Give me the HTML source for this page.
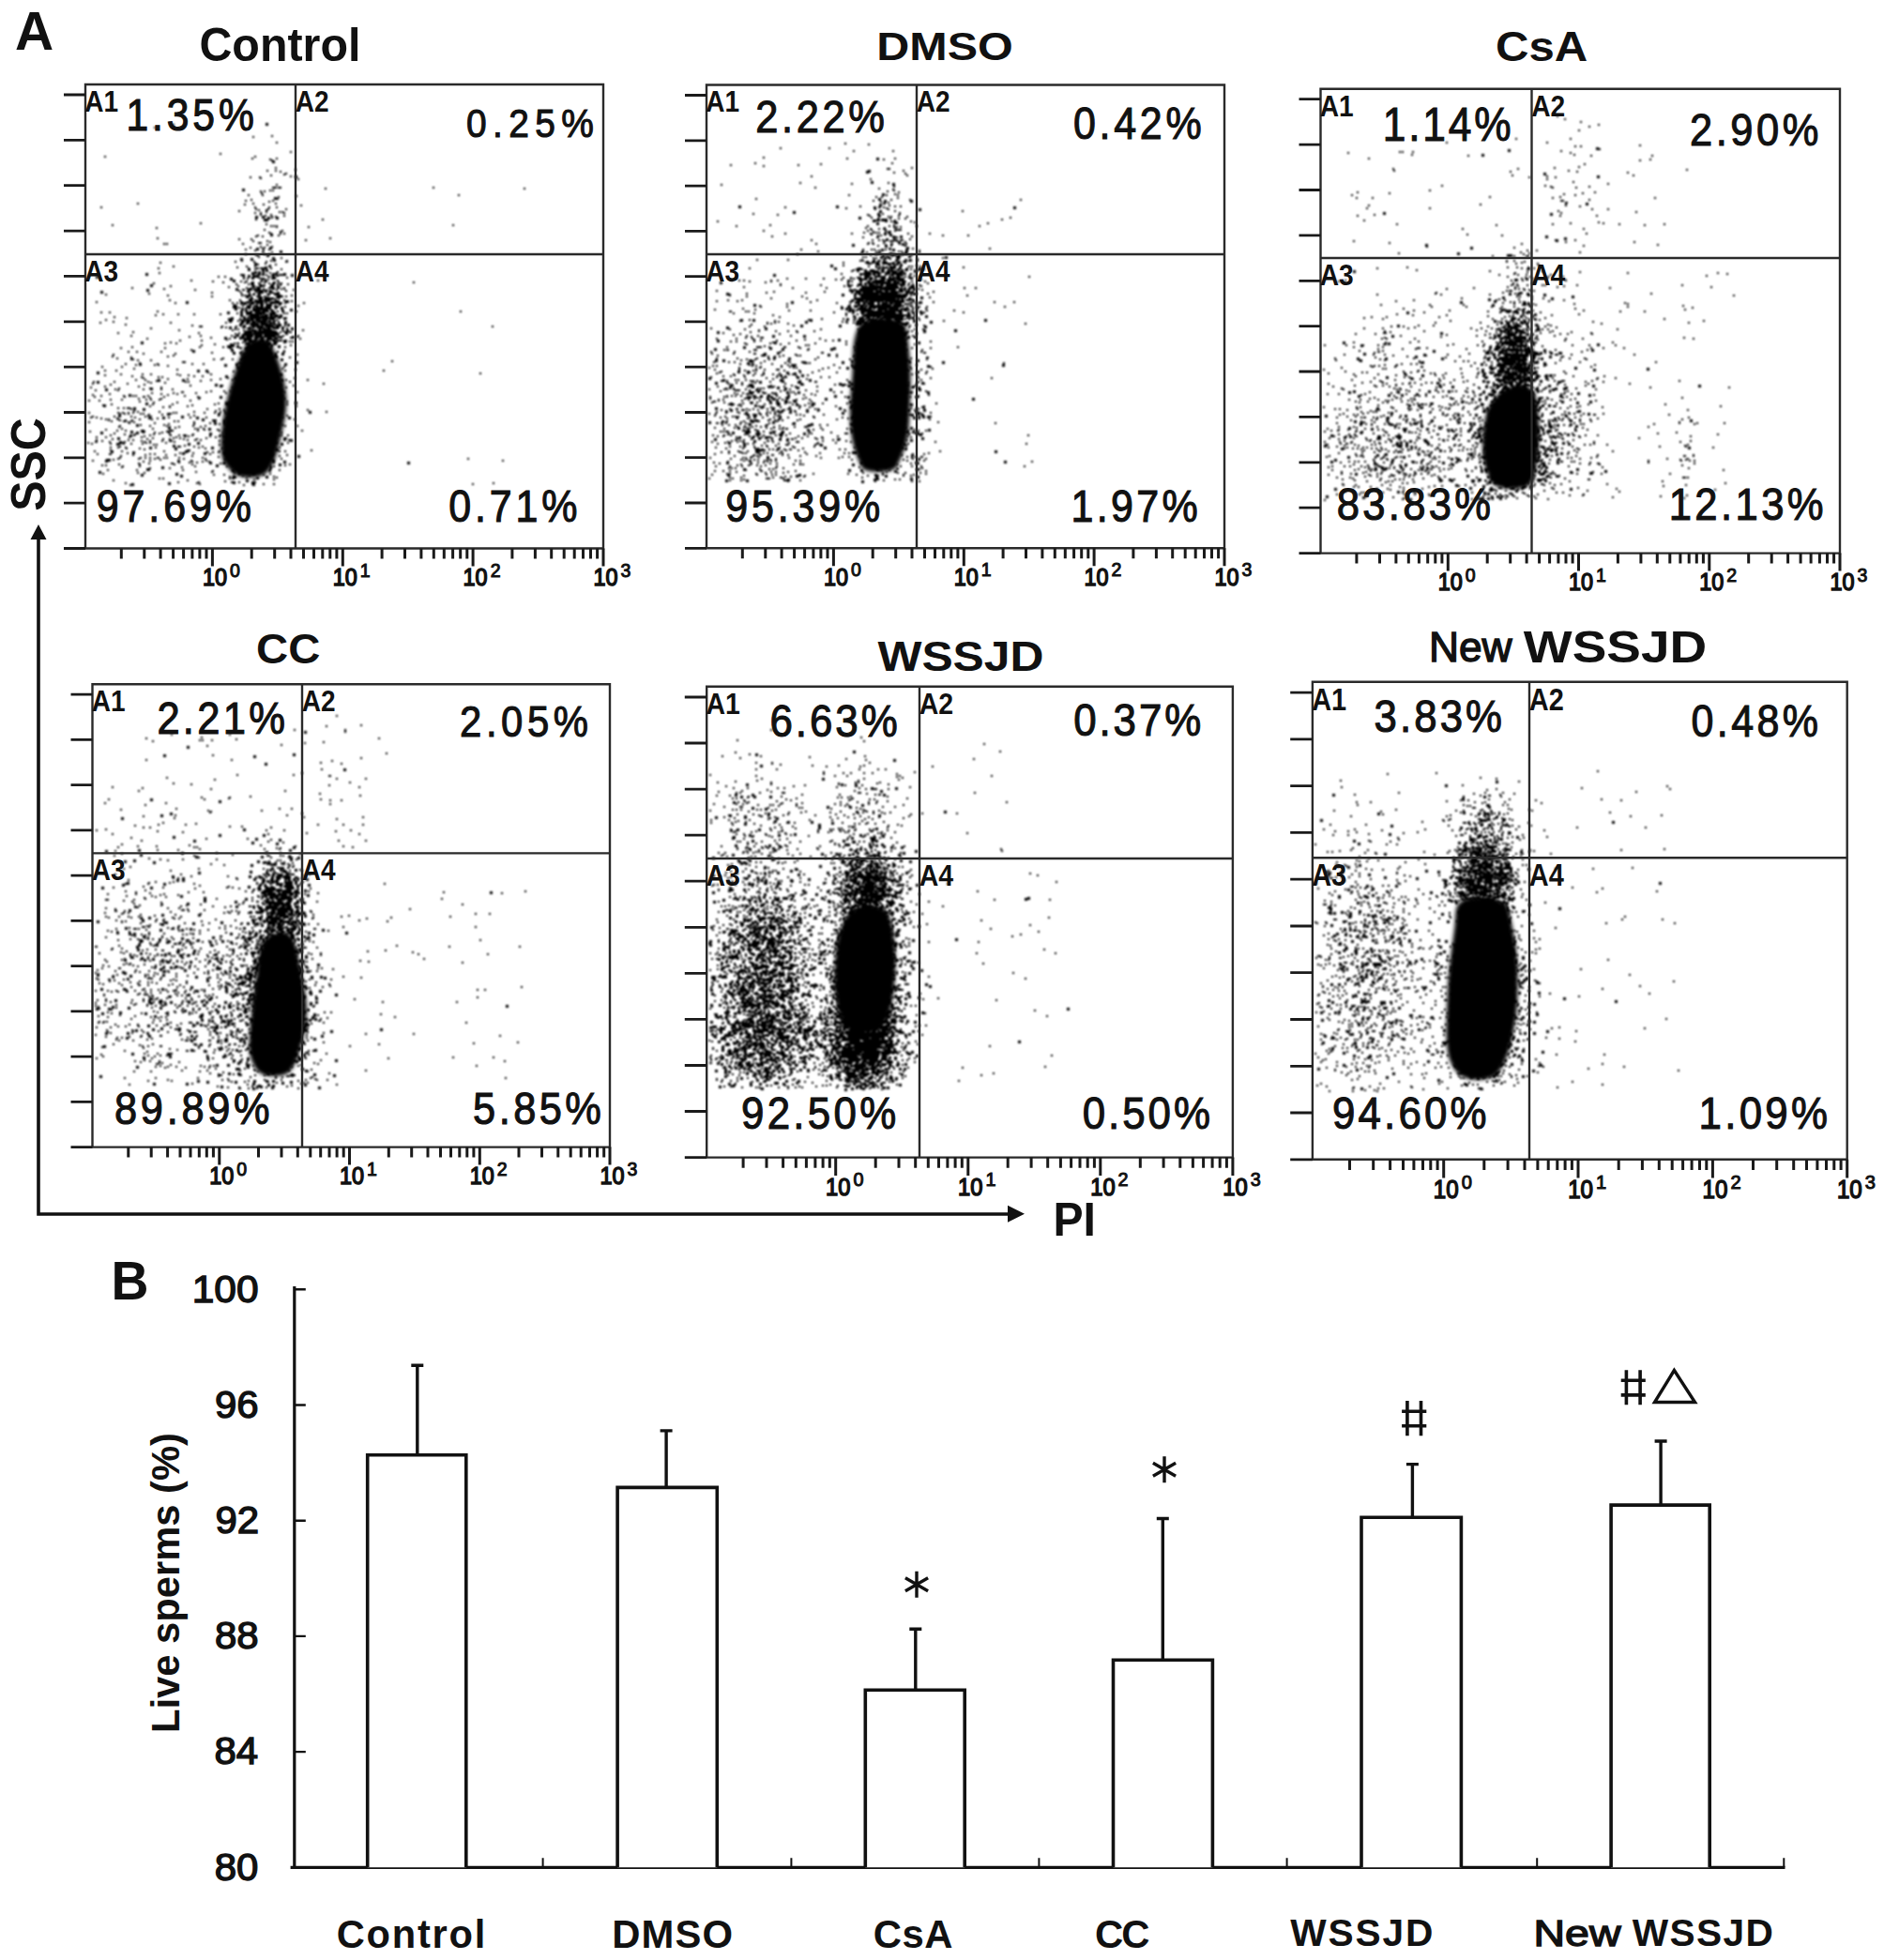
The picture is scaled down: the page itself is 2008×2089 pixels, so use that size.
<!DOCTYPE html>
<html><head><meta charset="utf-8"><style>
html,body{margin:0;padding:0;background:#fff;}
svg{display:block;}
text{font-family:"Liberation Sans",sans-serif;}
</style></head><body>
<svg width="2008" height="2089" viewBox="0 0 2008 2089">
<rect width="2008" height="2089" fill="#fff"/>
<defs><filter id="bl" x="-5%" y="-5%" width="110%" height="110%"><feGaussianBlur stdDeviation="1"/></filter><filter id="bl2" x="-20%" y="-20%" width="140%" height="140%"><feGaussianBlur stdDeviation="2.2"/></filter></defs>
<text x="16.1" y="52.5" font-size="56.81" font-weight="bold" textLength="41.2" lengthAdjust="spacingAndGlyphs" fill="#111">A</text>
<path d="M41 572V1294H1076" fill="none" stroke="#111" stroke-width="3.6"/>
<path d="M41 559L32.5 575H49.5Z M1092 1293.8L1074 1284.8V1302.8Z" fill="#111"/>
<text transform="translate(48.2,544.8) rotate(-90)" font-size="51" font-weight="bold" fill="#111" textLength="99.5" lengthAdjust="spacingAndGlyphs">SSC</text>
<text x="1122.4" y="1316.9" font-size="50.58" font-weight="bold" textLength="45.5" lengthAdjust="spacingAndGlyphs" fill="#111">PI</text>
<g filter="url(#bl2)"><path d="M260.5 373.5Q266 362 276.0 362.0Q286 362 291.0 373.5Q296 385 299.5 397.5Q303 410 304.0 421.5Q305 433 302.5 446.0Q300 459 297.0 471.5Q294 484 291.5 490.5Q289 497 284.0 502.5Q279 508 266.5 508.0Q254 508 248.0 502.5Q242 497 239.0 490.5Q236 484 236.5 471.5Q237 459 239.0 446.0Q241 433 244.0 421.5Q247 410 251.0 397.5Q255 385 260.5 373.5Z" fill="#000" stroke="#000" stroke-width="2"/></g><g filter="url(#bl)"><path d="M184 132h2v2h-2zm100 0h2v2h-2zm-120 3h2v2h-2zm125 9h2v2h-2zm-20 1h2v2h-2zm25 6h2v2h-2zm15 10h2v2h-2zm-75 2h2v2h-2zm-123 3h2v2h-2zm160 0h2v2h-2zm-3 2h2v2h-2zm26 0h2v2h-2zm-7 1h2v2h-2zm2 1h2v2h-2zm4 8h2v2h-2zm21 2h2v2h-2zm-30 1h2v2h-2zm9 0h2v2h-2zm5 1h2v2h-2zm6 2h2v2h-2zm-2 1h2v2h-2zm-14 1h2v2h-2zm21 1h2v2h-2zm-43 1h2v2h-2zm10 0h2v2h-2zm1 1h2v2h-2zm40 1h2v2h-2zm-23 6h2v2h-2zm-4 3h2v2h-2zm1 0h2v2h-2zm2 0h2v2h-2zm3 0h2v2h-2zm2 0h2v2h-2zm163 0h2v2h-2zm-115 1h2v2h-2zm212 0h2v2h-2zm-271 2h2v2h-2zm3 0h2v2h-2zm-13 1h2v2h-2zm4 0h2v2h-2zm-3 2h2v2h-2zm-14 2h2v2h-2zm15 0h2v2h-2zm209 0h2v2h-2zm-173 1h2v2h-2zm-19 1h2v2h-2zm-1 2h2v2h-2zm-28 1h2v2h-2zm-6 1h2v2h-2zm29 0h2v2h-2zm-4 1h2v2h-2zm-140 2h2v2h-2zm123 0h2v2h-2zm24 0h2v2h-2zm-33 1h2v2h-2zm20 0h2v2h-2zm40 1h2v2h-2zm-213 2h2v2h-2zm164 0h2v2h-2zm15 0h2v2h-2zm8 0h2v2h-2zm-22 2h2v2h-2zm13 0h2v2h-2zm19 0h2v2h-2zm-29 1h2v2h-2zm8 0h2v2h-2zm-29 1h2v2h-2zm29 1h2v2h-2zm14 0h2v2h-2zm3 0h2v2h-2zm-29 1h2v2h-2zm6 0h2v2h-2zm25 0h2v2h-2zm-25 2h2v2h-2zm11 0h2v2h-2zm-6 1h2v2h-2zm20 0h2v2h-2zm-22 1h2v2h-2zm9 0h2v2h-2zm4 0h2v2h-2zm-20 1h2v2h-2zm12 0h2v2h-2zm4 0h2v2h-2zm5 0h2v2h-2zm-22 2h2v2h-2zm71 0h2v2h-2zm-130 4h2v2h-2zm70 1h2v2h-2zm-164 1h2v2h-2zm363 0h2v2h-2zm-194 1h2v2h-2zm3 0h2v2h-2zm3 0h2v2h-2zm0 1h2v2h-2zm34 0h2v2h-2zm-162 1h2v2h-2zm115 2h2v2h-2zm19 1h2v2h-2zm-2 1h2v2h-2zm-12 1h2v2h-2zm2 1h2v2h-2zm10 0h2v2h-2zm4 0h2v2h-2zm-28 2h2v2h-2zm22 0h2v2h-2zm-24 1h2v2h-2zm7 0h2v2h-2zm-112 2h2v2h-2zm184 0h2v2h-2zm-97 1h2v2h-2zm13 0h2v2h-2zm58 1h2v2h-2zm-56 1h2v2h-2zm15 0h2v2h-2zm3 1h2v2h-2zm-12 1h2v2h-2zm2 0h2v2h-2zm-103 1h2v2h-2zm3 0h2v2h-2zm81 0h2v2h-2zm26 1h2v2h-2zm-7 2h2v2h-2zm12 0h2v2h-2zm-23 1h2v2h-2zm15 0h2v2h-2zm-2 1h2v2h-2zm-18 1h2v2h-2zm25 0h2v2h-2zm-15 1h2v2h-2zm9 0h2v2h-2zm-1 2h2v2h-2zm10 0h2v2h-2zm-28 2h2v2h-2zm20 0h2v2h-2zm5 0h2v2h-2zm-14 1h2v2h-2zm2 0h2v2h-2zm1 2h2v2h-2zm24 1h2v2h-2zm-31 1h2v2h-2zm-11 2h2v2h-2zm31 0h2v2h-2zm17 0h2v2h-2zm-55 1h2v2h-2zm20 0h2v2h-2zm13 0h2v2h-2zm21 0h2v2h-2zm1 0h2v2h-2zm-135 1h2v2h-2zm112 1h2v2h-2zm-8 1h2v2h-2zm19 0h2v2h-2zm-6 1h2v2h-2zm-103 1h2v2h-2zm78 0h2v2h-2zm9 0h2v2h-2zm15 0h2v2h-2zm1 0h2v2h-2zm-35 1h2v2h-2zm31 0h2v2h-2zm-115 1h2v2h-2zm96 0h2v2h-2zm9 0h2v2h-2zm1 0h2v2h-2zm3 0h2v2h-2zm11 0h2v2h-2zm-17 1h2v2h-2zm28 0h2v2h-2zm-28 3h2v2h-2zm24 0h2v2h-2zm-126 1h2v2h-2zm111 0h2v2h-2zm7 0h2v2h-2zm7 0h2v2h-2zm-4 1h2v2h-2zm2 0h2v2h-2zm-36 1h2v2h-2zm18 0h2v2h-2zm2 0h2v2h-2zm7 0h2v2h-2zm11 0h2v2h-2zm3 0h2v2h-2zm2 0h2v2h-2zm2 0h2v2h-2zm-32 1h2v2h-2zm2 0h2v2h-2zm18 0h2v2h-2zm5 0h2v2h-2zm1 0h2v2h-2zm-63 1h2v2h-2zm7 0h2v2h-2zm32 0h2v2h-2zm14 0h2v2h-2zm1 0h2v2h-2zm4 0h2v2h-2zm-31 1h2v2h-2zm16 0h2v2h-2zm30 0h2v2h-2zm-46 1h2v2h-2zm4 0h2v2h-2zm14 0h2v2h-2zm1 0h2v2h-2zm2 0h2v2h-2zm9 0h2v2h-2zm-10 1h2v2h-2zm3 0h2v2h-2zm3 0h2v2h-2zm-82 1h2v2h-2zm92 0h2v2h-2zm43 0h2v2h-2zm-112 1h2v2h-2zm23 0h2v2h-2zm7 0h2v2h-2zm6 0h2v2h-2zm15 0h2v2h-2zm1 0h2v2h-2zm4 0h2v2h-2zm1 0h2v2h-2zm-46 1h2v2h-2zm23 0h2v2h-2zm9 0h2v2h-2zm12 0h2v2h-2zm10 0h2v2h-2zm1 0h2v2h-2zm4 0h2v2h-2zm144 0h2v2h-2zm-277 1h2v2h-2zm112 0h2v2h-2zm11 0h2v2h-2zm4 0h2v2h-2zm9 0h2v2h-2zm-48 1h2v2h-2zm13 0h2v2h-2zm4 0h2v2h-2zm8 0h2v2h-2zm15 0h2v2h-2zm4 0h2v2h-2zm3 0h2v2h-2zm8 0h2v2h-2zm-30 1h2v2h-2zm5 0h2v2h-2zm7 0h2v2h-2zm10 0h2v2h-2zm-117 1h2v2h-2zm72 0h2v2h-2zm27 0h2v2h-2zm9 0h2v2h-2zm1 0h2v2h-2zm5 0h2v2h-2zm-52 1h2v2h-2zm30 0h2v2h-2zm-133 1h2v2h-2zm122 0h2v2h-2zm5 0h2v2h-2zm6 0h2v2h-2zm13 0h2v2h-2zm4 0h2v2h-2zm12 0h2v2h-2zm-128 1h2v2h-2zm91 0h2v2h-2zm5 0h2v2h-2zm10 0h2v2h-2zm19 0h2v2h-2zm3 0h2v2h-2zm-95 1h2v2h-2zm51 0h2v2h-2zm1 0h2v2h-2zm8 0h2v2h-2zm3 0h2v2h-2zm4 0h2v2h-2zm6 0h2v2h-2zm3 0h2v2h-2zm11 0h2v2h-2zm18 0h2v2h-2zm-58 1h2v2h-2zm20 0h2v2h-2zm4 0h2v2h-2zm8 0h2v2h-2zm2 0h2v2h-2zm16 0h2v2h-2zm-32 1h2v2h-2zm7 0h2v2h-2zm-54 1h2v2h-2zm31 0h2v2h-2zm9 0h2v2h-2zm12 0h2v2h-2zm2 0h2v2h-2zm11 0h2v2h-2zm-132 1h2v2h-2zm107 0h2v2h-2zm5 0h2v2h-2zm4 0h2v2h-2zm2 0h2v2h-2zm10 0h2v2h-2zm-174 1h2v2h-2zm145 0h2v2h-2zm12 0h2v2h-2zm1 0h2v2h-2zm6 0h2v2h-2zm8 0h2v2h-2zm2 0h2v2h-2zm8 0h2v2h-2zm-116 1h2v2h-2zm79 0h2v2h-2zm3 0h2v2h-2zm6 0h2v2h-2zm9 0h2v2h-2zm21 0h2v2h-2zm2 0h2v2h-2zm12 0h2v2h-2zm-85 1h2v2h-2zm48 0h2v2h-2zm8 0h2v2h-2zm14 0h2v2h-2zm4 0h2v2h-2zm1 0h2v2h-2zm4 0h2v2h-2zm-37 1h2v2h-2zm10 0h2v2h-2zm1 0h2v2h-2zm5 0h2v2h-2zm2 0h2v2h-2zm9 0h2v2h-2zm3 0h2v2h-2zm-29 1h2v2h-2zm8 0h2v2h-2zm2 0h2v2h-2zm4 0h2v2h-2zm2 0h2v2h-2zm2 0h2v2h-2zm2 0h2v2h-2zm2 0h2v2h-2zm6 0h2v2h-2zm-21 1h2v2h-2zm2 0h2v2h-2zm1 0h2v2h-2zm5 0h2v2h-2zm3 0h2v2h-2zm2 0h2v2h-2zm1 0h2v2h-2zm3 0h2v2h-2zm-112 1h2v2h-2zm64 0h2v2h-2zm11 0h2v2h-2zm16 0h2v2h-2zm1 0h2v2h-2zm10 0h2v2h-2zm2 0h2v2h-2zm1 0h2v2h-2zm8 0h2v2h-2zm9 0h2v2h-2zm-28 1h2v2h-2zm1 0h2v2h-2zm3 0h2v2h-2zm1 0h2v2h-2zm3 0h2v2h-2zm1 0h2v2h-2zm3 0h2v2h-2zm8 0h2v2h-2zm2 0h2v2h-2zm8 0h2v2h-2zm6 0h2v2h-2zm-208 1h2v2h-2zm154 0h2v2h-2zm6 0h2v2h-2zm1 0h2v2h-2zm6 0h2v2h-2zm3 0h2v2h-2zm5 0h2v2h-2zm1 0h2v2h-2zm10 0h2v2h-2zm7 0h2v2h-2zm-109 1h2v2h-2zm61 0h2v2h-2zm5 0h2v2h-2zm4 0h2v2h-2zm3 0h2v2h-2zm1 0h2v2h-2zm4 0h2v2h-2zm4 0h2v2h-2zm2 0h2v2h-2zm6 0h2v2h-2zm2 0h2v2h-2zm1 0h2v2h-2zm3 0h2v2h-2zm7 0h2v2h-2zm6 0h2v2h-2zm4 0h2v2h-2zm4 0h2v2h-2zm20 0h2v2h-2zm-67 1h2v2h-2zm3 0h2v2h-2zm7 0h2v2h-2zm13 0h2v2h-2zm5 0h2v2h-2zm3 0h2v2h-2zm-38 1h2v2h-2zm17 0h2v2h-2zm7 0h2v2h-2zm4 0h2v2h-2zm20 0h2v2h-2zm-49 1h2v2h-2zm10 0h2v2h-2zm6 0h2v2h-2zm6 0h2v2h-2zm2 0h2v2h-2zm5 0h2v2h-2zm6 0h2v2h-2zm9 0h2v2h-2zm25 0h2v2h-2zm-51 1h2v2h-2zm8 0h2v2h-2zm20 0h2v2h-2zm1 0h2v2h-2zm8 0h2v2h-2zm-49 1h2v2h-2zm8 0h2v2h-2zm2 0h2v2h-2zm5 0h2v2h-2zm6 0h2v2h-2zm4 0h2v2h-2zm-18 1h2v2h-2zm4 0h2v2h-2zm6 0h2v2h-2zm6 0h2v2h-2zm1 0h2v2h-2zm1 0h2v2h-2zm1 0h2v2h-2zm1 0h2v2h-2zm2 0h2v2h-2zm3 0h2v2h-2zm7 0h2v2h-2zm-21 1h2v2h-2zm11 0h2v2h-2zm5 0h2v2h-2zm-31 1h2v2h-2zm12 0h2v2h-2zm5 0h2v2h-2zm5 0h2v2h-2zm3 0h2v2h-2zm2 0h2v2h-2zm4 0h2v2h-2zm-121 1h2v2h-2zm89 0h2v2h-2zm5 0h2v2h-2zm10 0h2v2h-2zm1 0h2v2h-2zm1 0h2v2h-2zm6 0h2v2h-2zm4 0h2v2h-2zm2 0h2v2h-2zm10 0h2v2h-2zm20 0h2v2h-2zm175 0h2v2h-2zm-383 1h2v2h-2zm9 0h2v2h-2zm146 0h2v2h-2zm2 0h2v2h-2zm14 0h2v2h-2zm2 0h2v2h-2zm1 0h2v2h-2zm-29 1h2v2h-2zm20 0h2v2h-2zm2 0h2v2h-2zm2 0h2v2h-2zm2 0h2v2h-2zm2 0h2v2h-2zm7 0h2v2h-2zm2 0h2v2h-2zm13 0h2v2h-2zm3 0h2v2h-2zm-132 1h2v2h-2zm16 0h2v2h-2zm17 0h2v2h-2zm28 0h2v2h-2zm28 0h2v2h-2zm2 0h2v2h-2zm1 0h2v2h-2zm4 0h2v2h-2zm2 0h2v2h-2zm1 0h2v2h-2zm1 0h2v2h-2zm3 0h2v2h-2zm5 0h2v2h-2zm3 0h2v2h-2zm7 0h2v2h-2zm-126 1h2v2h-2zm105 0h2v2h-2zm2 0h2v2h-2zm6 0h2v2h-2zm4 0h2v2h-2zm5 0h2v2h-2zm8 0h2v2h-2zm-39 1h2v2h-2zm10 0h2v2h-2zm3 0h2v2h-2zm3 0h2v2h-2zm1 0h2v2h-2zm1 0h2v2h-2zm10 0h2v2h-2zm5 0h2v2h-2zm-168 1h2v2h-2zm138 0h2v2h-2zm1 0h2v2h-2zm4 0h2v2h-2zm1 0h2v2h-2zm1 0h2v2h-2zm7 0h2v2h-2zm2 0h2v2h-2zm4 0h2v2h-2zm3 0h2v2h-2zm2 0h2v2h-2zm15 0h2v2h-2zm-165 1h2v2h-2zm129 0h2v2h-2zm3 0h2v2h-2zm3 0h2v2h-2zm2 0h2v2h-2zm10 0h2v2h-2zm2 0h2v2h-2zm3 0h2v2h-2zm18 0h2v2h-2zm-49 1h2v2h-2zm17 0h2v2h-2zm1 0h2v2h-2zm2 0h2v2h-2zm8 0h2v2h-2zm1 0h2v2h-2zm3 0h2v2h-2zm1 0h2v2h-2zm-176 1h2v2h-2zm144 0h2v2h-2zm5 0h2v2h-2zm3 0h2v2h-2zm5 0h2v2h-2zm3 0h2v2h-2zm1 0h2v2h-2zm1 0h2v2h-2zm1 0h2v2h-2zm1 0h2v2h-2zm3 0h2v2h-2zm1 0h2v2h-2zm10 0h2v2h-2zm1 0h2v2h-2zm3 0h2v2h-2zm-41 1h2v2h-2zm4 0h2v2h-2zm2 0h2v2h-2zm4 0h2v2h-2zm1 0h2v2h-2zm8 0h2v2h-2zm8 0h2v2h-2zm6 0h2v2h-2zm1 0h2v2h-2zm-167 1h2v2h-2zm145 0h2v2h-2zm6 0h2v2h-2zm4 0h2v2h-2zm10 0h2v2h-2zm1 0h2v2h-2zm5 0h2v2h-2zm1 0h2v2h-2zm4 0h2v2h-2zm-190 1h2v2h-2zm75 0h2v2h-2zm59 0h2v2h-2zm22 0h2v2h-2zm20 0h2v2h-2zm5 0h2v2h-2zm3 0h2v2h-2zm-23 1h2v2h-2zm7 0h2v2h-2zm3 0h2v2h-2zm1 0h2v2h-2zm5 0h2v2h-2zm1 0h2v2h-2zm7 0h2v2h-2zm5 0h2v2h-2zm7 0h2v2h-2zm-170 1h2v2h-2zm122 0h2v2h-2zm11 0h2v2h-2zm2 0h2v2h-2zm2 0h2v2h-2zm2 0h2v2h-2zm1 0h2v2h-2zm6 0h2v2h-2zm1 0h2v2h-2zm3 0h2v2h-2zm3 0h2v2h-2zm1 0h2v2h-2zm5 0h2v2h-2zm1 0h2v2h-2zm10 0h2v2h-2zm-99 1h2v2h-2zm51 0h2v2h-2zm1 0h2v2h-2zm16 0h2v2h-2zm1 0h2v2h-2zm2 0h2v2h-2zm3 0h2v2h-2zm1 0h2v2h-2zm3 0h2v2h-2zm5 0h2v2h-2zm10 0h2v2h-2zm6 0h2v2h-2zm3 0h2v2h-2zm-94 1h2v2h-2zm2 0h2v2h-2zm22 0h2v2h-2zm15 0h2v2h-2zm9 0h2v2h-2zm8 0h2v2h-2zm2 0h2v2h-2zm5 0h2v2h-2zm4 0h2v2h-2zm3 0h2v2h-2zm1 0h2v2h-2zm2 0h2v2h-2zm4 0h2v2h-2zm235 0h2v2h-2zm-289 1h2v2h-2zm5 0h2v2h-2zm10 0h2v2h-2zm8 0h2v2h-2zm7 0h2v2h-2zm1 0h2v2h-2zm7 0h2v2h-2zm4 0h2v2h-2zm7 0h2v2h-2zm3 0h2v2h-2zm3 0h2v2h-2zm-130 1h2v2h-2zm103 0h2v2h-2zm12 0h2v2h-2zm15 0h2v2h-2zm15 0h2v2h-2zm-55 1h2v2h-2zm3 0h2v2h-2zm15 0h2v2h-2zm8 0h2v2h-2zm1 0h2v2h-2zm3 0h2v2h-2zm2 0h2v2h-2zm18 0h2v2h-2zm-110 1h2v2h-2zm57 0h2v2h-2zm12 0h2v2h-2zm6 0h2v2h-2zm4 0h2v2h-2zm3 0h2v2h-2zm4 0h2v2h-2zm5 0h2v2h-2zm4 0h2v2h-2zm3 0h2v2h-2zm34 0h2v2h-2zm-60 1h2v2h-2zm1 0h2v2h-2zm2 0h2v2h-2zm1 0h2v2h-2zm1 0h2v2h-2zm1 0h2v2h-2zm2 0h2v2h-2zm1 0h2v2h-2zm5 0h2v2h-2zm1 0h2v2h-2zm7 0h2v2h-2zm2 0h2v2h-2zm4 0h2v2h-2zm2 0h2v2h-2zm9 0h2v2h-2zm-160 1h2v2h-2zm126 0h2v2h-2zm6 0h2v2h-2zm9 0h2v2h-2zm2 0h2v2h-2zm9 0h2v2h-2zm1 0h2v2h-2zm4 0h2v2h-2zm5 0h2v2h-2zm5 0h2v2h-2zm1 0h2v2h-2zm-184 1h2v2h-2zm86 0h2v2h-2zm43 0h2v2h-2zm7 0h2v2h-2zm1 0h2v2h-2zm3 0h2v2h-2zm6 0h2v2h-2zm5 0h2v2h-2zm8 0h2v2h-2zm3 0h2v2h-2zm1 0h2v2h-2zm3 0h2v2h-2zm-41 1h2v2h-2zm14 0h2v2h-2zm5 0h2v2h-2zm7 0h2v2h-2zm10 0h2v2h-2zm10 0h2v2h-2zm-38 1h2v2h-2zm5 0h2v2h-2zm2 0h2v2h-2zm2 0h2v2h-2zm4 0h2v2h-2zm1 0h2v2h-2zm2 0h2v2h-2zm7 0h2v2h-2zm1 0h2v2h-2zm2 0h2v2h-2zm8 0h2v2h-2zm-153 1h2v2h-2zm74 0h2v2h-2zm33 0h2v2h-2zm7 0h2v2h-2zm4 0h2v2h-2zm21 0h2v2h-2zm3 0h2v2h-2zm1 0h2v2h-2zm2 0h2v2h-2zm1 0h2v2h-2zm2 0h2v2h-2zm4 0h2v2h-2zm10 0h2v2h-2zm16 0h2v2h-2zm-116 1h2v2h-2zm56 0h2v2h-2zm11 0h2v2h-2zm5 0h2v2h-2zm4 0h2v2h-2zm1 0h2v2h-2zm5 0h2v2h-2zm2 0h2v2h-2zm2 0h2v2h-2zm9 0h2v2h-2zm20 0h2v2h-2zm-92 1h2v2h-2zm34 0h2v2h-2zm4 0h2v2h-2zm12 0h2v2h-2zm3 0h2v2h-2zm3 0h2v2h-2zm13 0h2v2h-2zm2 0h2v2h-2zm14 0h2v2h-2zm-153 1h2v2h-2zm88 0h2v2h-2zm17 0h2v2h-2zm1 0h2v2h-2zm4 0h2v2h-2zm5 0h2v2h-2zm13 0h2v2h-2zm4 0h2v2h-2zm4 0h2v2h-2zm27 0h2v2h-2zm-78 1h2v2h-2zm18 0h2v2h-2zm1 0h2v2h-2zm6 0h2v2h-2zm1 0h2v2h-2zm12 0h2v2h-2zm7 0h2v2h-2zm5 0h2v2h-2zm1 0h2v2h-2zm-101 1h2v2h-2zm23 0h2v2h-2zm50 0h2v2h-2zm7 0h2v2h-2zm1 0h2v2h-2zm13 0h2v2h-2zm10 0h2v2h-2zm2 0h2v2h-2zm2 0h2v2h-2zm3 0h2v2h-2zm-37 1h2v2h-2zm1 0h2v2h-2zm1 0h2v2h-2zm3 0h2v2h-2zm1 0h2v2h-2zm1 0h2v2h-2zm11 0h2v2h-2zm10 0h2v2h-2zm15 0h2v2h-2zm3 0h2v2h-2zm-130 1h2v2h-2zm77 0h2v2h-2zm11 0h2v2h-2zm9 0h2v2h-2zm2 0h2v2h-2zm3 0h2v2h-2zm1 0h2v2h-2zm3 0h2v2h-2zm-112 1h2v2h-2zm12 0h2v2h-2zm62 0h2v2h-2zm3 0h2v2h-2zm1 0h2v2h-2zm16 0h2v2h-2zm13 0h2v2h-2zm4 0h2v2h-2zm-58 1h2v2h-2zm33 0h2v2h-2zm14 0h2v2h-2zm10 0h2v2h-2zm1 0h2v2h-2zm1 0h2v2h-2zm4 0h2v2h-2zm-77 1h2v2h-2zm58 0h2v2h-2zm3 0h2v2h-2zm10 0h2v2h-2zm24 0h2v2h-2zm-62 1h2v2h-2zm20 0h2v2h-2zm3 0h2v2h-2zm1 0h2v2h-2zm3 0h2v2h-2zm3 0h2v2h-2zm2 0h2v2h-2zm2 0h2v2h-2zm3 0h2v2h-2zm-144 1h2v2h-2zm72 0h2v2h-2zm25 0h2v2h-2zm29 0h2v2h-2zm3 0h2v2h-2zm34 0h2v2h-2zm-175 1h2v2h-2zm47 0h2v2h-2zm69 0h2v2h-2zm11 0h2v2h-2zm1 0h2v2h-2zm13 0h2v2h-2zm2 0h2v2h-2zm17 0h2v2h-2zm-42 1h2v2h-2zm19 0h2v2h-2zm9 0h2v2h-2zm-71 1h2v2h-2zm59 0h2v2h-2zm25 0h2v2h-2zm-40 1h2v2h-2zm25 0h2v2h-2zm4 0h2v2h-2zm26 0h2v2h-2zm-166 1h2v2h-2zm9 0h2v2h-2zm26 0h2v2h-2zm86 0h2v2h-2zm6 0h2v2h-2zm6 0h2v2h-2zm7 0h2v2h-2zm2 0h2v2h-2zm8 0h2v2h-2zm9 0h2v2h-2zm7 0h2v2h-2zm-77 1h2v2h-2zm30 0h2v2h-2zm11 0h2v2h-2zm7 0h2v2h-2zm7 0h2v2h-2zm2 0h2v2h-2zm19 0h2v2h-2zm-149 1h2v2h-2zm34 0h2v2h-2zm70 0h2v2h-2zm29 0h2v2h-2zm3 0h2v2h-2zm-168 1h2v2h-2zm151 0h2v2h-2zm5 0h2v2h-2zm3 0h2v2h-2zm37 0h2v2h-2zm-132 1h2v2h-2zm73 0h2v2h-2zm-138 1h2v2h-2zm59 0h2v2h-2zm113 0h2v2h-2zm-152 1h2v2h-2zm151 0h2v2h-2zm18 0h2v2h-2zm-184 1h2v2h-2zm113 0h2v2h-2zm-98 1h2v2h-2zm2 0h2v2h-2zm86 0h2v2h-2zm8 0h2v2h-2zm12 0h2v2h-2zm39 0h2v2h-2zm-140 1h2v2h-2zm14 0h2v2h-2zm103 0h2v2h-2zm23 1h2v2h-2zm131 0h2v2h-2zm-223 1h2v2h-2zm2 0h2v2h-2zm-48 1h2v2h-2zm106 0h2v2h-2zm2 0h2v2h-2zm5 0h2v2h-2zm-128 1h2v2h-2zm34 0h2v2h-2zm37 0h2v2h-2zm12 0h2v2h-2zm-72 1h2v2h-2zm20 0h2v2h-2zm4 0h2v2h-2zm90 0h2v2h-2zm45 0h2v2h-2zm-125 1h2v2h-2zm114 0h2v2h-2zm-184 1h2v2h-2zm21 0h2v2h-2zm123 0h2v2h-2zm50 0h2v2h-2zm-11 1h2v2h-2zm-149 1h2v2h-2zm158 0h2v2h-2zm-112 1h2v2h-2zm126 0h2v2h-2zm-203 1h2v2h-2zm12 0h2v2h-2zm180 0h2v2h-2zm105 0h2v2h-2zm-160 1h2v2h-2zm9 0h2v2h-2zm-36 1h2v2h-2zm34 0h2v2h-2zm256 1h2v2h-2zm-383 1h2v2h-2zm23 0h2v2h-2zm9 0h2v2h-2zm28 0h2v2h-2zm36 0h2v2h-2zm-113 1h2v2h-2zm80 0h2v2h-2zm9 0h2v2h-2zm-60 1h2v2h-2zm66 0h2v2h-2zm9 0h2v2h-2zm-65 1h2v2h-2zm18 0h2v2h-2zm4 0h2v2h-2zm-20 1h2v2h-2zm90 0h2v2h-2zm71 0h2v2h-2zm-135 1h2v2h-2zm21 0h2v2h-2zm35 0h2v2h-2zm-90 1h2v2h-2zm10 0h2v2h-2zm70 0h2v2h-2zm23 0h2v2h-2zm57 0h2v2h-2zm23 0h2v2h-2zm-161 1h2v2h-2zm3 0h2v2h-2zm44 0h2v2h-2zm-114 1h2v2h-2zm22 0h2v2h-2zm36 0h2v2h-2zm40 0h2v2h-2zm3 0h2v2h-2zm53 0h2v2h-2zm42 0h2v2h-2zm13 0h2v2h-2zm-148 1h2v2h-2zm15 0h2v2h-2zm-77 1h2v2h-2zm37 0h2v2h-2zm209 0h2v2h-2zm-227 1h2v2h-2zm36 0h2v2h-2zm145 0h2v2h-2zm-96 1h2v2h-2zm34 0h2v2h-2zm76 0h2v2h-2zm-201 1h2v2h-2zm36 0h2v2h-2zm105 0h2v2h-2zm-156 1h2v2h-2zm75 0h2v2h-2zm76 0h2v2h-2zm57 0h2v2h-2zm-178 1h2v2h-2zm33 0h2v2h-2zm93 0h2v2h-2zm-130 1h2v2h-2zm30 0h2v2h-2zm19 0h2v2h-2zm12 0h2v2h-2zm-82 1h2v2h-2zm24 0h2v2h-2zm172 0h2v2h-2zm-73 1h2v2h-2zm14 0h2v2h-2zm7 0h2v2h-2zm-52 1h2v2h-2zm1 0h2v2h-2zm25 0h2v2h-2zm83 0h2v2h-2zm14 0h2v2h-2zm-155 1h2v2h-2zm23 0h2v2h-2zm24 0h2v2h-2zm32 0h2v2h-2zm-124 1h2v2h-2zm55 0h2v2h-2zm17 0h2v2h-2zm-90 1h2v2h-2zm80 0h2v2h-2zm-71 1h2v2h-2zm24 0h2v2h-2zm10 0h2v2h-2zm3 0h2v2h-2zm13 0h2v2h-2zm39 0h2v2h-2zm104 0h2v2h-2zm-200 1h2v2h-2zm32 0h2v2h-2zm20 0h2v2h-2zm1 0h2v2h-2zm21 0h2v2h-2zm36 0h2v2h-2zm25 0h2v2h-2zm-76 1h2v2h-2zm53 0h2v2h-2zm34 0h2v2h-2zm-99 1h2v2h-2zm24 0h2v2h-2zm40 0h2v2h-2zm91 0h2v2h-2zm-185 1h2v2h-2zm12 0h2v2h-2zm26 0h2v2h-2zm5 0h2v2h-2zm9 0h2v2h-2zm-75 1h2v2h-2zm11 0h2v2h-2zm97 0h2v2h-2zm-54 1h2v2h-2zm157 0h2v2h-2zm-142 1h2v2h-2zm25 0h2v2h-2zm52 0h2v2h-2zm-8 1h2v2h-2zm8 0h2v2h-2zm-122 1h2v2h-2zm44 0h2v2h-2zm21 0h2v2h-2zm45 0h2v2h-2zm77 0h2v2h-2zm-196 1h2v2h-2zm95 0h2v2h-2zm38 0h2v2h-2zm-83 1h2v2h-2zm21 0h2v2h-2zm19 0h2v2h-2zm45 0h2v2h-2zm3 0h2v2h-2zm52 0h2v2h-2zm16 0h2v2h-2zm-142 1h2v2h-2zm7 0h2v2h-2zm-55 1h2v2h-2zm6 0h2v2h-2zm4 0h2v2h-2zm1 0h2v2h-2zm1 0h2v2h-2zm5 0h2v2h-2zm-3 1h2v2h-2zm81 0h2v2h-2zm13 0h2v2h-2zm5 1h2v2h-2zm61 0h2v2h-2zm28 0h2v2h-2zm-185 1h2v2h-2zm87 0h2v2h-2zm17 0h2v2h-2zm-100 1h2v2h-2zm23 0h2v2h-2zm37 0h2v2h-2zm28 0h2v2h-2zm5 0h2v2h-2zm108 0h2v2h-2zm-253 1h2v2h-2zm31 0h2v2h-2zm5 0h2v2h-2zm6 0h2v2h-2zm5 0h2v2h-2zm43 0h2v2h-2zm3 0h2v2h-2zm30 0h2v2h-2zm11 0h2v2h-2zm-101 1h2v2h-2zm5 0h2v2h-2zm4 0h2v2h-2zm13 0h2v2h-2zm3 0h2v2h-2zm29 0h2v2h-2zm59 0h2v2h-2zm3 0h2v2h-2zm56 0h2v2h-2zm-141 1h2v2h-2zm14 0h2v2h-2zm28 0h2v2h-2zm-43 1h2v2h-2zm49 0h2v2h-2zm26 0h2v2h-2zm73 0h2v2h-2zm-207 1h2v2h-2zm23 0h2v2h-2zm18 0h2v2h-2zm15 0h2v2h-2zm6 0h2v2h-2zm-64 1h2v2h-2zm6 0h2v2h-2zm41 0h2v2h-2zm36 0h2v2h-2zm23 0h2v2h-2zm17 0h2v2h-2zm81 0h2v2h-2zm-193 1h2v2h-2zm17 0h2v2h-2zm43 0h2v2h-2zm74 0h2v2h-2zm2 0h2v2h-2zm-131 1h2v2h-2zm3 0h2v2h-2zm10 0h2v2h-2zm23 0h2v2h-2zm13 0h2v2h-2zm152 0h2v2h-2zm-198 1h2v2h-2zm12 0h2v2h-2zm6 0h2v2h-2zm7 0h2v2h-2zm86 0h2v2h-2zm2 0h2v2h-2zm1 0h2v2h-2zm-111 1h2v2h-2zm13 0h2v2h-2zm2 0h2v2h-2zm6 0h2v2h-2zm46 0h2v2h-2zm4 0h2v2h-2zm-95 1h2v2h-2zm42 0h2v2h-2zm6 0h2v2h-2zm64 0h2v2h-2zm-69 1h2v2h-2zm27 0h2v2h-2zm59 0h2v2h-2zm-44 1h2v2h-2zm27 0h2v2h-2zm22 0h2v2h-2zm5 0h2v2h-2zm10 0h2v2h-2zm-94 1h2v2h-2zm25 0h2v2h-2zm65 0h2v2h-2zm61 0h2v2h-2zm-173 1h2v2h-2zm32 0h2v2h-2zm18 0h2v2h-2zm28 0h2v2h-2zm13 0h2v2h-2zm85 0h2v2h-2zm13 0h2v2h-2zm-190 1h2v2h-2zm54 0h2v2h-2zm10 0h2v2h-2zm23 0h2v2h-2zm-27 1h2v2h-2zm-57 1h2v2h-2zm33 0h2v2h-2zm45 0h2v2h-2zm3 0h2v2h-2zm6 0h2v2h-2zm80 0h2v2h-2zm-184 1h2v2h-2zm105 0h2v2h-2zm14 0h2v2h-2zm8 0h2v2h-2zm-115 1h2v2h-2zm9 0h2v2h-2zm17 0h2v2h-2zm2 0h2v2h-2zm29 0h2v2h-2zm2 0h2v2h-2zm27 0h2v2h-2zm23 0h2v2h-2zm88 0h2v2h-2zm-226 1h2v2h-2zm55 0h2v2h-2zm3 0h2v2h-2zm24 0h2v2h-2zm2 0h2v2h-2zm1 0h2v2h-2zm61 0h2v2h-2zm-89 1h2v2h-2zm12 0h2v2h-2zm8 0h2v2h-2zm7 0h2v2h-2zm58 0h2v2h-2zm62 0h2v2h-2zm-178 1h2v2h-2zm48 0h2v2h-2zm55 0h2v2h-2zm-92 1h2v2h-2zm11 0h2v2h-2zm20 0h2v2h-2zm17 0h2v2h-2zm25 0h2v2h-2zm-88 1h2v2h-2zm25 0h2v2h-2zm17 0h2v2h-2zm22 0h2v2h-2zm9 0h2v2h-2zm5 0h2v2h-2zm2 0h2v2h-2zm7 0h2v2h-2zm30 0h2v2h-2zm3 0h2v2h-2zm59 0h2v2h-2zm3 0h2v2h-2zm7 0h2v2h-2zm-153 1h2v2h-2zm47 0h2v2h-2zm23 0h2v2h-2zm10 0h2v2h-2zm-131 1h2v2h-2zm10 0h2v2h-2zm25 0h2v2h-2zm13 0h2v2h-2zm37 0h2v2h-2zm42 0h2v2h-2zm9 0h2v2h-2zm3 0h2v2h-2zm-79 1h2v2h-2zm22 0h2v2h-2zm7 0h2v2h-2zm28 0h2v2h-2zm85 0h2v2h-2zm-185 1h2v2h-2zm37 0h2v2h-2zm17 0h2v2h-2zm7 0h2v2h-2zm15 0h2v2h-2zm14 0h2v2h-2zm-107 1h2v2h-2zm34 0h2v2h-2zm5 0h2v2h-2zm58 0h2v2h-2zm8 0h2v2h-2zm6 0h2v2h-2zm94 0h2v2h-2zm2 0h2v2h-2zm1 0h2v2h-2zm-202 1h2v2h-2zm42 0h2v2h-2zm9 0h2v2h-2zm13 0h2v2h-2zm8 0h2v2h-2zm2 0h2v2h-2zm51 0h2v2h-2zm-132 1h2v2h-2zm1 0h2v2h-2zm14 0h2v2h-2zm16 0h2v2h-2zm21 0h2v2h-2zm32 0h2v2h-2zm53 0h2v2h-2zm2 0h2v2h-2zm-147 1h2v2h-2zm37 0h2v2h-2zm25 0h2v2h-2zm4 0h2v2h-2zm17 0h2v2h-2zm116 0h2v2h-2zm2 0h2v2h-2zm12 0h2v2h-2zm-209 1h2v2h-2zm20 0h2v2h-2zm10 0h2v2h-2zm4 0h2v2h-2zm8 0h2v2h-2zm12 0h2v2h-2zm12 1h2v2h-2zm3 0h2v2h-2zm67 0h2v2h-2zm-37 1h2v2h-2zm-69 1h2v2h-2zm57 0h2v2h-2zm5 0h2v2h-2zm2 0h2v2h-2zm15 0h2v2h-2zm9 0h2v2h-2zm-98 1h2v2h-2zm8 0h2v2h-2zm8 0h2v2h-2zm32 0h2v2h-2zm46 0h2v2h-2zm86 0h2v2h-2zm-163 1h2v2h-2zm14 0h2v2h-2zm39 0h2v2h-2zm31 0h2v2h-2zm18 0h2v2h-2zm57 0h2v2h-2zm-140 1h2v2h-2zm88 0h2v2h-2zm-124 1h2v2h-2zm84 0h2v2h-2zm94 0h2v2h-2zm36 0h2v2h-2zm-231 1h2v2h-2zm29 0h2v2h-2zm45 0h2v2h-2zm24 0h2v2h-2zm35 0h2v2h-2zm11 0h2v2h-2zm53 0h2v2h-2zm6 0h2v2h-2zm-83 1h2v2h-2zm6 0h2v2h-2zm6 0h2v2h-2zm10 0h2v2h-2zm-107 1h2v2h-2zm56 0h2v2h-2zm14 0h2v2h-2zm36 0h2v2h-2zm2 0h2v2h-2zm-140 1h2v2h-2zm13 0h2v2h-2zm1 0h2v2h-2zm42 0h2v2h-2zm5 0h2v2h-2zm59 0h2v2h-2zm67 0h2v2h-2zm-149 1h2v2h-2zm13 0h2v2h-2zm22 0h2v2h-2zm10 0h2v2h-2zm61 0h2v2h-2zm58 0h2v2h-2zm-177 1h2v2h-2zm76 0h2v2h-2zm37 0h2v2h-2zm56 0h2v2h-2zm-65 1h2v2h-2zm85 0h2v2h-2zm-190 1h2v2h-2zm22 0h2v2h-2zm5 0h2v2h-2zm5 0h2v2h-2zm8 0h2v2h-2zm1 0h2v2h-2zm6 0h2v2h-2zm3 0h2v2h-2zm13 0h2v2h-2zm25 0h2v2h-2zm-90 1h2v2h-2zm22 0h2v2h-2zm17 0h2v2h-2zm31 0h2v2h-2zm23 0h2v2h-2zm21 0h2v2h-2zm6 0h2v2h-2zm43 0h2v2h-2zm11 0h2v2h-2zm199 0h2v2h-2zm-385 1h2v2h-2zm7 0h2v2h-2zm50 0h2v2h-2zm69 0h2v2h-2zm51 0h2v2h-2zm-192 1h2v2h-2zm61 0h2v2h-2zm44 0h2v2h-2zm16 0h2v2h-2zm72 0h2v2h-2zm244 0h2v2h-2zm-383 1h2v2h-2zm52 0h2v2h-2zm11 0h2v2h-2zm7 0h2v2h-2zm67 0h2v2h-2zm-99 1h2v2h-2zm11 0h2v2h-2zm8 0h2v2h-2zm73 0h2v2h-2zm9 0h2v2h-2zm-144 1h2v2h-2zm11 0h2v2h-2zm24 0h2v2h-2zm1 0h2v2h-2zm51 0h2v2h-2zm3 0h2v2h-2zm13 0h2v2h-2zm3 0h2v2h-2zm26 0h2v2h-2zm-153 1h2v2h-2zm22 0h2v2h-2zm37 0h2v2h-2zm19 0h2v2h-2zm51 0h2v2h-2zm53 0h2v2h-2zm-200 1h2v2h-2zm4 0h2v2h-2zm175 0h2v2h-2zm16 0h2v2h-2zm-173 1h2v2h-2zm18 0h2v2h-2zm59 0h2v2h-2zm34 0h2v2h-2zm12 0h2v2h-2zm3 0h2v2h-2zm23 0h2v2h-2zm8 0h2v2h-2zm4 0h2v2h-2zm-162 1h2v2h-2zm64 0h2v2h-2zm73 0h2v2h-2zm5 0h2v2h-2zm-112 1h2v2h-2zm14 0h2v2h-2zm7 0h2v2h-2zm71 0h2v2h-2zm10 0h2v2h-2zm18 1h2v2h-2zm-165 1h2v2h-2zm31 0h2v2h-2zm13 0h2v2h-2zm36 0h2v2h-2zm103 0h2v2h-2zm-71 1h2v2h-2zm34 0h2v2h-2zm4 0h2v2h-2zm1 0h2v2h-2zm-57 1h2v2h-2zm17 0h2v2h-2zm-79 1h2v2h-2zm7 0h2v2h-2zm96 0h2v2h-2zm-140 1h2v2h-2zm178 0h2v2h-2zm-60 1h2v2h-2zm11 0h2v2h-2zm42 0h2v2h-2zm-32 1h2v2h-2zm10 0h2v2h-2zm7 0h2v2h-2zm-21 1h2v2h-2zm47 0h2v2h-2zm-29 1h2v2h-2zm11 0h2v2h-2zm21 0h2v2h-2zm-125 1h2v2h-2zm4 0h2v2h-2zm71 0h2v2h-2zm26 1h2v2h-2zm21 0h2v2h-2zm-171 1h2v2h-2zm79 0h2v2h-2zm40 1h2v2h-2zm-50 1h2v2h-2zm22 0h2v2h-2zm35 0h2v2h-2zm8 0h2v2h-2zm17 0h2v2h-2zm-138 1h2v2h-2zm76 0h2v2h-2zm316 0h2v2h-2zm-313 1h2v2h-2zm56 0h2v2h-2zm12 0h2v2h-2zm11 0h2v2h-2zm212 0h2v2h-2zm-365 1h2v2h-2zm121 0h2v2h-2z" fill="#000"/><path d="M283 131h3v3h-3zm7 40h3v3h-3zm24 16h3v3h-3zm-56 14h3v3h-3zm34 9h3v3h-3zm-20 20h3v3h-3zm7 0h3v3h-3zm6 1h3v3h-3zm9 0h3v3h-3zm-13 2h3v3h-3zm2 0h3v3h-3zm5 16h3v3h-3zm-1 14h3v3h-3zm-14 1h3v3h-3zm25 3h3v3h-3zm-14 4h3v3h-3zm6 3h3v3h-3zm-34 1h3v3h-3zm11 0h3v3h-3zm24 1h3v3h-3zm-20 4h3v3h-3zm11 4h3v3h-3zm-3 1h3v3h-3zm-15 1h3v3h-3zm15 1h3v3h-3zm4 0h3v3h-3zm-12 2h3v3h-3zm4 0h3v3h-3zm-7 1h3v3h-3zm-113 1h3v3h-3zm124 0h3v3h-3zm23 0h3v3h-3zm-44 1h3v3h-3zm32 0h3v3h-3zm20 0h3v3h-3zm-46 1h3v3h-3zm9 0h3v3h-3zm-171 1h3v3h-3zm166 1h3v3h-3zm23 0h3v3h-3zm-46 1h3v3h-3zm3 2h3v3h-3zm20 2h3v3h-3zm-1 1h3v3h-3zm1 1h3v3h-3zm-108 1h3v3h-3zm116 0h3v3h-3zm1 0h3v3h-3zm11 0h3v3h-3zm-19 1h3v3h-3zm19 1h3v3h-3zm7 0h3v3h-3zm-20 1h3v3h-3zm15 0h3v3h-3zm-39 1h3v3h-3zm13 0h3v3h-3zm11 0h3v3h-3zm-119 1h3v3h-3zm116 0h3v3h-3zm-9 1h3v3h-3zm19 0h3v3h-3zm-175 1h3v3h-3zm168 0h3v3h-3zm12 0h3v3h-3zm8 1h3v3h-3zm-3 1h3v3h-3zm-29 2h3v3h-3zm-1 1h3v3h-3zm13 0h3v3h-3zm8 1h3v3h-3zm-16 1h3v3h-3zm-2 1h3v3h-3zm16 0h3v3h-3zm-16 1h3v3h-3zm1 0h3v3h-3zm18 0h3v3h-3zm1 0h3v3h-3zm-8 1h3v3h-3zm28 0h3v3h-3zm-107 1h3v3h-3zm58 0h3v3h-3zm17 0h3v3h-3zm17 0h3v3h-3zm3 0h3v3h-3zm-33 1h3v3h-3zm7 0h3v3h-3zm30 0h3v3h-3zm-13 2h3v3h-3zm3 0h3v3h-3zm-37 1h3v3h-3zm13 0h3v3h-3zm15 0h3v3h-3zm8 0h3v3h-3zm6 0h3v3h-3zm-44 1h3v3h-3zm24 0h3v3h-3zm2 1h3v3h-3zm2 0h3v3h-3zm1 0h3v3h-3zm5 0h3v3h-3zm2 0h3v3h-3zm2 0h3v3h-3zm13 0h3v3h-3zm-49 1h3v3h-3zm7 0h3v3h-3zm12 0h3v3h-3zm9 0h3v3h-3zm2 0h3v3h-3zm-1 1h3v3h-3zm30 0h3v3h-3zm-48 1h3v3h-3zm10 0h3v3h-3zm2 0h3v3h-3zm1 0h3v3h-3zm1 0h3v3h-3zm5 0h3v3h-3zm9 0h3v3h-3zm11 0h3v3h-3zm-34 1h3v3h-3zm-24 1h3v3h-3zm14 0h3v3h-3zm35 0h3v3h-3zm-26 1h3v3h-3zm9 0h3v3h-3zm-6 1h3v3h-3zm1 0h3v3h-3zm1 0h3v3h-3zm-14 1h3v3h-3zm18 0h3v3h-3zm7 0h3v3h-3zm7 0h3v3h-3zm5 0h3v3h-3zm5 0h3v3h-3zm-18 1h3v3h-3zm1 0h3v3h-3zm11 0h3v3h-3zm-25 1h3v3h-3zm1 0h3v3h-3zm2 0h3v3h-3zm3 0h3v3h-3zm3 0h3v3h-3zm11 0h3v3h-3zm3 0h3v3h-3zm6 0h3v3h-3zm-50 1h3v3h-3zm56 0h3v3h-3zm-59 1h3v3h-3zm16 0h3v3h-3zm7 0h3v3h-3zm6 0h3v3h-3zm7 0h3v3h-3zm-34 1h3v3h-3zm17 0h3v3h-3zm19 0h3v3h-3zm1 0h3v3h-3zm-38 1h3v3h-3zm14 0h3v3h-3zm5 0h3v3h-3zm5 0h3v3h-3zm6 0h3v3h-3zm3 0h3v3h-3zm3 0h3v3h-3zm-23 1h3v3h-3zm6 0h3v3h-3zm7 0h3v3h-3zm33 0h3v3h-3zm-47 1h3v3h-3zm6 0h3v3h-3zm6 0h3v3h-3zm13 0h3v3h-3zm6 0h3v3h-3zm-18 1h3v3h-3zm3 0h3v3h-3zm7 0h3v3h-3zm8 0h3v3h-3zm-15 1h3v3h-3zm1 0h3v3h-3zm9 0h3v3h-3zm4 0h3v3h-3zm11 0h3v3h-3zm9 0h3v3h-3zm-47 1h3v3h-3zm25 0h3v3h-3zm2 0h3v3h-3zm3 0h3v3h-3zm5 0h3v3h-3zm-35 1h3v3h-3zm10 0h3v3h-3zm5 0h3v3h-3zm3 0h3v3h-3zm1 0h3v3h-3zm8 0h3v3h-3zm9 0h3v3h-3zm-51 1h3v3h-3zm21 0h3v3h-3zm13 0h3v3h-3zm6 0h3v3h-3zm8 0h3v3h-3zm2 0h3v3h-3zm6 0h3v3h-3zm-20 1h3v3h-3zm6 0h3v3h-3zm24 0h3v3h-3zm-28 1h3v3h-3zm-11 1h3v3h-3zm4 0h3v3h-3zm1 0h3v3h-3zm5 0h3v3h-3zm24 0h3v3h-3zm-42 1h3v3h-3zm1 0h3v3h-3zm6 0h3v3h-3zm7 0h3v3h-3zm2 0h3v3h-3zm-19 1h3v3h-3zm17 0h3v3h-3zm3 0h3v3h-3zm2 0h3v3h-3zm5 0h3v3h-3zm-25 1h3v3h-3zm9 0h3v3h-3zm2 0h3v3h-3zm8 0h3v3h-3zm2 0h3v3h-3zm1 0h3v3h-3zm2 0h3v3h-3zm3 0h3v3h-3zm4 0h3v3h-3zm11 0h3v3h-3zm-45 1h3v3h-3zm8 0h3v3h-3zm19 0h3v3h-3zm2 0h3v3h-3zm6 0h3v3h-3zm-42 1h3v3h-3zm11 0h3v3h-3zm2 0h3v3h-3zm10 0h3v3h-3zm2 0h3v3h-3zm-19 1h3v3h-3zm4 0h3v3h-3zm3 0h3v3h-3zm1 0h3v3h-3zm5 0h3v3h-3zm5 0h3v3h-3zm5 0h3v3h-3zm2 0h3v3h-3zm6 0h3v3h-3zm2 0h3v3h-3zm-42 1h3v3h-3zm28 0h3v3h-3zm7 0h3v3h-3zm14 0h3v3h-3zm13 0h3v3h-3zm-72 1h3v3h-3zm16 0h3v3h-3zm10 0h3v3h-3zm7 0h3v3h-3zm5 0h3v3h-3zm9 0h3v3h-3zm7 0h3v3h-3zm-34 1h3v3h-3zm4 0h3v3h-3zm14 0h3v3h-3zm10 0h3v3h-3zm3 1h3v3h-3zm-30 1h3v3h-3zm6 0h3v3h-3zm12 0h3v3h-3zm1 0h3v3h-3zm4 0h3v3h-3zm20 0h3v3h-3zm-38 1h3v3h-3zm1 0h3v3h-3zm2 0h3v3h-3zm1 0h3v3h-3zm7 0h3v3h-3zm7 0h3v3h-3zm8 0h3v3h-3zm2 0h3v3h-3zm9 0h3v3h-3zm-152 1h3v3h-3zm112 1h3v3h-3zm13 0h3v3h-3zm17 0h3v3h-3zm-47 1h3v3h-3zm19 0h3v3h-3zm9 0h3v3h-3zm7 0h3v3h-3zm4 0h3v3h-3zm-37 1h3v3h-3zm41 0h3v3h-3zm-46 1h3v3h-3zm10 0h3v3h-3zm26 0h3v3h-3zm3 0h3v3h-3zm15 0h3v3h-3zm-52 1h3v3h-3zm19 0h3v3h-3zm1 0h3v3h-3zm-3 1h3v3h-3zm2 0h3v3h-3zm10 0h3v3h-3zm3 1h3v3h-3zm-30 1h3v3h-3zm20 0h3v3h-3zm11 0h3v3h-3zm-72 1h3v3h-3zm67 0h3v3h-3zm12 0h3v3h-3zm-2 1h3v3h-3zm-34 1h3v3h-3zm38 0h3v3h-3zm-27 1h3v3h-3zm12 0h3v3h-3zm21 0h3v3h-3zm8 0h3v3h-3zm-39 2h3v3h-3zm2 1h3v3h-3zm30 0h3v3h-3zm-35 1h3v3h-3zm30 0h3v3h-3zm-28 1h3v3h-3zm-4 1h3v3h-3zm43 0h3v3h-3zm16 3h3v3h-3zm-167 2h3v3h-3zm103 0h3v3h-3zm52 0h3v3h-3zm-64 1h3v3h-3zm50 2h3v3h-3zm-36 1h3v3h-3zm38 2h3v3h-3zm-81 1h3v3h-3zm9 0h3v3h-3zm-116 2h3v3h-3zm194 2h3v3h-3zm1 0h3v3h-3zm-58 2h3v3h-3zm10 2h3v3h-3zm-82 2h3v3h-3zm26 0h3v3h-3zm105 0h3v3h-3zm-196 2h3v3h-3zm126 3h3v3h-3zm68 0h3v3h-3zm-63 1h3v3h-3zm-74 3h3v3h-3zm-48 1h3v3h-3zm137 0h3v3h-3zm49 1h3v3h-3zm-161 5h3v3h-3zm97 2h3v3h-3zm13 2h3v3h-3zm-4 4h3v3h-3zm71 0h3v3h-3zm-159 1h3v3h-3zm85 0h3v3h-3zm-130 2h3v3h-3zm32 3h3v3h-3zm10 1h3v3h-3zm146 0h3v3h-3zm31 3h3v3h-3zm-151 2h3v3h-3zm54 0h3v3h-3zm-106 2h3v3h-3zm67 1h3v3h-3zm-35 1h3v3h-3zm15 0h3v3h-3zm36 0h3v3h-3zm98 0h3v3h-3zm-92 2h3v3h-3zm12 1h3v3h-3zm11 0h3v3h-3zm0 2h3v3h-3zm-10 1h3v3h-3zm-83 2h3v3h-3zm34 3h3v3h-3zm43 1h3v3h-3zm21 0h3v3h-3zm-104 3h3v3h-3zm-32 1h3v3h-3zm38 0h3v3h-3zm78 1h3v3h-3zm-85 2h3v3h-3zm58 0h3v3h-3zm-71 3h3v3h-3zm177 0h3v3h-3zm0 1h3v3h-3zm7 1h3v3h-3zm-182 2h3v3h-3zm83 1h3v3h-3zm-86 1h3v3h-3zm76 0h3v3h-3zm99 0h3v3h-3zm-115 2h3v3h-3zm-25 2h3v3h-3zm66 0h3v3h-3zm-39 1h3v3h-3zm107 1h3v3h-3zm-94 1h3v3h-3zm-81 1h3v3h-3zm79 0h3v3h-3zm-56 1h3v3h-3zm97 0h3v3h-3zm-44 1h3v3h-3zm23 0h3v3h-3zm22 1h3v3h-3zm49 1h3v3h-3zm29 1h3v3h-3zm-75 2h3v3h-3zm-127 2h3v3h-3zm-3 1h3v3h-3zm77 0h3v3h-3zm113 1h3v3h-3zm-79 1h3v3h-3zm15 0h3v3h-3zm196 0h3v3h-3zm-137 2h3v3h-3zm-67 1h3v3h-3zm51 0h3v3h-3zm-9 1h3v3h-3zm-100 1h3v3h-3zm115 0h3v3h-3zm-14 1h3v3h-3zm-117 1h3v3h-3zm101 0h3v3h-3zm-10 1h3v3h-3zm39 0h3v3h-3zm-31 1h3v3h-3zm-150 1h3v3h-3zm163 0h3v3h-3zm-14 1h3v3h-3zm15 0h3v3h-3zm-82 1h3v3h-3zm-37 1h3v3h-3zm42 1h3v3h-3zm57 1h3v3h-3zm34 0h3v3h-3zm-36 1h3v3h-3zm26 0h3v3h-3zm-11 3h3v3h-3zm-14 2h3v3h-3zm20 0h3v3h-3zm-89 1h3v3h-3zm-39 1h3v3h-3zm129 0h3v3h-3z" fill="#000"/></g>
<path d="M91 90H643V584.5H91Z M315 90V584.5 M91 271H643" fill="none" stroke="#2a2a2a" stroke-width="2.4"/>
<path d="M68.0 101.0H91M68.0 149.4H91M68.0 197.7H91M68.0 246.1H91M68.0 294.4H91M68.0 342.8H91M68.0 391.1H91M68.0 439.5H91M68.0 487.8H91M68.0 536.2H91M68.0 584.5H91" stroke="#1a1a1a" stroke-width="2.8"/>
<path d="M129.3 584.5v11.0M153.8 584.5v11.0M171.1 584.5v11.0M184.6 584.5v11.0M195.6 584.5v11.0M204.9 584.5v11.0M212.9 584.5v11.0M220.0 584.5v11.0M268.2 584.5v11.0M292.7 584.5v11.0M310.0 584.5v11.0M323.5 584.5v11.0M334.5 584.5v11.0M343.8 584.5v11.0M351.8 584.5v11.0M358.9 584.5v11.0M407.1 584.5v11.0M431.5 584.5v11.0M448.9 584.5v11.0M462.3 584.5v11.0M473.3 584.5v11.0M482.6 584.5v11.0M490.7 584.5v11.0M497.8 584.5v11.0M545.9 584.5v11.0M570.4 584.5v11.0M587.7 584.5v11.0M601.2 584.5v11.0M612.2 584.5v11.0M621.5 584.5v11.0M629.5 584.5v11.0M636.6 584.5v11.0" stroke="#1a1a1a" stroke-width="3"/>
<path d="M226.4 584.5v19.0M365.3 584.5v19.0M504.1 584.5v19.0M643 584.5v19.0" stroke="#1a1a1a" stroke-width="3"/>
<text x="215.9" y="624.0" font-size="26.0" fill="#111" stroke="#111" stroke-width="1.5" textLength="26.0" lengthAdjust="spacingAndGlyphs">10</text>
<text x="244.9" y="614.5" font-size="19.5" fill="#111" stroke="#111" stroke-width="1">0</text>
<text x="354.8" y="624.0" font-size="26.0" fill="#111" stroke="#111" stroke-width="1.5" textLength="26.0" lengthAdjust="spacingAndGlyphs">10</text>
<text x="383.8" y="614.5" font-size="19.5" fill="#111" stroke="#111" stroke-width="1">1</text>
<text x="493.6" y="624.0" font-size="26.0" fill="#111" stroke="#111" stroke-width="1.5" textLength="26.0" lengthAdjust="spacingAndGlyphs">10</text>
<text x="522.7" y="614.5" font-size="19.5" fill="#111" stroke="#111" stroke-width="1">2</text>
<text x="632.5" y="624.0" font-size="26.0" fill="#111" stroke="#111" stroke-width="1.5" textLength="26.0" lengthAdjust="spacingAndGlyphs">10</text>
<text x="661.5" y="614.5" font-size="19.5" fill="#111" stroke="#111" stroke-width="1">3</text>
<text transform="scale(0.89,1)" x="101.5" y="119.0" font-size="31.5" font-weight="bold" fill="#111">A1</text>
<text transform="scale(0.89,1)" x="353.7" y="119.0" font-size="31.5" font-weight="bold" fill="#111">A2</text>
<text transform="scale(0.89,1)" x="101.5" y="300.0" font-size="31.5" font-weight="bold" fill="#111">A3</text>
<text transform="scale(0.89,1)" x="353.7" y="300.0" font-size="31.5" font-weight="bold" fill="#111">A4</text>
<text transform="scale(0.9,1)" x="149.4" y="139.0" font-size="47.32" font-weight="normal" textLength="151.5" lengthAdjust="spacing" fill="#111" stroke="#111" stroke-width="1.1">1.35%</text>
<text transform="scale(0.9,1)" x="552.2" y="145.8" font-size="43.24" font-weight="normal" textLength="150.9" lengthAdjust="spacing" fill="#111" stroke="#111" stroke-width="1.1">0.25%</text>
<text transform="scale(0.9,1)" x="114.2" y="556.0" font-size="47.75" font-weight="normal" textLength="183.5" lengthAdjust="spacing" fill="#111" stroke="#111" stroke-width="1.1">97.69%</text>
<text transform="scale(0.9,1)" x="531.5" y="556.0" font-size="47.75" font-weight="normal" textLength="152.3" lengthAdjust="spacing" fill="#111" stroke="#111" stroke-width="1.1">0.71%</text>
<text x="212.4" y="64.6" font-size="49.12" font-weight="bold" textLength="172.0" lengthAdjust="spacingAndGlyphs" fill="#111">Control</text>
<g filter="url(#bl2)"><path d="M914.5 351.5Q919 340 941.0 340.0Q963 340 965.0 351.5Q967 363 968.5 380.5Q970 398 969.5 415.5Q969 433 968.0 450.5Q967 468 962.0 481.0Q957 494 954.0 498.0Q951 502 936.5 502.0Q922 502 919.5 498.0Q917 494 912.5 481.0Q908 468 907.0 450.5Q906 433 908.0 415.5Q910 398 910.0 380.5Q910 363 914.5 351.5Z" fill="#000" stroke="#000" stroke-width="2"/></g><g filter="url(#bl)"><path d="M900 152h2v2h-2zm25 1h2v2h-2zm-94 4h2v2h-2zm52 0h2v2h-2zm26 3h2v2h-2zm42 0h2v2h-2zm-138 7h2v2h-2zm89 1h2v2h-2zm51 0h2v2h-2zm-12 1h2v2h-2zm-137 4h2v2h-2zm146 0h2v2h-2zm-76 1h2v2h-2zm-96 1h2v2h-2zm72 0h2v2h-2zm-37 1h2v2h-2zm158 2h2v2h-2zm-26 1h2v2h-2zm2 0h2v2h-2zm15 2h2v2h-2zm-10 2h2v2h-2zm12 1h2v2h-2zm2 2h2v2h-2zm-102 1h2v2h-2zm63 3h2v2h-2zm-75 4h2v2h-2zm94 0h2v2h-2zm-39 1h2v2h-2zm-139 1h2v2h-2zm184 2h2v2h-2zm-84 1h2v2h-2zm68 1h2v2h-2zm15 1h2v2h-2zm1 1h2v2h-2zm-7 1h2v2h-2zm12 1h2v2h-2zm-4 2h2v2h-2zm-49 1h2v2h-2zm37 0h2v2h-2zm3 0h2v2h-2zm12 0h2v2h-2zm-23 2h2v2h-2zm6 0h2v2h-2zm17 1h2v2h-2zm-151 1h2v2h-2zm144 1h2v2h-2zm20 0h2v2h-2zm118 0h2v2h-2zm-157 1h2v2h-2zm8 1h2v2h-2zm8 1h2v2h-2zm-5 1h2v2h-2zm1 0h2v2h-2zm5 2h2v2h-2zm-31 1h2v2h-2zm37 0h2v2h-2zm6 0h2v2h-2zm-123 1h2v2h-2zm100 0h2v2h-2zm1 0h2v2h-2zm4 0h2v2h-2zm-40 1h2v2h-2zm43 0h2v2h-2zm-12 1h2v2h-2zm14 0h2v2h-2zm7 2h2v2h-2zm72 0h2v2h-2zm-67 2h2v2h-2zm-156 1h2v2h-2zm138 0h2v2h-2zm18 0h2v2h-2zm-130 1h2v2h-2zm96 0h2v2h-2zm2 1h2v2h-2zm11 0h2v2h-2zm20 0h2v2h-2zm-21 1h2v2h-2zm10 0h2v2h-2zm3 0h2v2h-2zm17 0h2v2h-2zm-38 1h2v2h-2zm148 0h2v2h-2zm-141 1h2v2h-2zm13 0h2v2h-2zm9 0h2v2h-2zm7 0h2v2h-2zm103 1h2v2h-2zm-134 1h2v2h-2zm20 0h2v2h-2zm-189 1h2v2h-2zm185 0h2v2h-2zm21 0h2v2h-2zm4 1h2v2h-2zm78 1h2v2h-2zm-232 2h2v2h-2zm132 0h2v2h-2zm-168 1h2v2h-2zm140 0h2v2h-2zm23 0h2v2h-2zm29 0h2v2h-2zm67 0h2v2h-2zm-91 1h2v2h-2zm3 0h2v2h-2zm4 0h2v2h-2zm-37 1h2v2h-2zm20 0h2v2h-2zm11 0h2v2h-2zm-26 1h2v2h-2zm9 0h2v2h-2zm5 0h2v2h-2zm-13 1h2v2h-2zm15 0h2v2h-2zm11 0h2v2h-2zm1 0h2v2h-2zm2 0h2v2h-2zm2 0h2v2h-2zm-146 1h2v2h-2zm111 0h2v2h-2zm29 0h2v2h-2zm-23 1h2v2h-2zm13 0h2v2h-2zm3 0h2v2h-2zm2 0h2v2h-2zm-28 1h2v2h-2zm10 0h2v2h-2zm3 0h2v2h-2zm3 0h2v2h-2zm10 0h2v2h-2zm-110 1h2v2h-2zm71 0h2v2h-2zm20 0h2v2h-2zm20 0h2v2h-2zm20 0h2v2h-2zm23 0h2v2h-2zm-62 1h2v2h-2zm7 1h2v2h-2zm3 0h2v2h-2zm66 0h2v2h-2zm27 0h2v2h-2zm-209 1h2v2h-2zm130 0h2v2h-2zm19 0h2v2h-2zm-52 1h2v2h-2zm15 0h2v2h-2zm1 0h2v2h-2zm16 0h2v2h-2zm2 0h2v2h-2zm2 0h2v2h-2zm-3 2h2v2h-2zm17 0h2v2h-2zm-105 1h2v2h-2zm65 0h2v2h-2zm7 0h2v2h-2zm4 0h2v2h-2zm13 0h2v2h-2zm2 0h2v2h-2zm4 0h2v2h-2zm2 0h2v2h-2zm-19 1h2v2h-2zm6 0h2v2h-2zm2 0h2v2h-2zm1 0h2v2h-2zm4 0h2v2h-2zm9 1h2v2h-2zm-39 1h2v2h-2zm4 0h2v2h-2zm12 0h2v2h-2zm-72 1h2v2h-2zm55 0h2v2h-2zm6 0h2v2h-2zm19 0h2v2h-2zm1 0h2v2h-2zm8 0h2v2h-2zm7 0h2v2h-2zm-22 1h2v2h-2zm-8 1h2v2h-2zm14 0h2v2h-2zm15 0h2v2h-2zm-17 3h2v2h-2zm1 0h2v2h-2zm24 0h2v2h-2zm82 0h2v2h-2zm-201 1h2v2h-2zm66 0h2v2h-2zm9 0h2v2h-2zm3 0h2v2h-2zm8 0h2v2h-2zm4 0h2v2h-2zm5 0h2v2h-2zm-12 1h2v2h-2zm4 0h2v2h-2zm39 0h2v2h-2zm-108 1h2v2h-2zm62 0h2v2h-2zm24 0h2v2h-2zm3 0h2v2h-2zm-37 1h2v2h-2zm14 0h2v2h-2zm27 0h2v2h-2zm2 0h2v2h-2zm13 0h2v2h-2zm-62 1h2v2h-2zm18 0h2v2h-2zm2 0h2v2h-2zm24 0h2v2h-2zm-112 1h2v2h-2zm83 0h2v2h-2zm2 0h2v2h-2zm13 0h2v2h-2zm17 0h2v2h-2zm1 0h2v2h-2zm-38 1h2v2h-2zm13 0h2v2h-2zm4 0h2v2h-2zm7 0h2v2h-2zm7 0h2v2h-2zm3 0h2v2h-2zm10 0h2v2h-2zm-21 1h2v2h-2zm5 0h2v2h-2zm-36 1h2v2h-2zm3 0h2v2h-2zm23 0h2v2h-2zm2 0h2v2h-2zm8 0h2v2h-2zm3 0h2v2h-2zm-28 1h2v2h-2zm3 0h2v2h-2zm9 0h2v2h-2zm4 0h2v2h-2zm9 0h2v2h-2zm2 0h2v2h-2zm47 0h2v2h-2zm-56 1h2v2h-2zm9 0h2v2h-2zm20 0h2v2h-2zm-171 1h2v2h-2zm33 0h2v2h-2zm79 0h2v2h-2zm13 0h2v2h-2zm10 0h2v2h-2zm14 0h2v2h-2zm-39 1h2v2h-2zm3 0h2v2h-2zm16 0h2v2h-2zm2 0h2v2h-2zm17 0h2v2h-2zm1 0h2v2h-2zm13 0h2v2h-2zm9 0h2v2h-2zm-42 1h2v2h-2zm6 0h2v2h-2zm15 0h2v2h-2zm2 0h2v2h-2zm4 0h2v2h-2zm-64 1h2v2h-2zm24 0h2v2h-2zm36 0h2v2h-2zm6 0h2v2h-2zm-37 1h2v2h-2zm8 0h2v2h-2zm1 0h2v2h-2zm4 0h2v2h-2zm7 0h2v2h-2zm2 0h2v2h-2zm-14 1h2v2h-2zm-37 1h2v2h-2zm35 0h2v2h-2zm3 0h2v2h-2zm16 0h2v2h-2zm24 0h2v2h-2zm-51 1h2v2h-2zm15 0h2v2h-2zm12 0h2v2h-2zm16 0h2v2h-2zm3 0h2v2h-2zm9 0h2v2h-2zm-47 1h2v2h-2zm4 0h2v2h-2zm3 0h2v2h-2zm3 0h2v2h-2zm2 0h2v2h-2zm4 0h2v2h-2zm2 0h2v2h-2zm1 0h2v2h-2zm74 0h2v2h-2zm-228 1h2v2h-2zm116 0h2v2h-2zm2 0h2v2h-2zm19 0h2v2h-2zm6 0h2v2h-2zm1 0h2v2h-2zm6 0h2v2h-2zm2 0h2v2h-2zm2 0h2v2h-2zm1 0h2v2h-2zm13 0h2v2h-2zm13 0h2v2h-2zm-67 1h2v2h-2zm4 0h2v2h-2zm2 0h2v2h-2zm18 0h2v2h-2zm3 0h2v2h-2zm1 0h2v2h-2zm6 0h2v2h-2zm24 0h2v2h-2zm11 0h2v2h-2zm3 0h2v2h-2zm-75 1h2v2h-2zm13 0h2v2h-2zm5 0h2v2h-2zm12 0h2v2h-2zm7 0h2v2h-2zm18 0h2v2h-2zm10 0h2v2h-2zm-67 1h2v2h-2zm25 0h2v2h-2zm2 0h2v2h-2zm7 0h2v2h-2zm5 0h2v2h-2zm1 0h2v2h-2zm5 0h2v2h-2zm2 0h2v2h-2zm-30 1h2v2h-2zm2 0h2v2h-2zm3 0h2v2h-2zm3 0h2v2h-2zm4 0h2v2h-2zm14 0h2v2h-2zm2 0h2v2h-2zm6 0h2v2h-2zm-37 1h2v2h-2zm4 0h2v2h-2zm7 0h2v2h-2zm2 0h2v2h-2zm22 0h2v2h-2zm4 0h2v2h-2zm2 0h2v2h-2zm1 0h2v2h-2zm-67 1h2v2h-2zm23 0h2v2h-2zm3 0h2v2h-2zm13 0h2v2h-2zm2 0h2v2h-2zm9 0h2v2h-2zm1 0h2v2h-2zm3 0h2v2h-2zm10 0h2v2h-2zm3 0h2v2h-2zm1 0h2v2h-2zm6 0h2v2h-2zm-34 1h2v2h-2zm7 0h2v2h-2zm6 0h2v2h-2zm20 0h2v2h-2zm-37 1h2v2h-2zm19 0h2v2h-2zm4 0h2v2h-2zm1 0h2v2h-2zm5 0h2v2h-2zm13 0h2v2h-2zm-50 1h2v2h-2zm10 0h2v2h-2zm3 0h2v2h-2zm2 0h2v2h-2zm2 0h2v2h-2zm1 0h2v2h-2zm5 0h2v2h-2zm8 0h2v2h-2zm9 0h2v2h-2zm4 0h2v2h-2zm11 0h2v2h-2zm117 0h2v2h-2zm-198 1h2v2h-2zm8 0h2v2h-2zm7 0h2v2h-2zm15 0h2v2h-2zm4 0h2v2h-2zm9 0h2v2h-2zm1 0h2v2h-2zm6 0h2v2h-2zm6 0h2v2h-2zm14 0h2v2h-2zm1 0h2v2h-2zm-131 1h2v2h-2zm20 0h2v2h-2zm19 0h2v2h-2zm29 0h2v2h-2zm3 0h2v2h-2zm13 0h2v2h-2zm1 0h2v2h-2zm5 0h2v2h-2zm1 0h2v2h-2zm20 0h2v2h-2zm3 0h2v2h-2zm3 0h2v2h-2zm7 0h2v2h-2zm-72 1h2v2h-2zm6 0h2v2h-2zm19 0h2v2h-2zm4 0h2v2h-2zm1 0h2v2h-2zm1 0h2v2h-2zm1 0h2v2h-2zm5 0h2v2h-2zm5 0h2v2h-2zm6 0h2v2h-2zm2 0h2v2h-2zm2 0h2v2h-2zm3 0h2v2h-2zm2 0h2v2h-2zm3 0h2v2h-2zm31 0h2v2h-2zm-202 1h2v2h-2zm8 0h2v2h-2zm5 0h2v2h-2zm29 0h2v2h-2zm7 0h2v2h-2zm98 0h2v2h-2zm8 0h2v2h-2zm4 0h2v2h-2zm1 0h2v2h-2zm2 0h2v2h-2zm10 0h2v2h-2zm11 0h2v2h-2zm17 0h2v2h-2zm-181 1h2v2h-2zm23 0h2v2h-2zm86 0h2v2h-2zm9 0h2v2h-2zm1 0h2v2h-2zm7 0h2v2h-2zm5 0h2v2h-2zm3 0h2v2h-2zm2 0h2v2h-2zm12 0h2v2h-2zm1 0h2v2h-2zm1 0h2v2h-2zm4 0h2v2h-2zm8 0h2v2h-2zm3 0h2v2h-2zm1 0h2v2h-2zm7 0h2v2h-2zm14 0h2v2h-2zm-170 1h2v2h-2zm102 0h2v2h-2zm7 0h2v2h-2zm2 0h2v2h-2zm3 0h2v2h-2zm1 0h2v2h-2zm7 0h2v2h-2zm2 0h2v2h-2zm1 0h2v2h-2zm1 0h2v2h-2zm3 0h2v2h-2zm1 0h2v2h-2zm1 0h2v2h-2zm2 0h2v2h-2zm6 0h2v2h-2zm3 0h2v2h-2zm4 0h2v2h-2zm-58 1h2v2h-2zm24 0h2v2h-2zm5 0h2v2h-2zm1 0h2v2h-2zm8 0h2v2h-2zm6 0h2v2h-2zm1 0h2v2h-2zm3 0h2v2h-2zm5 0h2v2h-2zm1 0h2v2h-2zm11 0h2v2h-2zm20 0h2v2h-2zm-157 1h2v2h-2zm91 0h2v2h-2zm7 0h2v2h-2zm5 0h2v2h-2zm6 0h2v2h-2zm6 0h2v2h-2zm1 0h2v2h-2zm2 0h2v2h-2zm2 0h2v2h-2zm4 0h2v2h-2zm3 0h2v2h-2zm2 0h2v2h-2zm1 0h2v2h-2zm11 0h2v2h-2zm-141 1h2v2h-2zm43 0h2v2h-2zm33 0h2v2h-2zm24 0h2v2h-2zm3 0h2v2h-2zm5 0h2v2h-2zm1 0h2v2h-2zm4 0h2v2h-2zm4 0h2v2h-2zm2 0h2v2h-2zm1 0h2v2h-2zm1 0h2v2h-2zm7 0h2v2h-2zm4 0h2v2h-2zm4 0h2v2h-2zm12 0h2v2h-2zm-80 1h2v2h-2zm6 0h2v2h-2zm8 0h2v2h-2zm6 0h2v2h-2zm3 0h2v2h-2zm9 0h2v2h-2zm2 0h2v2h-2zm6 0h2v2h-2zm5 0h2v2h-2zm4 0h2v2h-2zm25 0h2v2h-2zm8 0h2v2h-2zm-189 1h2v2h-2zm113 0h2v2h-2zm13 0h2v2h-2zm2 0h2v2h-2zm2 0h2v2h-2zm1 0h2v2h-2zm1 0h2v2h-2zm3 0h2v2h-2zm5 0h2v2h-2zm2 0h2v2h-2zm8 0h2v2h-2zm5 0h2v2h-2zm3 0h2v2h-2zm5 0h2v2h-2zm1 0h2v2h-2zm4 0h2v2h-2zm11 0h2v2h-2zm2 0h2v2h-2zm-129 1h2v2h-2zm36 0h2v2h-2zm43 0h2v2h-2zm1 0h2v2h-2zm1 0h2v2h-2zm3 0h2v2h-2zm1 0h2v2h-2zm4 0h2v2h-2zm3 0h2v2h-2zm4 0h2v2h-2zm3 0h2v2h-2zm1 0h2v2h-2zm1 0h2v2h-2zm1 0h2v2h-2zm2 0h2v2h-2zm2 0h2v2h-2zm3 0h2v2h-2zm3 0h2v2h-2zm15 0h2v2h-2zm56 0h2v2h-2zm12 0h2v2h-2zm-123 1h2v2h-2zm4 0h2v2h-2zm2 0h2v2h-2zm2 0h2v2h-2zm6 0h2v2h-2zm1 0h2v2h-2zm6 0h2v2h-2zm1 0h2v2h-2zm4 0h2v2h-2zm4 0h2v2h-2zm3 0h2v2h-2zm3 0h2v2h-2zm6 0h2v2h-2zm1 0h2v2h-2zm1 0h2v2h-2zm4 0h2v2h-2zm14 0h2v2h-2zm-69 1h2v2h-2zm2 0h2v2h-2zm6 0h2v2h-2zm7 0h2v2h-2zm1 0h2v2h-2zm1 0h2v2h-2zm15 0h2v2h-2zm6 0h2v2h-2zm4 0h2v2h-2zm2 0h2v2h-2zm5 0h2v2h-2zm2 0h2v2h-2zm22 0h2v2h-2zm-219 1h2v2h-2zm152 0h2v2h-2zm2 0h2v2h-2zm3 0h2v2h-2zm2 0h2v2h-2zm2 0h2v2h-2zm4 0h2v2h-2zm1 0h2v2h-2zm6 0h2v2h-2zm3 0h2v2h-2zm5 0h2v2h-2zm2 0h2v2h-2zm4 0h2v2h-2zm3 0h2v2h-2zm8 0h2v2h-2zm1 0h2v2h-2zm3 0h2v2h-2zm-140 1h2v2h-2zm54 0h2v2h-2zm37 0h2v2h-2zm10 0h2v2h-2zm1 0h2v2h-2zm7 0h2v2h-2zm6 0h2v2h-2zm13 0h2v2h-2zm3 0h2v2h-2zm2 0h2v2h-2zm1 0h2v2h-2zm1 0h2v2h-2zm2 0h2v2h-2zm4 0h2v2h-2zm29 0h2v2h-2zm-178 1h2v2h-2zm42 0h2v2h-2zm49 0h2v2h-2zm4 0h2v2h-2zm2 0h2v2h-2zm1 0h2v2h-2zm2 0h2v2h-2zm5 0h2v2h-2zm4 0h2v2h-2zm5 0h2v2h-2zm1 0h2v2h-2zm1 0h2v2h-2zm2 0h2v2h-2zm3 0h2v2h-2zm3 0h2v2h-2zm3 0h2v2h-2zm24 0h2v2h-2zm2 0h2v2h-2zm-174 1h2v2h-2zm121 0h2v2h-2zm9 0h2v2h-2zm2 0h2v2h-2zm1 0h2v2h-2zm7 0h2v2h-2zm8 0h2v2h-2zm5 0h2v2h-2zm1 0h2v2h-2zm4 0h2v2h-2zm23 0h2v2h-2zm12 0h2v2h-2zm-211 1h2v2h-2zm138 0h2v2h-2zm2 0h2v2h-2zm4 0h2v2h-2zm1 0h2v2h-2zm1 0h2v2h-2zm3 0h2v2h-2zm2 0h2v2h-2zm2 0h2v2h-2zm4 0h2v2h-2zm4 0h2v2h-2zm2 0h2v2h-2zm1 0h2v2h-2zm1 0h2v2h-2zm3 0h2v2h-2zm5 0h2v2h-2zm1 0h2v2h-2zm6 0h2v2h-2zm7 0h2v2h-2zm2 0h2v2h-2zm4 0h2v2h-2zm-193 1h2v2h-2zm149 0h2v2h-2zm4 0h2v2h-2zm1 0h2v2h-2zm3 0h2v2h-2zm3 0h2v2h-2zm1 0h2v2h-2zm3 0h2v2h-2zm1 0h2v2h-2zm3 0h2v2h-2zm8 0h2v2h-2zm1 0h2v2h-2zm1 0h2v2h-2zm1 0h2v2h-2zm1 0h2v2h-2zm7 0h2v2h-2zm1 0h2v2h-2zm5 0h2v2h-2zm60 0h2v2h-2zm-235 1h2v2h-2zm59 0h2v2h-2zm63 0h2v2h-2zm8 0h2v2h-2zm4 0h2v2h-2zm1 0h2v2h-2zm3 0h2v2h-2zm1 0h2v2h-2zm1 0h2v2h-2zm3 0h2v2h-2zm2 0h2v2h-2zm7 0h2v2h-2zm2 0h2v2h-2zm2 0h2v2h-2zm3 0h2v2h-2zm-44 1h2v2h-2zm8 0h2v2h-2zm8 0h2v2h-2zm1 0h2v2h-2zm3 0h2v2h-2zm3 0h2v2h-2zm8 0h2v2h-2zm5 0h2v2h-2zm1 0h2v2h-2zm2 0h2v2h-2zm2 0h2v2h-2zm3 0h2v2h-2zm2 0h2v2h-2zm8 0h2v2h-2zm26 0h2v2h-2zm-169 1h2v2h-2zm38 0h2v2h-2zm52 0h2v2h-2zm1 0h2v2h-2zm1 0h2v2h-2zm2 0h2v2h-2zm2 0h2v2h-2zm5 0h2v2h-2zm4 0h2v2h-2zm3 0h2v2h-2zm1 0h2v2h-2zm1 0h2v2h-2zm1 0h2v2h-2zm2 0h2v2h-2zm3 0h2v2h-2zm1 0h2v2h-2zm2 0h2v2h-2zm1 0h2v2h-2zm3 0h2v2h-2zm1 0h2v2h-2zm4 0h2v2h-2zm2 0h2v2h-2zm1 0h2v2h-2zm9 0h2v2h-2zm7 0h2v2h-2zm1 0h2v2h-2zm-51 1h2v2h-2zm2 0h2v2h-2zm6 0h2v2h-2zm1 0h2v2h-2zm1 0h2v2h-2zm3 0h2v2h-2zm1 0h2v2h-2zm4 0h2v2h-2zm1 0h2v2h-2zm1 0h2v2h-2zm1 0h2v2h-2zm1 0h2v2h-2zm2 0h2v2h-2zm2 0h2v2h-2zm4 0h2v2h-2zm3 0h2v2h-2zm1 0h2v2h-2zm19 0h2v2h-2zm-196 1h2v2h-2zm15 0h2v2h-2zm80 0h2v2h-2zm37 0h2v2h-2zm9 0h2v2h-2zm6 0h2v2h-2zm2 0h2v2h-2zm2 0h2v2h-2zm1 0h2v2h-2zm1 0h2v2h-2zm1 0h2v2h-2zm3 0h2v2h-2zm3 0h2v2h-2zm6 0h2v2h-2zm3 0h2v2h-2zm2 0h2v2h-2zm1 0h2v2h-2zm1 0h2v2h-2zm1 0h2v2h-2zm3 0h2v2h-2zm10 0h2v2h-2zm3 0h2v2h-2zm1 0h2v2h-2zm1 0h2v2h-2zm2 0h2v2h-2zm-206 1h2v2h-2zm22 0h2v2h-2zm133 0h2v2h-2zm1 0h2v2h-2zm3 0h2v2h-2zm1 0h2v2h-2zm5 0h2v2h-2zm5 0h2v2h-2zm3 0h2v2h-2zm3 0h2v2h-2zm7 0h2v2h-2zm2 0h2v2h-2zm1 0h2v2h-2zm7 0h2v2h-2zm2 0h2v2h-2zm2 0h2v2h-2zm-97 1h2v2h-2zm42 0h2v2h-2zm1 0h2v2h-2zm13 0h2v2h-2zm2 0h2v2h-2zm1 0h2v2h-2zm4 0h2v2h-2zm3 0h2v2h-2zm1 0h2v2h-2zm5 0h2v2h-2zm1 0h2v2h-2zm4 0h2v2h-2zm3 0h2v2h-2zm1 0h2v2h-2zm3 0h2v2h-2zm3 0h2v2h-2zm1 0h2v2h-2zm2 0h2v2h-2zm2 0h2v2h-2zm6 0h2v2h-2zm1 0h2v2h-2zm32 0h2v2h-2zm65 0h2v2h-2zm21 0h2v2h-2zm-189 1h2v2h-2zm33 0h2v2h-2zm2 0h2v2h-2zm1 0h2v2h-2zm2 0h2v2h-2zm1 0h2v2h-2zm5 0h2v2h-2zm1 0h2v2h-2zm5 0h2v2h-2zm2 0h2v2h-2zm5 0h2v2h-2zm2 0h2v2h-2zm4 0h2v2h-2zm2 0h2v2h-2zm3 0h2v2h-2zm10 0h2v2h-2zm1 0h2v2h-2zm1 0h2v2h-2zm4 0h2v2h-2zm3 0h2v2h-2zm-140 1h2v2h-2zm86 0h2v2h-2zm1 0h2v2h-2zm1 0h2v2h-2zm4 0h2v2h-2zm6 0h2v2h-2zm3 0h2v2h-2zm5 0h2v2h-2zm1 0h2v2h-2zm3 0h2v2h-2zm2 0h2v2h-2zm8 0h2v2h-2zm6 0h2v2h-2zm1 0h2v2h-2zm2 0h2v2h-2zm-62 1h2v2h-2zm10 0h2v2h-2zm5 0h2v2h-2zm1 0h2v2h-2zm6 0h2v2h-2zm1 0h2v2h-2zm15 0h2v2h-2zm3 0h2v2h-2zm1 0h2v2h-2zm1 0h2v2h-2zm4 0h2v2h-2zm3 0h2v2h-2zm1 0h2v2h-2zm3 0h2v2h-2zm-150 1h2v2h-2zm95 0h2v2h-2zm8 0h2v2h-2zm11 0h2v2h-2zm3 0h2v2h-2zm2 0h2v2h-2zm1 0h2v2h-2zm1 0h2v2h-2zm1 0h2v2h-2zm2 0h2v2h-2zm2 0h2v2h-2zm5 0h2v2h-2zm2 0h2v2h-2zm10 0h2v2h-2zm1 0h2v2h-2zm4 0h2v2h-2zm3 0h2v2h-2zm1 0h2v2h-2zm1 0h2v2h-2zm7 0h2v2h-2zm2 0h2v2h-2zm5 0h2v2h-2zm-166 1h2v2h-2zm28 0h2v2h-2zm58 0h2v2h-2zm8 0h2v2h-2zm6 0h2v2h-2zm3 0h2v2h-2zm3 0h2v2h-2zm6 0h2v2h-2zm7 0h2v2h-2zm3 0h2v2h-2zm2 0h2v2h-2zm1 0h2v2h-2zm2 0h2v2h-2zm2 0h2v2h-2zm6 0h2v2h-2zm1 0h2v2h-2zm4 0h2v2h-2zm6 0h2v2h-2zm1 0h2v2h-2zm1 0h2v2h-2zm8 0h2v2h-2zm13 0h2v2h-2zm8 0h2v2h-2zm83 0h2v2h-2zm-152 1h2v2h-2zm3 0h2v2h-2zm4 0h2v2h-2zm1 0h2v2h-2zm3 0h2v2h-2zm3 0h2v2h-2zm3 0h2v2h-2zm4 0h2v2h-2zm4 0h2v2h-2zm1 0h2v2h-2zm3 0h2v2h-2zm4 0h2v2h-2zm5 0h2v2h-2zm16 0h2v2h-2zm-181 1h2v2h-2zm131 0h2v2h-2zm9 0h2v2h-2zm6 0h2v2h-2zm1 0h2v2h-2zm3 0h2v2h-2zm1 0h2v2h-2zm1 0h2v2h-2zm1 0h2v2h-2zm3 0h2v2h-2zm1 0h2v2h-2zm1 0h2v2h-2zm7 0h2v2h-2zm4 0h2v2h-2zm1 0h2v2h-2zm15 0h2v2h-2zm1 0h2v2h-2zm9 0h2v2h-2zm-225 1h2v2h-2zm43 0h2v2h-2zm105 0h2v2h-2zm4 0h2v2h-2zm5 0h2v2h-2zm2 0h2v2h-2zm1 0h2v2h-2zm15 0h2v2h-2zm4 0h2v2h-2zm3 0h2v2h-2zm1 0h2v2h-2zm3 0h2v2h-2zm5 0h2v2h-2zm2 0h2v2h-2zm5 0h2v2h-2zm1 0h2v2h-2zm8 0h2v2h-2zm4 0h2v2h-2zm-132 1h2v2h-2zm23 0h2v2h-2zm44 0h2v2h-2zm5 0h2v2h-2zm6 0h2v2h-2zm4 0h2v2h-2zm3 0h2v2h-2zm4 0h2v2h-2zm9 0h2v2h-2zm1 0h2v2h-2zm3 0h2v2h-2zm2 0h2v2h-2zm1 0h2v2h-2zm10 0h2v2h-2zm4 0h2v2h-2zm1 0h2v2h-2zm3 0h2v2h-2zm2 0h2v2h-2zm22 0h2v2h-2zm29 0h2v2h-2zm-239 1h2v2h-2zm1 0h2v2h-2zm16 0h2v2h-2zm3 0h2v2h-2zm112 0h2v2h-2zm10 0h2v2h-2zm3 0h2v2h-2zm2 0h2v2h-2zm1 0h2v2h-2zm2 0h2v2h-2zm3 0h2v2h-2zm1 0h2v2h-2zm1 0h2v2h-2zm2 0h2v2h-2zm4 0h2v2h-2zm1 0h2v2h-2zm4 0h2v2h-2zm1 0h2v2h-2zm1 0h2v2h-2zm2 0h2v2h-2zm6 0h2v2h-2zm18 0h2v2h-2zm5 0h2v2h-2zm-88 1h2v2h-2zm29 0h2v2h-2zm3 0h2v2h-2zm6 0h2v2h-2zm1 0h2v2h-2zm1 0h2v2h-2zm4 0h2v2h-2zm1 0h2v2h-2zm3 0h2v2h-2zm5 0h2v2h-2zm1 0h2v2h-2zm1 0h2v2h-2zm1 0h2v2h-2zm1 0h2v2h-2zm3 0h2v2h-2zm10 0h2v2h-2zm2 0h2v2h-2zm24 0h2v2h-2zm42 0h2v2h-2zm-245 1h2v2h-2zm22 0h2v2h-2zm98 0h2v2h-2zm7 0h2v2h-2zm11 0h2v2h-2zm5 0h2v2h-2zm4 0h2v2h-2zm1 0h2v2h-2zm2 0h2v2h-2zm2 0h2v2h-2zm4 0h2v2h-2zm2 0h2v2h-2zm5 0h2v2h-2zm3 0h2v2h-2zm2 0h2v2h-2zm2 0h2v2h-2zm1 0h2v2h-2zm8 0h2v2h-2zm22 0h2v2h-2zm-69 1h2v2h-2zm9 0h2v2h-2zm8 0h2v2h-2zm3 0h2v2h-2zm8 0h2v2h-2zm7 0h2v2h-2zm5 0h2v2h-2zm1 0h2v2h-2zm6 0h2v2h-2zm21 0h2v2h-2zm-158 1h2v2h-2zm78 0h2v2h-2zm27 0h2v2h-2zm9 0h2v2h-2zm3 0h2v2h-2zm4 0h2v2h-2zm13 0h2v2h-2zm7 0h2v2h-2zm10 0h2v2h-2zm-52 1h2v2h-2zm5 0h2v2h-2zm2 0h2v2h-2zm5 0h2v2h-2zm3 0h2v2h-2zm1 0h2v2h-2zm4 0h2v2h-2zm1 0h2v2h-2zm5 0h2v2h-2zm5 0h2v2h-2zm6 0h2v2h-2zm1 0h2v2h-2zm-130 1h2v2h-2zm95 0h2v2h-2zm5 0h2v2h-2zm6 0h2v2h-2zm6 0h2v2h-2zm2 0h2v2h-2zm4 0h2v2h-2zm4 0h2v2h-2zm4 0h2v2h-2zm1 0h2v2h-2zm1 0h2v2h-2zm8 0h2v2h-2zm7 0h2v2h-2zm-62 1h2v2h-2zm8 0h2v2h-2zm4 0h2v2h-2zm1 0h2v2h-2zm2 0h2v2h-2zm8 0h2v2h-2zm2 0h2v2h-2zm3 0h2v2h-2zm7 0h2v2h-2zm3 0h2v2h-2zm3 0h2v2h-2zm15 0h2v2h-2zm3 0h2v2h-2zm2 0h2v2h-2zm6 0h2v2h-2zm-103 1h2v2h-2zm23 0h2v2h-2zm24 0h2v2h-2zm7 0h2v2h-2zm9 0h2v2h-2zm1 0h2v2h-2zm1 0h2v2h-2zm3 0h2v2h-2zm1 0h2v2h-2zm3 0h2v2h-2zm1 0h2v2h-2zm12 0h2v2h-2zm4 0h2v2h-2zm4 0h2v2h-2zm5 0h2v2h-2zm-175 1h2v2h-2zm63 0h2v2h-2zm48 0h2v2h-2zm1 0h2v2h-2zm7 0h2v2h-2zm8 0h2v2h-2zm1 0h2v2h-2zm1 0h2v2h-2zm2 0h2v2h-2zm1 0h2v2h-2zm17 0h2v2h-2zm6 0h2v2h-2zm3 0h2v2h-2zm5 0h2v2h-2zm18 0h2v2h-2zm-191 1h2v2h-2zm37 0h2v2h-2zm91 0h2v2h-2zm8 0h2v2h-2zm3 0h2v2h-2zm6 0h2v2h-2zm5 0h2v2h-2zm9 0h2v2h-2zm10 0h2v2h-2zm16 0h2v2h-2zm32 0h2v2h-2zm-176 1h2v2h-2zm68 0h2v2h-2zm4 0h2v2h-2zm16 0h2v2h-2zm16 0h2v2h-2zm1 0h2v2h-2zm1 0h2v2h-2zm5 0h2v2h-2zm1 0h2v2h-2zm4 0h2v2h-2zm-128 1h2v2h-2zm8 0h2v2h-2zm77 0h2v2h-2zm7 0h2v2h-2zm3 0h2v2h-2zm7 0h2v2h-2zm4 0h2v2h-2zm4 0h2v2h-2zm2 0h2v2h-2zm1 0h2v2h-2zm1 0h2v2h-2zm2 0h2v2h-2zm2 0h2v2h-2zm4 0h2v2h-2zm1 0h2v2h-2zm4 0h2v2h-2zm2 0h2v2h-2zm1 0h2v2h-2zm2 0h2v2h-2zm1 0h2v2h-2zm9 0h2v2h-2zm8 0h2v2h-2zm-150 1h2v2h-2zm4 0h2v2h-2zm18 0h2v2h-2zm82 0h2v2h-2zm9 0h2v2h-2zm11 0h2v2h-2zm3 0h2v2h-2zm4 0h2v2h-2zm1 0h2v2h-2zm6 0h2v2h-2zm5 0h2v2h-2zm4 0h2v2h-2zm128 0h2v2h-2zm-292 1h2v2h-2zm133 0h2v2h-2zm1 0h2v2h-2zm2 0h2v2h-2zm10 0h2v2h-2zm7 0h2v2h-2zm23 0h2v2h-2zm-131 1h2v2h-2zm90 0h2v2h-2zm1 0h2v2h-2zm5 0h2v2h-2zm5 0h2v2h-2zm3 0h2v2h-2zm2 0h2v2h-2zm13 0h2v2h-2zm5 0h2v2h-2zm6 0h2v2h-2zm9 0h2v2h-2zm-186 1h2v2h-2zm16 0h2v2h-2zm106 0h2v2h-2zm4 0h2v2h-2zm2 0h2v2h-2zm3 0h2v2h-2zm1 0h2v2h-2zm12 0h2v2h-2zm1 0h2v2h-2zm5 0h2v2h-2zm3 0h2v2h-2zm4 0h2v2h-2zm1 0h2v2h-2zm3 0h2v2h-2zm27 0h2v2h-2zm-52 1h2v2h-2zm34 0h2v2h-2zm-211 1h2v2h-2zm162 0h2v2h-2zm2 0h2v2h-2zm1 0h2v2h-2zm6 0h2v2h-2zm16 0h2v2h-2zm3 0h2v2h-2zm3 0h2v2h-2zm4 0h2v2h-2zm3 0h2v2h-2zm-180 1h2v2h-2zm16 0h2v2h-2zm81 0h2v2h-2zm40 0h2v2h-2zm17 0h2v2h-2zm2 0h2v2h-2zm11 0h2v2h-2zm9 0h2v2h-2zm2 0h2v2h-2zm19 0h2v2h-2zm9 0h2v2h-2zm-175 1h2v2h-2zm118 0h2v2h-2zm8 0h2v2h-2zm8 0h2v2h-2zm5 0h2v2h-2zm9 0h2v2h-2zm3 0h2v2h-2zm26 0h2v2h-2zm-177 1h2v2h-2zm18 0h2v2h-2zm13 0h2v2h-2zm9 0h2v2h-2zm19 0h2v2h-2zm58 0h2v2h-2zm9 0h2v2h-2zm1 0h2v2h-2zm7 0h2v2h-2zm3 0h2v2h-2zm2 0h2v2h-2zm1 0h2v2h-2zm3 0h2v2h-2zm6 0h2v2h-2zm10 0h2v2h-2zm4 0h2v2h-2zm-172 1h2v2h-2zm50 0h2v2h-2zm66 0h2v2h-2zm19 0h2v2h-2zm8 0h2v2h-2zm1 0h2v2h-2zm21 0h2v2h-2zm-194 1h2v2h-2zm156 0h2v2h-2zm12 0h2v2h-2zm1 0h2v2h-2zm13 0h2v2h-2zm12 0h2v2h-2zm2 0h2v2h-2zm10 0h2v2h-2zm-188 1h2v2h-2zm42 0h2v2h-2zm100 0h2v2h-2zm4 0h2v2h-2zm1 0h2v2h-2zm7 0h2v2h-2zm1 0h2v2h-2zm7 0h2v2h-2zm5 0h2v2h-2zm4 0h2v2h-2zm17 0h2v2h-2zm-195 1h2v2h-2zm150 0h2v2h-2zm2 0h2v2h-2zm3 0h2v2h-2zm9 0h2v2h-2zm5 0h2v2h-2zm-155 1h2v2h-2zm12 0h2v2h-2zm35 0h2v2h-2zm75 0h2v2h-2zm1 0h2v2h-2zm3 0h2v2h-2zm16 0h2v2h-2zm11 0h2v2h-2zm2 0h2v2h-2zm7 0h2v2h-2zm5 0h2v2h-2zm10 0h2v2h-2zm-172 1h2v2h-2zm139 0h2v2h-2zm17 0h2v2h-2zm2 0h2v2h-2zm1 0h2v2h-2zm9 0h2v2h-2zm-174 1h2v2h-2zm16 0h2v2h-2zm2 0h2v2h-2zm-49 1h2v2h-2zm21 0h2v2h-2zm17 0h2v2h-2zm72 0h2v2h-2zm46 0h2v2h-2zm46 0h2v2h-2zm-162 1h2v2h-2zm54 0h2v2h-2zm-47 1h2v2h-2zm17 0h2v2h-2zm21 0h2v2h-2zm31 0h2v2h-2zm8 0h2v2h-2zm29 0h2v2h-2zm47 0h2v2h-2zm-185 1h2v2h-2zm6 0h2v2h-2zm19 0h2v2h-2zm98 0h2v2h-2zm90 0h2v2h-2zm-168 1h2v2h-2zm139 0h2v2h-2zm-169 1h2v2h-2zm27 0h2v2h-2zm20 0h2v2h-2zm28 0h2v2h-2zm94 0h2v2h-2zm-167 1h2v2h-2zm36 0h2v2h-2zm70 0h2v2h-2zm62 0h2v2h-2zm1 0h2v2h-2zm10 0h2v2h-2zm-116 1h2v2h-2zm3 0h2v2h-2zm-47 1h2v2h-2zm-40 1h2v2h-2zm32 0h2v2h-2zm2 0h2v2h-2zm2 0h2v2h-2zm9 0h2v2h-2zm16 0h2v2h-2zm1 0h2v2h-2zm14 0h2v2h-2zm60 0h2v2h-2zm52 0h2v2h-2zm58 0h2v2h-2zm-168 1h2v2h-2zm64 0h2v2h-2zm55 0h2v2h-2zm20 0h2v2h-2zm-130 1h2v2h-2zm-90 1h2v2h-2zm3 0h2v2h-2zm1 0h2v2h-2zm28 0h2v2h-2zm2 0h2v2h-2zm55 0h2v2h-2zm51 0h2v2h-2zm50 0h2v2h-2zm4 0h2v2h-2zm17 0h2v2h-2zm-225 2h2v2h-2zm25 0h2v2h-2zm16 0h2v2h-2zm33 0h2v2h-2zm85 0h2v2h-2zm65 0h2v2h-2zm-106 1h2v2h-2zm1 0h2v2h-2zm40 0h2v2h-2zm68 0h2v2h-2zm1 0h2v2h-2zm-227 1h2v2h-2zm23 0h2v2h-2zm22 0h2v2h-2zm1 0h2v2h-2zm43 1h2v2h-2zm44 0h2v2h-2zm-127 1h2v2h-2zm47 0h2v2h-2zm23 0h2v2h-2zm15 0h2v2h-2zm3 0h2v2h-2zm58 0h2v2h-2zm-92 1h2v2h-2zm7 0h2v2h-2zm5 0h2v2h-2zm61 0h2v2h-2zm18 0h2v2h-2zm7 0h2v2h-2zm-92 1h2v2h-2zm47 0h2v2h-2zm116 0h2v2h-2zm1 0h2v2h-2zm-225 1h2v2h-2zm22 0h2v2h-2zm21 0h2v2h-2zm12 0h2v2h-2zm7 0h2v2h-2zm145 0h2v2h-2zm-175 1h2v2h-2zm9 0h2v2h-2zm15 0h2v2h-2zm5 0h2v2h-2zm44 0h2v2h-2zm37 0h2v2h-2zm6 0h2v2h-2zm1 0h2v2h-2zm50 0h2v2h-2zm25 0h2v2h-2zm-198 1h2v2h-2zm11 0h2v2h-2zm166 0h2v2h-2zm-195 1h2v2h-2zm31 0h2v2h-2zm12 0h2v2h-2zm25 0h2v2h-2zm-79 1h2v2h-2zm16 0h2v2h-2zm6 0h2v2h-2zm18 0h2v2h-2zm41 0h2v2h-2zm13 0h2v2h-2zm109 0h2v2h-2zm-153 1h2v2h-2zm26 0h2v2h-2zm23 0h2v2h-2zm3 0h2v2h-2zm107 0h2v2h-2zm100 0h2v2h-2zm-281 1h2v2h-2zm13 0h2v2h-2zm1 0h2v2h-2zm20 0h2v2h-2zm-24 1h2v2h-2zm41 0h2v2h-2zm4 0h2v2h-2zm4 0h2v2h-2zm41 0h2v2h-2zm88 0h2v2h-2zm-217 1h2v2h-2zm4 0h2v2h-2zm38 0h2v2h-2zm4 0h2v2h-2zm27 0h2v2h-2zm12 0h2v2h-2zm-34 1h2v2h-2zm22 0h2v2h-2zm9 0h2v2h-2zm67 0h2v2h-2zm61 0h2v2h-2zm22 0h2v2h-2zm-236 1h2v2h-2zm32 0h2v2h-2zm22 0h2v2h-2zm36 0h2v2h-2zm3 0h2v2h-2zm34 0h2v2h-2zm12 0h2v2h-2zm15 0h2v2h-2zm-104 1h2v2h-2zm71 0h2v2h-2zm94 0h2v2h-2zm23 0h2v2h-2zm-232 1h2v2h-2zm26 0h2v2h-2zm27 0h2v2h-2zm13 0h2v2h-2zm2 0h2v2h-2zm136 0h2v2h-2zm16 0h2v2h-2zm-188 1h2v2h-2zm9 0h2v2h-2zm3 0h2v2h-2zm30 0h2v2h-2zm16 0h2v2h-2zm21 0h2v2h-2zm41 0h2v2h-2zm2 0h2v2h-2zm52 0h2v2h-2zm-199 1h2v2h-2zm84 0h2v2h-2zm135 0h2v2h-2zm-221 1h2v2h-2zm32 0h2v2h-2zm15 0h2v2h-2zm39 0h2v2h-2zm13 0h2v2h-2zm26 0h2v2h-2zm24 0h2v2h-2zm62 0h2v2h-2zm-214 1h2v2h-2zm33 0h2v2h-2zm8 0h2v2h-2zm26 0h2v2h-2zm8 0h2v2h-2zm74 0h2v2h-2zm64 0h2v2h-2zm10 0h2v2h-2zm-205 1h2v2h-2zm32 0h2v2h-2zm10 0h2v2h-2zm17 0h2v2h-2zm4 0h2v2h-2zm127 0h2v2h-2zm-189 1h2v2h-2zm10 0h2v2h-2zm10 0h2v2h-2zm9 0h2v2h-2zm17 0h2v2h-2zm32 0h2v2h-2zm55 0h2v2h-2zm-145 1h2v2h-2zm8 0h2v2h-2zm58 0h2v2h-2zm12 0h2v2h-2zm129 0h2v2h-2zm-220 1h2v2h-2zm36 0h2v2h-2zm34 0h2v2h-2zm9 0h2v2h-2zm1 0h2v2h-2zm37 0h2v2h-2zm9 0h2v2h-2zm-67 1h2v2h-2zm17 0h2v2h-2zm1 0h2v2h-2zm144 0h2v2h-2zm13 0h2v2h-2zm65 0h2v2h-2zm-233 1h2v2h-2zm36 0h2v2h-2zm-76 1h2v2h-2zm3 0h2v2h-2zm8 0h2v2h-2zm108 0h2v2h-2zm12 0h2v2h-2zm67 0h2v2h-2zm-213 1h2v2h-2zm6 0h2v2h-2zm25 0h2v2h-2zm3 0h2v2h-2zm4 0h2v2h-2zm46 0h2v2h-2zm-51 1h2v2h-2zm19 0h2v2h-2zm32 0h2v2h-2zm16 0h2v2h-2zm1 0h2v2h-2zm108 0h2v2h-2zm1 0h2v2h-2zm-204 1h2v2h-2zm10 0h2v2h-2zm6 0h2v2h-2zm14 0h2v2h-2zm100 0h2v2h-2zm63 0h2v2h-2zm-191 1h2v2h-2zm60 0h2v2h-2zm59 0h2v2h-2zm81 0h2v2h-2zm8 0h2v2h-2zm-205 1h2v2h-2zm11 0h2v2h-2zm9 0h2v2h-2zm2 0h2v2h-2zm54 0h2v2h-2zm34 0h2v2h-2zm11 0h2v2h-2zm13 0h2v2h-2zm-135 1h2v2h-2zm2 0h2v2h-2zm20 0h2v2h-2zm21 0h2v2h-2zm22 0h2v2h-2zm60 0h2v2h-2zm11 0h2v2h-2zm51 0h2v2h-2zm2 0h2v2h-2zm8 0h2v2h-2zm-211 1h2v2h-2zm32 0h2v2h-2zm3 0h2v2h-2zm19 0h2v2h-2zm1 0h2v2h-2zm1 0h2v2h-2zm4 0h2v2h-2zm11 0h2v2h-2zm12 0h2v2h-2zm23 0h2v2h-2zm-51 1h2v2h-2zm3 0h2v2h-2zm26 0h2v2h-2zm123 0h2v2h-2zm-198 1h2v2h-2zm4 0h2v2h-2zm4 0h2v2h-2zm26 0h2v2h-2zm3 0h2v2h-2zm3 0h2v2h-2zm-58 1h2v2h-2zm16 0h2v2h-2zm3 0h2v2h-2zm7 0h2v2h-2zm13 0h2v2h-2zm12 0h2v2h-2zm35 0h2v2h-2zm68 0h2v2h-2zm57 0h2v2h-2zm12 0h2v2h-2zm-195 1h2v2h-2zm2 0h2v2h-2zm2 0h2v2h-2zm11 0h2v2h-2zm7 0h2v2h-2zm4 0h2v2h-2zm26 0h2v2h-2zm23 0h2v2h-2zm-91 1h2v2h-2zm64 0h2v2h-2zm39 0h2v2h-2zm116 0h2v2h-2zm-188 1h2v2h-2zm4 0h2v2h-2zm10 0h2v2h-2zm30 0h2v2h-2zm3 0h2v2h-2zm43 0h2v2h-2zm8 0h2v2h-2zm73 0h2v2h-2zm2 0h2v2h-2zm-189 1h2v2h-2zm9 0h2v2h-2zm10 0h2v2h-2zm12 0h2v2h-2zm2 0h2v2h-2zm7 0h2v2h-2zm1 0h2v2h-2zm3 0h2v2h-2zm144 0h2v2h-2zm-185 1h2v2h-2zm10 0h2v2h-2zm2 0h2v2h-2zm3 0h2v2h-2zm25 0h2v2h-2zm22 0h2v2h-2zm17 0h2v2h-2zm48 0h2v2h-2zm-85 1h2v2h-2zm13 0h2v2h-2zm16 0h2v2h-2zm12 0h2v2h-2zm121 0h2v2h-2zm-215 1h2v2h-2zm5 0h2v2h-2zm4 0h2v2h-2zm6 0h2v2h-2zm13 0h2v2h-2zm8 0h2v2h-2zm1 0h2v2h-2zm16 0h2v2h-2zm84 0h2v2h-2zm-155 1h2v2h-2zm15 0h2v2h-2zm3 0h2v2h-2zm25 0h2v2h-2zm18 0h2v2h-2zm83 0h2v2h-2zm69 0h2v2h-2zm6 0h2v2h-2zm-180 1h2v2h-2zm4 0h2v2h-2zm7 0h2v2h-2zm3 0h2v2h-2zm21 0h2v2h-2zm7 0h2v2h-2zm21 0h2v2h-2zm106 0h2v2h-2zm12 0h2v2h-2zm-220 1h2v2h-2zm37 0h2v2h-2zm10 0h2v2h-2zm22 0h2v2h-2zm13 0h2v2h-2zm17 0h2v2h-2zm109 0h2v2h-2zm-199 1h2v2h-2zm5 0h2v2h-2zm27 0h2v2h-2zm20 0h2v2h-2zm11 0h2v2h-2zm5 0h2v2h-2zm15 0h2v2h-2zm14 0h2v2h-2zm49 0h2v2h-2zm1 0h2v2h-2zm-147 1h2v2h-2zm25 0h2v2h-2zm19 0h2v2h-2zm10 0h2v2h-2zm1 0h2v2h-2zm7 0h2v2h-2zm82 0h2v2h-2zm-149 1h2v2h-2zm1 0h2v2h-2zm59 0h2v2h-2zm17 0h2v2h-2zm10 0h2v2h-2zm17 0h2v2h-2zm-106 1h2v2h-2zm13 0h2v2h-2zm28 0h2v2h-2zm2 0h2v2h-2zm5 0h2v2h-2zm23 0h2v2h-2zm12 0h2v2h-2zm123 0h2v2h-2zm-173 1h2v2h-2zm9 0h2v2h-2zm36 0h2v2h-2zm12 0h2v2h-2zm13 0h2v2h-2zm15 0h2v2h-2zm26 0h2v2h-2zm95 0h2v2h-2zm-221 1h2v2h-2zm5 0h2v2h-2zm7 0h2v2h-2zm26 0h2v2h-2zm16 0h2v2h-2zm14 0h2v2h-2zm20 0h2v2h-2zm105 0h2v2h-2zm-190 1h2v2h-2zm7 0h2v2h-2zm62 0h2v2h-2zm2 0h2v2h-2zm7 0h2v2h-2zm53 0h2v2h-2zm-121 1h2v2h-2zm19 0h2v2h-2zm4 0h2v2h-2zm40 0h2v2h-2zm13 0h2v2h-2zm25 0h2v2h-2zm94 0h2v2h-2zm-174 1h2v2h-2zm3 0h2v2h-2zm8 0h2v2h-2zm10 0h2v2h-2zm10 0h2v2h-2zm21 0h2v2h-2zm120 0h2v2h-2zm2 0h2v2h-2zm-173 1h2v2h-2zm40 0h2v2h-2zm112 0h2v2h-2zm7 0h2v2h-2zm6 0h2v2h-2zm-199 1h2v2h-2zm7 0h2v2h-2zm1 0h2v2h-2zm10 0h2v2h-2zm7 0h2v2h-2zm15 0h2v2h-2zm22 0h2v2h-2zm2 0h2v2h-2zm27 0h2v2h-2zm3 0h2v2h-2zm23 0h2v2h-2zm17 0h2v2h-2zm67 0h2v2h-2zm6 0h2v2h-2zm-216 1h2v2h-2zm22 0h2v2h-2zm2 0h2v2h-2zm6 0h2v2h-2zm9 0h2v2h-2zm15 0h2v2h-2zm1 0h2v2h-2zm11 0h2v2h-2zm1 0h2v2h-2zm7 0h2v2h-2zm30 0h2v2h-2zm27 0h2v2h-2zm75 0h2v2h-2zm-201 1h2v2h-2zm6 0h2v2h-2zm50 0h2v2h-2zm17 0h2v2h-2zm25 0h2v2h-2zm29 0h2v2h-2zm10 0h2v2h-2zm65 0h2v2h-2zm-212 1h2v2h-2zm11 0h2v2h-2zm11 0h2v2h-2zm10 0h2v2h-2zm22 0h2v2h-2zm8 0h2v2h-2zm22 0h2v2h-2zm116 0h2v2h-2zm12 0h2v2h-2zm-202 1h2v2h-2zm14 0h2v2h-2zm21 0h2v2h-2zm12 0h2v2h-2zm10 0h2v2h-2zm1 0h2v2h-2zm67 0h2v2h-2zm81 0h2v2h-2zm12 0h2v2h-2zm-236 1h2v2h-2zm7 0h2v2h-2zm31 0h2v2h-2zm2 0h2v2h-2zm14 0h2v2h-2zm7 0h2v2h-2zm9 0h2v2h-2zm156 0h2v2h-2zm-186 1h2v2h-2zm7 0h2v2h-2zm8 0h2v2h-2zm15 0h2v2h-2zm23 0h2v2h-2zm4 0h2v2h-2zm25 0h2v2h-2zm87 0h2v2h-2zm4 0h2v2h-2zm1 0h2v2h-2zm-208 1h2v2h-2zm56 0h2v2h-2zm11 0h2v2h-2zm2 0h2v2h-2zm26 0h2v2h-2zm53 0h2v2h-2zm-137 1h2v2h-2zm8 0h2v2h-2zm3 0h2v2h-2zm3 0h2v2h-2zm45 0h2v2h-2zm35 0h2v2h-2zm113 0h2v2h-2zm12 0h2v2h-2zm-224 1h2v2h-2zm17 0h2v2h-2zm14 0h2v2h-2zm14 0h2v2h-2zm12 0h2v2h-2zm15 0h2v2h-2zm28 0h2v2h-2zm30 0h2v2h-2zm-123 1h2v2h-2zm11 0h2v2h-2zm11 0h2v2h-2zm33 0h2v2h-2zm1 0h2v2h-2zm1 0h2v2h-2zm72 0h2v2h-2zm-83 1h2v2h-2zm32 0h2v2h-2zm39 0h2v2h-2zm99 0h2v2h-2zm-187 1h2v2h-2zm15 0h2v2h-2zm7 0h2v2h-2zm4 0h2v2h-2zm4 0h2v2h-2zm16 0h2v2h-2zm114 0h2v2h-2zm-189 1h2v2h-2zm18 0h2v2h-2zm16 0h2v2h-2zm19 0h2v2h-2zm86 0h2v2h-2zm-140 1h2v2h-2zm16 0h2v2h-2zm121 0h2v2h-2zm89 0h2v2h-2zm-236 1h2v2h-2zm1 0h2v2h-2zm4 0h2v2h-2zm5 0h2v2h-2zm21 0h2v2h-2zm25 0h2v2h-2zm241 0h2v2h-2zm-272 1h2v2h-2zm9 0h2v2h-2zm47 0h2v2h-2zm62 0h2v2h-2zm-137 1h2v2h-2zm7 0h2v2h-2zm7 0h2v2h-2zm33 0h2v2h-2zm1 0h2v2h-2zm46 0h2v2h-2zm10 0h2v2h-2zm8 0h2v2h-2zm28 0h2v2h-2zm3 0h2v2h-2zm-119 1h2v2h-2zm12 0h2v2h-2zm10 0h2v2h-2zm15 0h2v2h-2zm30 0h2v2h-2zm51 0h2v2h-2zm-126 1h2v2h-2zm16 0h2v2h-2zm9 0h2v2h-2zm14 0h2v2h-2zm22 0h2v2h-2zm11 0h2v2h-2zm2 0h2v2h-2zm54 0h2v2h-2zm-152 1h2v2h-2zm21 0h2v2h-2zm10 0h2v2h-2zm3 0h2v2h-2zm3 0h2v2h-2zm18 0h2v2h-2zm8 0h2v2h-2zm10 0h2v2h-2zm40 0h2v2h-2zm90 0h2v2h-2zm-193 1h2v2h-2zm50 0h2v2h-2zm9 0h2v2h-2zm3 0h2v2h-2zm4 0h2v2h-2zm1 0h2v2h-2zm64 0h2v2h-2zm4 0h2v2h-2zm-110 1h2v2h-2zm1 0h2v2h-2zm7 0h2v2h-2zm62 0h2v2h-2zm10 0h2v2h-2zm37 0h2v2h-2zm61 0h2v2h-2zm-183 1h2v2h-2zm2 0h2v2h-2zm13 0h2v2h-2zm1 0h2v2h-2zm100 0h2v2h-2zm1 0h2v2h-2zm3 0h2v2h-2zm56 0h2v2h-2zm11 0h2v2h-2zm8 0h2v2h-2zm-219 1h2v2h-2zm3 0h2v2h-2zm3 0h2v2h-2zm2 0h2v2h-2zm20 0h2v2h-2zm2 0h2v2h-2zm16 0h2v2h-2zm10 0h2v2h-2zm2 0h2v2h-2zm37 0h2v2h-2zm99 0h2v2h-2zm1 0h2v2h-2zm-130 1h2v2h-2zm53 0h2v2h-2zm22 0h2v2h-2zm-131 1h2v2h-2zm29 0h2v2h-2zm19 0h2v2h-2zm17 0h2v2h-2zm20 0h2v2h-2zm3 0h2v2h-2zm36 0h2v2h-2zm2 0h2v2h-2zm11 0h2v2h-2zm1 0h2v2h-2zm47 0h2v2h-2zm7 0h2v2h-2zm7 0h2v2h-2zm7 0h2v2h-2zm-207 1h2v2h-2zm18 0h2v2h-2zm3 0h2v2h-2zm13 0h2v2h-2zm24 0h2v2h-2zm135 0h2v2h-2zm-209 1h2v2h-2zm12 0h2v2h-2zm7 0h2v2h-2zm28 0h2v2h-2zm1 0h2v2h-2zm6 0h2v2h-2zm13 0h2v2h-2zm5 0h2v2h-2zm6 0h2v2h-2zm258 0h2v2h-2zm-331 1h2v2h-2zm6 0h2v2h-2zm28 0h2v2h-2zm5 0h2v2h-2zm4 0h2v2h-2zm25 0h2v2h-2zm18 0h2v2h-2zm10 0h2v2h-2zm32 0h2v2h-2zm74 0h2v2h-2zm-182 1h2v2h-2zm27 0h2v2h-2zm4 0h2v2h-2zm4 0h2v2h-2zm1 0h2v2h-2zm55 0h2v2h-2zm95 0h2v2h-2zm-155 1h2v2h-2zm7 0h2v2h-2zm9 0h2v2h-2zm16 0h2v2h-2zm7 0h2v2h-2zm14 0h2v2h-2zm8 0h2v2h-2zm-91 1h2v2h-2zm15 0h2v2h-2zm43 0h2v2h-2zm1 0h2v2h-2zm26 0h2v2h-2zm24 0h2v2h-2zm-111 1h2v2h-2zm9 0h2v2h-2zm30 0h2v2h-2zm65 0h2v2h-2zm78 0h2v2h-2zm-186 1h2v2h-2zm9 0h2v2h-2zm29 0h2v2h-2zm1 0h2v2h-2zm20 0h2v2h-2zm38 0h2v2h-2zm25 0h2v2h-2zm-143 1h2v2h-2zm17 0h2v2h-2zm10 0h2v2h-2zm6 0h2v2h-2zm32 0h2v2h-2zm25 0h2v2h-2zm1 0h2v2h-2zm1 0h2v2h-2zm56 0h2v2h-2zm90 0h2v2h-2zm-224 1h2v2h-2zm20 0h2v2h-2zm22 0h2v2h-2zm26 0h2v2h-2zm31 0h2v2h-2zm19 0h2v2h-2zm-126 1h2v2h-2zm29 0h2v2h-2zm3 0h2v2h-2zm6 0h2v2h-2zm27 0h2v2h-2zm41 0h2v2h-2zm97 0h2v2h-2zm126 0h2v2h-2zm-301 1h2v2h-2zm45 0h2v2h-2zm2 0h2v2h-2zm29 0h2v2h-2zm5 0h2v2h-2zm45 0h2v2h-2zm-107 1h2v2h-2zm5 0h2v2h-2zm10 0h2v2h-2zm88 0h2v2h-2zm51 0h2v2h-2zm-188 1h2v2h-2zm11 0h2v2h-2zm15 0h2v2h-2zm14 0h2v2h-2zm27 0h2v2h-2zm23 0h2v2h-2zm-105 1h2v2h-2zm68 0h2v2h-2zm16 0h2v2h-2zm64 0h2v2h-2zm-137 1h2v2h-2zm18 0h2v2h-2zm13 0h2v2h-2zm3 0h2v2h-2zm48 0h2v2h-2zm-50 1h2v2h-2zm6 0h2v2h-2zm8 0h2v2h-2zm4 0h2v2h-2zm12 0h2v2h-2zm6 0h2v2h-2zm1 0h2v2h-2zm52 0h2v2h-2zm6 0h2v2h-2zm-86 1h2v2h-2zm13 0h2v2h-2zm10 0h2v2h-2zm13 0h2v2h-2zm106 0h2v2h-2zm-180 1h2v2h-2zm10 0h2v2h-2zm10 0h2v2h-2zm10 0h2v2h-2zm26 0h2v2h-2zm169 0h2v2h-2zm-233 1h2v2h-2zm20 0h2v2h-2zm1 0h2v2h-2zm16 0h2v2h-2zm52 0h2v2h-2zm64 0h2v2h-2zm-145 1h2v2h-2zm15 0h2v2h-2zm3 0h2v2h-2zm13 0h2v2h-2zm6 0h2v2h-2zm4 0h2v2h-2zm13 0h2v2h-2zm3 0h2v2h-2zm40 0h2v2h-2zm26 0h2v2h-2zm5 0h2v2h-2zm85 0h2v2h-2zm-228 1h2v2h-2zm48 0h2v2h-2zm50 0h2v2h-2zm113 0h2v2h-2zm12 0h2v2h-2zm-181 1h2v2h-2zm7 0h2v2h-2zm12 0h2v2h-2zm1 0h2v2h-2zm10 0h2v2h-2zm6 0h2v2h-2zm121 0h2v2h-2zm12 0h2v2h-2zm-190 1h2v2h-2zm20 0h2v2h-2zm4 0h2v2h-2zm46 0h2v2h-2zm17 0h2v2h-2zm46 0h2v2h-2zm-115 1h2v2h-2zm8 0h2v2h-2zm89 0h2v2h-2zm7 0h2v2h-2zm62 0h2v2h-2zm9 0h2v2h-2zm6 0h2v2h-2zm1 0h2v2h-2zm-226 1h2v2h-2zm35 0h2v2h-2zm3 0h2v2h-2zm5 0h2v2h-2zm41 0h2v2h-2zm34 0h2v2h-2zm19 0h2v2h-2zm78 0h2v2h-2zm-193 1h2v2h-2zm48 0h2v2h-2zm106 0h2v2h-2zm15 0h2v2h-2zm25 0h2v2h-2zm14 0h2v2h-2zm-197 1h2v2h-2zm6 0h2v2h-2zm8 0h2v2h-2zm4 0h2v2h-2zm10 0h2v2h-2zm3 0h2v2h-2zm87 0h2v2h-2zm17 0h2v2h-2zm16 0h2v2h-2zm22 0h2v2h-2zm-170 1h2v2h-2zm22 0h2v2h-2zm7 0h2v2h-2zm5 0h2v2h-2zm21 0h2v2h-2zm5 0h2v2h-2zm74 0h2v2h-2zm23 0h2v2h-2zm17 0h2v2h-2zm18 0h2v2h-2zm-209 1h2v2h-2zm42 0h2v2h-2zm121 0h2v2h-2zm161 0h2v2h-2zm-339 1h2v2h-2zm47 0h2v2h-2zm6 0h2v2h-2zm162 0h2v2h-2zm-209 1h2v2h-2zm34 0h2v2h-2zm20 0h2v2h-2zm7 0h2v2h-2zm25 0h2v2h-2zm72 0h2v2h-2zm15 0h2v2h-2zm6 0h2v2h-2zm25 0h2v2h-2zm8 0h2v2h-2zm-189 1h2v2h-2zm10 0h2v2h-2zm46 0h2v2h-2zm7 0h2v2h-2zm3 0h2v2h-2zm96 0h2v2h-2zm4 0h2v2h-2zm21 0h2v2h-2zm-191 1h2v2h-2zm12 0h2v2h-2zm9 0h2v2h-2zm9 0h2v2h-2zm-53 1h2v2h-2zm15 0h2v2h-2zm13 0h2v2h-2zm20 0h2v2h-2zm17 0h2v2h-2zm132 0h2v2h-2zm12 0h2v2h-2zm10 0h2v2h-2zm110 0h2v2h-2zm-176 1h2v2h-2zm28 0h2v2h-2zm-167 1h2v2h-2zm3 0h2v2h-2zm4 0h2v2h-2zm43 0h2v2h-2zm8 0h2v2h-2zm98 0h2v2h-2zm23 0h2v2h-2zm27 0h2v2h-2zm-173 1h2v2h-2zm10 0h2v2h-2zm4 0h2v2h-2zm133 0h2v2h-2zm23 0h2v2h-2zm-185 1h2v2h-2zm144 0h2v2h-2zm9 0h2v2h-2zm-186 1h2v2h-2zm9 0h2v2h-2zm7 0h2v2h-2zm33 0h2v2h-2zm1 0h2v2h-2zm36 0h2v2h-2zm139 0h2v2h-2zm-202 1h2v2h-2zm37 0h2v2h-2zm5 0h2v2h-2zm13 0h2v2h-2zm105 0h2v2h-2zm-129 1h2v2h-2zm19 0h2v2h-2zm85 0h2v2h-2zm21 0h2v2h-2zm16 0h2v2h-2zm8 0h2v2h-2zm16 0h2v2h-2zm-206 1h2v2h-2zm3 0h2v2h-2zm28 0h2v2h-2zm61 0h2v2h-2zm37 0h2v2h-2zm83 0h2v2h-2zm-228 1h2v2h-2zm48 0h2v2h-2zm10 0h2v2h-2zm6 0h2v2h-2zm4 0h2v2h-2zm86 0h2v2h-2zm28 0h2v2h-2zm22 0h2v2h-2zm11 0h2v2h-2zm-197 1h2v2h-2zm16 0h2v2h-2zm65 0h2v2h-2zm67 0h2v2h-2zm11 0h2v2h-2zm27 0h2v2h-2zm8 0h2v2h-2zm-134 1h2v2h-2zm6 0h2v2h-2zm14 0h2v2h-2zm-79 1h2v2h-2zm12 0h2v2h-2zm34 0h2v2h-2zm8 0h2v2h-2zm1 0h2v2h-2zm86 0h2v2h-2zm-163 1h2v2h-2zm25 0h2v2h-2zm36 0h2v2h-2zm1 0h2v2h-2zm2 0h2v2h-2zm15 0h2v2h-2zm-42 1h2v2h-2zm161 0h2v2h-2zm5 0h2v2h-2zm-181 1h2v2h-2zm12 0h2v2h-2zm46 0h2v2h-2zm2 0h2v2h-2zm15 0h2v2h-2zm89 0h2v2h-2zm-102 1h2v2h-2zm93 0h2v2h-2zm39 0h2v2h-2zm8 0h2v2h-2z" fill="#000"/><path d="M934 168h3v3h-3zm-9 13h3v3h-3zm-2 1h3v3h-3zm5 11h3v3h-3zm23 2h3v3h-3zm-11 11h3v3h-3zm-4 5h3v3h-3zm6 2h3v3h-3zm28 0h3v3h-3zm-33 4h3v3h-3zm-150 2h3v3h-3zm104 0h3v3h-3zm40 1h3v3h-3zm149 0h3v3h-3zm-101 2h3v3h-3zm-42 2h3v3h-3zm-92 1h3v3h-3zm90 2h3v3h-3zm-20 4h3v3h-3zm20 2h3v3h-3zm4 0h3v3h-3zm1 0h3v3h-3zm3 0h3v3h-3zm-13 1h3v3h-3zm13 0h3v3h-3zm9 1h3v3h-3zm2 1h3v3h-3zm-20 1h3v3h-3zm8 11h3v3h-3zm6 1h3v3h-3zm11 2h3v3h-3zm-15 3h3v3h-3zm13 3h3v3h-3zm4 2h3v3h-3zm-53 1h3v3h-3zm35 1h3v3h-3zm23 2h3v3h-3zm-27 2h3v3h-3zm12 0h3v3h-3zm14 0h3v3h-3zm-47 2h3v3h-3zm30 2h3v3h-3zm3 1h3v3h-3zm1 0h3v3h-3zm-12 1h3v3h-3zm17 0h3v3h-3zm11 1h3v3h-3zm-30 1h3v3h-3zm69 0h3v3h-3zm-65 1h3v3h-3zm22 2h3v3h-3zm5 0h3v3h-3zm-39 1h3v3h-3zm-7 1h3v3h-3zm6 0h3v3h-3zm13 0h3v3h-3zm-18 1h3v3h-3zm9 0h3v3h-3zm7 0h3v3h-3zm3 0h3v3h-3zm8 0h3v3h-3zm-5 1h3v3h-3zm9 0h3v3h-3zm4 1h3v3h-3zm-74 1h3v3h-3zm67 0h3v3h-3zm-4 1h3v3h-3zm3 1h3v3h-3zm7 0h3v3h-3zm-69 1h3v3h-3zm67 1h3v3h-3zm9 0h3v3h-3zm13 0h3v3h-3zm-65 1h3v3h-3zm8 0h3v3h-3zm7 0h3v3h-3zm1 0h3v3h-3zm20 0h3v3h-3zm11 0h3v3h-3zm-21 1h3v3h-3zm6 0h3v3h-3zm29 0h3v3h-3zm-28 1h3v3h-3zm-23 1h3v3h-3zm7 0h3v3h-3zm13 0h3v3h-3zm9 0h3v3h-3zm1 0h3v3h-3zm-37 1h3v3h-3zm10 0h3v3h-3zm4 0h3v3h-3zm27 0h3v3h-3zm2 0h3v3h-3zm-135 1h3v3h-3zm97 0h3v3h-3zm2 0h3v3h-3zm1 0h3v3h-3zm31 0h3v3h-3zm-33 1h3v3h-3zm13 0h3v3h-3zm12 1h3v3h-3zm9 0h3v3h-3zm1 0h3v3h-3zm-42 1h3v3h-3zm6 0h3v3h-3zm5 0h3v3h-3zm14 0h3v3h-3zm11 0h3v3h-3zm6 0h3v3h-3zm13 0h3v3h-3zm-54 1h3v3h-3zm23 0h3v3h-3zm16 0h3v3h-3zm4 0h3v3h-3zm-19 1h3v3h-3zm9 0h3v3h-3zm1 0h3v3h-3zm7 0h3v3h-3zm-54 1h3v3h-3zm32 0h3v3h-3zm2 0h3v3h-3zm9 0h3v3h-3zm7 0h3v3h-3zm-24 1h3v3h-3zm3 0h3v3h-3zm6 0h3v3h-3zm2 0h3v3h-3zm5 0h3v3h-3zm-178 1h3v3h-3zm168 0h3v3h-3zm7 0h3v3h-3zm4 0h3v3h-3zm8 0h3v3h-3zm7 0h3v3h-3zm1 0h3v3h-3zm-41 1h3v3h-3zm4 0h3v3h-3zm3 0h3v3h-3zm10 0h3v3h-3zm7 0h3v3h-3zm7 0h3v3h-3zm2 0h3v3h-3zm-40 1h3v3h-3zm2 0h3v3h-3zm12 0h3v3h-3zm26 0h3v3h-3zm7 0h3v3h-3zm-58 1h3v3h-3zm27 0h3v3h-3zm15 0h3v3h-3zm-19 1h3v3h-3zm1 0h3v3h-3zm7 0h3v3h-3zm1 0h3v3h-3zm1 0h3v3h-3zm8 0h3v3h-3zm4 0h3v3h-3zm22 0h3v3h-3zm-46 1h3v3h-3zm11 0h3v3h-3zm3 0h3v3h-3zm4 0h3v3h-3zm9 0h3v3h-3zm2 0h3v3h-3zm1 0h3v3h-3zm-35 1h3v3h-3zm8 0h3v3h-3zm2 0h3v3h-3zm8 0h3v3h-3zm1 0h3v3h-3zm6 0h3v3h-3zm1 0h3v3h-3zm3 0h3v3h-3zm15 0h3v3h-3zm5 0h3v3h-3zm-50 1h3v3h-3zm5 0h3v3h-3zm2 0h3v3h-3zm6 0h3v3h-3zm1 0h3v3h-3zm1 0h3v3h-3zm13 0h3v3h-3zm4 0h3v3h-3zm23 0h3v3h-3zm-68 1h3v3h-3zm22 0h3v3h-3zm6 0h3v3h-3zm17 0h3v3h-3zm10 0h3v3h-3zm7 0h3v3h-3zm-60 1h3v3h-3zm5 0h3v3h-3zm8 0h3v3h-3zm13 0h3v3h-3zm3 0h3v3h-3zm13 0h3v3h-3zm1 0h3v3h-3zm1 0h3v3h-3zm-32 1h3v3h-3zm3 0h3v3h-3zm4 0h3v3h-3zm1 0h3v3h-3zm27 0h3v3h-3zm17 0h3v3h-3zm-57 1h3v3h-3zm24 0h3v3h-3zm3 0h3v3h-3zm1 0h3v3h-3zm2 0h3v3h-3zm1 0h3v3h-3zm3 0h3v3h-3zm3 0h3v3h-3zm-177 1h3v3h-3zm147 0h3v3h-3zm2 0h3v3h-3zm8 0h3v3h-3zm21 0h3v3h-3zm13 0h3v3h-3zm8 0h3v3h-3zm-76 1h3v3h-3zm13 0h3v3h-3zm8 0h3v3h-3zm5 0h3v3h-3zm8 0h3v3h-3zm3 0h3v3h-3zm9 0h3v3h-3zm10 0h3v3h-3zm2 0h3v3h-3zm2 0h3v3h-3zm1 0h3v3h-3zm4 0h3v3h-3zm-42 1h3v3h-3zm2 0h3v3h-3zm5 0h3v3h-3zm5 0h3v3h-3zm4 0h3v3h-3zm1 0h3v3h-3zm3 0h3v3h-3zm1 0h3v3h-3zm6 0h3v3h-3zm12 0h3v3h-3zm1 0h3v3h-3zm-34 1h3v3h-3zm4 0h3v3h-3zm10 0h3v3h-3zm1 0h3v3h-3zm8 0h3v3h-3zm2 0h3v3h-3zm7 0h3v3h-3zm5 0h3v3h-3zm-43 1h3v3h-3zm3 0h3v3h-3zm11 0h3v3h-3zm3 0h3v3h-3zm7 0h3v3h-3zm3 0h3v3h-3zm3 0h3v3h-3zm31 0h3v3h-3zm-71 1h3v3h-3zm12 0h3v3h-3zm15 0h3v3h-3zm5 0h3v3h-3zm1 0h3v3h-3zm3 0h3v3h-3zm2 0h3v3h-3zm12 0h3v3h-3zm-46 1h3v3h-3zm1 0h3v3h-3zm7 0h3v3h-3zm13 0h3v3h-3zm4 0h3v3h-3zm2 0h3v3h-3zm4 0h3v3h-3zm3 0h3v3h-3zm1 0h3v3h-3zm3 0h3v3h-3zm4 0h3v3h-3zm-49 1h3v3h-3zm6 0h3v3h-3zm1 0h3v3h-3zm1 0h3v3h-3zm7 0h3v3h-3zm7 0h3v3h-3zm3 0h3v3h-3zm4 0h3v3h-3zm8 0h3v3h-3zm5 0h3v3h-3zm3 0h3v3h-3zm3 0h3v3h-3zm17 0h3v3h-3zm-50 1h3v3h-3zm-79 1h3v3h-3zm68 0h3v3h-3zm9 0h3v3h-3zm7 0h3v3h-3zm2 0h3v3h-3zm19 0h3v3h-3zm7 0h3v3h-3zm3 0h3v3h-3zm22 0h3v3h-3zm-66 1h3v3h-3zm12 0h3v3h-3zm9 0h3v3h-3zm6 0h3v3h-3zm8 0h3v3h-3zm4 0h3v3h-3zm-33 1h3v3h-3zm19 0h3v3h-3zm2 0h3v3h-3zm1 0h3v3h-3zm1 0h3v3h-3zm10 0h3v3h-3zm-150 1h3v3h-3zm115 0h3v3h-3zm23 0h3v3h-3zm6 0h3v3h-3zm7 0h3v3h-3zm2 0h3v3h-3zm2 0h3v3h-3zm-48 1h3v3h-3zm2 0h3v3h-3zm4 0h3v3h-3zm20 0h3v3h-3zm3 0h3v3h-3zm2 0h3v3h-3zm4 0h3v3h-3zm2 0h3v3h-3zm-44 1h3v3h-3zm23 0h3v3h-3zm3 0h3v3h-3zm13 0h3v3h-3zm2 0h3v3h-3zm7 0h3v3h-3zm-55 1h3v3h-3zm9 0h3v3h-3zm14 0h3v3h-3zm1 0h3v3h-3zm28 0h3v3h-3zm6 0h3v3h-3zm22 0h3v3h-3zm-75 1h3v3h-3zm14 0h3v3h-3zm10 0h3v3h-3zm10 0h3v3h-3zm5 0h3v3h-3zm1 0h3v3h-3zm22 0h3v3h-3zm2 0h3v3h-3zm-44 1h3v3h-3zm3 0h3v3h-3zm2 0h3v3h-3zm12 0h3v3h-3zm5 0h3v3h-3zm6 0h3v3h-3zm-45 1h3v3h-3zm13 0h3v3h-3zm9 0h3v3h-3zm24 0h3v3h-3zm6 0h3v3h-3zm-48 1h3v3h-3zm28 0h3v3h-3zm9 0h3v3h-3zm4 0h3v3h-3zm31 0h3v3h-3zm-54 1h3v3h-3zm5 0h3v3h-3zm6 0h3v3h-3zm9 0h3v3h-3zm6 0h3v3h-3zm15 0h3v3h-3zm5 0h3v3h-3zm-54 1h3v3h-3zm17 0h3v3h-3zm2 0h3v3h-3zm2 0h3v3h-3zm1 0h3v3h-3zm6 0h3v3h-3zm12 0h3v3h-3zm-36 1h3v3h-3zm3 0h3v3h-3zm17 0h3v3h-3zm1 0h3v3h-3zm7 0h3v3h-3zm3 0h3v3h-3zm2 0h3v3h-3zm-35 1h3v3h-3zm4 0h3v3h-3zm3 0h3v3h-3zm5 0h3v3h-3zm1 0h3v3h-3zm2 0h3v3h-3zm9 0h3v3h-3zm2 0h3v3h-3zm1 0h3v3h-3zm1 0h3v3h-3zm5 0h3v3h-3zm8 0h3v3h-3zm5 0h3v3h-3zm2 0h3v3h-3zm-59 1h3v3h-3zm21 0h3v3h-3zm5 0h3v3h-3zm51 0h3v3h-3zm-68 1h3v3h-3zm23 0h3v3h-3zm10 0h3v3h-3zm7 0h3v3h-3zm-43 1h3v3h-3zm39 0h3v3h-3zm6 0h3v3h-3zm-58 1h3v3h-3zm14 0h3v3h-3zm2 0h3v3h-3zm28 0h3v3h-3zm7 0h3v3h-3zm4 0h3v3h-3zm1 0h3v3h-3zm2 0h3v3h-3zm-171 1h3v3h-3zm13 0h3v3h-3zm61 0h3v3h-3zm52 0h3v3h-3zm4 0h3v3h-3zm10 0h3v3h-3zm3 0h3v3h-3zm13 0h3v3h-3zm2 0h3v3h-3zm7 0h3v3h-3zm95 0h3v3h-3zm-136 1h3v3h-3zm2 0h3v3h-3zm21 0h3v3h-3zm8 0h3v3h-3zm1 0h3v3h-3zm28 0h3v3h-3zm-115 1h3v3h-3zm58 0h3v3h-3zm3 0h3v3h-3zm8 0h3v3h-3zm9 0h3v3h-3zm9 0h3v3h-3zm12 0h3v3h-3zm34 0h3v3h-3zm-70 1h3v3h-3zm1 0h3v3h-3zm5 0h3v3h-3zm2 0h3v3h-3zm26 0h3v3h-3zm10 0h3v3h-3zm-53 1h3v3h-3zm2 0h3v3h-3zm2 0h3v3h-3zm13 0h3v3h-3zm16 0h3v3h-3zm3 0h3v3h-3zm5 0h3v3h-3zm1 0h3v3h-3zm7 0h3v3h-3zm1 0h3v3h-3zm3 0h3v3h-3zm-34 1h3v3h-3zm12 0h3v3h-3zm8 0h3v3h-3zm-98 1h3v3h-3zm41 0h3v3h-3zm27 0h3v3h-3zm3 0h3v3h-3zm6 0h3v3h-3zm1 0h3v3h-3zm5 0h3v3h-3zm-9 1h3v3h-3zm12 0h3v3h-3zm10 0h3v3h-3zm36 0h3v3h-3zm-211 1h3v3h-3zm158 0h3v3h-3zm1 0h3v3h-3zm4 0h3v3h-3zm16 0h3v3h-3zm1 0h3v3h-3zm-139 1h3v3h-3zm114 0h3v3h-3zm15 0h3v3h-3zm3 0h3v3h-3zm11 0h3v3h-3zm2 0h3v3h-3zm-43 1h3v3h-3zm3 0h3v3h-3zm8 0h3v3h-3zm-2 1h3v3h-3zm1 0h3v3h-3zm5 0h3v3h-3zm12 0h3v3h-3zm7 0h3v3h-3zm66 0h3v3h-3zm-101 1h3v3h-3zm7 0h3v3h-3zm18 0h3v3h-3zm43 0h3v3h-3zm-220 1h3v3h-3zm172 0h3v3h-3zm8 0h3v3h-3zm-29 1h3v3h-3zm19 0h3v3h-3zm24 0h3v3h-3zm3 0h3v3h-3zm-26 1h3v3h-3zm1 0h3v3h-3zm-8 1h3v3h-3zm35 0h3v3h-3zm-140 1h3v3h-3zm33 0h3v3h-3zm76 0h3v3h-3zm3 0h3v3h-3zm0 1h3v3h-3zm32 0h3v3h-3zm7 0h3v3h-3zm-55 2h3v3h-3zm-26 1h3v3h-3zm-129 1h3v3h-3zm61 2h3v3h-3zm153 0h3v3h-3zm-65 1h3v3h-3zm6 1h3v3h-3zm-127 3h3v3h-3zm28 1h3v3h-3zm68 0h3v3h-3zm-127 1h3v3h-3zm72 0h3v3h-3zm52 0h3v3h-3zm-57 4h3v3h-3zm-14 1h3v3h-3zm-1 1h3v3h-3zm69 0h3v3h-3zm-42 4h3v3h-3zm-78 2h3v3h-3zm8 0h3v3h-3zm28 0h3v3h-3zm165 0h3v3h-3zm14 0h3v3h-3zm-70 1h3v3h-3zm61 0h3v3h-3zm-112 1h3v3h-3zm41 0h3v3h-3zm107 0h3v3h-3zm-208 1h3v3h-3zm49 2h3v3h-3zm62 0h3v3h-3zm161 0h3v3h-3zm-157 1h3v3h-3zm77 0h3v3h-3zm-86 2h3v3h-3zm9 0h3v3h-3zm3 3h3v3h-3zm-128 1h3v3h-3zm10 0h3v3h-3zm181 0h3v3h-3zm-139 1h3v3h-3zm77 0h3v3h-3zm-69 1h3v3h-3zm69 0h3v3h-3zm-84 2h3v3h-3zm23 0h3v3h-3zm58 1h3v3h-3zm-63 1h3v3h-3zm-94 1h3v3h-3zm158 1h3v3h-3zm-143 1h3v3h-3zm61 0h3v3h-3zm31 0h3v3h-3zm-29 1h3v3h-3zm-24 1h3v3h-3zm41 0h3v3h-3zm54 0h3v3h-3zm-142 1h3v3h-3zm220 0h3v3h-3zm-129 1h3v3h-3zm41 0h3v3h-3zm13 0h3v3h-3zm-109 1h3v3h-3zm99 0h3v3h-3zm7 1h3v3h-3zm-127 1h3v3h-3zm24 0h3v3h-3zm171 0h3v3h-3zm-144 1h3v3h-3zm21 0h3v3h-3zm129 0h3v3h-3zm-142 1h3v3h-3zm71 0h3v3h-3zm-23 1h3v3h-3zm95 0h3v3h-3zm-172 2h3v3h-3zm-8 1h3v3h-3zm39 0h3v3h-3zm12 0h3v3h-3zm115 0h3v3h-3zm23 0h3v3h-3zm-170 3h3v3h-3zm92 0h3v3h-3zm-107 1h3v3h-3zm7 0h3v3h-3zm29 0h3v3h-3zm50 0h3v3h-3zm88 0h3v3h-3zm-181 1h3v3h-3zm25 0h3v3h-3zm82 0h3v3h-3zm-86 1h3v3h-3zm21 0h3v3h-3zm-15 1h3v3h-3zm56 0h3v3h-3zm157 0h3v3h-3zm-200 2h3v3h-3zm9 0h3v3h-3zm-8 1h3v3h-3zm68 0h3v3h-3zm-85 1h3v3h-3zm7 0h3v3h-3zm-49 1h3v3h-3zm88 0h3v3h-3zm-38 1h3v3h-3zm142 0h3v3h-3zm-166 1h3v3h-3zm103 0h3v3h-3zm1 0h3v3h-3zm-2 2h3v3h-3zm-144 1h3v3h-3zm61 0h3v3h-3zm71 0h3v3h-3zm-116 2h3v3h-3zm81 0h3v3h-3zm108 0h3v3h-3zm17 0h3v3h-3zm-156 1h3v3h-3zm4 0h3v3h-3zm27 0h3v3h-3zm52 0h3v3h-3zm-70 1h3v3h-3zm135 0h3v3h-3zm-79 1h3v3h-3zm14 0h3v3h-3zm66 1h3v3h-3zm-181 1h3v3h-3zm8 0h3v3h-3zm167 0h3v3h-3zm11 0h3v3h-3zm-179 2h3v3h-3zm107 0h3v3h-3zm73 0h3v3h-3zm5 0h3v3h-3zm-81 1h3v3h-3zm66 0h3v3h-3zm5 0h3v3h-3zm-179 3h3v3h-3zm6 0h3v3h-3zm-36 1h3v3h-3zm32 0h3v3h-3zm-46 1h3v3h-3zm68 0h3v3h-3zm22 1h3v3h-3zm-47 1h3v3h-3zm66 0h3v3h-3zm43 0h3v3h-3zm-46 1h3v3h-3zm-75 3h3v3h-3zm184 0h3v3h-3zm-110 2h3v3h-3zm129 0h3v3h-3zm-192 2h3v3h-3zm36 0h3v3h-3zm132 0h3v3h-3zm7 0h3v3h-3zm-192 1h3v3h-3zm14 0h3v3h-3zm13 0h3v3h-3zm13 0h3v3h-3zm156 0h3v3h-3zm-120 1h3v3h-3zm121 0h3v3h-3zm-147 1h3v3h-3zm150 0h3v3h-3zm-193 3h3v3h-3zm14 0h3v3h-3zm15 0h3v3h-3zm-8 1h3v3h-3zm108 0h3v3h-3zm66 0h3v3h-3zm-221 1h3v3h-3zm69 0h3v3h-3zm8 0h3v3h-3zm54 0h3v3h-3zm78 1h3v3h-3zm-167 1h3v3h-3zm114 1h3v3h-3zm-141 1h3v3h-3zm139 0h3v3h-3zm2 1h3v3h-3zm45 0h3v3h-3zm-88 1h3v3h-3zm-82 1h3v3h-3zm86 2h3v3h-3zm82 0h3v3h-3zm-132 1h3v3h-3zm136 0h3v3h-3zm-159 1h3v3h-3zm2 0h3v3h-3zm4 0h3v3h-3zm107 0h3v3h-3zm-110 1h3v3h-3zm252 1h3v3h-3zm-152 1h3v3h-3zm3 0h3v3h-3zm8 0h3v3h-3zm52 3h3v3h-3zm-154 2h3v3h-3zm161 2h3v3h-3zm-180 2h3v3h-3zm272 1h3v3h-3zm-296 1h3v3h-3zm143 0h3v3h-3zm59 0h3v3h-3zm-68 2h3v3h-3zm29 0h3v3h-3zm-3 1h3v3h-3zm-142 4h3v3h-3zm142 0h3v3h-3zm42 0h3v3h-3zm-72 1h3v3h-3zm13 0h3v3h-3zm36 1h3v3h-3zm-178 4h3v3h-3zm76 0h3v3h-3zm81 0h3v3h-3zm-84 1h3v3h-3zm95 0h3v3h-3zm-10 1h3v3h-3zm44 0h3v3h-3zm-43 2h3v3h-3zm36 0h3v3h-3zm-131 1h3v3h-3zm92 0h3v3h-3zm-158 1h3v3h-3zm22 0h3v3h-3zm123 1h3v3h-3z" fill="#000"/></g>
<path d="M753 90.5H1305V584.3H753Z M977 90.5V584.3 M753 271H1305" fill="none" stroke="#2a2a2a" stroke-width="2.4"/>
<path d="M730.0 101.5H753M730.0 149.8H753M730.0 198.1H753M730.0 246.3H753M730.0 294.6H753M730.0 342.9H753M730.0 391.2H753M730.0 439.5H753M730.0 487.7H753M730.0 536.0H753M730.0 584.3H753" stroke="#1a1a1a" stroke-width="2.8"/>
<path d="M791.3 584.3v11.0M815.8 584.3v11.0M833.1 584.3v11.0M846.6 584.3v11.0M857.6 584.3v11.0M866.9 584.3v11.0M874.9 584.3v11.0M882.0 584.3v11.0M930.2 584.3v11.0M954.7 584.3v11.0M972.0 584.3v11.0M985.5 584.3v11.0M996.5 584.3v11.0M1005.8 584.3v11.0M1013.8 584.3v11.0M1020.9 584.3v11.0M1069.1 584.3v11.0M1093.5 584.3v11.0M1110.9 584.3v11.0M1124.3 584.3v11.0M1135.3 584.3v11.0M1144.6 584.3v11.0M1152.7 584.3v11.0M1159.8 584.3v11.0M1207.9 584.3v11.0M1232.4 584.3v11.0M1249.7 584.3v11.0M1263.2 584.3v11.0M1274.2 584.3v11.0M1283.5 584.3v11.0M1291.5 584.3v11.0M1298.6 584.3v11.0" stroke="#1a1a1a" stroke-width="3"/>
<path d="M888.4 584.3v19.0M1027.3 584.3v19.0M1166.1 584.3v19.0M1305 584.3v19.0" stroke="#1a1a1a" stroke-width="3"/>
<text x="877.9" y="623.8" font-size="26.0" fill="#111" stroke="#111" stroke-width="1.5" textLength="26.0" lengthAdjust="spacingAndGlyphs">10</text>
<text x="906.9" y="614.3" font-size="19.5" fill="#111" stroke="#111" stroke-width="1">0</text>
<text x="1016.8" y="623.8" font-size="26.0" fill="#111" stroke="#111" stroke-width="1.5" textLength="26.0" lengthAdjust="spacingAndGlyphs">10</text>
<text x="1045.8" y="614.3" font-size="19.5" fill="#111" stroke="#111" stroke-width="1">1</text>
<text x="1155.6" y="623.8" font-size="26.0" fill="#111" stroke="#111" stroke-width="1.5" textLength="26.0" lengthAdjust="spacingAndGlyphs">10</text>
<text x="1184.6" y="614.3" font-size="19.5" fill="#111" stroke="#111" stroke-width="1">2</text>
<text x="1294.5" y="623.8" font-size="26.0" fill="#111" stroke="#111" stroke-width="1.5" textLength="26.0" lengthAdjust="spacingAndGlyphs">10</text>
<text x="1323.5" y="614.3" font-size="19.5" fill="#111" stroke="#111" stroke-width="1">3</text>
<text transform="scale(0.89,1)" x="845.3" y="119.5" font-size="31.5" font-weight="bold" fill="#111">A1</text>
<text transform="scale(0.89,1)" x="1097.5" y="119.5" font-size="31.5" font-weight="bold" fill="#111">A2</text>
<text transform="scale(0.89,1)" x="845.3" y="300.0" font-size="31.5" font-weight="bold" fill="#111">A3</text>
<text transform="scale(0.89,1)" x="1097.5" y="300.0" font-size="31.5" font-weight="bold" fill="#111">A4</text>
<text transform="scale(0.9,1)" x="894.6" y="141.1" font-size="48.23" font-weight="normal" textLength="153.1" lengthAdjust="spacing" fill="#111" stroke="#111" stroke-width="1.1">2.22%</text>
<text transform="scale(0.9,1)" x="1271.1" y="147.9" font-size="47.75" font-weight="normal" textLength="151.9" lengthAdjust="spacing" fill="#111" stroke="#111" stroke-width="1.1">0.42%</text>
<text transform="scale(0.9,1)" x="859.1" y="556.0" font-size="47.75" font-weight="normal" textLength="183.4" lengthAdjust="spacing" fill="#111" stroke="#111" stroke-width="1.1">95.39%</text>
<text transform="scale(0.9,1)" x="1268.4" y="556.0" font-size="47.75" font-weight="normal" textLength="150.1" lengthAdjust="spacing" fill="#111" stroke="#111" stroke-width="1.1">1.97%</text>
<text x="934.3" y="63.7" font-size="43.38" font-weight="bold" textLength="145.4" lengthAdjust="spacingAndGlyphs" fill="#111">DMSO</text>
<g filter="url(#bl2)"><path d="M1597.0 421.5Q1607 412 1620.0 412.0Q1633 412 1635.5 421.5Q1638 431 1639.0 445.5Q1640 460 1639.0 474.5Q1638 489 1636.0 499.5Q1634 510 1630.5 515.0Q1627 520 1611.5 520.0Q1596 520 1592.0 515.0Q1588 510 1584.5 499.5Q1581 489 1581.0 474.5Q1581 460 1584.0 445.5Q1587 431 1597.0 421.5Z" fill="#000" stroke="#000" stroke-width="2"/></g><g filter="url(#bl)"><path d="M1660 113h2v2h-2zm-1 10h2v2h-2zm8 3h2v2h-2zm17 3h2v2h-2zm19 3h2v2h-2zm-10 2h2v2h-2zm-11 4h2v2h-2zm-67 9h2v2h-2zm58 0h2v2h-2zm-132 4h2v2h-2zm107 0h2v2h-2zm99 3h2v2h-2zm-69 1h2v2h-2zm6 0h2v2h-2zm20 3h2v2h-2zm-41 2h2v2h-2zm-172 1h2v2h-2zm3 0h2v2h-2zm11 0h2v2h-2zm-69 1h2v2h-2zm237 0h2v2h-2zm-169 2h2v2h-2zm173 0h2v2h-2zm-113 1h2v2h-2zm131 0h2v2h-2zm65 0h2v2h-2zm-302 3h2v2h-2zm300 1h2v2h-2zm-11 1h2v2h-2zm-59 4h2v2h-2zm-6 3h2v2h-2zm-26 1h2v2h-2zm-172 1h2v2h-2zm133 0h2v2h-2zm180 1h2v2h-2zm-312 1h2v2h-2zm186 0h2v2h-2zm-62 1h2v2h-2zm71 0h2v2h-2zm54 1h2v2h-2zm-123 3h2v2h-2zm129 0h2v2h-2zm-92 1h2v2h-2zm-19 1h2v2h-2zm28 0h2v2h-2zm-9 2h2v2h-2zm28 3h2v2h-2zm37 2h2v2h-2zm-177 2h2v2h-2zm110 0h2v2h-2zm6 1h2v2h-2zm41 0h2v2h-2zm-39 1h2v2h-2zm25 0h2v2h-2zm-156 3h2v2h-2zm-77 2h2v2h-2zm253 0h2v2h-2zm-219 1h2v2h-2zm206 0h2v2h-2zm-20 1h2v2h-2zm-226 1h2v2h-2zm238 0h2v2h-2zm-91 2h2v2h-2zm75 0h2v2h-2zm-217 1h2v2h-2zm17 0h2v2h-2zm192 0h2v2h-2zm109 0h2v2h-2zm-70 2h2v2h-2zm-30 1h2v2h-2zm2 0h2v2h-2zm3 2h2v2h-2zm1 0h2v2h-2zm-1 1h2v2h-2zm-91 1h2v2h-2zm-119 1h2v2h-2zm210 0h2v2h-2zm15 1h2v2h-2zm-227 2h2v2h-2zm67 0h2v2h-2zm173 1h2v2h-2zm17 0h2v2h-2zm-53 2h2v2h-2zm83 1h2v2h-2zm-80 1h2v2h-2zm-199 2h2v2h-2zm-18 1h2v2h-2zm216 0h2v2h-2zm39 0h2v2h-2zm-248 5h2v2h-2zm250 2h2v2h-2zm-30 1h2v2h-2zm35 0h2v2h-2zm-220 1h2v2h-2zm166 0h2v2h-2zm71 0h2v2h-2zm48 0h2v2h-2zm-179 1h2v2h-2zm158 0h2v2h-2zm-194 4h2v2h-2zm129 0h2v2h-2zm3 5h2v2h-2zm-127 1h2v2h-2zm37 1h2v2h-2zm57 5h2v2h-2zm21 0h2v2h-2zm-236 1h2v2h-2zm226 1h2v2h-2zm73 0h2v2h-2zm-261 1h2v2h-2zm141 1h2v2h-2zm145 1h2v2h-2zm-79 1h2v2h-2zm-167 1h2v2h-2zm93 1h2v2h-2zm14 3h2v2h-2zm10 0h2v2h-2zm-17 2h2v2h-2zm63 0h2v2h-2zm-193 1h2v2h-2zm139 0h2v2h-2zm-6 1h2v2h-2zm-33 2h2v2h-2zm23 0h2v2h-2zm13 0h2v2h-2zm2 0h2v2h-2zm-23 5h2v2h-2zm8 0h2v2h-2zm-8 1h2v2h-2zm19 0h2v2h-2zm-3 1h2v2h-2zm-6 1h2v2h-2zm23 0h2v2h-2zm1 2h2v2h-2zm1 1h2v2h-2zm-141 1h2v2h-2zm107 0h2v2h-2zm10 0h2v2h-2zm12 0h2v2h-2zm-161 1h2v2h-2zm154 0h2v2h-2zm13 0h2v2h-2zm-7 1h2v2h-2zm-118 1h2v2h-2zm78 1h2v2h-2zm56 0h2v2h-2zm-16 1h2v2h-2zm56 0h2v2h-2zm-69 1h2v2h-2zm120 0h2v2h-2zm96 0h2v2h-2zm-217 1h2v2h-2zm227 0h2v2h-2zm-243 1h2v2h-2zm20 0h2v2h-2zm9 0h2v2h-2zm26 0h2v2h-2zm10 1h2v2h-2zm156 0h2v2h-2zm-212 1h2v2h-2zm24 0h2v2h-2zm19 0h2v2h-2zm16 0h2v2h-2zm-40 1h2v2h-2zm-4 1h2v2h-2zm12 0h2v2h-2zm15 0h2v2h-2zm-32 1h2v2h-2zm51 0h2v2h-2zm-234 1h2v2h-2zm177 0h2v2h-2zm6 0h2v2h-2zm6 0h2v2h-2zm46 0h2v2h-2zm-242 1h2v2h-2zm186 2h2v2h-2zm20 0h2v2h-2zm-20 1h2v2h-2zm4 0h2v2h-2zm-6 1h2v2h-2zm17 0h2v2h-2zm16 0h2v2h-2zm3 0h2v2h-2zm34 0h2v2h-2zm112 0h2v2h-2zm-175 1h2v2h-2zm49 0h2v2h-2zm-60 1h2v2h-2zm8 0h2v2h-2zm45 0h2v2h-2zm164 0h2v2h-2zm-253 1h2v2h-2zm145 0h2v2h-2zm-174 1h2v2h-2zm73 0h2v2h-2zm4 0h2v2h-2zm5 0h2v2h-2zm1 1h2v2h-2zm5 0h2v2h-2zm-24 1h2v2h-2zm3 0h2v2h-2zm2 0h2v2h-2zm21 0h2v2h-2zm3 0h2v2h-2zm-104 2h2v2h-2zm71 0h2v2h-2zm20 0h2v2h-2zm-92 1h2v2h-2zm85 0h2v2h-2zm3 0h2v2h-2zm142 0h2v2h-2zm-292 1h2v2h-2zm68 0h2v2h-2zm52 0h2v2h-2zm21 0h2v2h-2zm9 0h2v2h-2zm230 1h2v2h-2zm-231 1h2v2h-2zm3 0h2v2h-2zm13 0h2v2h-2zm-75 2h2v2h-2zm87 0h2v2h-2zm-47 1h2v2h-2zm21 0h2v2h-2zm14 0h2v2h-2zm-126 1h2v2h-2zm88 0h2v2h-2zm9 0h2v2h-2zm63 0h2v2h-2zm-179 1h2v2h-2zm163 0h2v2h-2zm-41 1h2v2h-2zm4 0h2v2h-2zm6 0h2v2h-2zm-18 1h2v2h-2zm24 0h2v2h-2zm106 0h2v2h-2zm-118 1h2v2h-2zm11 0h2v2h-2zm9 0h2v2h-2zm44 0h2v2h-2zm57 0h2v2h-2zm-263 1h2v2h-2zm52 0h2v2h-2zm36 0h2v2h-2zm63 0h2v2h-2zm2 0h2v2h-2zm1 0h2v2h-2zm3 0h2v2h-2zm8 0h2v2h-2zm157 1h2v2h-2zm-268 1h2v2h-2zm37 0h2v2h-2zm27 0h2v2h-2zm11 0h2v2h-2zm13 0h2v2h-2zm121 0h2v2h-2zm69 1h2v2h-2zm-308 1h2v2h-2zm103 0h2v2h-2zm19 0h2v2h-2zm7 0h2v2h-2zm54 0h2v2h-2zm-75 1h2v2h-2zm16 0h2v2h-2zm176 0h2v2h-2zm-289 1h2v2h-2zm38 0h2v2h-2zm61 0h2v2h-2zm2 0h2v2h-2zm1 0h2v2h-2zm25 0h2v2h-2zm54 0h2v2h-2zm-102 1h2v2h-2zm14 0h2v2h-2zm5 0h2v2h-2zm11 0h2v2h-2zm8 0h2v2h-2zm5 0h2v2h-2zm98 0h2v2h-2zm26 0h2v2h-2zm-235 1h2v2h-2zm81 0h2v2h-2zm8 0h2v2h-2zm1 0h2v2h-2zm5 0h2v2h-2zm4 0h2v2h-2zm10 0h2v2h-2zm15 0h2v2h-2zm-18 1h2v2h-2zm4 0h2v2h-2zm4 0h2v2h-2zm-143 1h2v2h-2zm134 0h2v2h-2zm60 0h2v2h-2zm-177 1h2v2h-2zm36 0h2v2h-2zm71 0h2v2h-2zm41 0h2v2h-2zm-68 1h2v2h-2zm23 0h2v2h-2zm16 0h2v2h-2zm8 0h2v2h-2zm1 0h2v2h-2zm-172 1h2v2h-2zm16 0h2v2h-2zm56 0h2v2h-2zm70 0h2v2h-2zm8 0h2v2h-2zm21 0h2v2h-2zm-179 1h2v2h-2zm160 0h2v2h-2zm13 0h2v2h-2zm20 0h2v2h-2zm-173 1h2v2h-2zm117 0h2v2h-2zm10 0h2v2h-2zm10 0h2v2h-2zm8 0h2v2h-2zm11 0h2v2h-2zm5 0h2v2h-2zm2 0h2v2h-2zm137 0h2v2h-2zm-162 1h2v2h-2zm1 0h2v2h-2zm5 0h2v2h-2zm1 0h2v2h-2zm5 0h2v2h-2zm13 0h2v2h-2zm4 0h2v2h-2zm-95 1h2v2h-2zm59 0h2v2h-2zm20 0h2v2h-2zm1 0h2v2h-2zm4 0h2v2h-2zm186 0h2v2h-2zm-223 1h2v2h-2zm4 0h2v2h-2zm3 0h2v2h-2zm6 0h2v2h-2zm3 0h2v2h-2zm89 0h2v2h-2zm-168 1h2v2h-2zm48 0h2v2h-2zm23 0h2v2h-2zm7 0h2v2h-2zm5 0h2v2h-2zm3 0h2v2h-2zm7 0h2v2h-2zm2 0h2v2h-2zm4 0h2v2h-2zm171 0h2v2h-2zm-192 1h2v2h-2zm5 0h2v2h-2zm94 0h2v2h-2zm-111 1h2v2h-2zm13 0h2v2h-2zm10 0h2v2h-2zm31 0h2v2h-2zm-138 1h2v2h-2zm16 0h2v2h-2zm76 0h2v2h-2zm4 0h2v2h-2zm1 0h2v2h-2zm30 0h2v2h-2zm14 0h2v2h-2zm-170 1h2v2h-2zm13 0h2v2h-2zm90 0h2v2h-2zm22 0h2v2h-2zm3 0h2v2h-2zm6 0h2v2h-2zm1 0h2v2h-2zm1 0h2v2h-2zm2 0h2v2h-2zm26 0h2v2h-2zm-139 1h2v2h-2zm93 0h2v2h-2zm2 0h2v2h-2zm1 0h2v2h-2zm8 0h2v2h-2zm2 0h2v2h-2zm14 0h2v2h-2zm31 0h2v2h-2zm-205 1h2v2h-2zm20 0h2v2h-2zm27 0h2v2h-2zm67 0h2v2h-2zm11 0h2v2h-2zm11 0h2v2h-2zm8 0h2v2h-2zm9 0h2v2h-2zm3 0h2v2h-2zm7 0h2v2h-2zm-22 1h2v2h-2zm2 0h2v2h-2zm1 0h2v2h-2zm12 0h2v2h-2zm5 0h2v2h-2zm3 0h2v2h-2zm6 0h2v2h-2zm3 0h2v2h-2zm4 0h2v2h-2zm13 0h2v2h-2zm6 0h2v2h-2zm74 0h2v2h-2zm-150 1h2v2h-2zm31 0h2v2h-2zm2 0h2v2h-2zm4 0h2v2h-2zm5 0h2v2h-2zm1 0h2v2h-2zm2 0h2v2h-2zm2 0h2v2h-2zm7 0h2v2h-2zm13 0h2v2h-2zm-165 1h2v2h-2zm42 0h2v2h-2zm66 0h2v2h-2zm18 0h2v2h-2zm2 0h2v2h-2zm3 0h2v2h-2zm11 0h2v2h-2zm1 0h2v2h-2zm4 0h2v2h-2zm5 0h2v2h-2zm9 0h2v2h-2zm18 0h2v2h-2zm-173 1h2v2h-2zm113 0h2v2h-2zm8 0h2v2h-2zm6 0h2v2h-2zm3 0h2v2h-2zm3 0h2v2h-2zm1 0h2v2h-2zm8 0h2v2h-2zm1 0h2v2h-2zm27 0h2v2h-2zm23 0h2v2h-2zm-200 1h2v2h-2zm2 0h2v2h-2zm123 0h2v2h-2zm5 0h2v2h-2zm7 0h2v2h-2zm5 0h2v2h-2zm5 0h2v2h-2zm2 0h2v2h-2zm18 0h2v2h-2zm54 0h2v2h-2zm-251 1h2v2h-2zm21 0h2v2h-2zm122 0h2v2h-2zm12 0h2v2h-2zm7 0h2v2h-2zm3 0h2v2h-2zm4 0h2v2h-2zm1 0h2v2h-2zm12 0h2v2h-2zm36 0h2v2h-2zm8 0h2v2h-2zm26 0h2v2h-2zm-155 1h2v2h-2zm41 0h2v2h-2zm10 0h2v2h-2zm3 0h2v2h-2zm2 0h2v2h-2zm17 0h2v2h-2zm5 0h2v2h-2zm1 0h2v2h-2zm-128 1h2v2h-2zm81 0h2v2h-2zm25 0h2v2h-2zm5 0h2v2h-2zm3 0h2v2h-2zm1 0h2v2h-2zm3 0h2v2h-2zm1 0h2v2h-2zm1 0h2v2h-2zm7 0h2v2h-2zm1 0h2v2h-2zm11 0h2v2h-2zm6 0h2v2h-2zm19 0h2v2h-2zm-121 1h2v2h-2zm61 0h2v2h-2zm1 0h2v2h-2zm7 0h2v2h-2zm4 0h2v2h-2zm5 0h2v2h-2zm1 0h2v2h-2zm2 0h2v2h-2zm2 0h2v2h-2zm1 0h2v2h-2zm2 0h2v2h-2zm1 0h2v2h-2zm2 0h2v2h-2zm-149 1h2v2h-2zm112 0h2v2h-2zm1 0h2v2h-2zm14 0h2v2h-2zm1 0h2v2h-2zm1 0h2v2h-2zm10 0h2v2h-2zm1 0h2v2h-2zm1 0h2v2h-2zm1 0h2v2h-2zm2 0h2v2h-2zm1 0h2v2h-2zm9 0h2v2h-2zm2 0h2v2h-2zm6 0h2v2h-2zm157 0h2v2h-2zm-322 1h2v2h-2zm5 0h2v2h-2zm30 0h2v2h-2zm84 0h2v2h-2zm7 0h2v2h-2zm3 0h2v2h-2zm4 0h2v2h-2zm3 0h2v2h-2zm4 0h2v2h-2zm2 0h2v2h-2zm3 0h2v2h-2zm3 0h2v2h-2zm15 0h2v2h-2zm33 0h2v2h-2zm18 0h2v2h-2zm118 0h2v2h-2zm-200 1h2v2h-2zm4 0h2v2h-2zm6 0h2v2h-2zm2 0h2v2h-2zm2 0h2v2h-2zm11 0h2v2h-2zm2 0h2v2h-2zm7 0h2v2h-2zm-39 1h2v2h-2zm10 0h2v2h-2zm2 0h2v2h-2zm4 0h2v2h-2zm3 0h2v2h-2zm49 0h2v2h-2zm-156 1h2v2h-2zm68 0h2v2h-2zm25 0h2v2h-2zm2 0h2v2h-2zm1 0h2v2h-2zm5 0h2v2h-2zm3 0h2v2h-2zm8 0h2v2h-2zm-181 1h2v2h-2zm34 0h2v2h-2zm26 0h2v2h-2zm92 0h2v2h-2zm9 0h2v2h-2zm1 0h2v2h-2zm1 0h2v2h-2zm3 0h2v2h-2zm2 0h2v2h-2zm2 0h2v2h-2zm2 0h2v2h-2zm1 0h2v2h-2zm3 0h2v2h-2zm1 0h2v2h-2zm3 0h2v2h-2zm3 0h2v2h-2zm6 0h2v2h-2zm5 0h2v2h-2zm82 0h2v2h-2zm-122 1h2v2h-2zm7 0h2v2h-2zm1 0h2v2h-2zm1 0h2v2h-2zm1 0h2v2h-2zm1 0h2v2h-2zm4 0h2v2h-2zm4 0h2v2h-2zm18 0h2v2h-2zm-159 1h2v2h-2zm2 0h2v2h-2zm72 0h2v2h-2zm33 0h2v2h-2zm19 0h2v2h-2zm6 0h2v2h-2zm2 0h2v2h-2zm1 0h2v2h-2zm17 0h2v2h-2zm-215 1h2v2h-2zm23 0h2v2h-2zm18 0h2v2h-2zm16 0h2v2h-2zm74 0h2v2h-2zm32 0h2v2h-2zm21 0h2v2h-2zm1 0h2v2h-2zm3 0h2v2h-2zm2 0h2v2h-2zm8 0h2v2h-2zm1 0h2v2h-2zm2 0h2v2h-2zm2 0h2v2h-2zm2 0h2v2h-2zm2 0h2v2h-2zm2 0h2v2h-2zm1 0h2v2h-2zm54 0h2v2h-2zm18 0h2v2h-2zm28 0h2v2h-2zm-141 1h2v2h-2zm8 0h2v2h-2zm8 0h2v2h-2zm12 0h2v2h-2zm3 0h2v2h-2zm6 0h2v2h-2zm3 0h2v2h-2zm6 0h2v2h-2zm17 0h2v2h-2zm-201 1h2v2h-2zm31 0h2v2h-2zm121 0h2v2h-2zm9 0h2v2h-2zm4 0h2v2h-2zm9 0h2v2h-2zm3 0h2v2h-2zm1 0h2v2h-2zm9 0h2v2h-2zm-119 1h2v2h-2zm2 0h2v2h-2zm8 0h2v2h-2zm74 0h2v2h-2zm1 0h2v2h-2zm6 0h2v2h-2zm19 0h2v2h-2zm4 0h2v2h-2zm71 0h2v2h-2zm13 0h2v2h-2zm22 0h2v2h-2zm-262 1h2v2h-2zm26 0h2v2h-2zm14 0h2v2h-2zm54 0h2v2h-2zm34 0h2v2h-2zm5 0h2v2h-2zm7 0h2v2h-2zm1 0h2v2h-2zm4 0h2v2h-2zm1 0h2v2h-2zm1 0h2v2h-2zm5 0h2v2h-2zm1 0h2v2h-2zm12 0h2v2h-2zm-46 1h2v2h-2zm5 0h2v2h-2zm8 0h2v2h-2zm4 0h2v2h-2zm3 0h2v2h-2zm1 0h2v2h-2zm5 0h2v2h-2zm5 0h2v2h-2zm39 0h2v2h-2zm34 0h2v2h-2zm-243 1h2v2h-2zm25 0h2v2h-2zm108 0h2v2h-2zm5 0h2v2h-2zm16 0h2v2h-2zm6 0h2v2h-2zm4 0h2v2h-2zm1 0h2v2h-2zm1 0h2v2h-2zm3 0h2v2h-2zm1 0h2v2h-2zm2 0h2v2h-2zm3 0h2v2h-2zm4 0h2v2h-2zm3 0h2v2h-2zm2 0h2v2h-2zm-164 1h2v2h-2zm1 0h2v2h-2zm120 0h2v2h-2zm10 0h2v2h-2zm2 0h2v2h-2zm4 0h2v2h-2zm6 0h2v2h-2zm14 0h2v2h-2zm1 0h2v2h-2zm2 0h2v2h-2zm2 0h2v2h-2zm2 0h2v2h-2zm2 0h2v2h-2zm17 0h2v2h-2zm34 0h2v2h-2zm-221 1h2v2h-2zm136 0h2v2h-2zm15 0h2v2h-2zm6 0h2v2h-2zm9 0h2v2h-2zm5 0h2v2h-2zm11 0h2v2h-2zm15 0h2v2h-2zm-96 1h2v2h-2zm24 0h2v2h-2zm3 0h2v2h-2zm6 0h2v2h-2zm3 0h2v2h-2zm5 0h2v2h-2zm2 0h2v2h-2zm1 0h2v2h-2zm3 0h2v2h-2zm5 0h2v2h-2zm3 0h2v2h-2zm8 0h2v2h-2zm3 0h2v2h-2zm3 0h2v2h-2zm-202 1h2v2h-2zm31 0h2v2h-2zm12 0h2v2h-2zm67 0h2v2h-2zm49 0h2v2h-2zm6 0h2v2h-2zm9 0h2v2h-2zm1 0h2v2h-2zm1 0h2v2h-2zm1 0h2v2h-2zm2 0h2v2h-2zm1 0h2v2h-2zm2 0h2v2h-2zm7 0h2v2h-2zm3 0h2v2h-2zm1 0h2v2h-2zm2 0h2v2h-2zm1 0h2v2h-2zm8 0h2v2h-2zm2 0h2v2h-2zm2 0h2v2h-2zm17 0h2v2h-2zm2 0h2v2h-2zm15 0h2v2h-2zm67 0h2v2h-2zm-257 1h2v2h-2zm35 0h2v2h-2zm77 0h2v2h-2zm7 0h2v2h-2zm11 0h2v2h-2zm5 0h2v2h-2zm7 0h2v2h-2zm9 0h2v2h-2zm-136 1h2v2h-2zm56 0h2v2h-2zm27 0h2v2h-2zm23 0h2v2h-2zm4 0h2v2h-2zm4 0h2v2h-2zm2 0h2v2h-2zm1 0h2v2h-2zm1 0h2v2h-2zm2 0h2v2h-2zm4 0h2v2h-2zm1 0h2v2h-2zm3 0h2v2h-2zm38 0h2v2h-2zm-200 1h2v2h-2zm75 0h2v2h-2zm47 0h2v2h-2zm13 0h2v2h-2zm2 0h2v2h-2zm2 0h2v2h-2zm2 0h2v2h-2zm4 0h2v2h-2zm4 0h2v2h-2zm49 0h2v2h-2zm-241 1h2v2h-2zm84 0h2v2h-2zm75 0h2v2h-2zm3 0h2v2h-2zm1 0h2v2h-2zm15 0h2v2h-2zm18 0h2v2h-2zm1 0h2v2h-2zm4 0h2v2h-2zm2 0h2v2h-2zm14 0h2v2h-2zm33 0h2v2h-2zm16 0h2v2h-2zm-218 1h2v2h-2zm125 0h2v2h-2zm2 0h2v2h-2zm3 0h2v2h-2zm3 0h2v2h-2zm1 0h2v2h-2zm6 0h2v2h-2zm5 0h2v2h-2zm2 0h2v2h-2zm2 0h2v2h-2zm3 0h2v2h-2zm3 0h2v2h-2zm1 0h2v2h-2zm6 0h2v2h-2zm1 0h2v2h-2zm57 0h2v2h-2zm-267 1h2v2h-2zm25 0h2v2h-2zm27 0h2v2h-2zm128 0h2v2h-2zm2 0h2v2h-2zm8 0h2v2h-2zm3 0h2v2h-2zm1 0h2v2h-2zm5 0h2v2h-2zm3 0h2v2h-2zm1 0h2v2h-2zm6 0h2v2h-2zm30 0h2v2h-2zm-213 1h2v2h-2zm63 0h2v2h-2zm38 0h2v2h-2zm9 0h2v2h-2zm5 0h2v2h-2zm31 0h2v2h-2zm1 0h2v2h-2zm4 0h2v2h-2zm1 0h2v2h-2zm3 0h2v2h-2zm3 0h2v2h-2zm7 0h2v2h-2zm4 0h2v2h-2zm1 0h2v2h-2zm19 0h2v2h-2zm-126 1h2v2h-2zm69 0h2v2h-2zm8 0h2v2h-2zm14 0h2v2h-2zm2 0h2v2h-2zm6 0h2v2h-2zm6 0h2v2h-2zm1 0h2v2h-2zm1 0h2v2h-2zm4 0h2v2h-2zm7 0h2v2h-2zm5 0h2v2h-2zm48 0h2v2h-2zm81 0h2v2h-2zm-250 1h2v2h-2zm57 0h2v2h-2zm26 0h2v2h-2zm5 0h2v2h-2zm5 0h2v2h-2zm4 0h2v2h-2zm1 0h2v2h-2zm1 0h2v2h-2zm2 0h2v2h-2zm1 0h2v2h-2zm8 0h2v2h-2zm11 0h2v2h-2zm22 0h2v2h-2zm-164 1h2v2h-2zm10 0h2v2h-2zm6 0h2v2h-2zm92 0h2v2h-2zm3 0h2v2h-2zm1 0h2v2h-2zm1 0h2v2h-2zm3 0h2v2h-2zm10 0h2v2h-2zm3 0h2v2h-2zm4 0h2v2h-2zm3 0h2v2h-2zm-154 1h2v2h-2zm13 0h2v2h-2zm95 0h2v2h-2zm6 0h2v2h-2zm6 0h2v2h-2zm3 0h2v2h-2zm2 0h2v2h-2zm3 0h2v2h-2zm4 0h2v2h-2zm4 0h2v2h-2zm1 0h2v2h-2zm3 0h2v2h-2zm2 0h2v2h-2zm5 0h2v2h-2zm2 0h2v2h-2zm5 0h2v2h-2zm1 0h2v2h-2zm3 0h2v2h-2zm14 0h2v2h-2zm52 0h2v2h-2zm-239 1h2v2h-2zm4 0h2v2h-2zm5 0h2v2h-2zm18 0h2v2h-2zm80 0h2v2h-2zm28 0h2v2h-2zm2 0h2v2h-2zm4 0h2v2h-2zm8 0h2v2h-2zm1 0h2v2h-2zm3 0h2v2h-2zm3 0h2v2h-2zm12 0h2v2h-2zm1 0h2v2h-2zm2 0h2v2h-2zm14 0h2v2h-2zm-183 1h2v2h-2zm24 0h2v2h-2zm28 0h2v2h-2zm1 0h2v2h-2zm84 0h2v2h-2zm3 0h2v2h-2zm7 0h2v2h-2zm1 0h2v2h-2zm4 0h2v2h-2zm5 0h2v2h-2zm1 0h2v2h-2zm1 0h2v2h-2zm74 0h2v2h-2zm-266 1h2v2h-2zm164 0h2v2h-2zm6 0h2v2h-2zm6 0h2v2h-2zm3 0h2v2h-2zm2 0h2v2h-2zm1 0h2v2h-2zm5 0h2v2h-2zm2 0h2v2h-2zm2 0h2v2h-2zm1 0h2v2h-2zm2 0h2v2h-2zm1 0h2v2h-2zm3 0h2v2h-2zm11 0h2v2h-2zm-165 1h2v2h-2zm3 0h2v2h-2zm80 0h2v2h-2zm18 0h2v2h-2zm17 0h2v2h-2zm8 0h2v2h-2zm3 0h2v2h-2zm4 0h2v2h-2zm8 0h2v2h-2zm8 0h2v2h-2zm8 0h2v2h-2zm-220 1h2v2h-2zm178 0h2v2h-2zm14 0h2v2h-2zm6 0h2v2h-2zm3 0h2v2h-2zm4 0h2v2h-2zm1 0h2v2h-2zm1 0h2v2h-2zm3 0h2v2h-2zm7 0h2v2h-2zm4 0h2v2h-2zm-120 1h2v2h-2zm6 0h2v2h-2zm79 0h2v2h-2zm6 0h2v2h-2zm3 0h2v2h-2zm1 0h2v2h-2zm5 0h2v2h-2zm3 0h2v2h-2zm5 0h2v2h-2zm3 0h2v2h-2zm6 0h2v2h-2zm-195 1h2v2h-2zm62 0h2v2h-2zm15 0h2v2h-2zm89 0h2v2h-2zm2 0h2v2h-2zm1 0h2v2h-2zm2 0h2v2h-2zm1 0h2v2h-2zm6 0h2v2h-2zm6 0h2v2h-2zm1 0h2v2h-2zm1 0h2v2h-2zm2 0h2v2h-2zm5 0h2v2h-2zm2 0h2v2h-2zm3 0h2v2h-2zm6 0h2v2h-2zm29 0h2v2h-2zm-215 1h2v2h-2zm5 0h2v2h-2zm47 0h2v2h-2zm72 0h2v2h-2zm12 0h2v2h-2zm1 0h2v2h-2zm2 0h2v2h-2zm1 0h2v2h-2zm8 0h2v2h-2zm4 0h2v2h-2zm10 0h2v2h-2zm1 0h2v2h-2zm2 0h2v2h-2zm6 0h2v2h-2zm1 0h2v2h-2zm2 0h2v2h-2zm4 0h2v2h-2zm4 0h2v2h-2zm-218 1h2v2h-2zm109 0h2v2h-2zm4 0h2v2h-2zm12 0h2v2h-2zm17 0h2v2h-2zm31 0h2v2h-2zm1 0h2v2h-2zm11 0h2v2h-2zm3 0h2v2h-2zm2 0h2v2h-2zm2 0h2v2h-2zm2 0h2v2h-2zm2 0h2v2h-2zm4 0h2v2h-2zm13 0h2v2h-2zm1 0h2v2h-2zm7 0h2v2h-2zm32 0h2v2h-2zm-226 1h2v2h-2zm26 0h2v2h-2zm106 0h2v2h-2zm23 0h2v2h-2zm11 0h2v2h-2zm2 0h2v2h-2zm4 0h2v2h-2zm1 0h2v2h-2zm5 0h2v2h-2zm6 0h2v2h-2zm5 0h2v2h-2zm6 0h2v2h-2zm-150 1h2v2h-2zm11 0h2v2h-2zm31 0h2v2h-2zm8 0h2v2h-2zm59 0h2v2h-2zm3 0h2v2h-2zm4 0h2v2h-2zm3 0h2v2h-2zm1 0h2v2h-2zm1 0h2v2h-2zm8 0h2v2h-2zm2 0h2v2h-2zm6 0h2v2h-2zm1 0h2v2h-2zm6 0h2v2h-2zm22 0h2v2h-2zm3 0h2v2h-2zm-212 1h2v2h-2zm71 0h2v2h-2zm87 0h2v2h-2zm2 0h2v2h-2zm6 0h2v2h-2zm6 0h2v2h-2zm8 0h2v2h-2zm16 0h2v2h-2zm6 0h2v2h-2zm30 0h2v2h-2zm33 0h2v2h-2zm-213 1h2v2h-2zm5 0h2v2h-2zm57 0h2v2h-2zm15 0h2v2h-2zm28 0h2v2h-2zm4 0h2v2h-2zm2 0h2v2h-2zm1 0h2v2h-2zm8 0h2v2h-2zm1 0h2v2h-2zm4 0h2v2h-2zm1 0h2v2h-2zm5 0h2v2h-2zm1 0h2v2h-2zm2 0h2v2h-2zm-166 1h2v2h-2zm74 0h2v2h-2zm44 0h2v2h-2zm19 0h2v2h-2zm2 0h2v2h-2zm2 0h2v2h-2zm2 0h2v2h-2zm16 0h2v2h-2zm2 0h2v2h-2zm3 0h2v2h-2zm10 0h2v2h-2zm16 0h2v2h-2zm48 0h2v2h-2zm19 0h2v2h-2zm-218 1h2v2h-2zm2 0h2v2h-2zm8 0h2v2h-2zm20 0h2v2h-2zm64 0h2v2h-2zm7 0h2v2h-2zm3 0h2v2h-2zm8 0h2v2h-2zm8 0h2v2h-2zm7 0h2v2h-2zm3 0h2v2h-2zm4 0h2v2h-2zm64 0h2v2h-2zm-261 1h2v2h-2zm46 0h2v2h-2zm63 0h2v2h-2zm45 0h2v2h-2zm5 0h2v2h-2zm3 0h2v2h-2zm1 0h2v2h-2zm5 0h2v2h-2zm6 0h2v2h-2zm5 0h2v2h-2zm1 0h2v2h-2zm2 0h2v2h-2zm1 0h2v2h-2zm2 0h2v2h-2zm2 0h2v2h-2zm7 0h2v2h-2zm1 0h2v2h-2zm14 0h2v2h-2zm-179 1h2v2h-2zm64 0h2v2h-2zm29 0h2v2h-2zm33 0h2v2h-2zm3 0h2v2h-2zm4 0h2v2h-2zm8 0h2v2h-2zm2 0h2v2h-2zm8 0h2v2h-2zm1 0h2v2h-2zm2 0h2v2h-2zm2 0h2v2h-2zm2 0h2v2h-2zm28 0h2v2h-2zm8 0h2v2h-2zm2 0h2v2h-2zm30 0h2v2h-2zm93 0h2v2h-2zm-329 1h2v2h-2zm12 0h2v2h-2zm87 0h2v2h-2zm25 0h2v2h-2zm2 0h2v2h-2zm19 0h2v2h-2zm6 0h2v2h-2zm4 0h2v2h-2zm3 0h2v2h-2zm7 0h2v2h-2zm5 0h2v2h-2zm33 0h2v2h-2zm26 0h2v2h-2zm19 0h2v2h-2zm-257 1h2v2h-2zm22 0h2v2h-2zm29 0h2v2h-2zm5 0h2v2h-2zm12 0h2v2h-2zm6 0h2v2h-2zm20 0h2v2h-2zm40 0h2v2h-2zm6 0h2v2h-2zm12 0h2v2h-2zm2 0h2v2h-2zm2 0h2v2h-2zm8 0h2v2h-2zm4 0h2v2h-2zm2 0h2v2h-2zm-206 1h2v2h-2zm62 0h2v2h-2zm17 0h2v2h-2zm7 0h2v2h-2zm98 0h2v2h-2zm8 0h2v2h-2zm2 0h2v2h-2zm2 0h2v2h-2zm14 0h2v2h-2zm7 0h2v2h-2zm60 0h2v2h-2zm44 0h2v2h-2zm-249 1h2v2h-2zm27 0h2v2h-2zm20 0h2v2h-2zm4 0h2v2h-2zm32 0h2v2h-2zm21 0h2v2h-2zm1 0h2v2h-2zm9 0h2v2h-2zm3 0h2v2h-2zm5 0h2v2h-2zm1 0h2v2h-2zm1 0h2v2h-2zm7 0h2v2h-2zm1 0h2v2h-2zm21 0h2v2h-2zm19 0h2v2h-2zm8 0h2v2h-2zm-224 1h2v2h-2zm21 0h2v2h-2zm9 0h2v2h-2zm14 0h2v2h-2zm97 0h2v2h-2zm10 0h2v2h-2zm3 0h2v2h-2zm2 0h2v2h-2zm5 0h2v2h-2zm5 0h2v2h-2zm10 0h2v2h-2zm4 0h2v2h-2zm6 0h2v2h-2zm2 0h2v2h-2zm58 0h2v2h-2zm-269 1h2v2h-2zm46 0h2v2h-2zm14 0h2v2h-2zm23 0h2v2h-2zm30 0h2v2h-2zm2 0h2v2h-2zm56 0h2v2h-2zm6 0h2v2h-2zm6 0h2v2h-2zm2 0h2v2h-2zm6 0h2v2h-2zm5 0h2v2h-2zm2 0h2v2h-2zm3 0h2v2h-2zm3 0h2v2h-2zm-94 1h2v2h-2zm5 0h2v2h-2zm40 0h2v2h-2zm13 0h2v2h-2zm44 0h2v2h-2zm1 0h2v2h-2zm5 0h2v2h-2zm9 0h2v2h-2zm111 0h2v2h-2zm84 0h2v2h-2zm-413 1h2v2h-2zm56 0h2v2h-2zm6 0h2v2h-2zm72 0h2v2h-2zm13 0h2v2h-2zm18 0h2v2h-2zm1 0h2v2h-2zm9 0h2v2h-2zm1 0h2v2h-2zm2 0h2v2h-2zm6 0h2v2h-2zm1 0h2v2h-2zm1 0h2v2h-2zm3 0h2v2h-2zm19 0h2v2h-2zm9 0h2v2h-2zm33 0h2v2h-2zm-248 1h2v2h-2zm57 0h2v2h-2zm4 0h2v2h-2zm120 0h2v2h-2zm1 0h2v2h-2zm10 0h2v2h-2zm2 0h2v2h-2zm1 0h2v2h-2zm10 0h2v2h-2zm8 0h2v2h-2zm56 0h2v2h-2zm-202 1h2v2h-2zm14 0h2v2h-2zm17 0h2v2h-2zm1 0h2v2h-2zm70 0h2v2h-2zm6 0h2v2h-2zm5 0h2v2h-2zm1 0h2v2h-2zm4 0h2v2h-2zm8 0h2v2h-2zm7 0h2v2h-2zm20 0h2v2h-2zm-161 1h2v2h-2zm11 0h2v2h-2zm36 0h2v2h-2zm10 0h2v2h-2zm4 0h2v2h-2zm10 0h2v2h-2zm8 0h2v2h-2zm12 0h2v2h-2zm8 0h2v2h-2zm1 0h2v2h-2zm1 0h2v2h-2zm10 0h2v2h-2zm6 0h2v2h-2zm9 0h2v2h-2zm3 0h2v2h-2zm5 0h2v2h-2zm1 0h2v2h-2zm14 0h2v2h-2zm3 0h2v2h-2zm9 0h2v2h-2zm19 0h2v2h-2zm-211 1h2v2h-2zm29 0h2v2h-2zm44 0h2v2h-2zm31 0h2v2h-2zm17 0h2v2h-2zm22 0h2v2h-2zm16 0h2v2h-2zm2 0h2v2h-2zm9 0h2v2h-2zm9 0h2v2h-2zm13 0h2v2h-2zm16 0h2v2h-2zm-185 1h2v2h-2zm8 0h2v2h-2zm80 0h2v2h-2zm11 0h2v2h-2zm23 0h2v2h-2zm3 0h2v2h-2zm8 0h2v2h-2zm2 0h2v2h-2zm1 0h2v2h-2zm4 0h2v2h-2zm9 0h2v2h-2zm-217 1h2v2h-2zm12 0h2v2h-2zm28 0h2v2h-2zm44 0h2v2h-2zm21 0h2v2h-2zm59 0h2v2h-2zm37 0h2v2h-2zm3 0h2v2h-2zm45 0h2v2h-2zm3 0h2v2h-2zm8 0h2v2h-2zm-224 1h2v2h-2zm126 0h2v2h-2zm1 0h2v2h-2zm12 0h2v2h-2zm12 0h2v2h-2zm1 0h2v2h-2zm13 0h2v2h-2zm5 0h2v2h-2zm6 0h2v2h-2zm8 0h2v2h-2zm64 0h2v2h-2zm-213 1h2v2h-2zm22 0h2v2h-2zm5 0h2v2h-2zm7 0h2v2h-2zm22 0h2v2h-2zm18 0h2v2h-2zm12 0h2v2h-2zm18 0h2v2h-2zm3 0h2v2h-2zm13 0h2v2h-2zm12 0h2v2h-2zm9 0h2v2h-2zm-99 1h2v2h-2zm10 0h2v2h-2zm27 0h2v2h-2zm34 0h2v2h-2zm2 0h2v2h-2zm3 0h2v2h-2zm4 0h2v2h-2zm24 0h2v2h-2zm33 0h2v2h-2zm5 0h2v2h-2zm-205 1h2v2h-2zm23 0h2v2h-2zm1 0h2v2h-2zm57 0h2v2h-2zm48 0h2v2h-2zm6 0h2v2h-2zm1 0h2v2h-2zm1 0h2v2h-2zm2 0h2v2h-2zm11 0h2v2h-2zm3 0h2v2h-2zm16 0h2v2h-2zm10 0h2v2h-2zm5 0h2v2h-2zm17 0h2v2h-2zm127 0h2v2h-2zm-333 1h2v2h-2zm33 0h2v2h-2zm11 0h2v2h-2zm3 0h2v2h-2zm40 0h2v2h-2zm2 0h2v2h-2zm9 0h2v2h-2zm19 0h2v2h-2zm34 0h2v2h-2zm29 0h2v2h-2zm10 0h2v2h-2zm29 0h2v2h-2zm-241 1h2v2h-2zm12 0h2v2h-2zm19 0h2v2h-2zm15 0h2v2h-2zm24 0h2v2h-2zm70 0h2v2h-2zm6 0h2v2h-2zm17 0h2v2h-2zm3 0h2v2h-2zm29 0h2v2h-2zm21 0h2v2h-2zm20 0h2v2h-2zm-197 1h2v2h-2zm3 0h2v2h-2zm21 0h2v2h-2zm76 0h2v2h-2zm16 0h2v2h-2zm3 0h2v2h-2zm35 0h2v2h-2zm4 0h2v2h-2zm12 0h2v2h-2zm16 0h2v2h-2zm38 0h2v2h-2zm-256 1h2v2h-2zm13 0h2v2h-2zm36 0h2v2h-2zm11 0h2v2h-2zm47 0h2v2h-2zm8 0h2v2h-2zm37 0h2v2h-2zm3 0h2v2h-2zm3 0h2v2h-2zm34 0h2v2h-2zm7 0h2v2h-2zm-195 1h2v2h-2zm25 0h2v2h-2zm5 0h2v2h-2zm84 0h2v2h-2zm6 0h2v2h-2zm4 0h2v2h-2zm30 0h2v2h-2zm-92 1h2v2h-2zm16 0h2v2h-2zm23 0h2v2h-2zm16 0h2v2h-2zm13 0h2v2h-2zm23 0h2v2h-2zm38 0h2v2h-2zm7 0h2v2h-2zm12 0h2v2h-2zm-159 1h2v2h-2zm7 0h2v2h-2zm8 0h2v2h-2zm2 0h2v2h-2zm3 0h2v2h-2zm25 0h2v2h-2zm5 0h2v2h-2zm4 0h2v2h-2zm27 0h2v2h-2zm12 0h2v2h-2zm41 0h2v2h-2zm59 0h2v2h-2zm82 0h2v2h-2zm-306 1h2v2h-2zm78 0h2v2h-2zm86 0h2v2h-2zm5 0h2v2h-2zm14 0h2v2h-2zm-128 1h2v2h-2zm10 0h2v2h-2zm42 0h2v2h-2zm23 0h2v2h-2zm37 0h2v2h-2zm20 0h2v2h-2zm2 0h2v2h-2zm16 0h2v2h-2zm10 0h2v2h-2zm150 0h2v2h-2zm-423 1h2v2h-2zm35 0h2v2h-2zm4 0h2v2h-2zm33 0h2v2h-2zm33 0h2v2h-2zm21 0h2v2h-2zm23 0h2v2h-2zm14 0h2v2h-2zm19 0h2v2h-2zm2 0h2v2h-2zm40 0h2v2h-2zm2 0h2v2h-2zm44 0h2v2h-2zm27 0h2v2h-2zm-262 1h2v2h-2zm39 0h2v2h-2zm16 0h2v2h-2zm13 0h2v2h-2zm2 0h2v2h-2zm25 0h2v2h-2zm4 0h2v2h-2zm29 0h2v2h-2zm7 0h2v2h-2zm82 0h2v2h-2zm8 0h2v2h-2zm-248 1h2v2h-2zm5 0h2v2h-2zm19 0h2v2h-2zm57 0h2v2h-2zm23 0h2v2h-2zm17 0h2v2h-2zm15 0h2v2h-2zm13 0h2v2h-2zm19 0h2v2h-2zm50 0h2v2h-2zm7 0h2v2h-2zm-212 1h2v2h-2zm31 0h2v2h-2zm3 0h2v2h-2zm32 0h2v2h-2zm9 0h2v2h-2zm24 0h2v2h-2zm48 0h2v2h-2zm4 0h2v2h-2zm8 0h2v2h-2zm42 0h2v2h-2zm2 0h2v2h-2zm160 0h2v2h-2zm-338 1h2v2h-2zm27 0h2v2h-2zm152 0h2v2h-2zm-189 1h2v2h-2zm13 0h2v2h-2zm3 0h2v2h-2zm58 0h2v2h-2zm40 0h2v2h-2zm18 0h2v2h-2zm3 0h2v2h-2zm4 0h2v2h-2zm4 0h2v2h-2zm74 0h2v2h-2zm13 0h2v2h-2zm-223 1h2v2h-2zm22 0h2v2h-2zm44 0h2v2h-2zm14 0h2v2h-2zm51 0h2v2h-2zm83 0h2v2h-2zm-240 1h2v2h-2zm21 0h2v2h-2zm98 0h2v2h-2zm3 0h2v2h-2zm35 0h2v2h-2zm1 0h2v2h-2zm54 0h2v2h-2zm9 0h2v2h-2zm20 0h2v2h-2zm5 0h2v2h-2zm10 0h2v2h-2zm21 0h2v2h-2zm-281 1h2v2h-2zm15 0h2v2h-2zm4 0h2v2h-2zm67 0h2v2h-2zm24 0h2v2h-2zm5 0h2v2h-2zm24 0h2v2h-2zm20 0h2v2h-2zm3 0h2v2h-2zm46 0h2v2h-2zm29 0h2v2h-2zm3 0h2v2h-2zm31 0h2v2h-2zm1 0h2v2h-2zm79 0h2v2h-2zm-304 1h2v2h-2zm8 0h2v2h-2zm10 0h2v2h-2zm6 0h2v2h-2zm42 0h2v2h-2zm8 0h2v2h-2zm10 0h2v2h-2zm85 0h2v2h-2zm41 0h2v2h-2zm-249 1h2v2h-2zm9 0h2v2h-2zm27 0h2v2h-2zm42 0h2v2h-2zm123 0h2v2h-2zm6 0h2v2h-2zm-218 1h2v2h-2zm26 0h2v2h-2zm3 0h2v2h-2zm1 0h2v2h-2zm9 0h2v2h-2zm4 0h2v2h-2zm12 0h2v2h-2zm12 0h2v2h-2zm37 0h2v2h-2zm22 0h2v2h-2zm27 0h2v2h-2zm10 0h2v2h-2zm3 0h2v2h-2zm49 0h2v2h-2zm21 0h2v2h-2zm18 0h2v2h-2zm121 0h2v2h-2zm-332 1h2v2h-2zm10 0h2v2h-2zm72 0h2v2h-2zm21 0h2v2h-2zm5 0h2v2h-2zm14 0h2v2h-2zm47 0h2v2h-2zm29 0h2v2h-2zm6 0h2v2h-2zm31 0h2v2h-2zm-236 1h2v2h-2zm29 0h2v2h-2zm4 0h2v2h-2zm6 0h2v2h-2zm40 0h2v2h-2zm9 0h2v2h-2zm33 0h2v2h-2zm53 0h2v2h-2zm21 0h2v2h-2zm22 0h2v2h-2zm11 0h2v2h-2zm98 0h2v2h-2zm-353 1h2v2h-2zm22 0h2v2h-2zm17 0h2v2h-2zm20 0h2v2h-2zm9 0h2v2h-2zm7 0h2v2h-2zm38 0h2v2h-2zm27 0h2v2h-2zm10 0h2v2h-2zm61 0h2v2h-2zm3 0h2v2h-2zm11 0h2v2h-2zm8 0h2v2h-2zm-222 1h2v2h-2zm27 0h2v2h-2zm99 0h2v2h-2zm66 0h2v2h-2zm2 0h2v2h-2zm11 0h2v2h-2zm3 0h2v2h-2zm25 0h2v2h-2zm12 0h2v2h-2zm-242 1h2v2h-2zm11 0h2v2h-2zm15 0h2v2h-2zm19 0h2v2h-2zm13 0h2v2h-2zm3 0h2v2h-2zm10 0h2v2h-2zm31 0h2v2h-2zm95 0h2v2h-2zm139 0h2v2h-2zm-365 1h2v2h-2zm25 0h2v2h-2zm2 0h2v2h-2zm51 0h2v2h-2zm4 0h2v2h-2zm54 0h2v2h-2zm10 0h2v2h-2zm13 0h2v2h-2zm94 0h2v2h-2zm112 0h2v2h-2zm19 0h2v2h-2zm29 0h2v2h-2zm-382 1h2v2h-2zm6 0h2v2h-2zm14 0h2v2h-2zm4 0h2v2h-2zm9 0h2v2h-2zm3 0h2v2h-2zm23 0h2v2h-2zm8 0h2v2h-2zm49 0h2v2h-2zm16 0h2v2h-2zm1 0h2v2h-2zm85 0h2v2h-2zm11 0h2v2h-2zm3 0h2v2h-2zm75 0h2v2h-2zm43 0h2v2h-2zm-344 1h2v2h-2zm23 0h2v2h-2zm19 0h2v2h-2zm38 0h2v2h-2zm29 0h2v2h-2zm7 0h2v2h-2zm7 0h2v2h-2zm62 0h2v2h-2zm10 0h2v2h-2zm10 0h2v2h-2zm7 0h2v2h-2zm1 0h2v2h-2zm-188 1h2v2h-2zm1 0h2v2h-2zm41 0h2v2h-2zm39 0h2v2h-2zm17 0h2v2h-2zm51 0h2v2h-2zm11 0h2v2h-2zm5 0h2v2h-2zm2 0h2v2h-2zm19 0h2v2h-2zm-246 1h2v2h-2zm16 0h2v2h-2zm25 0h2v2h-2zm48 0h2v2h-2zm18 0h2v2h-2zm3 0h2v2h-2zm32 0h2v2h-2zm14 0h2v2h-2zm5 0h2v2h-2zm51 0h2v2h-2zm118 0h2v2h-2zm-319 1h2v2h-2zm8 0h2v2h-2zm41 0h2v2h-2zm4 0h2v2h-2zm86 0h2v2h-2zm75 0h2v2h-2zm2 0h2v2h-2zm3 0h2v2h-2zm30 0h2v2h-2zm-272 1h2v2h-2zm40 0h2v2h-2zm44 0h2v2h-2zm12 0h2v2h-2zm23 0h2v2h-2zm1 0h2v2h-2zm1 0h2v2h-2zm21 0h2v2h-2zm81 0h2v2h-2zm41 0h2v2h-2zm-252 1h2v2h-2zm10 0h2v2h-2zm32 0h2v2h-2zm5 0h2v2h-2zm69 0h2v2h-2zm1 0h2v2h-2zm8 0h2v2h-2zm16 0h2v2h-2zm7 0h2v2h-2zm2 0h2v2h-2zm5 0h2v2h-2zm58 0h2v2h-2zm20 0h2v2h-2zm32 0h2v2h-2zm-273 1h2v2h-2zm7 0h2v2h-2zm20 0h2v2h-2zm68 0h2v2h-2zm14 0h2v2h-2zm110 0h2v2h-2zm20 0h2v2h-2zm21 0h2v2h-2zm1 0h2v2h-2zm-268 1h2v2h-2zm33 0h2v2h-2zm7 0h2v2h-2zm24 0h2v2h-2zm26 0h2v2h-2zm42 0h2v2h-2zm5 0h2v2h-2zm1 0h2v2h-2zm7 0h2v2h-2zm19 0h2v2h-2zm3 0h2v2h-2zm8 0h2v2h-2zm2 0h2v2h-2zm50 0h2v2h-2zm6 0h2v2h-2zm4 0h2v2h-2zm1 0h2v2h-2zm-200 1h2v2h-2zm2 0h2v2h-2zm26 0h2v2h-2zm24 0h2v2h-2zm3 0h2v2h-2zm4 0h2v2h-2zm14 0h2v2h-2zm127 0h2v2h-2zm137 0h2v2h-2zm-336 1h2v2h-2zm13 0h2v2h-2zm109 0h2v2h-2zm10 0h2v2h-2zm55 0h2v2h-2zm8 0h2v2h-2zm4 0h2v2h-2zm11 0h2v2h-2zm2 0h2v2h-2zm5 0h2v2h-2zm8 0h2v2h-2zm91 0h2v2h-2zm-340 1h2v2h-2zm11 0h2v2h-2zm6 0h2v2h-2zm47 0h2v2h-2zm22 0h2v2h-2zm19 0h2v2h-2zm1 0h2v2h-2zm20 0h2v2h-2zm32 0h2v2h-2zm60 0h2v2h-2zm19 0h2v2h-2zm7 0h2v2h-2zm160 0h2v2h-2zm-387 1h2v2h-2zm31 0h2v2h-2zm5 0h2v2h-2zm77 0h2v2h-2zm24 0h2v2h-2zm84 0h2v2h-2zm12 0h2v2h-2zm1 0h2v2h-2zm12 0h2v2h-2zm13 0h2v2h-2zm-281 1h2v2h-2zm13 0h2v2h-2zm11 0h2v2h-2zm25 0h2v2h-2zm17 0h2v2h-2zm2 0h2v2h-2zm1 0h2v2h-2zm53 0h2v2h-2zm108 0h2v2h-2zm3 0h2v2h-2zm5 0h2v2h-2zm23 0h2v2h-2zm119 0h2v2h-2zm-313 1h2v2h-2zm22 0h2v2h-2zm15 0h2v2h-2zm58 0h2v2h-2zm55 0h2v2h-2zm19 0h2v2h-2zm4 0h2v2h-2zm22 0h2v2h-2zm-267 1h2v2h-2zm26 0h2v2h-2zm13 0h2v2h-2zm29 0h2v2h-2zm28 0h2v2h-2zm56 0h2v2h-2zm4 0h2v2h-2zm10 0h2v2h-2zm70 0h2v2h-2zm5 0h2v2h-2zm7 0h2v2h-2zm82 0h2v2h-2zm-320 1h2v2h-2zm41 0h2v2h-2zm12 0h2v2h-2zm12 0h2v2h-2zm42 0h2v2h-2zm45 0h2v2h-2zm87 0h2v2h-2zm-209 1h2v2h-2zm4 0h2v2h-2zm21 0h2v2h-2zm28 0h2v2h-2zm8 0h2v2h-2zm2 0h2v2h-2zm18 0h2v2h-2zm1 0h2v2h-2zm4 0h2v2h-2zm12 0h2v2h-2zm25 0h2v2h-2zm62 0h2v2h-2zm35 0h2v2h-2zm-244 1h2v2h-2zm27 0h2v2h-2zm23 0h2v2h-2zm14 0h2v2h-2zm42 0h2v2h-2zm26 0h2v2h-2zm1 0h2v2h-2zm13 0h2v2h-2zm6 0h2v2h-2zm51 0h2v2h-2zm11 0h2v2h-2zm7 0h2v2h-2zm148 0h2v2h-2zm-390 1h2v2h-2zm16 0h2v2h-2zm13 0h2v2h-2zm24 0h2v2h-2zm12 0h2v2h-2zm6 0h2v2h-2zm10 0h2v2h-2zm10 0h2v2h-2zm16 0h2v2h-2zm63 0h2v2h-2zm89 0h2v2h-2zm28 0h2v2h-2zm92 0h2v2h-2zm-351 1h2v2h-2zm30 0h2v2h-2zm20 0h2v2h-2zm4 0h2v2h-2zm14 0h2v2h-2zm65 0h2v2h-2zm86 0h2v2h-2zm-230 1h2v2h-2zm6 0h2v2h-2zm1 0h2v2h-2zm35 0h2v2h-2zm19 0h2v2h-2zm3 0h2v2h-2zm82 0h2v2h-2zm10 0h2v2h-2zm53 0h2v2h-2zm61 0h2v2h-2zm-286 1h2v2h-2zm2 0h2v2h-2zm29 0h2v2h-2zm18 0h2v2h-2zm4 0h2v2h-2zm22 0h2v2h-2zm46 0h2v2h-2zm17 0h2v2h-2zm6 0h2v2h-2zm132 0h2v2h-2zm6 0h2v2h-2zm18 0h2v2h-2zm86 0h2v2h-2zm-366 1h2v2h-2zm15 0h2v2h-2zm37 0h2v2h-2zm7 0h2v2h-2zm2 0h2v2h-2zm32 0h2v2h-2zm24 0h2v2h-2zm5 0h2v2h-2zm15 0h2v2h-2zm65 0h2v2h-2zm22 0h2v2h-2zm139 0h2v2h-2zm-371 1h2v2h-2zm68 0h2v2h-2zm11 0h2v2h-2zm1 0h2v2h-2zm4 0h2v2h-2zm65 0h2v2h-2zm68 0h2v2h-2zm2 0h2v2h-2zm8 0h2v2h-2zm24 0h2v2h-2zm93 0h2v2h-2zm28 0h2v2h-2zm-381 1h2v2h-2zm20 0h2v2h-2zm17 0h2v2h-2zm4 0h2v2h-2zm15 0h2v2h-2zm21 0h2v2h-2zm39 0h2v2h-2zm13 0h2v2h-2zm15 0h2v2h-2zm86 0h2v2h-2zm14 0h2v2h-2zm166 0h2v2h-2zm-393 1h2v2h-2zm9 0h2v2h-2zm5 0h2v2h-2zm15 0h2v2h-2zm5 0h2v2h-2zm38 0h2v2h-2zm4 0h2v2h-2zm4 0h2v2h-2zm20 0h2v2h-2zm39 0h2v2h-2zm77 0h2v2h-2zm9 0h2v2h-2zm7 0h2v2h-2zm16 0h2v2h-2zm-230 1h2v2h-2zm22 0h2v2h-2zm4 0h2v2h-2zm18 0h2v2h-2zm6 0h2v2h-2zm3 0h2v2h-2zm26 0h2v2h-2zm17 0h2v2h-2zm17 0h2v2h-2zm4 0h2v2h-2zm70 0h2v2h-2zm8 0h2v2h-2zm6 0h2v2h-2zm31 0h2v2h-2zm-229 1h2v2h-2zm15 0h2v2h-2zm19 0h2v2h-2zm13 0h2v2h-2zm11 0h2v2h-2zm43 0h2v2h-2zm4 0h2v2h-2zm23 0h2v2h-2zm76 0h2v2h-2zm20 0h2v2h-2zm-207 1h2v2h-2zm9 0h2v2h-2zm12 0h2v2h-2zm24 0h2v2h-2zm6 0h2v2h-2zm13 0h2v2h-2zm5 0h2v2h-2zm6 0h2v2h-2zm26 0h2v2h-2zm63 0h2v2h-2zm4 0h2v2h-2zm8 0h2v2h-2zm1 0h2v2h-2zm71 0h2v2h-2zm-267 1h2v2h-2zm13 0h2v2h-2zm21 0h2v2h-2zm4 0h2v2h-2zm1 0h2v2h-2zm3 0h2v2h-2zm24 0h2v2h-2zm8 0h2v2h-2zm109 0h2v2h-2zm7 0h2v2h-2zm30 0h2v2h-2zm9 0h2v2h-2zm-254 1h2v2h-2zm84 0h2v2h-2zm14 0h2v2h-2zm44 0h2v2h-2zm13 0h2v2h-2zm57 0h2v2h-2zm8 0h2v2h-2zm-202 1h2v2h-2zm33 0h2v2h-2zm35 0h2v2h-2zm52 0h2v2h-2zm2 0h2v2h-2zm5 0h2v2h-2zm5 0h2v2h-2zm9 0h2v2h-2zm51 0h2v2h-2zm8 0h2v2h-2zm2 0h2v2h-2zm24 0h2v2h-2zm-219 1h2v2h-2zm24 0h2v2h-2zm36 0h2v2h-2zm7 0h2v2h-2zm3 0h2v2h-2zm2 0h2v2h-2zm117 0h2v2h-2zm62 0h2v2h-2zm102 0h2v2h-2zm-388 1h2v2h-2zm29 0h2v2h-2zm4 0h2v2h-2zm52 0h2v2h-2zm67 0h2v2h-2zm7 0h2v2h-2zm7 0h2v2h-2zm52 0h2v2h-2zm19 0h2v2h-2zm26 0h2v2h-2zm115 0h2v2h-2zm1 0h2v2h-2zm9 0h2v2h-2zm-391 1h2v2h-2zm39 0h2v2h-2zm13 0h2v2h-2zm9 0h2v2h-2zm14 0h2v2h-2zm4 0h2v2h-2zm31 0h2v2h-2zm5 0h2v2h-2zm5 0h2v2h-2zm37 0h2v2h-2zm8 0h2v2h-2zm9 0h2v2h-2zm51 0h2v2h-2zm9 0h2v2h-2zm54 0h2v2h-2zm-236 1h2v2h-2zm8 0h2v2h-2zm13 0h2v2h-2zm57 0h2v2h-2zm8 0h2v2h-2zm13 0h2v2h-2zm106 0h2v2h-2zm4 0h2v2h-2zm21 0h2v2h-2zm-224 1h2v2h-2zm6 0h2v2h-2zm49 0h2v2h-2zm3 0h2v2h-2zm23 0h2v2h-2zm16 0h2v2h-2zm8 0h2v2h-2zm6 0h2v2h-2zm56 0h2v2h-2zm45 0h2v2h-2zm93 0h2v2h-2zm22 0h2v2h-2zm-335 1h2v2h-2zm15 0h2v2h-2zm38 0h2v2h-2zm31 0h2v2h-2zm16 0h2v2h-2zm80 0h2v2h-2zm8 0h2v2h-2zm139 0h2v2h-2zm6 0h2v2h-2zm-281 1h2v2h-2zm41 0h2v2h-2zm7 0h2v2h-2zm72 0h2v2h-2zm4 0h2v2h-2zm2 0h2v2h-2zm18 0h2v2h-2zm97 0h2v2h-2zm35 0h2v2h-2zm9 0h2v2h-2zm5 0h2v2h-2zm-368 1h2v2h-2zm6 0h2v2h-2zm4 0h2v2h-2zm7 0h2v2h-2zm10 0h2v2h-2zm19 0h2v2h-2zm10 0h2v2h-2zm11 0h2v2h-2zm10 0h2v2h-2zm10 0h2v2h-2zm9 0h2v2h-2zm19 0h2v2h-2zm1 0h2v2h-2zm24 0h2v2h-2zm59 0h2v2h-2zm6 0h2v2h-2zm21 0h2v2h-2zm1 0h2v2h-2zm10 0h2v2h-2zm3 0h2v2h-2zm-249 1h2v2h-2zm46 0h2v2h-2zm8 0h2v2h-2zm27 0h2v2h-2zm29 0h2v2h-2zm13 0h2v2h-2zm25 0h2v2h-2zm10 0h2v2h-2zm3 0h2v2h-2zm56 0h2v2h-2zm49 0h2v2h-2zm62 0h2v2h-2zm-273 1h2v2h-2zm31 0h2v2h-2zm8 0h2v2h-2zm24 0h2v2h-2zm42 0h2v2h-2zm55 0h2v2h-2zm2 0h2v2h-2zm5 0h2v2h-2zm33 0h2v2h-2zm19 0h2v2h-2zm1 0h2v2h-2zm102 0h2v2h-2zm-363 1h2v2h-2zm25 0h2v2h-2zm53 0h2v2h-2zm70 0h2v2h-2zm51 0h2v2h-2zm52 0h2v2h-2zm11 0h2v2h-2zm-247 1h2v2h-2zm24 0h2v2h-2zm10 0h2v2h-2zm1 0h2v2h-2zm52 0h2v2h-2zm43 0h2v2h-2zm59 0h2v2h-2zm146 0h2v2h-2zm-373 1h2v2h-2zm13 0h2v2h-2zm6 0h2v2h-2zm12 0h2v2h-2zm18 0h2v2h-2zm2 0h2v2h-2zm27 0h2v2h-2zm19 0h2v2h-2zm9 0h2v2h-2zm5 0h2v2h-2zm47 0h2v2h-2zm57 0h2v2h-2zm37 0h2v2h-2zm-256 1h2v2h-2zm39 0h2v2h-2zm4 0h2v2h-2zm7 0h2v2h-2zm6 0h2v2h-2zm2 0h2v2h-2zm12 0h2v2h-2zm28 0h2v2h-2zm3 0h2v2h-2zm4 0h2v2h-2zm7 0h2v2h-2zm45 0h2v2h-2zm62 0h2v2h-2zm9 0h2v2h-2zm64 0h2v2h-2zm-227 1h2v2h-2zm5 0h2v2h-2zm31 0h2v2h-2zm17 0h2v2h-2zm13 0h2v2h-2zm26 0h2v2h-2zm6 0h2v2h-2zm12 0h2v2h-2zm44 0h2v2h-2zm165 0h2v2h-2zm-352 1h2v2h-2zm11 0h2v2h-2zm3 0h2v2h-2zm34 0h2v2h-2zm8 0h2v2h-2zm21 0h2v2h-2zm1 0h2v2h-2zm13 0h2v2h-2zm5 0h2v2h-2zm18 0h2v2h-2zm24 0h2v2h-2zm57 0h2v2h-2zm-223 1h2v2h-2zm24 0h2v2h-2zm21 0h2v2h-2zm47 0h2v2h-2zm67 0h2v2h-2zm6 0h2v2h-2zm62 0h2v2h-2zm190 0h2v2h-2zm-376 1h2v2h-2zm28 0h2v2h-2zm6 0h2v2h-2zm24 0h2v2h-2zm1 0h2v2h-2zm15 0h2v2h-2zm28 0h2v2h-2zm6 0h2v2h-2zm72 0h2v2h-2zm-211 1h2v2h-2zm26 0h2v2h-2zm17 0h2v2h-2zm35 0h2v2h-2zm15 0h2v2h-2zm113 0h2v2h-2zm10 0h2v2h-2zm1 0h2v2h-2zm2 0h2v2h-2zm6 0h2v2h-2zm43 0h2v2h-2zm-245 1h2v2h-2zm223 0h2v2h-2zm20 0h2v2h-2zm-266 1h2v2h-2zm10 0h2v2h-2zm28 0h2v2h-2zm4 0h2v2h-2zm24 0h2v2h-2zm2 0h2v2h-2zm10 0h2v2h-2zm1 0h2v2h-2zm6 0h2v2h-2zm7 0h2v2h-2zm110 0h2v2h-2zm20 0h2v2h-2zm2 0h2v2h-2zm3 0h2v2h-2zm24 0h2v2h-2zm16 0h2v2h-2zm10 0h2v2h-2zm73 0h2v2h-2zm-364 1h2v2h-2zm43 0h2v2h-2zm24 0h2v2h-2zm16 0h2v2h-2zm4 0h2v2h-2zm26 0h2v2h-2zm61 0h2v2h-2zm43 0h2v2h-2zm12 0h2v2h-2zm-184 1h2v2h-2zm23 0h2v2h-2zm2 0h2v2h-2zm21 0h2v2h-2zm19 0h2v2h-2zm64 0h2v2h-2zm4 0h2v2h-2zm41 0h2v2h-2zm1 0h2v2h-2zm23 0h2v2h-2zm3 0h2v2h-2zm-207 1h2v2h-2zm13 0h2v2h-2zm13 0h2v2h-2zm16 0h2v2h-2zm5 0h2v2h-2zm31 0h2v2h-2zm7 0h2v2h-2zm111 0h2v2h-2zm8 0h2v2h-2zm2 0h2v2h-2zm-236 1h2v2h-2zm14 0h2v2h-2zm135 0h2v2h-2zm74 0h2v2h-2zm5 0h2v2h-2zm141 0h2v2h-2zm2 0h2v2h-2zm3 0h2v2h-2zm-357 1h2v2h-2zm30 0h2v2h-2zm45 0h2v2h-2zm75 0h2v2h-2zm6 0h2v2h-2zm35 0h2v2h-2zm2 0h2v2h-2zm10 0h2v2h-2zm23 0h2v2h-2zm-237 1h2v2h-2zm56 0h2v2h-2zm5 0h2v2h-2zm4 0h2v2h-2zm10 0h2v2h-2zm44 0h2v2h-2zm26 0h2v2h-2zm2 0h2v2h-2zm15 0h2v2h-2zm2 0h2v2h-2zm15 0h2v2h-2zm3 0h2v2h-2zm1 0h2v2h-2zm6 0h2v2h-2zm21 0h2v2h-2zm5 0h2v2h-2zm47 0h2v2h-2zm1 0h2v2h-2zm-250 1h2v2h-2zm27 0h2v2h-2zm66 0h2v2h-2zm41 0h2v2h-2zm5 0h2v2h-2zm14 0h2v2h-2zm13 0h2v2h-2zm16 0h2v2h-2zm-169 1h2v2h-2zm23 0h2v2h-2zm4 0h2v2h-2zm92 0h2v2h-2zm8 0h2v2h-2zm4 0h2v2h-2zm15 0h2v2h-2zm31 0h2v2h-2zm39 0h2v2h-2zm99 0h2v2h-2zm-295 1h2v2h-2zm30 0h2v2h-2zm63 0h2v2h-2zm19 0h2v2h-2zm6 0h2v2h-2zm7 0h2v2h-2zm18 0h2v2h-2zm-125 1h2v2h-2zm5 0h2v2h-2zm118 0h2v2h-2zm11 0h2v2h-2zm23 0h2v2h-2zm187 0h2v2h-2zm-408 1h2v2h-2zm154 0h2v2h-2zm21 0h2v2h-2zm2 0h2v2h-2zm2 0h2v2h-2zm1 0h2v2h-2zm25 0h2v2h-2zm7 0h2v2h-2zm1 0h2v2h-2zm20 0h2v2h-2zm49 0h2v2h-2zm-281 1h2v2h-2zm13 0h2v2h-2zm28 0h2v2h-2zm9 0h2v2h-2zm80 0h2v2h-2zm10 0h2v2h-2zm74 0h2v2h-2zm11 0h2v2h-2zm140 0h2v2h-2zm-268 1h2v2h-2zm8 0h2v2h-2zm18 0h2v2h-2zm50 0h2v2h-2zm2 0h2v2h-2zm1 0h2v2h-2zm8 0h2v2h-2zm7 0h2v2h-2zm8 0h2v2h-2zm4 0h2v2h-2zm138 0h2v2h-2zm-330 1h2v2h-2zm5 0h2v2h-2zm13 0h2v2h-2zm31 0h2v2h-2zm31 0h2v2h-2zm82 0h2v2h-2zm8 0h2v2h-2zm-117 1h2v2h-2zm102 0h2v2h-2zm1 0h2v2h-2zm1 0h2v2h-2zm10 0h2v2h-2zm44 0h2v2h-2zm28 0h2v2h-2zm-203 1h2v2h-2zm37 0h2v2h-2zm65 0h2v2h-2zm33 0h2v2h-2zm4 0h2v2h-2zm13 0h2v2h-2zm25 0h2v2h-2zm67 0h2v2h-2zm-241 1h2v2h-2zm110 0h2v2h-2zm1 0h2v2h-2zm25 0h2v2h-2zm210 0h2v2h-2zm-332 1h2v2h-2zm93 0h2v2h-2zm6 0h2v2h-2zm10 0h2v2h-2zm41 0h2v2h-2zm46 0h2v2h-2zm34 1h2v2h-2zm-275 1h2v2h-2zm3 0h2v2h-2zm20 0h2v2h-2zm21 0h2v2h-2zm14 0h2v2h-2zm53 0h2v2h-2zm7 0h2v2h-2zm54 0h2v2h-2zm36 0h2v2h-2zm7 0h2v2h-2zm-196 1h2v2h-2zm124 0h2v2h-2zm15 0h2v2h-2zm2 0h2v2h-2zm14 0h2v2h-2zm-200 1h2v2h-2zm24 0h2v2h-2zm48 0h2v2h-2zm11 0h2v2h-2zm15 0h2v2h-2zm31 0h2v2h-2zm29 0h2v2h-2zm16 0h2v2h-2zm13 0h2v2h-2zm27 0h2v2h-2zm49 0h2v2h-2zm-164 1h2v2h-2zm81 0h2v2h-2zm7 0h2v2h-2zm16 0h2v2h-2zm45 0h2v2h-2zm14 0h2v2h-2zm111 0h2v2h-2zm-217 1h2v2h-2zm9 0h2v2h-2zm6 0h2v2h-2zm4 0h2v2h-2zm2 0h2v2h-2zm5 0h2v2h-2zm7 0h2v2h-2zm16 0h2v2h-2zm5 0h2v2h-2zm135 0h2v2h-2zm-285 1h2v2h-2zm91 0h2v2h-2zm143 0h2v2h-2zm-222 1h2v2h-2zm108 0h2v2h-2zm12 0h2v2h-2zm20 0h2v2h-2zm158 0h2v2h-2zm-300 1h2v2h-2zm74 0h2v2h-2zm22 0h2v2h-2zm59 0h2v2h-2zm-238 1h2v2h-2zm170 0h2v2h-2z" fill="#000"/><path d="M1701 157h3v3h-3zm-94 2h3v3h-3zm-28 5h3v3h-3zm66 20h3v3h-3zm57 3h3v3h-3zm-12 29h3v3h-3zm-216 10h3v3h-3zm178 1h3v3h-3zm-5 24h3v3h-3zm20 2h3v3h-3zm-9 2h3v3h-3zm-139 5h3v3h-3zm48 3h3v3h-3zm-14 6h3v3h-3zm53 2h3v3h-3zm3 0h3v3h-3zm19 14h3v3h-3zm-186 3h3v3h-3zm184 8h3v3h-3zm-12 1h3v3h-3zm20 2h3v3h-3zm-15 12h3v3h-3zm-11 1h3v3h-3zm19 0h3v3h-3zm1 1h3v3h-3zm17 0h3v3h-3zm30 2h3v3h-3zm-74 1h3v3h-3zm52 1h3v3h-3zm-67 1h3v3h-3zm6 2h3v3h-3zm-36 1h3v3h-3zm67 0h3v3h-3zm5 1h3v3h-3zm-38 2h3v3h-3zm40 1h3v3h-3zm-30 4h3v3h-3zm22 0h3v3h-3zm-14 1h3v3h-3zm7 0h3v3h-3zm7 0h3v3h-3zm-9 1h3v3h-3zm1 0h3v3h-3zm15 0h3v3h-3zm-130 1h3v3h-3zm117 0h3v3h-3zm19 2h3v3h-3zm-15 2h3v3h-3zm-8 2h3v3h-3zm1 0h3v3h-3zm-2 1h3v3h-3zm-1 1h3v3h-3zm-18 1h3v3h-3zm32 0h3v3h-3zm-4 1h3v3h-3zm-21 1h3v3h-3zm6 0h3v3h-3zm16 0h3v3h-3zm5 1h3v3h-3zm-20 1h3v3h-3zm9 0h3v3h-3zm21 0h3v3h-3zm-147 1h3v3h-3zm124 0h3v3h-3zm-7 1h3v3h-3zm21 0h3v3h-3zm-18 1h3v3h-3zm1 0h3v3h-3zm3 0h3v3h-3zm2 0h3v3h-3zm23 0h3v3h-3zm-23 1h3v3h-3zm-12 1h3v3h-3zm34 0h3v3h-3zm-39 1h3v3h-3zm9 0h3v3h-3zm-1 2h3v3h-3zm8 0h3v3h-3zm5 0h3v3h-3zm4 0h3v3h-3zm-88 1h3v3h-3zm75 0h3v3h-3zm-4 1h3v3h-3zm13 0h3v3h-3zm8 0h3v3h-3zm5 0h3v3h-3zm-23 1h3v3h-3zm-126 1h3v3h-3zm123 0h3v3h-3zm-14 1h3v3h-3zm23 0h3v3h-3zm1 0h3v3h-3zm4 0h3v3h-3zm4 0h3v3h-3zm-24 1h3v3h-3zm6 0h3v3h-3zm16 0h3v3h-3zm8 0h3v3h-3zm-22 1h3v3h-3zm16 0h3v3h-3zm-4 2h3v3h-3zm7 0h3v3h-3zm-29 1h3v3h-3zm5 0h3v3h-3zm1 0h3v3h-3zm4 0h3v3h-3zm6 0h3v3h-3zm2 0h3v3h-3zm16 0h3v3h-3zm-201 1h3v3h-3zm170 0h3v3h-3zm7 0h3v3h-3zm12 0h3v3h-3zm-141 1h3v3h-3zm125 0h3v3h-3zm2 0h3v3h-3zm4 0h3v3h-3zm3 0h3v3h-3zm20 0h3v3h-3zm0 1h3v3h-3zm69 0h3v3h-3zm-252 1h3v3h-3zm162 0h3v3h-3zm4 0h3v3h-3zm6 0h3v3h-3zm2 0h3v3h-3zm-30 1h3v3h-3zm-7 1h3v3h-3zm10 0h3v3h-3zm-4 1h3v3h-3zm19 0h3v3h-3zm15 0h3v3h-3zm1 0h3v3h-3zm-34 1h3v3h-3zm11 0h3v3h-3zm4 0h3v3h-3zm3 0h3v3h-3zm4 0h3v3h-3zm8 0h3v3h-3zm5 0h3v3h-3zm-28 1h3v3h-3zm9 0h3v3h-3zm10 0h3v3h-3zm25 0h3v3h-3zm51 0h3v3h-3zm-169 1h3v3h-3zm72 0h3v3h-3zm-15 1h3v3h-3zm13 0h3v3h-3zm7 0h3v3h-3zm11 0h3v3h-3zm12 0h3v3h-3zm7 0h3v3h-3zm-51 1h3v3h-3zm2 0h3v3h-3zm31 0h3v3h-3zm9 0h3v3h-3zm12 0h3v3h-3zm4 0h3v3h-3zm11 0h3v3h-3zm10 0h3v3h-3zm-209 1h3v3h-3zm150 0h3v3h-3zm10 0h3v3h-3zm3 0h3v3h-3zm-99 1h3v3h-3zm74 0h3v3h-3zm16 0h3v3h-3zm11 0h3v3h-3zm4 0h3v3h-3zm3 0h3v3h-3zm6 0h3v3h-3zm-19 1h3v3h-3zm2 0h3v3h-3zm6 0h3v3h-3zm6 0h3v3h-3zm6 0h3v3h-3zm-124 1h3v3h-3zm96 0h3v3h-3zm7 0h3v3h-3zm4 0h3v3h-3zm17 0h3v3h-3zm2 0h3v3h-3zm17 0h3v3h-3zm-59 1h3v3h-3zm6 0h3v3h-3zm5 0h3v3h-3zm12 0h3v3h-3zm2 0h3v3h-3zm5 0h3v3h-3zm-176 1h3v3h-3zm30 0h3v3h-3zm60 0h3v3h-3zm61 0h3v3h-3zm3 0h3v3h-3zm2 0h3v3h-3zm3 0h3v3h-3zm1 0h3v3h-3zm2 0h3v3h-3zm3 0h3v3h-3zm22 0h3v3h-3zm9 0h3v3h-3zm-57 1h3v3h-3zm29 0h3v3h-3zm3 0h3v3h-3zm2 0h3v3h-3zm3 0h3v3h-3zm-173 1h3v3h-3zm155 0h3v3h-3zm7 0h3v3h-3zm1 0h3v3h-3zm8 0h3v3h-3zm2 0h3v3h-3zm1 0h3v3h-3zm-19 1h3v3h-3zm4 0h3v3h-3zm4 0h3v3h-3zm6 0h3v3h-3zm14 0h3v3h-3zm-117 1h3v3h-3zm107 0h3v3h-3zm15 0h3v3h-3zm-20 1h3v3h-3zm1 0h3v3h-3zm7 0h3v3h-3zm20 0h3v3h-3zm-67 1h3v3h-3zm18 0h3v3h-3zm3 0h3v3h-3zm1 0h3v3h-3zm5 0h3v3h-3zm3 0h3v3h-3zm11 0h3v3h-3zm3 0h3v3h-3zm-7 1h3v3h-3zm9 0h3v3h-3zm-22 1h3v3h-3zm16 0h3v3h-3zm2 0h3v3h-3zm-33 1h3v3h-3zm11 0h3v3h-3zm2 0h3v3h-3zm24 0h3v3h-3zm-35 1h3v3h-3zm24 0h3v3h-3zm6 0h3v3h-3zm8 0h3v3h-3zm1 0h3v3h-3zm6 0h3v3h-3zm44 0h3v3h-3zm-89 1h3v3h-3zm11 0h3v3h-3zm23 0h3v3h-3zm2 0h3v3h-3zm130 0h3v3h-3zm-176 1h3v3h-3zm19 0h3v3h-3zm2 0h3v3h-3zm23 0h3v3h-3zm75 0h3v3h-3zm-99 1h3v3h-3zm7 0h3v3h-3zm12 0h3v3h-3zm1 0h3v3h-3zm4 0h3v3h-3zm-44 1h3v3h-3zm26 0h3v3h-3zm19 0h3v3h-3zm11 0h3v3h-3zm-39 1h3v3h-3zm11 0h3v3h-3zm4 0h3v3h-3zm1 0h3v3h-3zm1 0h3v3h-3zm6 0h3v3h-3zm4 0h3v3h-3zm6 0h3v3h-3zm-133 1h3v3h-3zm85 0h3v3h-3zm27 0h3v3h-3zm3 0h3v3h-3zm22 0h3v3h-3zm-40 1h3v3h-3zm2 0h3v3h-3zm14 0h3v3h-3zm3 0h3v3h-3zm2 0h3v3h-3zm1 0h3v3h-3zm10 0h3v3h-3zm-110 1h3v3h-3zm65 0h3v3h-3zm12 0h3v3h-3zm4 0h3v3h-3zm27 0h3v3h-3zm14 0h3v3h-3zm10 0h3v3h-3zm4 0h3v3h-3zm-43 1h3v3h-3zm3 0h3v3h-3zm8 0h3v3h-3zm-142 1h3v3h-3zm106 0h3v3h-3zm22 0h3v3h-3zm3 0h3v3h-3zm2 0h3v3h-3zm9 0h3v3h-3zm17 0h3v3h-3zm-133 1h3v3h-3zm98 0h3v3h-3zm6 0h3v3h-3zm2 0h3v3h-3zm2 0h3v3h-3zm3 0h3v3h-3zm1 0h3v3h-3zm3 0h3v3h-3zm9 0h3v3h-3zm20 0h3v3h-3zm-53 1h3v3h-3zm1 0h3v3h-3zm11 0h3v3h-3zm1 0h3v3h-3zm5 0h3v3h-3zm16 0h3v3h-3zm-30 1h3v3h-3zm2 0h3v3h-3zm2 0h3v3h-3zm28 0h3v3h-3zm2 0h3v3h-3zm2 0h3v3h-3zm-54 1h3v3h-3zm17 0h3v3h-3zm23 0h3v3h-3zm1 0h3v3h-3zm20 0h3v3h-3zm-39 1h3v3h-3zm6 0h3v3h-3zm11 0h3v3h-3zm41 0h3v3h-3zm-129 1h3v3h-3zm88 0h3v3h-3zm-3 1h3v3h-3zm8 0h3v3h-3zm-30 1h3v3h-3zm16 0h3v3h-3zm17 0h3v3h-3zm-12 1h3v3h-3zm35 0h3v3h-3zm47 0h3v3h-3zm113 0h3v3h-3zm-263 1h3v3h-3zm36 0h3v3h-3zm12 0h3v3h-3zm7 0h3v3h-3zm9 0h3v3h-3zm5 0h3v3h-3zm1 0h3v3h-3zm5 0h3v3h-3zm2 0h3v3h-3zm-9 1h3v3h-3zm53 0h3v3h-3zm-67 1h3v3h-3zm2 0h3v3h-3zm10 0h3v3h-3zm6 0h3v3h-3zm38 0h3v3h-3zm9 0h3v3h-3zm-76 1h3v3h-3zm15 0h3v3h-3zm9 0h3v3h-3zm23 0h3v3h-3zm17 0h3v3h-3zm-49 1h3v3h-3zm2 0h3v3h-3zm4 0h3v3h-3zm8 0h3v3h-3zm-177 1h3v3h-3zm80 0h3v3h-3zm21 0h3v3h-3zm49 0h3v3h-3zm8 0h3v3h-3zm21 0h3v3h-3zm-184 1h3v3h-3zm154 0h3v3h-3zm7 0h3v3h-3zm10 0h3v3h-3zm24 0h3v3h-3zm-31 1h3v3h-3zm15 0h3v3h-3zm65 0h3v3h-3zm-172 1h3v3h-3zm77 0h3v3h-3zm3 0h3v3h-3zm18 0h3v3h-3zm7 0h3v3h-3zm6 0h3v3h-3zm-141 1h3v3h-3zm14 0h3v3h-3zm108 0h3v3h-3zm8 0h3v3h-3zm8 0h3v3h-3zm76 0h3v3h-3zm-246 1h3v3h-3zm162 0h3v3h-3zm53 0h3v3h-3zm-79 1h3v3h-3zm17 0h3v3h-3zm4 0h3v3h-3zm8 0h3v3h-3zm1 0h3v3h-3zm5 0h3v3h-3zm-17 1h3v3h-3zm5 0h3v3h-3zm14 0h3v3h-3zm20 0h3v3h-3zm-72 1h3v3h-3zm24 0h3v3h-3zm8 0h3v3h-3zm4 2h3v3h-3zm29 0h3v3h-3zm6 0h3v3h-3zm-82 1h3v3h-3zm32 0h3v3h-3zm75 0h3v3h-3zm30 0h3v3h-3zm-97 1h3v3h-3zm3 0h3v3h-3zm37 0h3v3h-3zm43 0h3v3h-3zm-156 1h3v3h-3zm72 0h3v3h-3zm1 0h3v3h-3zm-19 1h3v3h-3zm15 0h3v3h-3zm1 0h3v3h-3zm6 0h3v3h-3zm1 0h3v3h-3zm-100 1h3v3h-3zm10 0h3v3h-3zm77 0h3v3h-3zm2 0h3v3h-3zm7 0h3v3h-3zm46 0h3v3h-3zm7 0h3v3h-3zm-56 1h3v3h-3zm5 0h3v3h-3zm41 1h3v3h-3zm-173 1h3v3h-3zm117 0h3v3h-3zm6 2h3v3h-3zm-10 1h3v3h-3zm53 0h3v3h-3zm49 0h3v3h-3zm-28 1h3v3h-3zm-172 1h3v3h-3zm210 1h3v3h-3zm-139 1h3v3h-3zm19 0h3v3h-3zm-160 1h3v3h-3zm85 0h3v3h-3zm171 0h3v3h-3zm-190 2h3v3h-3zm160 0h3v3h-3zm-84 1h3v3h-3zm102 0h3v3h-3zm-131 2h3v3h-3zm148 0h3v3h-3zm128 0h3v3h-3zm-358 1h3v3h-3zm110 1h3v3h-3zm-47 1h3v3h-3zm2 0h3v3h-3zm58 0h3v3h-3zm24 0h3v3h-3zm60 0h3v3h-3zm-201 1h3v3h-3zm32 0h3v3h-3zm169 1h3v3h-3zm9 0h3v3h-3zm-145 1h3v3h-3zm72 0h3v3h-3zm1 0h3v3h-3zm47 0h3v3h-3zm45 0h3v3h-3zm-90 1h3v3h-3zm52 0h3v3h-3zm-204 1h3v3h-3zm141 0h3v3h-3zm-117 1h3v3h-3zm34 0h3v3h-3zm25 0h3v3h-3zm46 0h3v3h-3zm77 0h3v3h-3zm-97 1h3v3h-3zm-50 1h3v3h-3zm68 0h3v3h-3zm85 0h3v3h-3zm2 0h3v3h-3zm-13 1h3v3h-3zm-67 1h3v3h-3zm4 1h3v3h-3zm95 1h3v3h-3zm-252 1h3v3h-3zm132 0h3v3h-3zm19 0h3v3h-3zm6 0h3v3h-3zm1 0h3v3h-3zm64 0h3v3h-3zm-202 1h3v3h-3zm30 0h3v3h-3zm23 0h3v3h-3zm85 0h3v3h-3zm78 0h3v3h-3zm-222 1h3v3h-3zm141 0h3v3h-3zm13 0h3v3h-3zm-117 1h3v3h-3zm21 0h3v3h-3zm58 0h3v3h-3zm87 1h3v3h-3zm4 0h3v3h-3zm2 0h3v3h-3zm-139 2h3v3h-3zm75 0h3v3h-3zm-57 1h3v3h-3zm115 0h3v3h-3zm-147 1h3v3h-3zm10 0h3v3h-3zm155 0h3v3h-3zm2 0h3v3h-3zm10 0h3v3h-3zm-144 1h3v3h-3zm150 0h3v3h-3zm-260 2h3v3h-3zm78 0h3v3h-3zm9 0h3v3h-3zm138 0h3v3h-3zm7 1h3v3h-3zm-61 1h3v3h-3zm217 0h3v3h-3zm-370 1h3v3h-3zm219 0h3v3h-3zm5 1h3v3h-3zm-119 1h3v3h-3zm118 0h3v3h-3zm5 0h3v3h-3zm-19 3h3v3h-3zm25 0h3v3h-3zm-187 1h3v3h-3zm182 0h3v3h-3zm-191 1h3v3h-3zm100 0h3v3h-3zm18 0h3v3h-3zm62 0h3v3h-3zm1 0h3v3h-3zm-212 2h3v3h-3zm59 0h3v3h-3zm85 0h3v3h-3zm2 0h3v3h-3zm57 0h3v3h-3zm-5 1h3v3h-3zm-88 1h3v3h-3zm7 0h3v3h-3zm107 0h3v3h-3zm-238 1h3v3h-3zm61 0h3v3h-3zm154 1h3v3h-3zm-219 1h3v3h-3zm87 0h3v3h-3zm32 1h3v3h-3zm44 0h3v3h-3zm78 0h3v3h-3zm-195 1h3v3h-3zm122 0h3v3h-3zm-89 1h3v3h-3zm50 0h3v3h-3zm97 1h3v3h-3zm-5 1h3v3h-3zm-147 1h3v3h-3zm99 0h3v3h-3zm56 0h3v3h-3zm-175 1h3v3h-3zm4 0h3v3h-3zm44 0h3v3h-3zm66 0h3v3h-3zm-121 1h3v3h-3zm9 0h3v3h-3zm40 0h3v3h-3zm68 0h3v3h-3zm98 0h3v3h-3zm-45 1h3v3h-3zm-57 1h3v3h-3zm5 0h3v3h-3zm127 0h3v3h-3zm-220 1h3v3h-3zm149 0h3v3h-3zm34 0h3v3h-3zm-29 1h3v3h-3zm50 0h3v3h-3zm-250 1h3v3h-3zm197 0h3v3h-3zm-78 2h3v3h-3zm29 0h3v3h-3zm56 0h3v3h-3zm-63 1h3v3h-3zm4 0h3v3h-3zm-56 2h3v3h-3zm56 0h3v3h-3zm4 0h3v3h-3zm-49 1h3v3h-3zm94 0h3v3h-3zm3 0h3v3h-3zm-107 1h3v3h-3zm12 0h3v3h-3zm22 0h3v3h-3zm1 0h3v3h-3zm46 0h3v3h-3zm24 0h3v3h-3zm7 0h3v3h-3zm-59 1h3v3h-3zm8 0h3v3h-3zm3 0h3v3h-3zm4 0h3v3h-3zm2 0h3v3h-3zm11 0h3v3h-3zm-29 1h3v3h-3zm6 0h3v3h-3zm14 0h3v3h-3zm7 0h3v3h-3zm9 0h3v3h-3zm-17 1h3v3h-3zm-2 1h3v3h-3zm-52 1h3v3h-3zm55 0h3v3h-3zm-26 1h3v3h-3zm44 0h3v3h-3zm6 0h3v3h-3zm-8 1h3v3h-3zm-56 1h3v3h-3zm22 0h3v3h-3zm22 0h3v3h-3zm1 0h3v3h-3zm10 0h3v3h-3zm-199 1h3v3h-3zm44 0h3v3h-3zm207 0h3v3h-3zm-116 1h3v3h-3zm21 0h3v3h-3zm9 0h3v3h-3zm1 0h3v3h-3zm-156 1h3v3h-3zm73 0h3v3h-3zm110 0h3v3h-3zm-126 1h3v3h-3zm92 1h3v3h-3zm4 1h3v3h-3zm-130 2h3v3h-3zm-42 1h3v3h-3zm182 0h3v3h-3zm-143 1h3v3h-3zm137 0h3v3h-3zm-17 1h3v3h-3zm6 0h3v3h-3zm7 0h3v3h-3zm13 0h3v3h-3zm-96 1h3v3h-3zm74 0h3v3h-3zm3 0h3v3h-3z" fill="#000"/></g>
<path d="M1407.5 94.7H1961V589.6H1407.5Z M1632.5 94.7V589.6 M1407.5 275H1961" fill="none" stroke="#2a2a2a" stroke-width="2.4"/>
<path d="M1384.5 105.7H1407.5M1384.5 154.1H1407.5M1384.5 202.5H1407.5M1384.5 250.9H1407.5M1384.5 299.3H1407.5M1384.5 347.7H1407.5M1384.5 396.0H1407.5M1384.5 444.4H1407.5M1384.5 492.8H1407.5M1384.5 541.2H1407.5M1384.5 589.6H1407.5" stroke="#1a1a1a" stroke-width="2.8"/>
<path d="M1445.9 589.6v11.0M1470.5 589.6v11.0M1487.9 589.6v11.0M1501.3 589.6v11.0M1512.4 589.6v11.0M1521.7 589.6v11.0M1529.8 589.6v11.0M1536.9 589.6v11.0M1585.2 589.6v11.0M1609.7 589.6v11.0M1627.1 589.6v11.0M1640.6 589.6v11.0M1651.6 589.6v11.0M1660.9 589.6v11.0M1669.0 589.6v11.0M1676.1 589.6v11.0M1724.4 589.6v11.0M1748.9 589.6v11.0M1766.3 589.6v11.0M1779.8 589.6v11.0M1790.9 589.6v11.0M1800.2 589.6v11.0M1808.3 589.6v11.0M1815.4 589.6v11.0M1863.7 589.6v11.0M1888.2 589.6v11.0M1905.6 589.6v11.0M1919.1 589.6v11.0M1930.1 589.6v11.0M1939.4 589.6v11.0M1947.5 589.6v11.0M1954.6 589.6v11.0" stroke="#1a1a1a" stroke-width="3"/>
<path d="M1543.3 589.6v19.0M1682.5 589.6v19.0M1821.8 589.6v19.0M1961 589.6v19.0" stroke="#1a1a1a" stroke-width="3"/>
<text x="1532.7" y="629.2" font-size="26.0" fill="#111" stroke="#111" stroke-width="1.5" textLength="26.0" lengthAdjust="spacingAndGlyphs">10</text>
<text x="1561.8" y="619.7" font-size="19.5" fill="#111" stroke="#111" stroke-width="1">0</text>
<text x="1672.0" y="629.2" font-size="26.0" fill="#111" stroke="#111" stroke-width="1.5" textLength="26.0" lengthAdjust="spacingAndGlyphs">10</text>
<text x="1701.0" y="619.7" font-size="19.5" fill="#111" stroke="#111" stroke-width="1">1</text>
<text x="1811.2" y="629.2" font-size="26.0" fill="#111" stroke="#111" stroke-width="1.5" textLength="26.0" lengthAdjust="spacingAndGlyphs">10</text>
<text x="1840.3" y="619.7" font-size="19.5" fill="#111" stroke="#111" stroke-width="1">2</text>
<text x="1950.5" y="629.2" font-size="26.0" fill="#111" stroke="#111" stroke-width="1.5" textLength="26.0" lengthAdjust="spacingAndGlyphs">10</text>
<text x="1979.5" y="619.7" font-size="19.5" fill="#111" stroke="#111" stroke-width="1">3</text>
<text transform="scale(0.89,1)" x="1580.7" y="123.8" font-size="31.6" font-weight="bold" fill="#111">A1</text>
<text transform="scale(0.89,1)" x="1834.0" y="123.8" font-size="31.6" font-weight="bold" fill="#111">A2</text>
<text transform="scale(0.89,1)" x="1580.7" y="304.1" font-size="31.6" font-weight="bold" fill="#111">A3</text>
<text transform="scale(0.89,1)" x="1834.0" y="304.1" font-size="31.6" font-weight="bold" fill="#111">A4</text>
<text transform="scale(0.9,1)" x="1637.5" y="149.9" font-size="49.14" font-weight="normal" textLength="152.0" lengthAdjust="spacing" fill="#111" stroke="#111" stroke-width="1.1">1.14%</text>
<text transform="scale(0.9,1)" x="2001.2" y="155.0" font-size="48.31" font-weight="normal" textLength="152.6" lengthAdjust="spacing" fill="#111" stroke="#111" stroke-width="1.1">2.90%</text>
<text transform="scale(0.9,1)" x="1583.1" y="553.9" font-size="48.45" font-weight="normal" textLength="182.5" lengthAdjust="spacing" fill="#111" stroke="#111" stroke-width="1.1">83.83%</text>
<text transform="scale(0.9,1)" x="1976.3" y="553.9" font-size="48.45" font-weight="normal" textLength="183.3" lengthAdjust="spacing" fill="#111" stroke="#111" stroke-width="1.1">12.13%</text>
<text x="1594.0" y="64.5" font-size="43.94" font-weight="bold" textLength="98.2" lengthAdjust="spacingAndGlyphs" fill="#111">CsA</text>
<g filter="url(#bl2)"><path d="M282.0 1004.5Q287 995 298.5 995.0Q310 995 313.0 1004.5Q316 1014 318.5 1028.5Q321 1043 324.0 1057.0Q327 1071 325.5 1085.5Q324 1100 321.0 1110.5Q318 1121 315.5 1128.5Q313 1136 308.5 1141.0Q304 1146 292.0 1146.0Q280 1146 275.5 1141.0Q271 1136 268.5 1128.5Q266 1121 266.5 1110.5Q267 1100 268.5 1085.5Q270 1071 272.0 1057.0Q274 1043 275.5 1028.5Q277 1014 282.0 1004.5Z" fill="#000" stroke="#000" stroke-width="2"/></g><g filter="url(#bl)"><path d="M358 762h2v2h-2zm26 10h2v2h-2zm-37 1h2v2h-2zm-177 4h2v2h-2zm143 0h2v2h-2zm54 0h2v2h-2zm0 2h2v2h-2zm-185 3h2v2h-2zm62 0h2v2h-2zm-30 3h2v2h-2zm-59 1h2v2h-2zm248 0h2v2h-2zm-152 1h2v2h-2zm-39 1h2v2h-2zm3 0h2v2h-2zm10 0h2v2h-2zm-63 1h2v2h-2zm182 1h2v2h-2zm-20 1h2v2h-2zm-25 2h2v2h-2zm-79 1h2v2h-2zm191 8h2v2h-2zm-185 2h2v2h-2zm158 3h2v2h-2zm-229 2h2v2h-2zm91 0h2v2h-2zm107 1h2v2h-2zm-12 2h2v2h-2zm22 1h2v2h-2zm-21 6h2v2h-2zm-21 4h2v2h-2zm-69 2h2v2h-2zm60 0h2v2h-2zm38 1h2v2h-2zm1 0h2v2h-2zm-174 2h2v2h-2zm181 1h2v2h-2zm31 0h2v2h-2zm-161 1h2v2h-2zm144 3h2v2h-2zm-188 1h2v2h-2zm19 1h2v2h-2zm147 1h2v2h-2zm-231 2h2v2h-2zm263 0h2v2h-2zm-231 1h2v2h-2zm73 1h2v2h-2zm-77 2h2v2h-2zm156 0h2v2h-2zm37 3h2v2h-2zm43 2h2v2h-2zm-117 1h2v2h-2zm-52 1h2v2h-2zm30 0h2v2h-2zm-1 1h2v2h-2zm-128 1h2v2h-2zm102 0h2v2h-2zm124 0h2v2h-2zm10 1h2v2h-2zm12 0h2v2h-2zm-252 3h2v2h-2zm65 0h2v2h-2zm175 1h2v2h-2zm-197 1h2v2h-2zm33 4h2v2h-2zm110 0h2v2h-2zm13 0h2v2h-2zm-182 1h2v2h-2zm93 1h2v2h-2zm57 0h2v2h-2zm-54 1h2v2h-2zm-1 1h2v2h-2zm98 1h2v2h-2zm-135 2h2v2h-2zm119 0h2v2h-2zm-153 1h2v2h-2zm171 1h2v2h-2zm63 0h2v2h-2zm-201 1h2v2h-2zm173 1h2v2h-2zm-185 4h2v2h-2zm35 1h2v2h-2zm-40 1h2v2h-2zm29 0h2v2h-2zm141 0h2v2h-2zm27 0h2v2h-2zm21 0h2v2h-2zm-243 1h2v2h-2zm101 1h2v2h-2zm13 0h2v2h-2zm-105 1h2v2h-2zm7 0h2v2h-2zm129 0h2v2h-2zm-176 2h2v2h-2zm-10 1h2v2h-2zm181 0h2v2h-2zm19 0h2v2h-2zm71 0h2v2h-2zm-206 1h2v2h-2zm190 0h2v2h-2zm-163 1h2v2h-2zm132 1h2v2h-2zm-207 1h2v2h-2zm166 0h2v2h-2zm97 0h2v2h-2zm-101 2h2v2h-2zm-142 2h2v2h-2zm80 1h2v2h-2zm44 0h2v2h-2zm25 1h2v2h-2zm-138 1h2v2h-2zm210 0h2v2h-2zm29 0h2v2h-2zm-104 1h2v2h-2zm16 1h2v2h-2zm-172 2h2v2h-2zm72 1h2v2h-2zm76 0h2v2h-2zm-131 1h2v2h-2zm20 0h2v2h-2zm148 0h2v2h-2zm51 0h2v2h-2zm-240 1h2v2h-2zm81 0h2v2h-2zm3 0h2v2h-2zm166 0h2v2h-2zm-81 1h2v2h-2zm4 0h2v2h-2zm-86 1h2v2h-2zm69 0h2v2h-2zm16 0h2v2h-2zm-130 1h2v2h-2zm22 0h2v2h-2zm-67 1h2v2h-2zm25 0h2v2h-2zm137 1h2v2h-2zm-54 1h2v2h-2zm52 0h2v2h-2zm1 0h2v2h-2zm15 0h2v2h-2zm-169 1h2v2h-2zm190 0h2v2h-2zm-72 1h2v2h-2zm-126 1h2v2h-2zm85 0h2v2h-2zm78 0h2v2h-2zm2 0h2v2h-2zm12 0h2v2h-2zm3 0h2v2h-2zm7 0h2v2h-2zm-97 2h2v2h-2zm77 0h2v2h-2zm22 0h2v2h-2zm-152 1h2v2h-2zm151 0h2v2h-2zm9 0h2v2h-2zm-148 1h2v2h-2zm24 0h2v2h-2zm36 0h2v2h-2zm85 0h2v2h-2zm-137 1h2v2h-2zm117 0h2v2h-2zm3 0h2v2h-2zm-12 1h2v2h-2zm-6 1h2v2h-2zm3 0h2v2h-2zm10 0h2v2h-2zm9 0h2v2h-2zm-18 1h2v2h-2zm15 0h2v2h-2zm12 0h2v2h-2zm-87 1h2v2h-2zm60 0h2v2h-2zm16 0h2v2h-2zm2 0h2v2h-2zm4 0h2v2h-2zm-68 1h2v2h-2zm50 0h2v2h-2zm20 0h2v2h-2zm4 1h2v2h-2zm-174 1h2v2h-2zm169 0h2v2h-2zm4 0h2v2h-2zm-16 1h2v2h-2zm2 0h2v2h-2zm3 0h2v2h-2zm6 0h2v2h-2zm-175 1h2v2h-2zm80 0h2v2h-2zm69 0h2v2h-2zm20 0h2v2h-2zm-16 1h2v2h-2zm17 0h2v2h-2zm18 0h2v2h-2zm-138 1h2v2h-2zm103 0h2v2h-2zm7 0h2v2h-2zm7 0h2v2h-2zm10 0h2v2h-2zm13 0h2v2h-2zm-21 1h2v2h-2zm-197 1h2v2h-2zm189 0h2v2h-2zm13 0h2v2h-2zm-195 1h2v2h-2zm184 0h2v2h-2zm14 0h2v2h-2zm-186 1h2v2h-2zm70 0h2v2h-2zm88 0h2v2h-2zm16 0h2v2h-2zm4 0h2v2h-2zm5 0h2v2h-2zm1 0h2v2h-2zm4 0h2v2h-2zm1 0h2v2h-2zm1 0h2v2h-2zm17 0h2v2h-2zm-47 1h2v2h-2zm9 0h2v2h-2zm13 0h2v2h-2zm18 0h2v2h-2zm-119 1h2v2h-2zm39 0h2v2h-2zm54 0h2v2h-2zm6 0h2v2h-2zm1 0h2v2h-2zm5 0h2v2h-2zm-36 1h2v2h-2zm6 0h2v2h-2zm5 0h2v2h-2zm15 0h2v2h-2zm3 0h2v2h-2zm4 0h2v2h-2zm1 0h2v2h-2zm1 0h2v2h-2zm-123 1h2v2h-2zm5 0h2v2h-2zm62 0h2v2h-2zm21 0h2v2h-2zm5 0h2v2h-2zm3 0h2v2h-2zm28 0h2v2h-2zm9 0h2v2h-2zm4 0h2v2h-2zm-69 1h2v2h-2zm36 0h2v2h-2zm2 0h2v2h-2zm7 0h2v2h-2zm6 0h2v2h-2zm1 0h2v2h-2zm1 0h2v2h-2zm2 0h2v2h-2zm5 0h2v2h-2zm-176 1h2v2h-2zm144 0h2v2h-2zm23 0h2v2h-2zm14 0h2v2h-2zm-29 1h2v2h-2zm-123 1h2v2h-2zm19 0h2v2h-2zm102 0h2v2h-2zm6 0h2v2h-2zm1 0h2v2h-2zm1 0h2v2h-2zm9 0h2v2h-2zm1 0h2v2h-2zm1 0h2v2h-2zm2 0h2v2h-2zm15 0h2v2h-2zm-164 1h2v2h-2zm22 0h2v2h-2zm93 0h2v2h-2zm17 0h2v2h-2zm5 0h2v2h-2zm8 0h2v2h-2zm3 0h2v2h-2zm1 0h2v2h-2zm13 0h2v2h-2zm-187 1h2v2h-2zm24 0h2v2h-2zm49 0h2v2h-2zm67 0h2v2h-2zm5 0h2v2h-2zm9 0h2v2h-2zm1 0h2v2h-2zm9 0h2v2h-2zm2 0h2v2h-2zm1 0h2v2h-2zm5 0h2v2h-2zm104 0h2v2h-2zm-127 1h2v2h-2zm12 0h2v2h-2zm1 0h2v2h-2zm2 0h2v2h-2zm1 0h2v2h-2zm1 0h2v2h-2zm9 0h2v2h-2zm2 0h2v2h-2zm9 0h2v2h-2zm-107 1h2v2h-2zm65 0h2v2h-2zm4 0h2v2h-2zm1 0h2v2h-2zm21 0h2v2h-2zm1 0h2v2h-2zm5 0h2v2h-2zm-157 1h2v2h-2zm91 0h2v2h-2zm32 0h2v2h-2zm1 0h2v2h-2zm7 0h2v2h-2zm5 0h2v2h-2zm1 0h2v2h-2zm10 0h2v2h-2zm3 0h2v2h-2zm2 0h2v2h-2zm2 0h2v2h-2zm5 0h2v2h-2zm5 0h2v2h-2zm-196 1h2v2h-2zm53 0h2v2h-2zm68 0h2v2h-2zm6 0h2v2h-2zm17 0h2v2h-2zm18 0h2v2h-2zm3 0h2v2h-2zm3 0h2v2h-2zm1 0h2v2h-2zm16 0h2v2h-2zm4 0h2v2h-2zm7 0h2v2h-2zm-109 1h2v2h-2zm47 0h2v2h-2zm20 0h2v2h-2zm2 0h2v2h-2zm7 0h2v2h-2zm1 0h2v2h-2zm4 0h2v2h-2zm18 0h2v2h-2zm6 0h2v2h-2zm18 0h2v2h-2zm-60 1h2v2h-2zm7 0h2v2h-2zm6 0h2v2h-2zm12 0h2v2h-2zm1 0h2v2h-2zm2 0h2v2h-2zm11 0h2v2h-2zm8 0h2v2h-2zm-163 1h2v2h-2zm115 0h2v2h-2zm6 0h2v2h-2zm6 0h2v2h-2zm1 0h2v2h-2zm9 0h2v2h-2zm3 0h2v2h-2zm2 0h2v2h-2zm1 0h2v2h-2zm1 0h2v2h-2zm-165 1h2v2h-2zm128 0h2v2h-2zm19 0h2v2h-2zm3 0h2v2h-2zm1 0h2v2h-2zm1 0h2v2h-2zm2 0h2v2h-2zm1 0h2v2h-2zm6 0h2v2h-2zm2 0h2v2h-2zm7 0h2v2h-2zm3 0h2v2h-2zm22 0h2v2h-2zm231 0h2v2h-2zm-415 1h2v2h-2zm56 0h2v2h-2zm16 0h2v2h-2zm52 0h2v2h-2zm13 0h2v2h-2zm6 0h2v2h-2zm2 0h2v2h-2zm19 0h2v2h-2zm9 0h2v2h-2zm155 0h2v2h-2zm-313 1h2v2h-2zm123 0h2v2h-2zm6 0h2v2h-2zm13 0h2v2h-2zm2 0h2v2h-2zm1 0h2v2h-2zm10 0h2v2h-2zm3 0h2v2h-2zm1 0h2v2h-2zm20 0h2v2h-2zm196 0h2v2h-2zm-420 1h2v2h-2zm30 0h2v2h-2zm30 0h2v2h-2zm106 0h2v2h-2zm6 0h2v2h-2zm4 0h2v2h-2zm1 0h2v2h-2zm5 0h2v2h-2zm4 0h2v2h-2zm4 0h2v2h-2zm6 0h2v2h-2zm1 0h2v2h-2zm13 0h2v2h-2zm-154 1h2v2h-2zm19 0h2v2h-2zm95 0h2v2h-2zm10 0h2v2h-2zm3 0h2v2h-2zm3 0h2v2h-2zm8 0h2v2h-2zm1 0h2v2h-2zm-175 1h2v2h-2zm27 0h2v2h-2zm113 0h2v2h-2zm4 0h2v2h-2zm3 0h2v2h-2zm1 0h2v2h-2zm1 0h2v2h-2zm6 0h2v2h-2zm2 0h2v2h-2zm1 0h2v2h-2zm4 0h2v2h-2zm3 0h2v2h-2zm1 0h2v2h-2zm3 0h2v2h-2zm2 0h2v2h-2zm11 0h2v2h-2zm-151 1h2v2h-2zm11 0h2v2h-2zm99 0h2v2h-2zm4 0h2v2h-2zm1 0h2v2h-2zm3 0h2v2h-2zm7 0h2v2h-2zm1 0h2v2h-2zm1 0h2v2h-2zm2 0h2v2h-2zm5 0h2v2h-2zm6 0h2v2h-2zm3 0h2v2h-2zm-155 1h2v2h-2zm115 0h2v2h-2zm15 0h2v2h-2zm4 0h2v2h-2zm3 0h2v2h-2zm3 0h2v2h-2zm2 0h2v2h-2zm15 0h2v2h-2zm4 0h2v2h-2zm-160 1h2v2h-2zm76 0h2v2h-2zm48 0h2v2h-2zm7 0h2v2h-2zm3 0h2v2h-2zm2 0h2v2h-2zm7 0h2v2h-2zm4 0h2v2h-2zm3 0h2v2h-2zm2 0h2v2h-2zm13 0h2v2h-2zm3 0h2v2h-2zm148 0h2v2h-2zm-358 1h2v2h-2zm1 0h2v2h-2zm1 0h2v2h-2zm28 0h2v2h-2zm142 0h2v2h-2zm1 0h2v2h-2zm5 0h2v2h-2zm6 0h2v2h-2zm2 0h2v2h-2zm1 0h2v2h-2zm2 0h2v2h-2zm1 0h2v2h-2zm8 0h2v2h-2zm11 0h2v2h-2zm-190 1h2v2h-2zm137 0h2v2h-2zm13 0h2v2h-2zm9 0h2v2h-2zm6 0h2v2h-2zm3 0h2v2h-2zm7 0h2v2h-2zm10 0h2v2h-2zm-176 1h2v2h-2zm119 0h2v2h-2zm14 0h2v2h-2zm1 0h2v2h-2zm16 0h2v2h-2zm7 0h2v2h-2zm1 0h2v2h-2zm9 0h2v2h-2zm1 0h2v2h-2zm1 0h2v2h-2zm28 0h2v2h-2zm-166 1h2v2h-2zm108 0h2v2h-2zm4 0h2v2h-2zm1 0h2v2h-2zm10 0h2v2h-2zm6 0h2v2h-2zm5 0h2v2h-2zm2 0h2v2h-2zm1 0h2v2h-2zm15 0h2v2h-2zm-181 1h2v2h-2zm116 0h2v2h-2zm21 0h2v2h-2zm3 0h2v2h-2zm3 0h2v2h-2zm2 0h2v2h-2zm2 0h2v2h-2zm10 0h2v2h-2zm2 0h2v2h-2zm3 0h2v2h-2zm3 0h2v2h-2zm6 0h2v2h-2zm3 0h2v2h-2zm-144 1h2v2h-2zm41 0h2v2h-2zm41 0h2v2h-2zm26 0h2v2h-2zm14 0h2v2h-2zm4 0h2v2h-2zm1 0h2v2h-2zm1 0h2v2h-2zm1 0h2v2h-2zm6 0h2v2h-2zm6 0h2v2h-2zm179 0h2v2h-2zm-344 1h2v2h-2zm23 0h2v2h-2zm27 0h2v2h-2zm76 0h2v2h-2zm13 0h2v2h-2zm1 0h2v2h-2zm3 0h2v2h-2zm2 0h2v2h-2zm3 0h2v2h-2zm4 0h2v2h-2zm3 0h2v2h-2zm-160 1h2v2h-2zm49 0h2v2h-2zm34 0h2v2h-2zm19 0h2v2h-2zm20 0h2v2h-2zm1 0h2v2h-2zm8 0h2v2h-2zm9 0h2v2h-2zm4 0h2v2h-2zm2 0h2v2h-2zm1 0h2v2h-2zm1 0h2v2h-2zm1 0h2v2h-2zm1 0h2v2h-2zm2 0h2v2h-2zm10 0h2v2h-2zm2 0h2v2h-2zm9 0h2v2h-2zm-173 1h2v2h-2zm1 0h2v2h-2zm2 0h2v2h-2zm93 0h2v2h-2zm38 0h2v2h-2zm21 0h2v2h-2zm1 0h2v2h-2zm1 0h2v2h-2zm7 0h2v2h-2zm-195 1h2v2h-2zm66 0h2v2h-2zm12 0h2v2h-2zm80 0h2v2h-2zm8 0h2v2h-2zm6 0h2v2h-2zm3 0h2v2h-2zm6 0h2v2h-2zm1 0h2v2h-2zm3 0h2v2h-2zm1 0h2v2h-2zm4 0h2v2h-2zm3 0h2v2h-2zm2 0h2v2h-2zm13 0h2v2h-2zm-198 1h2v2h-2zm77 0h2v2h-2zm77 0h2v2h-2zm2 0h2v2h-2zm4 0h2v2h-2zm3 0h2v2h-2zm4 0h2v2h-2zm4 0h2v2h-2zm3 0h2v2h-2zm1 0h2v2h-2zm3 0h2v2h-2zm3 0h2v2h-2zm7 0h2v2h-2zm6 0h2v2h-2zm120 0h2v2h-2zm-243 1h2v2h-2zm2 0h2v2h-2zm22 0h2v2h-2zm61 0h2v2h-2zm2 0h2v2h-2zm3 0h2v2h-2zm12 0h2v2h-2zm4 0h2v2h-2zm3 0h2v2h-2zm4 0h2v2h-2zm2 0h2v2h-2zm3 0h2v2h-2zm6 0h2v2h-2zm-195 1h2v2h-2zm1 0h2v2h-2zm9 0h2v2h-2zm68 0h2v2h-2zm46 0h2v2h-2zm5 0h2v2h-2zm26 0h2v2h-2zm3 0h2v2h-2zm3 0h2v2h-2zm9 0h2v2h-2zm3 0h2v2h-2zm5 0h2v2h-2zm4 0h2v2h-2zm7 0h2v2h-2zm4 0h2v2h-2zm15 0h2v2h-2zm-149 1h2v2h-2zm61 0h2v2h-2zm12 0h2v2h-2zm18 0h2v2h-2zm7 0h2v2h-2zm9 0h2v2h-2zm7 0h2v2h-2zm1 0h2v2h-2zm1 0h2v2h-2zm1 0h2v2h-2zm3 0h2v2h-2zm2 0h2v2h-2zm6 0h2v2h-2zm1 0h2v2h-2zm4 0h2v2h-2zm1 0h2v2h-2zm7 0h2v2h-2zm9 0h2v2h-2zm-220 1h2v2h-2zm20 0h2v2h-2zm5 0h2v2h-2zm102 0h2v2h-2zm6 0h2v2h-2zm20 0h2v2h-2zm9 0h2v2h-2zm11 0h2v2h-2zm2 0h2v2h-2zm2 0h2v2h-2zm4 0h2v2h-2zm7 0h2v2h-2zm7 0h2v2h-2zm3 0h2v2h-2zm2 0h2v2h-2zm11 0h2v2h-2zm-193 1h2v2h-2zm84 0h2v2h-2zm40 0h2v2h-2zm35 0h2v2h-2zm3 0h2v2h-2zm3 0h2v2h-2zm1 0h2v2h-2zm1 0h2v2h-2zm4 0h2v2h-2zm2 0h2v2h-2zm1 0h2v2h-2zm4 0h2v2h-2zm1 0h2v2h-2zm1 0h2v2h-2zm5 0h2v2h-2zm7 0h2v2h-2zm185 0h2v2h-2zm15 0h2v2h-2zm-372 1h2v2h-2zm37 0h2v2h-2zm98 0h2v2h-2zm6 0h2v2h-2zm4 0h2v2h-2zm2 0h2v2h-2zm1 0h2v2h-2zm2 0h2v2h-2zm2 0h2v2h-2zm2 0h2v2h-2zm5 0h2v2h-2zm3 0h2v2h-2zm8 0h2v2h-2zm14 0h2v2h-2zm-169 1h2v2h-2zm114 0h2v2h-2zm7 0h2v2h-2zm1 0h2v2h-2zm1 0h2v2h-2zm1 0h2v2h-2zm15 0h2v2h-2zm2 0h2v2h-2zm4 0h2v2h-2zm3 0h2v2h-2zm1 0h2v2h-2zm58 0h2v2h-2zm-259 1h2v2h-2zm14 0h2v2h-2zm10 0h2v2h-2zm11 0h2v2h-2zm45 0h2v2h-2zm74 0h2v2h-2zm1 0h2v2h-2zm3 0h2v2h-2zm19 0h2v2h-2zm8 0h2v2h-2zm1 0h2v2h-2zm65 0h2v2h-2zm116 0h2v2h-2zm-364 1h2v2h-2zm24 0h2v2h-2zm11 0h2v2h-2zm33 0h2v2h-2zm95 0h2v2h-2zm6 0h2v2h-2zm5 0h2v2h-2zm1 0h2v2h-2zm2 0h2v2h-2zm2 0h2v2h-2zm1 0h2v2h-2zm2 0h2v2h-2zm8 0h2v2h-2zm1 0h2v2h-2zm4 0h2v2h-2zm23 0h2v2h-2zm83 0h2v2h-2zm-267 1h2v2h-2zm36 0h2v2h-2zm5 0h2v2h-2zm93 0h2v2h-2zm2 0h2v2h-2zm3 0h2v2h-2zm2 0h2v2h-2zm5 0h2v2h-2zm1 0h2v2h-2zm6 0h2v2h-2zm9 0h2v2h-2zm4 0h2v2h-2zm17 0h2v2h-2zm58 0h2v2h-2zm-239 1h2v2h-2zm15 0h2v2h-2zm8 0h2v2h-2zm55 0h2v2h-2zm43 0h2v2h-2zm17 0h2v2h-2zm1 0h2v2h-2zm3 0h2v2h-2zm2 0h2v2h-2zm1 0h2v2h-2zm1 0h2v2h-2zm1 0h2v2h-2zm2 0h2v2h-2zm-177 1h2v2h-2zm50 0h2v2h-2zm77 0h2v2h-2zm27 0h2v2h-2zm3 0h2v2h-2zm4 0h2v2h-2zm4 0h2v2h-2zm6 0h2v2h-2zm4 0h2v2h-2zm2 0h2v2h-2zm16 0h2v2h-2zm1 0h2v2h-2zm65 0h2v2h-2zm-253 1h2v2h-2zm4 0h2v2h-2zm32 0h2v2h-2zm49 0h2v2h-2zm72 0h2v2h-2zm4 0h2v2h-2zm1 0h2v2h-2zm2 0h2v2h-2zm1 0h2v2h-2zm5 0h2v2h-2zm2 0h2v2h-2zm2 0h2v2h-2zm8 0h2v2h-2zm1 0h2v2h-2zm2 0h2v2h-2zm4 0h2v2h-2zm94 0h2v2h-2zm-283 1h2v2h-2zm45 0h2v2h-2zm114 0h2v2h-2zm4 0h2v2h-2zm1 0h2v2h-2zm4 0h2v2h-2zm2 0h2v2h-2zm2 0h2v2h-2zm2 0h2v2h-2zm9 0h2v2h-2zm-163 1h2v2h-2zm47 0h2v2h-2zm26 0h2v2h-2zm35 0h2v2h-2zm12 0h2v2h-2zm8 0h2v2h-2zm9 0h2v2h-2zm2 0h2v2h-2zm7 0h2v2h-2zm2 0h2v2h-2zm9 0h2v2h-2zm5 0h2v2h-2zm7 0h2v2h-2zm4 0h2v2h-2zm1 0h2v2h-2zm-153 1h2v2h-2zm86 0h2v2h-2zm15 0h2v2h-2zm14 0h2v2h-2zm7 0h2v2h-2zm9 0h2v2h-2zm8 0h2v2h-2zm10 0h2v2h-2zm1 0h2v2h-2zm8 0h2v2h-2zm10 0h2v2h-2zm-179 1h2v2h-2zm56 0h2v2h-2zm59 0h2v2h-2zm18 0h2v2h-2zm6 0h2v2h-2zm1 0h2v2h-2zm2 0h2v2h-2zm8 0h2v2h-2zm2 0h2v2h-2zm5 0h2v2h-2zm6 0h2v2h-2zm-166 1h2v2h-2zm34 0h2v2h-2zm49 0h2v2h-2zm6 0h2v2h-2zm26 0h2v2h-2zm8 0h2v2h-2zm6 0h2v2h-2zm5 0h2v2h-2zm1 0h2v2h-2zm4 0h2v2h-2zm17 0h2v2h-2zm-161 1h2v2h-2zm2 0h2v2h-2zm5 0h2v2h-2zm31 0h2v2h-2zm99 0h2v2h-2zm3 0h2v2h-2zm5 0h2v2h-2zm8 0h2v2h-2zm1 0h2v2h-2zm9 0h2v2h-2zm1 0h2v2h-2zm3 0h2v2h-2zm47 0h2v2h-2zm141 0h2v2h-2zm-369 1h2v2h-2zm41 0h2v2h-2zm6 0h2v2h-2zm49 0h2v2h-2zm18 0h2v2h-2zm17 0h2v2h-2zm16 0h2v2h-2zm1 0h2v2h-2zm9 0h2v2h-2zm1 0h2v2h-2zm7 0h2v2h-2zm3 0h2v2h-2zm5 0h2v2h-2zm-187 1h2v2h-2zm19 0h2v2h-2zm2 0h2v2h-2zm3 0h2v2h-2zm35 0h2v2h-2zm2 0h2v2h-2zm5 0h2v2h-2zm9 0h2v2h-2zm41 0h2v2h-2zm16 0h2v2h-2zm29 0h2v2h-2zm25 0h2v2h-2zm1 0h2v2h-2zm8 0h2v2h-2zm16 0h2v2h-2zm1 0h2v2h-2zm-180 1h2v2h-2zm51 0h2v2h-2zm15 0h2v2h-2zm62 0h2v2h-2zm3 0h2v2h-2zm2 0h2v2h-2zm4 0h2v2h-2zm6 0h2v2h-2zm7 0h2v2h-2zm13 0h2v2h-2zm2 0h2v2h-2zm-206 1h2v2h-2zm76 0h2v2h-2zm22 0h2v2h-2zm57 0h2v2h-2zm7 0h2v2h-2zm1 0h2v2h-2zm15 0h2v2h-2zm5 0h2v2h-2zm9 0h2v2h-2zm1 0h2v2h-2zm42 0h2v2h-2zm-231 1h2v2h-2zm6 0h2v2h-2zm13 0h2v2h-2zm121 0h2v2h-2zm7 0h2v2h-2zm16 0h2v2h-2zm4 0h2v2h-2zm4 0h2v2h-2zm1 0h2v2h-2zm4 0h2v2h-2zm5 0h2v2h-2zm1 0h2v2h-2zm2 0h2v2h-2zm4 0h2v2h-2zm1 0h2v2h-2zm10 0h2v2h-2zm1 0h2v2h-2zm7 0h2v2h-2zm-167 1h2v2h-2zm82 0h2v2h-2zm21 0h2v2h-2zm7 0h2v2h-2zm4 0h2v2h-2zm4 0h2v2h-2zm8 0h2v2h-2zm5 0h2v2h-2zm10 0h2v2h-2zm1 0h2v2h-2zm1 0h2v2h-2zm-127 1h2v2h-2zm28 0h2v2h-2zm3 0h2v2h-2zm7 0h2v2h-2zm73 0h2v2h-2zm10 0h2v2h-2zm2 0h2v2h-2zm3 0h2v2h-2zm7 0h2v2h-2zm2 0h2v2h-2zm9 0h2v2h-2zm10 0h2v2h-2zm-178 1h2v2h-2zm8 0h2v2h-2zm36 0h2v2h-2zm4 0h2v2h-2zm7 0h2v2h-2zm49 0h2v2h-2zm17 0h2v2h-2zm16 0h2v2h-2zm10 0h2v2h-2zm6 0h2v2h-2zm2 0h2v2h-2zm4 0h2v2h-2zm-169 1h2v2h-2zm14 0h2v2h-2zm123 0h2v2h-2zm3 0h2v2h-2zm5 0h2v2h-2zm3 0h2v2h-2zm23 0h2v2h-2zm1 0h2v2h-2zm-169 1h2v2h-2zm29 0h2v2h-2zm62 0h2v2h-2zm1 0h2v2h-2zm43 0h2v2h-2zm13 0h2v2h-2zm3 0h2v2h-2zm5 0h2v2h-2zm1 0h2v2h-2zm2 0h2v2h-2zm26 0h2v2h-2zm-216 1h2v2h-2zm45 0h2v2h-2zm15 0h2v2h-2zm10 0h2v2h-2zm71 0h2v2h-2zm12 0h2v2h-2zm1 0h2v2h-2zm3 0h2v2h-2zm7 0h2v2h-2zm8 0h2v2h-2zm1 0h2v2h-2zm6 0h2v2h-2zm3 0h2v2h-2zm5 0h2v2h-2zm13 0h2v2h-2zm-158 1h2v2h-2zm51 0h2v2h-2zm46 0h2v2h-2zm6 0h2v2h-2zm3 0h2v2h-2zm3 0h2v2h-2zm4 0h2v2h-2zm15 0h2v2h-2zm1 0h2v2h-2zm12 0h2v2h-2zm14 0h2v2h-2zm1 0h2v2h-2zm6 0h2v2h-2zm13 0h2v2h-2zm-191 1h2v2h-2zm8 0h2v2h-2zm11 0h2v2h-2zm5 0h2v2h-2zm15 0h2v2h-2zm7 0h2v2h-2zm50 0h2v2h-2zm42 0h2v2h-2zm3 0h2v2h-2zm1 0h2v2h-2zm8 0h2v2h-2zm7 0h2v2h-2zm4 0h2v2h-2zm10 0h2v2h-2zm3 0h2v2h-2zm-187 1h2v2h-2zm23 0h2v2h-2zm50 0h2v2h-2zm2 0h2v2h-2zm66 0h2v2h-2zm7 0h2v2h-2zm3 0h2v2h-2zm3 0h2v2h-2zm5 0h2v2h-2zm15 0h2v2h-2zm1 0h2v2h-2zm7 0h2v2h-2zm7 0h2v2h-2zm197 0h2v2h-2zm-360 1h2v2h-2zm58 0h2v2h-2zm13 0h2v2h-2zm7 0h2v2h-2zm13 0h2v2h-2zm51 0h2v2h-2zm1 0h2v2h-2zm6 0h2v2h-2zm5 0h2v2h-2zm19 0h2v2h-2zm5 0h2v2h-2zm-179 1h2v2h-2zm19 0h2v2h-2zm23 0h2v2h-2zm6 0h2v2h-2zm3 0h2v2h-2zm1 0h2v2h-2zm13 0h2v2h-2zm9 0h2v2h-2zm38 0h2v2h-2zm6 0h2v2h-2zm7 0h2v2h-2zm14 0h2v2h-2zm1 0h2v2h-2zm23 0h2v2h-2zm20 0h2v2h-2zm-185 1h2v2h-2zm11 0h2v2h-2zm8 0h2v2h-2zm38 0h2v2h-2zm18 0h2v2h-2zm39 0h2v2h-2zm1 0h2v2h-2zm10 0h2v2h-2zm5 0h2v2h-2zm7 0h2v2h-2zm2 0h2v2h-2zm6 0h2v2h-2zm2 0h2v2h-2zm1 0h2v2h-2zm3 0h2v2h-2zm1 0h2v2h-2zm5 0h2v2h-2zm16 0h2v2h-2zm-136 1h2v2h-2zm2 0h2v2h-2zm8 0h2v2h-2zm7 0h2v2h-2zm28 0h2v2h-2zm17 0h2v2h-2zm4 0h2v2h-2zm8 0h2v2h-2zm23 0h2v2h-2zm2 0h2v2h-2zm14 0h2v2h-2zm10 0h2v2h-2zm3 0h2v2h-2zm-151 1h2v2h-2zm5 0h2v2h-2zm38 0h2v2h-2zm62 0h2v2h-2zm9 0h2v2h-2zm2 0h2v2h-2zm11 0h2v2h-2zm2 0h2v2h-2zm16 0h2v2h-2zm3 0h2v2h-2zm9 0h2v2h-2zm4 0h2v2h-2zm1 0h2v2h-2zm-196 1h2v2h-2zm37 0h2v2h-2zm31 0h2v2h-2zm32 0h2v2h-2zm30 0h2v2h-2zm5 0h2v2h-2zm2 0h2v2h-2zm9 0h2v2h-2zm18 0h2v2h-2zm5 0h2v2h-2zm1 0h2v2h-2zm7 0h2v2h-2zm119 0h2v2h-2zm-321 1h2v2h-2zm1 0h2v2h-2zm43 0h2v2h-2zm38 0h2v2h-2zm58 0h2v2h-2zm15 0h2v2h-2zm3 0h2v2h-2zm24 0h2v2h-2zm4 0h2v2h-2zm191 0h2v2h-2zm75 0h2v2h-2zm-356 1h2v2h-2zm7 0h2v2h-2zm50 0h2v2h-2zm19 0h2v2h-2zm9 0h2v2h-2zm3 0h2v2h-2zm2 0h2v2h-2zm2 0h2v2h-2zm4 0h2v2h-2zm11 0h2v2h-2zm3 0h2v2h-2zm7 0h2v2h-2zm9 0h2v2h-2zm2 0h2v2h-2zm12 0h2v2h-2zm-218 1h2v2h-2zm10 0h2v2h-2zm84 0h2v2h-2zm54 0h2v2h-2zm4 0h2v2h-2zm12 0h2v2h-2zm3 0h2v2h-2zm12 0h2v2h-2zm7 0h2v2h-2zm16 0h2v2h-2zm-203 1h2v2h-2zm38 0h2v2h-2zm9 0h2v2h-2zm24 0h2v2h-2zm4 0h2v2h-2zm51 0h2v2h-2zm34 0h2v2h-2zm1 0h2v2h-2zm11 0h2v2h-2zm6 0h2v2h-2zm4 0h2v2h-2zm5 0h2v2h-2zm5 0h2v2h-2zm7 0h2v2h-2zm-171 1h2v2h-2zm5 0h2v2h-2zm21 0h2v2h-2zm1 0h2v2h-2zm17 0h2v2h-2zm38 0h2v2h-2zm35 0h2v2h-2zm13 0h2v2h-2zm32 0h2v2h-2zm4 0h2v2h-2zm1 0h2v2h-2zm1 0h2v2h-2zm96 0h2v2h-2zm-276 1h2v2h-2zm54 0h2v2h-2zm2 0h2v2h-2zm21 0h2v2h-2zm63 0h2v2h-2zm117 0h2v2h-2zm-263 1h2v2h-2zm60 0h2v2h-2zm35 0h2v2h-2zm9 0h2v2h-2zm16 0h2v2h-2zm32 0h2v2h-2zm28 0h2v2h-2zm3 0h2v2h-2zm2 0h2v2h-2zm126 0h2v2h-2zm-334 1h2v2h-2zm26 0h2v2h-2zm24 0h2v2h-2zm34 0h2v2h-2zm16 0h2v2h-2zm62 0h2v2h-2zm12 0h2v2h-2zm3 0h2v2h-2zm31 0h2v2h-2zm15 0h2v2h-2zm13 0h2v2h-2zm-203 1h2v2h-2zm21 0h2v2h-2zm8 0h2v2h-2zm28 0h2v2h-2zm15 0h2v2h-2zm37 0h2v2h-2zm9 0h2v2h-2zm13 0h2v2h-2zm62 0h2v2h-2zm114 0h2v2h-2zm74 0h2v2h-2zm-377 1h2v2h-2zm25 0h2v2h-2zm4 0h2v2h-2zm1 0h2v2h-2zm19 0h2v2h-2zm10 0h2v2h-2zm19 0h2v2h-2zm7 0h2v2h-2zm1 0h2v2h-2zm13 0h2v2h-2zm27 0h2v2h-2zm11 0h2v2h-2zm7 0h2v2h-2zm55 0h2v2h-2zm-203 1h2v2h-2zm7 0h2v2h-2zm19 0h2v2h-2zm11 0h2v2h-2zm7 0h2v2h-2zm3 0h2v2h-2zm6 0h2v2h-2zm46 0h2v2h-2zm7 0h2v2h-2zm8 0h2v2h-2zm17 0h2v2h-2zm15 0h2v2h-2zm1 0h2v2h-2zm30 0h2v2h-2zm-158 1h2v2h-2zm64 0h2v2h-2zm48 0h2v2h-2zm9 0h2v2h-2zm35 0h2v2h-2zm-172 1h2v2h-2zm9 0h2v2h-2zm43 0h2v2h-2zm1 0h2v2h-2zm31 0h2v2h-2zm49 0h2v2h-2zm3 0h2v2h-2zm4 0h2v2h-2zm44 0h2v2h-2zm1 0h2v2h-2zm-194 1h2v2h-2zm25 0h2v2h-2zm51 0h2v2h-2zm20 0h2v2h-2zm8 0h2v2h-2zm18 0h2v2h-2zm1 0h2v2h-2zm4 0h2v2h-2zm12 0h2v2h-2zm5 0h2v2h-2zm3 0h2v2h-2zm53 0h2v2h-2zm119 0h2v2h-2zm-340 1h2v2h-2zm18 0h2v2h-2zm20 0h2v2h-2zm4 0h2v2h-2zm28 0h2v2h-2zm37 0h2v2h-2zm18 0h2v2h-2zm11 0h2v2h-2zm33 0h2v2h-2zm40 0h2v2h-2zm-161 1h2v2h-2zm17 0h2v2h-2zm12 0h2v2h-2zm43 0h2v2h-2zm28 0h2v2h-2zm10 0h2v2h-2zm1 0h2v2h-2zm44 0h2v2h-2zm69 0h2v2h-2zm-270 1h2v2h-2zm57 0h2v2h-2zm10 0h2v2h-2zm8 0h2v2h-2zm5 0h2v2h-2zm19 0h2v2h-2zm20 0h2v2h-2zm8 0h2v2h-2zm5 0h2v2h-2zm35 0h2v2h-2zm33 0h2v2h-2zm2 0h2v2h-2zm6 0h2v2h-2zm5 0h2v2h-2zm66 0h2v2h-2zm-219 1h2v2h-2zm6 0h2v2h-2zm19 0h2v2h-2zm47 0h2v2h-2zm77 0h2v2h-2zm170 0h2v2h-2zm-358 1h2v2h-2zm4 0h2v2h-2zm46 0h2v2h-2zm37 0h2v2h-2zm53 0h2v2h-2zm4 0h2v2h-2zm1 0h2v2h-2zm-148 1h2v2h-2zm6 0h2v2h-2zm16 0h2v2h-2zm17 0h2v2h-2zm26 0h2v2h-2zm31 0h2v2h-2zm19 0h2v2h-2zm1 0h2v2h-2zm23 0h2v2h-2zm53 0h2v2h-2zm-214 1h2v2h-2zm32 0h2v2h-2zm24 0h2v2h-2zm37 0h2v2h-2zm25 0h2v2h-2zm29 0h2v2h-2zm3 0h2v2h-2zm3 0h2v2h-2zm-147 1h2v2h-2zm31 0h2v2h-2zm28 0h2v2h-2zm12 0h2v2h-2zm15 0h2v2h-2zm6 0h2v2h-2zm11 0h2v2h-2zm13 0h2v2h-2zm26 0h2v2h-2zm10 0h2v2h-2zm50 0h2v2h-2zm1 0h2v2h-2zm-157 1h2v2h-2zm3 0h2v2h-2zm1 0h2v2h-2zm26 0h2v2h-2zm54 0h2v2h-2zm25 0h2v2h-2zm49 0h2v2h-2zm-211 1h2v2h-2zm18 0h2v2h-2zm1 0h2v2h-2zm37 0h2v2h-2zm8 0h2v2h-2zm2 0h2v2h-2zm11 0h2v2h-2zm8 0h2v2h-2zm1 0h2v2h-2zm7 0h2v2h-2zm43 0h2v2h-2zm6 0h2v2h-2zm24 0h2v2h-2zm39 0h2v2h-2zm14 0h2v2h-2zm11 0h2v2h-2zm4 0h2v2h-2zm-171 1h2v2h-2zm39 0h2v2h-2zm22 0h2v2h-2zm31 0h2v2h-2zm8 0h2v2h-2zm1 0h2v2h-2zm46 0h2v2h-2zm36 0h2v2h-2zm-251 1h2v2h-2zm41 0h2v2h-2zm82 0h2v2h-2zm42 0h2v2h-2zm-146 1h2v2h-2zm36 0h2v2h-2zm20 0h2v2h-2zm43 0h2v2h-2zm18 0h2v2h-2zm24 0h2v2h-2zm4 0h2v2h-2zm1 0h2v2h-2zm47 0h2v2h-2zm15 0h2v2h-2zm7 0h2v2h-2zm-194 1h2v2h-2zm5 0h2v2h-2zm25 0h2v2h-2zm6 0h2v2h-2zm42 0h2v2h-2zm97 0h2v2h-2zm10 0h2v2h-2zm-227 1h2v2h-2zm63 0h2v2h-2zm42 0h2v2h-2zm11 0h2v2h-2zm18 0h2v2h-2zm30 0h2v2h-2zm-161 1h2v2h-2zm63 0h2v2h-2zm20 0h2v2h-2zm34 0h2v2h-2zm20 0h2v2h-2zm21 0h2v2h-2zm6 0h2v2h-2zm4 0h2v2h-2zm47 0h2v2h-2zm-195 1h2v2h-2zm30 0h2v2h-2zm3 0h2v2h-2zm74 0h2v2h-2zm6 0h2v2h-2zm7 0h2v2h-2zm4 0h2v2h-2zm16 0h2v2h-2zm8 0h2v2h-2zm42 0h2v2h-2zm-194 1h2v2h-2zm43 0h2v2h-2zm36 0h2v2h-2zm51 0h2v2h-2zm5 0h2v2h-2zm5 0h2v2h-2zm1 0h2v2h-2zm10 0h2v2h-2zm-152 1h2v2h-2zm35 0h2v2h-2zm33 0h2v2h-2zm70 0h2v2h-2zm13 0h2v2h-2zm95 0h2v2h-2zm-245 1h2v2h-2zm38 0h2v2h-2zm13 0h2v2h-2zm51 0h2v2h-2zm1 0h2v2h-2zm8 0h2v2h-2zm13 0h2v2h-2zm10 0h2v2h-2zm11 0h2v2h-2zm6 0h2v2h-2zm45 0h2v2h-2zm16 0h2v2h-2zm52 0h2v2h-2zm-282 1h2v2h-2zm33 0h2v2h-2zm22 0h2v2h-2zm3 0h2v2h-2zm1 0h2v2h-2zm59 0h2v2h-2zm31 0h2v2h-2zm15 0h2v2h-2zm11 0h2v2h-2zm39 0h2v2h-2zm16 0h2v2h-2zm-228 1h2v2h-2zm11 0h2v2h-2zm1 0h2v2h-2zm15 0h2v2h-2zm4 0h2v2h-2zm1 0h2v2h-2zm34 0h2v2h-2zm14 0h2v2h-2zm50 0h2v2h-2zm17 0h2v2h-2zm2 0h2v2h-2zm22 0h2v2h-2zm3 0h2v2h-2zm39 0h2v2h-2zm12 0h2v2h-2zm23 0h2v2h-2zm-231 1h2v2h-2zm60 0h2v2h-2zm6 0h2v2h-2zm60 0h2v2h-2zm-131 1h2v2h-2zm32 0h2v2h-2zm50 0h2v2h-2zm63 0h2v2h-2zm5 0h2v2h-2zm56 0h2v2h-2zm3 0h2v2h-2zm-187 1h2v2h-2zm19 0h2v2h-2zm4 0h2v2h-2zm71 0h2v2h-2zm8 0h2v2h-2zm30 0h2v2h-2zm49 0h2v2h-2zm17 0h2v2h-2zm-231 1h2v2h-2zm21 0h2v2h-2zm20 0h2v2h-2zm20 0h2v2h-2zm32 0h2v2h-2zm42 0h2v2h-2zm3 0h2v2h-2zm7 0h2v2h-2zm16 0h2v2h-2zm12 0h2v2h-2zm-169 1h2v2h-2zm74 0h2v2h-2zm59 0h2v2h-2zm11 0h2v2h-2zm18 0h2v2h-2zm1 0h2v2h-2zm78 0h2v2h-2zm-221 1h2v2h-2zm18 0h2v2h-2zm1 0h2v2h-2zm9 0h2v2h-2zm22 0h2v2h-2zm12 0h2v2h-2zm31 0h2v2h-2zm13 0h2v2h-2zm9 0h2v2h-2zm1 0h2v2h-2zm8 0h2v2h-2zm5 0h2v2h-2zm59 0h2v2h-2zm18 0h2v2h-2zm-103 1h2v2h-2zm8 0h2v2h-2zm21 0h2v2h-2zm2 0h2v2h-2zm9 0h2v2h-2zm79 0h2v2h-2zm-212 1h2v2h-2zm49 0h2v2h-2zm7 0h2v2h-2zm40 0h2v2h-2zm4 0h2v2h-2zm8 0h2v2h-2zm19 0h2v2h-2zm4 0h2v2h-2zm1 0h2v2h-2zm49 0h2v2h-2zm23 0h2v2h-2zm212 0h2v2h-2zm-301 1h2v2h-2zm15 0h2v2h-2zm7 0h2v2h-2zm53 0h2v2h-2zm-176 1h2v2h-2zm19 0h2v2h-2zm54 0h2v2h-2zm7 0h2v2h-2zm19 0h2v2h-2zm-118 1h2v2h-2zm17 0h2v2h-2zm9 0h2v2h-2zm8 0h2v2h-2zm5 0h2v2h-2zm3 0h2v2h-2zm11 0h2v2h-2zm15 0h2v2h-2zm12 0h2v2h-2zm3 0h2v2h-2zm33 0h2v2h-2zm5 0h2v2h-2zm11 0h2v2h-2zm1 0h2v2h-2zm5 0h2v2h-2zm236 0h2v2h-2zm8 0h2v2h-2zm-415 1h2v2h-2zm13 0h2v2h-2zm9 0h2v2h-2zm20 0h2v2h-2zm41 0h2v2h-2zm2 0h2v2h-2zm11 0h2v2h-2zm10 0h2v2h-2zm111 0h2v2h-2zm12 0h2v2h-2zm-212 1h2v2h-2zm7 0h2v2h-2zm9 0h2v2h-2zm1 0h2v2h-2zm19 0h2v2h-2zm24 0h2v2h-2zm39 0h2v2h-2zm30 0h2v2h-2zm16 0h2v2h-2zm10 0h2v2h-2zm-113 1h2v2h-2zm10 0h2v2h-2zm19 0h2v2h-2zm7 0h2v2h-2zm10 0h2v2h-2zm35 0h2v2h-2zm10 0h2v2h-2zm70 0h2v2h-2zm8 0h2v2h-2zm2 0h2v2h-2zm-183 1h2v2h-2zm38 0h2v2h-2zm69 0h2v2h-2zm2 0h2v2h-2zm5 0h2v2h-2zm5 0h2v2h-2zm3 0h2v2h-2zm3 0h2v2h-2zm-163 1h2v2h-2zm36 0h2v2h-2zm7 0h2v2h-2zm1 0h2v2h-2zm2 0h2v2h-2zm70 0h2v2h-2zm19 0h2v2h-2zm4 0h2v2h-2zm4 0h2v2h-2zm5 0h2v2h-2zm7 0h2v2h-2zm-155 1h2v2h-2zm51 0h2v2h-2zm27 0h2v2h-2zm5 0h2v2h-2zm5 0h2v2h-2zm20 0h2v2h-2zm4 0h2v2h-2zm25 0h2v2h-2zm5 0h2v2h-2zm6 0h2v2h-2zm9 0h2v2h-2zm54 0h2v2h-2zm1 0h2v2h-2zm-164 1h2v2h-2zm4 0h2v2h-2zm17 0h2v2h-2zm2 0h2v2h-2zm30 0h2v2h-2zm38 0h2v2h-2zm22 0h2v2h-2zm3 0h2v2h-2zm62 0h2v2h-2zm-156 1h2v2h-2zm40 0h2v2h-2zm10 0h2v2h-2zm17 0h2v2h-2zm19 0h2v2h-2zm4 0h2v2h-2zm2 0h2v2h-2zm51 0h2v2h-2zm185 0h2v2h-2zm-341 1h2v2h-2zm10 0h2v2h-2zm20 0h2v2h-2zm6 0h2v2h-2zm56 0h2v2h-2zm-147 1h2v2h-2zm40 0h2v2h-2zm7 0h2v2h-2zm3 0h2v2h-2zm3 0h2v2h-2zm59 0h2v2h-2zm34 0h2v2h-2zm9 0h2v2h-2zm55 0h2v2h-2zm55 0h2v2h-2zm-274 1h2v2h-2zm37 0h2v2h-2zm31 0h2v2h-2zm33 0h2v2h-2zm13 0h2v2h-2zm49 0h2v2h-2zm2 0h2v2h-2zm7 0h2v2h-2zm-163 1h2v2h-2zm40 0h2v2h-2zm42 0h2v2h-2zm4 0h2v2h-2zm3 0h2v2h-2zm13 0h2v2h-2zm-97 1h2v2h-2zm46 0h2v2h-2zm7 0h2v2h-2zm2 0h2v2h-2zm3 0h2v2h-2zm33 0h2v2h-2zm44 0h2v2h-2zm155 0h2v2h-2zm79 0h2v2h-2zm-385 1h2v2h-2zm38 0h2v2h-2zm19 0h2v2h-2zm35 0h2v2h-2zm13 0h2v2h-2zm39 0h2v2h-2zm24 0h2v2h-2zm5 0h2v2h-2zm-130 1h2v2h-2zm49 0h2v2h-2zm11 0h2v2h-2zm24 0h2v2h-2zm26 0h2v2h-2zm12 0h2v2h-2zm7 0h2v2h-2zm-162 1h2v2h-2zm12 0h2v2h-2zm19 0h2v2h-2zm14 0h2v2h-2zm15 0h2v2h-2zm15 0h2v2h-2zm66 0h2v2h-2zm6 0h2v2h-2zm14 0h2v2h-2zm50 0h2v2h-2zm-221 1h2v2h-2zm55 0h2v2h-2zm9 0h2v2h-2zm8 0h2v2h-2zm17 0h2v2h-2zm1 0h2v2h-2zm8 0h2v2h-2zm10 0h2v2h-2zm9 0h2v2h-2zm30 0h2v2h-2zm20 0h2v2h-2zm66 0h2v2h-2zm-230 1h2v2h-2zm15 0h2v2h-2zm107 0h2v2h-2zm12 0h2v2h-2zm95 0h2v2h-2zm-210 1h2v2h-2zm38 0h2v2h-2zm9 0h2v2h-2zm18 0h2v2h-2zm55 0h2v2h-2zm22 0h2v2h-2zm5 0h2v2h-2zm-165 1h2v2h-2zm89 0h2v2h-2zm11 0h2v2h-2zm7 0h2v2h-2zm8 0h2v2h-2zm18 0h2v2h-2zm25 0h2v2h-2zm8 0h2v2h-2zm-153 1h2v2h-2zm93 0h2v2h-2zm42 0h2v2h-2zm3 0h2v2h-2zm-63 1h2v2h-2zm12 0h2v2h-2zm43 0h2v2h-2zm17 0h2v2h-2zm4 0h2v2h-2zm-106 1h2v2h-2zm22 0h2v2h-2zm40 0h2v2h-2zm34 0h2v2h-2zm10 0h2v2h-2zm-155 1h2v2h-2zm53 0h2v2h-2zm11 0h2v2h-2zm8 0h2v2h-2zm8 0h2v2h-2zm7 0h2v2h-2zm7 0h2v2h-2zm14 0h2v2h-2zm23 0h2v2h-2zm100 0h2v2h-2zm7 0h2v2h-2zm-234 1h2v2h-2zm32 0h2v2h-2zm26 0h2v2h-2zm2 0h2v2h-2zm26 0h2v2h-2zm19 0h2v2h-2zm8 0h2v2h-2zm29 0h2v2h-2zm-133 1h2v2h-2zm74 0h2v2h-2zm14 0h2v2h-2zm8 0h2v2h-2zm23 0h2v2h-2zm75 0h2v2h-2zm1 0h2v2h-2zm83 0h2v2h-2zm-278 1h2v2h-2zm51 0h2v2h-2zm63 0h2v2h-2zm29 0h2v2h-2zm68 0h2v2h-2zm-234 1h2v2h-2zm39 0h2v2h-2zm72 0h2v2h-2zm24 0h2v2h-2zm7 0h2v2h-2zm7 0h2v2h-2zm3 0h2v2h-2zm17 0h2v2h-2zm-159 1h2v2h-2zm46 0h2v2h-2zm11 0h2v2h-2zm5 0h2v2h-2zm36 0h2v2h-2zm14 0h2v2h-2zm14 0h2v2h-2zm13 0h2v2h-2zm8 0h2v2h-2zm2 0h2v2h-2zm157 0h2v2h-2zm-252 1h2v2h-2zm46 0h2v2h-2zm11 0h2v2h-2zm123 0h2v2h-2zm-209 1h2v2h-2zm96 0h2v2h-2zm14 0h2v2h-2zm16 0h2v2h-2zm7 0h2v2h-2zm48 0h2v2h-2zm1 0h2v2h-2zm4 0h2v2h-2zm1 0h2v2h-2zm6 0h2v2h-2zm9 0h2v2h-2zm-178 1h2v2h-2zm14 0h2v2h-2zm37 0h2v2h-2zm8 0h2v2h-2zm20 0h2v2h-2zm16 0h2v2h-2zm11 0h2v2h-2zm54 0h2v2h-2zm3 0h2v2h-2zm-156 1h2v2h-2zm69 0h2v2h-2zm16 0h2v2h-2zm1 0h2v2h-2zm63 0h2v2h-2zm11 0h2v2h-2zm9 0h2v2h-2zm1 0h2v2h-2zm-235 1h2v2h-2zm5 0h2v2h-2zm3 0h2v2h-2zm109 0h2v2h-2zm22 0h2v2h-2zm23 0h2v2h-2zm-163 1h2v2h-2zm5 0h2v2h-2zm53 0h2v2h-2zm19 0h2v2h-2zm20 0h2v2h-2zm2 0h2v2h-2zm32 0h2v2h-2zm4 0h2v2h-2zm22 0h2v2h-2zm6 0h2v2h-2zm59 0h2v2h-2zm18 0h2v2h-2zm152 0h2v2h-2zm-304 1h2v2h-2zm36 0h2v2h-2zm21 0h2v2h-2zm13 0h2v2h-2zm69 0h2v2h-2zm-209 1h2v2h-2zm15 0h2v2h-2zm9 0h2v2h-2zm59 0h2v2h-2zm16 0h2v2h-2zm42 0h2v2h-2zm1 0h2v2h-2zm9 0h2v2h-2zm-127 1h2v2h-2zm20 0h2v2h-2zm8 0h2v2h-2zm14 0h2v2h-2zm19 0h2v2h-2zm10 0h2v2h-2zm26 0h2v2h-2zm19 0h2v2h-2zm7 0h2v2h-2zm-144 1h2v2h-2zm8 0h2v2h-2zm14 0h2v2h-2zm58 0h2v2h-2zm14 0h2v2h-2zm30 0h2v2h-2zm76 0h2v2h-2zm-223 1h2v2h-2zm15 0h2v2h-2zm64 0h2v2h-2zm43 0h2v2h-2zm2 0h2v2h-2zm1 0h2v2h-2zm2 0h2v2h-2zm6 0h2v2h-2zm36 0h2v2h-2zm-40 1h2v2h-2zm41 0h2v2h-2zm49 0h2v2h-2zm6 0h2v2h-2zm-141 1h2v2h-2zm2 0h2v2h-2zm33 0h2v2h-2zm8 0h2v2h-2zm36 0h2v2h-2zm7 0h2v2h-2zm51 0h2v2h-2zm-210 1h2v2h-2zm27 0h2v2h-2zm10 0h2v2h-2zm41 0h2v2h-2zm8 0h2v2h-2zm58 0h2v2h-2zm69 0h2v2h-2zm-185 1h2v2h-2zm27 0h2v2h-2zm22 0h2v2h-2zm55 0h2v2h-2zm28 0h2v2h-2zm52 0h2v2h-2zm-211 1h2v2h-2zm38 0h2v2h-2zm26 0h2v2h-2zm28 0h2v2h-2zm2 0h2v2h-2zm15 0h2v2h-2zm6 0h2v2h-2zm18 0h2v2h-2zm4 0h2v2h-2zm3 0h2v2h-2zm1 0h2v2h-2zm72 0h2v2h-2zm-210 1h2v2h-2zm23 0h2v2h-2zm16 0h2v2h-2zm1 0h2v2h-2zm77 0h2v2h-2zm31 0h2v2h-2zm2 0h2v2h-2zm2 0h2v2h-2zm75 0h2v2h-2zm-152 1h2v2h-2zm79 0h2v2h-2zm50 0h2v2h-2zm68 0h2v2h-2zm51 0h2v2h-2zm-339 1h2v2h-2zm56 0h2v2h-2zm34 0h2v2h-2zm32 0h2v2h-2zm18 0h2v2h-2zm10 0h2v2h-2zm8 0h2v2h-2zm2 0h2v2h-2zm65 0h2v2h-2zm-176 1h2v2h-2zm20 0h2v2h-2zm1 0h2v2h-2zm38 0h2v2h-2zm32 0h2v2h-2zm291 0h2v2h-2zm-420 1h2v2h-2zm25 0h2v2h-2zm12 0h2v2h-2zm59 0h2v2h-2zm24 0h2v2h-2zm15 0h2v2h-2zm1 0h2v2h-2zm69 0h2v2h-2zm-193 1h2v2h-2zm5 0h2v2h-2zm70 0h2v2h-2zm27 0h2v2h-2zm25 0h2v2h-2zm17 0h2v2h-2zm48 0h2v2h-2zm2 0h2v2h-2zm8 0h2v2h-2zm5 0h2v2h-2zm-170 1h2v2h-2zm80 0h2v2h-2zm12 0h2v2h-2zm3 0h2v2h-2zm2 0h2v2h-2zm-135 1h2v2h-2zm33 0h2v2h-2zm37 0h2v2h-2zm9 0h2v2h-2zm30 0h2v2h-2zm7 0h2v2h-2zm32 0h2v2h-2zm-145 1h2v2h-2zm15 0h2v2h-2zm56 0h2v2h-2zm2 0h2v2h-2zm23 0h2v2h-2zm1 0h2v2h-2zm12 0h2v2h-2zm5 0h2v2h-2zm19 0h2v2h-2zm57 0h2v2h-2zm2 0h2v2h-2zm9 0h2v2h-2zm-88 1h2v2h-2zm2 0h2v2h-2zm103 1h2v2h-2zm207 0h2v2h-2zm-316 1h2v2h-2zm33 0h2v2h-2zm236 0h2v2h-2zm-384 1h2v2h-2zm42 0h2v2h-2zm44 0h2v2h-2zm2 0h2v2h-2zm15 0h2v2h-2zm21 0h2v2h-2zm5 0h2v2h-2zm1 0h2v2h-2zm10 0h2v2h-2zm64 0h2v2h-2zm79 0h2v2h-2zm-255 1h2v2h-2zm60 0h2v2h-2zm35 0h2v2h-2zm22 0h2v2h-2zm1 0h2v2h-2zm-115 1h2v2h-2zm6 0h2v2h-2zm13 0h2v2h-2zm1 0h2v2h-2zm40 0h2v2h-2zm11 0h2v2h-2zm32 0h2v2h-2zm4 0h2v2h-2zm10 0h2v2h-2zm104 0h2v2h-2zm-264 1h2v2h-2zm127 0h2v2h-2zm5 0h2v2h-2zm-88 1h2v2h-2zm59 0h2v2h-2zm21 0h2v2h-2zm38 0h2v2h-2zm-90 1h2v2h-2zm56 0h2v2h-2zm7 0h2v2h-2zm28 0h2v2h-2zm47 0h2v2h-2zm-130 1h2v2h-2zm40 0h2v2h-2zm19 0h2v2h-2zm14 0h2v2h-2zm51 0h2v2h-2zm-180 1h2v2h-2zm66 0h2v2h-2zm1 0h2v2h-2zm7 0h2v2h-2zm35 0h2v2h-2zm15 0h2v2h-2zm72 0h2v2h-2zm5 0h2v2h-2zm-177 1h2v2h-2zm63 0h2v2h-2zm35 0h2v2h-2zm14 0h2v2h-2zm-41 1h2v2h-2zm18 0h2v2h-2zm80 0h2v2h-2zm2 0h2v2h-2zm-174 1h2v2h-2zm14 0h2v2h-2zm11 0h2v2h-2zm4 0h2v2h-2zm63 0h2v2h-2zm23 0h2v2h-2zm79 0h2v2h-2zm-240 1h2v2h-2zm132 0h2v2h-2zm4 0h2v2h-2zm28 0h2v2h-2zm3 0h2v2h-2zm54 0h2v2h-2zm-171 1h2v2h-2zm13 0h2v2h-2zm7 0h2v2h-2zm43 0h2v2h-2zm27 0h2v2h-2zm9 0h2v2h-2zm-147 1h2v2h-2zm55 0h2v2h-2zm76 0h2v2h-2zm73 0h2v2h-2zm4 0h2v2h-2zm-45 1h2v2h-2zm45 0h2v2h-2zm7 0h2v2h-2zm158 0h2v2h-2zm43 0h2v2h-2zm-423 1h2v2h-2zm59 0h2v2h-2zm65 0h2v2h-2zm20 0h2v2h-2zm62 0h2v2h-2zm1 0h2v2h-2zm16 0h2v2h-2zm88 0h2v2h-2zm-156 1h2v2h-2zm49 0h2v2h-2zm-153 1h2v2h-2zm68 0h2v2h-2zm99 0h2v2h-2zm21 0h2v2h-2zm-198 1h2v2h-2zm16 0h2v2h-2zm10 0h2v2h-2zm94 0h2v2h-2zm17 0h2v2h-2zm1 0h2v2h-2zm31 0h2v2h-2zm225 0h2v2h-2zm-388 1h2v2h-2zm41 0h2v2h-2zm58 0h2v2h-2zm-79 1h2v2h-2zm3 0h2v2h-2zm90 0h2v2h-2zm48 0h2v2h-2zm24 0h2v2h-2zm-168 1h2v2h-2zm1 0h2v2h-2zm87 0h2v2h-2zm32 0h2v2h-2zm19 0h2v2h-2zm33 0h2v2h-2zm-157 1h2v2h-2zm49 0h2v2h-2zm35 0h2v2h-2zm10 0h2v2h-2zm45 0h2v2h-2zm-150 1h2v2h-2zm43 0h2v2h-2zm10 0h2v2h-2zm4 0h2v2h-2zm42 0h2v2h-2zm31 0h2v2h-2zm17 0h2v2h-2zm190 0h2v2h-2zm-342 1h2v2h-2zm13 0h2v2h-2zm9 0h2v2h-2zm30 0h2v2h-2zm60 0h2v2h-2zm9 0h2v2h-2zm3 0h2v2h-2zm21 0h2v2h-2zm-135 1h2v2h-2zm22 0h2v2h-2zm25 0h2v2h-2zm7 1h2v2h-2zm31 0h2v2h-2zm33 0h2v2h-2zm12 0h2v2h-2zm-35 1h2v2h-2zm13 0h2v2h-2zm3 0h2v2h-2zm45 0h2v2h-2zm-138 1h2v2h-2zm27 0h2v2h-2zm35 0h2v2h-2zm16 0h2v2h-2zm22 0h2v2h-2zm4 0h2v2h-2zm10 0h2v2h-2zm82 0h2v2h-2zm-247 1h2v2h-2zm18 0h2v2h-2zm52 0h2v2h-2zm62 0h2v2h-2zm8 0h2v2h-2zm9 0h2v2h-2zm35 0h2v2h-2zm1 0h2v2h-2zm-90 1h2v2h-2zm-14 1h2v2h-2zm30 0h2v2h-2zm36 0h2v2h-2zm61 0h2v2h-2zm-118 1h2v2h-2zm16 0h2v2h-2zm38 0h2v2h-2zm24 0h2v2h-2zm1 0h2v2h-2zm-78 1h2v2h-2zm2 0h2v2h-2zm21 0h2v2h-2zm15 0h2v2h-2zm10 0h2v2h-2zm28 0h2v2h-2zm4 0h2v2h-2zm21 0h2v2h-2zm-102 1h2v2h-2zm61 0h2v2h-2zm12 0h2v2h-2zm2 0h2v2h-2zm-41 1h2v2h-2zm34 0h2v2h-2zm32 0h2v2h-2zm-200 1h2v2h-2zm33 0h2v2h-2zm45 0h2v2h-2zm83 0h2v2h-2zm37 0h2v2h-2zm208 0h2v2h-2zm-296 1h2v2h-2zm93 0h2v2h-2zm-157 1h2v2h-2zm58 0h2v2h-2zm45 0h2v2h-2zm18 0h2v2h-2zm26 0h2v2h-2zm12 0h2v2h-2zm11 0h2v2h-2zm-191 1h2v2h-2zm25 0h2v2h-2zm61 0h2v2h-2zm21 0h2v2h-2zm53 0h2v2h-2zm-71 1h2v2h-2zm14 0h2v2h-2zm25 0h2v2h-2zm9 1h2v2h-2zm16 0h2v2h-2zm13 0h2v2h-2zm4 0h2v2h-2zm-123 1h2v2h-2zm116 0h2v2h-2zm-183 1h2v2h-2zm126 0h2v2h-2zm95 0h2v2h-2zm-48 1h2v2h-2zm-79 1h2v2h-2zm37 0h2v2h-2zm5 0h2v2h-2zm32 0h2v2h-2zm-63 1h2v2h-2zm12 0h2v2h-2zm23 0h2v2h-2zm6 0h2v2h-2zm-29 1h2v2h-2zm1 0h2v2h-2zm9 0h2v2h-2zm9 0h2v2h-2zm44 0h2v2h-2z" fill="#000"/><path d="M324 779h3v3h-3zm-125 16h3v3h-3zm113 8h3v3h-3zm-138 1h3v3h-3zm96 1h3v3h-3zm12 8h3v3h-3zm84 6h3v3h-3zm-206 32h3v3h-3zm73 2h3v3h-3zm-52 13h3v3h-3zm-10 2h3v3h-3zm-42 3h3v3h-3zm130 12h3v3h-3zm-26 6h3v3h-3zm47 0h3v3h-3zm-96 2h3v3h-3zm88 2h3v3h-3zm25 1h3v3h-3zm-91 1h3v3h-3zm62 2h3v3h-3zm26 1h3v3h-3zm18 4h3v3h-3zm-165 3h3v3h-3zm161 0h3v3h-3zm-196 1h3v3h-3zm81 2h3v3h-3zm-44 2h3v3h-3zm59 2h3v3h-3zm70 0h3v3h-3zm29 0h3v3h-3zm10 1h3v3h-3zm-8 2h3v3h-3zm-167 1h3v3h-3zm-10 1h3v3h-3zm142 0h3v3h-3zm-111 1h3v3h-3zm117 0h3v3h-3zm6 1h3v3h-3zm4 1h3v3h-3zm2 0h3v3h-3zm-25 1h3v3h-3zm22 3h3v3h-3zm9 0h3v3h-3zm2 0h3v3h-3zm-13 2h3v3h-3zm27 0h3v3h-3zm-12 1h3v3h-3zm-36 1h3v3h-3zm37 0h3v3h-3zm-92 1h3v3h-3zm72 0h3v3h-3zm7 1h3v3h-3zm15 0h3v3h-3zm-20 1h3v3h-3zm12 0h3v3h-3zm1 0h3v3h-3zm7 0h3v3h-3zm-7 1h3v3h-3zm-115 1h3v3h-3zm82 0h3v3h-3zm10 0h3v3h-3zm14 0h3v3h-3zm5 0h3v3h-3zm8 0h3v3h-3zm-13 1h3v3h-3zm25 0h3v3h-3zm-120 1h3v3h-3zm101 0h3v3h-3zm-25 1h3v3h-3zm24 0h3v3h-3zm13 0h3v3h-3zm5 0h3v3h-3zm14 0h3v3h-3zm-138 1h3v3h-3zm6 0h3v3h-3zm85 0h3v3h-3zm1 0h3v3h-3zm14 0h3v3h-3zm-10 1h3v3h-3zm5 0h3v3h-3zm4 0h3v3h-3zm14 0h3v3h-3zm7 0h3v3h-3zm-35 1h3v3h-3zm30 0h3v3h-3zm-174 1h3v3h-3zm159 0h3v3h-3zm20 0h3v3h-3zm-140 1h3v3h-3zm120 0h3v3h-3zm11 0h3v3h-3zm-175 1h3v3h-3zm146 0h3v3h-3zm28 0h3v3h-3zm24 0h3v3h-3zm-30 1h3v3h-3zm7 0h3v3h-3zm1 0h3v3h-3zm10 0h3v3h-3zm-52 1h3v3h-3zm18 0h3v3h-3zm22 0h3v3h-3zm-196 1h3v3h-3zm52 0h3v3h-3zm130 0h3v3h-3zm17 0h3v3h-3zm3 0h3v3h-3zm-25 1h3v3h-3zm6 0h3v3h-3zm7 1h3v3h-3zm7 0h3v3h-3zm-17 1h3v3h-3zm14 0h3v3h-3zm4 0h3v3h-3zm9 0h3v3h-3zm9 0h3v3h-3zm-40 1h3v3h-3zm12 0h3v3h-3zm4 0h3v3h-3zm7 0h3v3h-3zm1 0h3v3h-3zm5 0h3v3h-3zm1 0h3v3h-3zm-36 1h3v3h-3zm3 0h3v3h-3zm6 0h3v3h-3zm13 0h3v3h-3zm4 0h3v3h-3zm3 0h3v3h-3zm215 0h3v3h-3zm-231 1h3v3h-3zm11 0h3v3h-3zm8 0h3v3h-3zm-25 1h3v3h-3zm6 0h3v3h-3zm7 0h3v3h-3zm12 0h3v3h-3zm4 0h3v3h-3zm-32 1h3v3h-3zm5 0h3v3h-3zm5 0h3v3h-3zm11 0h3v3h-3zm24 0h3v3h-3zm-135 1h3v3h-3zm95 0h3v3h-3zm5 0h3v3h-3zm9 0h3v3h-3zm-13 1h3v3h-3zm15 0h3v3h-3zm2 0h3v3h-3zm8 0h3v3h-3zm-96 1h3v3h-3zm76 0h3v3h-3zm5 0h3v3h-3zm10 0h3v3h-3zm-47 1h3v3h-3zm34 1h3v3h-3zm1 0h3v3h-3zm24 0h3v3h-3zm-103 1h3v3h-3zm66 0h3v3h-3zm1 0h3v3h-3zm13 0h3v3h-3zm10 0h3v3h-3zm9 0h3v3h-3zm-66 1h3v3h-3zm35 0h3v3h-3zm1 0h3v3h-3zm2 0h3v3h-3zm2 0h3v3h-3zm26 0h3v3h-3zm5 0h3v3h-3zm-34 1h3v3h-3zm5 0h3v3h-3zm2 0h3v3h-3zm6 0h3v3h-3zm4 0h3v3h-3zm11 0h3v3h-3zm8 0h3v3h-3zm-124 1h3v3h-3zm92 0h3v3h-3zm5 0h3v3h-3zm1 0h3v3h-3zm7 0h3v3h-3zm3 0h3v3h-3zm-16 1h3v3h-3zm1 0h3v3h-3zm1 0h3v3h-3zm9 0h3v3h-3zm-16 1h3v3h-3zm20 0h3v3h-3zm-55 1h3v3h-3zm18 0h3v3h-3zm15 0h3v3h-3zm1 0h3v3h-3zm1 0h3v3h-3zm2 0h3v3h-3zm3 0h3v3h-3zm10 0h3v3h-3zm7 0h3v3h-3zm6 0h3v3h-3zm2 0h3v3h-3zm-41 1h3v3h-3zm8 0h3v3h-3zm24 0h3v3h-3zm-23 1h3v3h-3zm20 0h3v3h-3zm-15 1h3v3h-3zm1 0h3v3h-3zm6 0h3v3h-3zm5 0h3v3h-3zm5 0h3v3h-3zm-169 1h3v3h-3zm152 0h3v3h-3zm20 0h3v3h-3zm-5 1h3v3h-3zm-38 1h3v3h-3zm8 0h3v3h-3zm3 0h3v3h-3zm24 0h3v3h-3zm1 0h3v3h-3zm14 0h3v3h-3zm-28 1h3v3h-3zm2 0h3v3h-3zm8 0h3v3h-3zm1 0h3v3h-3zm1 0h3v3h-3zm2 0h3v3h-3zm15 0h3v3h-3zm1 0h3v3h-3zm5 0h3v3h-3zm-151 2h3v3h-3zm39 0h3v3h-3zm77 1h3v3h-3zm5 0h3v3h-3zm6 0h3v3h-3zm1 0h3v3h-3zm3 0h3v3h-3zm1 0h3v3h-3zm1 0h3v3h-3zm11 0h3v3h-3zm8 0h3v3h-3zm-31 1h3v3h-3zm11 0h3v3h-3zm-146 1h3v3h-3zm117 0h3v3h-3zm10 0h3v3h-3zm3 0h3v3h-3zm8 0h3v3h-3zm-20 1h3v3h-3zm7 0h3v3h-3zm9 0h3v3h-3zm16 0h3v3h-3zm-40 1h3v3h-3zm24 0h3v3h-3zm-141 1h3v3h-3zm118 0h3v3h-3zm14 0h3v3h-3zm10 0h3v3h-3zm4 0h3v3h-3zm10 0h3v3h-3zm-204 1h3v3h-3zm166 0h3v3h-3zm11 0h3v3h-3zm5 0h3v3h-3zm6 0h3v3h-3zm13 0h3v3h-3zm7 0h3v3h-3zm-135 1h3v3h-3zm59 0h3v3h-3zm55 0h3v3h-3zm20 0h3v3h-3zm4 0h3v3h-3zm-109 1h3v3h-3zm58 0h3v3h-3zm10 0h3v3h-3zm14 0h3v3h-3zm1 0h3v3h-3zm2 0h3v3h-3zm7 0h3v3h-3zm9 0h3v3h-3zm13 0h3v3h-3zm-147 1h3v3h-3zm123 0h3v3h-3zm15 0h3v3h-3zm13 0h3v3h-3zm-45 1h3v3h-3zm34 0h3v3h-3zm-14 1h3v3h-3zm14 0h3v3h-3zm-27 1h3v3h-3zm-152 1h3v3h-3zm126 0h3v3h-3zm39 0h3v3h-3zm1 0h3v3h-3zm13 0h3v3h-3zm1 0h3v3h-3zm-111 1h3v3h-3zm87 0h3v3h-3zm7 0h3v3h-3zm10 0h3v3h-3zm6 0h3v3h-3zm-142 1h3v3h-3zm23 0h3v3h-3zm103 0h3v3h-3zm47 0h3v3h-3zm-61 1h3v3h-3zm17 0h3v3h-3zm6 0h3v3h-3zm5 0h3v3h-3zm-22 1h3v3h-3zm11 0h3v3h-3zm10 0h3v3h-3zm-185 1h3v3h-3zm184 0h3v3h-3zm20 0h3v3h-3zm40 0h3v3h-3zm-231 1h3v3h-3zm5 0h3v3h-3zm103 0h3v3h-3zm20 0h3v3h-3zm7 0h3v3h-3zm26 0h3v3h-3zm17 0h3v3h-3zm-19 1h3v3h-3zm14 0h3v3h-3zm23 0h3v3h-3zm-62 1h3v3h-3zm18 0h3v3h-3zm8 0h3v3h-3zm2 0h3v3h-3zm-147 1h3v3h-3zm106 0h3v3h-3zm42 0h3v3h-3zm9 0h3v3h-3zm14 0h3v3h-3zm-97 1h3v3h-3zm51 0h3v3h-3zm6 0h3v3h-3zm8 0h3v3h-3zm2 0h3v3h-3zm5 0h3v3h-3zm2 0h3v3h-3zm1 0h3v3h-3zm3 0h3v3h-3zm-111 1h3v3h-3zm98 0h3v3h-3zm3 0h3v3h-3zm8 0h3v3h-3zm24 0h3v3h-3zm-157 1h3v3h-3zm95 0h3v3h-3zm1 0h3v3h-3zm25 0h3v3h-3zm6 0h3v3h-3zm3 0h3v3h-3zm2 0h3v3h-3zm16 0h3v3h-3zm-168 1h3v3h-3zm61 0h3v3h-3zm50 0h3v3h-3zm32 0h3v3h-3zm10 0h3v3h-3zm5 0h3v3h-3zm-128 1h3v3h-3zm57 0h3v3h-3zm44 0h3v3h-3zm15 0h3v3h-3zm6 0h3v3h-3zm-124 1h3v3h-3zm68 0h3v3h-3zm39 0h3v3h-3zm7 0h3v3h-3zm10 0h3v3h-3zm2 0h3v3h-3zm3 0h3v3h-3zm-116 1h3v3h-3zm97 0h3v3h-3zm6 0h3v3h-3zm4 0h3v3h-3zm5 0h3v3h-3zm1 0h3v3h-3zm-14 1h3v3h-3zm2 0h3v3h-3zm8 0h3v3h-3zm-152 1h3v3h-3zm19 0h3v3h-3zm58 0h3v3h-3zm57 0h3v3h-3zm22 0h3v3h-3zm14 0h3v3h-3zm-39 1h3v3h-3zm17 0h3v3h-3zm4 0h3v3h-3zm7 0h3v3h-3zm-161 1h3v3h-3zm164 0h3v3h-3zm-49 1h3v3h-3zm13 0h3v3h-3zm4 0h3v3h-3zm10 0h3v3h-3zm6 0h3v3h-3zm-4 1h3v3h-3zm2 0h3v3h-3zm14 0h3v3h-3zm14 0h3v3h-3zm-173 1h3v3h-3zm101 0h3v3h-3zm56 0h3v3h-3zm-97 1h3v3h-3zm73 0h3v3h-3zm35 0h3v3h-3zm5 0h3v3h-3zm-32 1h3v3h-3zm23 0h3v3h-3zm4 0h3v3h-3zm6 0h3v3h-3zm-53 1h3v3h-3zm3 0h3v3h-3zm4 0h3v3h-3zm9 0h3v3h-3zm3 0h3v3h-3zm30 0h3v3h-3zm-167 1h3v3h-3zm30 0h3v3h-3zm26 0h3v3h-3zm56 0h3v3h-3zm-86 1h3v3h-3zm54 0h3v3h-3zm-37 1h3v3h-3zm7 0h3v3h-3zm82 0h3v3h-3zm-2 1h3v3h-3zm46 0h3v3h-3zm-186 1h3v3h-3zm11 1h3v3h-3zm80 0h3v3h-3zm-68 1h3v3h-3zm73 0h3v3h-3zm-103 1h3v3h-3zm21 0h3v3h-3zm19 0h3v3h-3zm99 0h3v3h-3zm5 0h3v3h-3zm37 0h3v3h-3zm-91 1h3v3h-3zm96 0h3v3h-3zm4 0h3v3h-3zm-145 1h3v3h-3zm25 0h3v3h-3zm68 0h3v3h-3zm1 0h3v3h-3zm6 0h3v3h-3zm-43 1h3v3h-3zm43 0h3v3h-3zm-3 2h3v3h-3zm64 0h3v3h-3zm-65 1h3v3h-3zm-86 1h3v3h-3zm138 0h3v3h-3zm-144 1h3v3h-3zm90 0h3v3h-3zm-41 1h3v3h-3zm3 0h3v3h-3zm30 0h3v3h-3zm5 0h3v3h-3zm10 0h3v3h-3zm-108 1h3v3h-3zm81 0h3v3h-3zm63 0h3v3h-3zm6 0h3v3h-3zm-124 1h3v3h-3zm77 0h3v3h-3zm-99 1h3v3h-3zm70 0h3v3h-3zm77 0h3v3h-3zm5 0h3v3h-3zm-196 1h3v3h-3zm109 0h3v3h-3zm32 0h3v3h-3zm47 0h3v3h-3zm-186 1h3v3h-3zm131 0h3v3h-3zm53 0h3v3h-3zm-51 1h3v3h-3zm51 0h3v3h-3zm-213 1h3v3h-3zm70 0h3v3h-3zm94 0h3v3h-3zm-129 1h3v3h-3zm127 0h3v3h-3zm-57 1h3v3h-3zm123 0h3v3h-3zm10 0h3v3h-3zm-85 1h3v3h-3zm4 0h3v3h-3zm6 0h3v3h-3zm79 0h3v3h-3zm-82 1h3v3h-3zm2 1h3v3h-3zm11 0h3v3h-3zm45 0h3v3h-3zm-101 1h3v3h-3zm96 0h3v3h-3zm-59 1h3v3h-3zm12 0h3v3h-3zm48 0h3v3h-3zm-58 1h3v3h-3zm14 0h3v3h-3zm4 0h3v3h-3zm-23 1h3v3h-3zm3 0h3v3h-3zm15 1h3v3h-3zm1 0h3v3h-3zm1 0h3v3h-3zm4 0h3v3h-3zm-14 1h3v3h-3zm57 1h3v3h-3zm3 0h3v3h-3zm-121 1h3v3h-3zm37 1h3v3h-3zm33 0h3v3h-3zm45 0h3v3h-3zm7 0h3v3h-3zm-218 1h3v3h-3zm24 0h3v3h-3zm41 0h3v3h-3zm37 2h3v3h-3zm31 0h3v3h-3zm100 0h3v3h-3zm-80 2h3v3h-3zm-10 1h3v3h-3zm80 0h3v3h-3zm-130 1h3v3h-3zm69 0h3v3h-3zm88 0h3v3h-3zm-92 2h3v3h-3zm58 0h3v3h-3zm-99 1h3v3h-3zm51 0h3v3h-3zm47 0h3v3h-3zm-163 1h3v3h-3zm110 0h3v3h-3zm67 0h3v3h-3zm-114 1h3v3h-3zm41 0h3v3h-3zm-141 1h3v3h-3zm36 0h3v3h-3zm113 0h3v3h-3zm-102 1h3v3h-3zm45 0h3v3h-3zm106 0h3v3h-3zm-151 1h3v3h-3zm12 0h3v3h-3zm19 0h3v3h-3zm19 0h3v3h-3zm20 0h3v3h-3zm25 0h3v3h-3zm8 0h3v3h-3zm64 0h3v3h-3zm-176 1h3v3h-3zm170 0h3v3h-3zm-155 1h3v3h-3zm87 0h3v3h-3zm68 0h3v3h-3zm-114 1h3v3h-3zm27 0h3v3h-3zm-11 1h3v3h-3zm26 0h3v3h-3zm11 0h3v3h-3zm270 0h3v3h-3zm-420 1h3v3h-3zm125 0h3v3h-3zm-108 1h3v3h-3zm34 0h3v3h-3zm82 0h3v3h-3zm-150 1h3v3h-3zm13 0h3v3h-3zm145 0h3v3h-3zm-31 1h3v3h-3zm98 0h3v3h-3zm-131 1h3v3h-3zm35 1h3v3h-3zm30 0h3v3h-3zm62 0h3v3h-3zm-196 1h3v3h-3zm145 0h3v3h-3zm-164 1h3v3h-3zm46 0h3v3h-3zm101 1h3v3h-3zm79 0h3v3h-3zm-121 1h3v3h-3zm121 0h3v3h-3zm-170 1h3v3h-3zm70 0h3v3h-3zm28 0h3v3h-3zm11 0h3v3h-3zm47 1h3v3h-3zm12 0h3v3h-3zm-65 2h3v3h-3zm55 0h3v3h-3zm13 0h3v3h-3zm-121 1h3v3h-3zm31 0h3v3h-3zm23 0h3v3h-3zm61 0h3v3h-3zm-104 1h3v3h-3zm11 0h3v3h-3zm6 1h3v3h-3zm28 0h3v3h-3zm1 0h3v3h-3zm-62 1h3v3h-3zm64 0h3v3h-3zm47 0h3v3h-3zm-143 1h3v3h-3zm69 0h3v3h-3zm78 0h3v3h-3zm-111 1h3v3h-3zm29 0h3v3h-3zm85 0h3v3h-3zm-170 1h3v3h-3zm73 0h3v3h-3zm9 1h3v3h-3zm84 0h3v3h-3zm0 1h3v3h-3zm-152 1h3v3h-3zm19 0h3v3h-3zm80 0h3v3h-3zm-108 1h3v3h-3zm90 0h3v3h-3zm20 0h3v3h-3zm133 0h3v3h-3zm-261 1h3v3h-3zm83 0h3v3h-3zm44 0h3v3h-3zm53 0h3v3h-3zm-123 1h3v3h-3zm120 0h3v3h-3zm31 0h3v3h-3zm-240 2h3v3h-3zm23 0h3v3h-3zm95 0h3v3h-3zm39 0h3v3h-3zm1 0h3v3h-3zm-25 1h3v3h-3zm-87 2h3v3h-3zm45 0h3v3h-3zm66 0h3v3h-3zm73 0h3v3h-3zm-24 1h3v3h-3zm-184 1h3v3h-3zm127 0h3v3h-3zm-55 1h3v3h-3zm34 0h3v3h-3zm94 0h3v3h-3zm-131 2h3v3h-3zm52 0h3v3h-3zm-24 1h3v3h-3zm28 0h3v3h-3zm62 0h3v3h-3zm1 1h3v3h-3zm-109 2h3v3h-3zm-103 2h3v3h-3zm204 1h3v3h-3zm-51 1h3v3h-3zm55 0h3v3h-3zm-85 1h3v3h-3zm84 0h3v3h-3zm-114 1h3v3h-3zm48 0h3v3h-3zm84 0h3v3h-3zm-118 1h3v3h-3zm49 1h3v3h-3zm-126 2h3v3h-3zm39 0h3v3h-3zm132 0h3v3h-3zm3 0h3v3h-3zm-1 1h3v3h-3zm10 0h3v3h-3zm-143 2h3v3h-3zm57 0h3v3h-3zm-85 1h3v3h-3zm68 0h3v3h-3zm54 0h3v3h-3zm43 0h3v3h-3zm-54 1h3v3h-3zm56 0h3v3h-3zm-43 1h3v3h-3zm42 0h3v3h-3zm-70 1h3v3h-3zm64 0h3v3h-3zm45 0h3v3h-3zm-102 1h3v3h-3zm60 0h3v3h-3zm-62 2h3v3h-3zm-23 2h3v3h-3zm12 0h3v3h-3zm20 0h3v3h-3zm28 0h3v3h-3zm-1 1h3v3h-3zm5 0h3v3h-3zm-149 1h3v3h-3zm118 0h3v3h-3zm37 1h3v3h-3zm-49 1h3v3h-3zm2 0h3v3h-3zm68 0h3v3h-3zm4 2h3v3h-3zm-35 2h3v3h-3zm-47 1h3v3h-3zm10 0h3v3h-3zm31 0h3v3h-3zm-30 1h3v3h-3zm80 0h3v3h-3zm-24 1h3v3h-3zm45 0h3v3h-3zm-249 1h3v3h-3zm104 5h3v3h-3zm60 0h3v3h-3zm13 0h3v3h-3zm7 0h3v3h-3zm-70 1h3v3h-3zm30 0h3v3h-3zm59 0h3v3h-3zm-9 1h3v3h-3zm-137 1h3v3h-3zm35 0h3v3h-3zm71 0h3v3h-3zm16 1h3v3h-3zm39 0h3v3h-3zm-49 1h3v3h-3zm15 0h3v3h-3zm-55 1h3v3h-3zm42 0h3v3h-3zm12 1h3v3h-3zm50 0h3v3h-3zm-70 1h3v3h-3z" fill="#000"/></g>
<path d="M98.5 729.2H650V1222.6H98.5Z M322 729.2V1222.6 M98.5 909.4H650" fill="none" stroke="#2a2a2a" stroke-width="2.4"/>
<path d="M75.5 740.2H98.5M75.5 788.4H98.5M75.5 836.7H98.5M75.5 884.9H98.5M75.5 933.2H98.5M75.5 981.4H98.5M75.5 1029.6H98.5M75.5 1077.9H98.5M75.5 1126.1H98.5M75.5 1174.4H98.5M75.5 1222.6H98.5" stroke="#1a1a1a" stroke-width="2.8"/>
<path d="M136.8 1222.6v11.0M161.2 1222.6v11.0M178.6 1222.6v11.0M192.0 1222.6v11.0M203.0 1222.6v11.0M212.3 1222.6v11.0M220.3 1222.6v11.0M227.4 1222.6v11.0M275.5 1222.6v11.0M300.0 1222.6v11.0M317.3 1222.6v11.0M330.8 1222.6v11.0M341.7 1222.6v11.0M351.0 1222.6v11.0M359.1 1222.6v11.0M366.2 1222.6v11.0M414.3 1222.6v11.0M438.7 1222.6v11.0M456.0 1222.6v11.0M469.5 1222.6v11.0M480.5 1222.6v11.0M489.8 1222.6v11.0M497.8 1222.6v11.0M504.9 1222.6v11.0M553.0 1222.6v11.0M577.5 1222.6v11.0M594.8 1222.6v11.0M608.2 1222.6v11.0M619.2 1222.6v11.0M628.5 1222.6v11.0M636.6 1222.6v11.0M643.7 1222.6v11.0" stroke="#1a1a1a" stroke-width="3"/>
<path d="M233.8 1222.6v19.0M372.5 1222.6v19.0M511.3 1222.6v19.0M650 1222.6v19.0" stroke="#1a1a1a" stroke-width="3"/>
<text x="223.3" y="1262.1" font-size="26.0" fill="#111" stroke="#111" stroke-width="1.5" textLength="26.0" lengthAdjust="spacingAndGlyphs">10</text>
<text x="252.3" y="1252.6" font-size="19.5" fill="#111" stroke="#111" stroke-width="1">0</text>
<text x="362.0" y="1262.1" font-size="26.0" fill="#111" stroke="#111" stroke-width="1.5" textLength="26.0" lengthAdjust="spacingAndGlyphs">10</text>
<text x="391.0" y="1252.6" font-size="19.5" fill="#111" stroke="#111" stroke-width="1">1</text>
<text x="500.8" y="1262.1" font-size="26.0" fill="#111" stroke="#111" stroke-width="1.5" textLength="26.0" lengthAdjust="spacingAndGlyphs">10</text>
<text x="529.7" y="1252.6" font-size="19.5" fill="#111" stroke="#111" stroke-width="1">2</text>
<text x="639.5" y="1262.1" font-size="26.0" fill="#111" stroke="#111" stroke-width="1.5" textLength="26.0" lengthAdjust="spacingAndGlyphs">10</text>
<text x="668.5" y="1252.6" font-size="19.5" fill="#111" stroke="#111" stroke-width="1">3</text>
<text transform="scale(0.89,1)" x="109.9" y="758.2" font-size="31.5" font-weight="bold" fill="#111">A1</text>
<text transform="scale(0.89,1)" x="361.6" y="758.2" font-size="31.5" font-weight="bold" fill="#111">A2</text>
<text transform="scale(0.89,1)" x="109.9" y="938.4" font-size="31.5" font-weight="bold" fill="#111">A3</text>
<text transform="scale(0.89,1)" x="361.6" y="938.4" font-size="31.5" font-weight="bold" fill="#111">A4</text>
<text transform="scale(0.9,1)" x="186.0" y="782.2" font-size="48.37" font-weight="normal" textLength="151.6" lengthAdjust="spacing" fill="#111" stroke="#111" stroke-width="1.1">2.21%</text>
<text transform="scale(0.9,1)" x="544.5" y="784.6" font-size="46.48" font-weight="normal" textLength="152.1" lengthAdjust="spacing" fill="#111" stroke="#111" stroke-width="1.1">2.05%</text>
<text transform="scale(0.9,1)" x="135.6" y="1198.2" font-size="48.17" font-weight="normal" textLength="184.0" lengthAdjust="spacing" fill="#111" stroke="#111" stroke-width="1.1">89.89%</text>
<text transform="scale(0.9,1)" x="560.1" y="1198.2" font-size="48.17" font-weight="normal" textLength="151.9" lengthAdjust="spacing" fill="#111" stroke="#111" stroke-width="1.1">5.85%</text>
<text x="273.1" y="706.5" font-size="44.51" font-weight="bold" textLength="68.3" lengthAdjust="spacingAndGlyphs" fill="#111">CC</text>
<g filter="url(#bl2)"><path d="M901.0 980.5Q908 966 926.0 966.0Q944 966 948.0 980.5Q952 995 953.0 1012.5Q954 1030 952.5 1047.5Q951 1065 947.5 1077.5Q944 1090 937.0 1095.0Q930 1100 922.0 1100.0Q914 1100 906.5 1095.0Q899 1090 895.0 1077.5Q891 1065 890.5 1047.5Q890 1030 892.0 1012.5Q894 995 901.0 980.5Z" fill="#000" stroke="#000" stroke-width="2"/></g><g filter="url(#bl)"><path d="M821 777h2v2h-2zm81 6h2v2h-2zm15 2h2v2h-2zm-132 3h2v2h-2zm135 1h2v2h-2zm128 3h2v2h-2zm17 8h2v2h-2zm-282 1h2v2h-2zm15 2h2v2h-2zm-29 2h2v2h-2zm41 0h2v2h-2zm111 0h2v2h-2zm-59 1h2v2h-2zm-74 1h2v2h-2zm113 1h2v2h-2zm136 0h2v2h-2zm-115 1h2v2h-2zm-117 3h2v2h-2zm17 0h2v2h-2zm104 0h2v2h-2zm-104 1h2v2h-2zm9 1h2v2h-2zm34 1h2v2h-2zm28 0h2v2h-2zm27 0h2v2h-2zm-40 1h2v2h-2zm36 0h2v2h-2zm77 0h2v2h-2zm-188 3h2v2h-2zm22 0h2v2h-2zm88 0h2v2h-2zm20 0h2v2h-2zm8 0h2v2h-2zm-66 3h2v2h-2zm97 0h2v2h-2zm-76 1h2v2h-2zm8 0h2v2h-2zm14 0h2v2h-2zm9 0h2v2h-2zm-52 1h2v2h-2zm78 0h2v2h-2zm-199 1h2v2h-2zm49 1h2v2h-2zm84 0h2v2h-2zm13 0h2v2h-2zm56 0h2v2h-2zm98 0h2v2h-2zm-101 1h2v2h-2zm6 1h2v2h-2zm-150 1h2v2h-2zm109 0h2v2h-2zm37 1h2v2h-2zm-151 1h2v2h-2zm108 0h2v2h-2zm-131 1h2v2h-2zm-19 1h2v2h-2zm57 0h2v2h-2zm90 0h2v2h-2zm3 0h2v2h-2zm23 0h2v2h-2zm-44 1h2v2h-2zm18 0h2v2h-2zm23 0h2v2h-2zm-113 1h2v2h-2zm72 0h2v2h-2zm53 0h2v2h-2zm-89 1h2v2h-2zm43 0h2v2h-2zm18 0h2v2h-2zm-145 1h2v2h-2zm72 0h2v2h-2zm46 1h2v2h-2zm78 0h2v2h-2zm-188 1h2v2h-2zm15 0h2v2h-2zm32 0h2v2h-2zm7 0h2v2h-2zm80 0h2v2h-2zm7 1h2v2h-2zm9 0h2v2h-2zm2 0h2v2h-2zm13 0h2v2h-2zm-129 1h2v2h-2zm-27 1h2v2h-2zm120 0h2v2h-2zm-145 1h2v2h-2zm56 0h2v2h-2zm-37 1h2v2h-2zm4 0h2v2h-2zm21 0h2v2h-2zm24 0h2v2h-2zm2 0h2v2h-2zm79 0h2v2h-2zm1 0h2v2h-2zm1 0h2v2h-2zm122 0h2v2h-2zm-254 1h2v2h-2zm139 0h2v2h-2zm-69 1h2v2h-2zm40 0h2v2h-2zm38 0h2v2h-2zm4 0h2v2h-2zm1 0h2v2h-2zm-174 1h2v2h-2zm14 0h2v2h-2zm20 1h2v2h-2zm35 0h2v2h-2zm74 0h2v2h-2zm39 0h2v2h-2zm-149 1h2v2h-2zm96 0h2v2h-2zm4 0h2v2h-2zm7 0h2v2h-2zm-123 1h2v2h-2zm4 0h2v2h-2zm64 0h2v2h-2zm60 0h2v2h-2zm58 0h2v2h-2zm-129 1h2v2h-2zm69 0h2v2h-2zm20 0h2v2h-2zm5 0h2v2h-2zm-139 1h2v2h-2zm50 0h2v2h-2zm62 0h2v2h-2zm-111 1h2v2h-2zm34 0h2v2h-2zm107 0h2v2h-2zm11 0h2v2h-2zm-159 1h2v2h-2zm11 0h2v2h-2zm98 0h2v2h-2zm18 0h2v2h-2zm12 0h2v2h-2zm147 0h2v2h-2zm-277 1h2v2h-2zm38 0h2v2h-2zm21 0h2v2h-2zm79 0h2v2h-2zm-173 1h2v2h-2zm24 0h2v2h-2zm7 0h2v2h-2zm40 0h2v2h-2zm17 0h2v2h-2zm41 0h2v2h-2zm13 0h2v2h-2zm23 0h2v2h-2zm-118 1h2v2h-2zm13 0h2v2h-2zm3 0h2v2h-2zm72 0h2v2h-2zm67 0h2v2h-2zm-133 1h2v2h-2zm19 0h2v2h-2zm52 0h2v2h-2zm4 0h2v2h-2zm-133 1h2v2h-2zm17 0h2v2h-2zm2 0h2v2h-2zm150 0h2v2h-2zm13 0h2v2h-2zm-135 1h2v2h-2zm33 0h2v2h-2zm3 0h2v2h-2zm58 0h2v2h-2zm-27 1h2v2h-2zm31 0h2v2h-2zm-136 1h2v2h-2zm4 0h2v2h-2zm5 0h2v2h-2zm17 0h2v2h-2zm4 0h2v2h-2zm16 0h2v2h-2zm93 0h2v2h-2zm-163 1h2v2h-2zm66 0h2v2h-2zm99 0h2v2h-2zm15 0h2v2h-2zm-139 1h2v2h-2zm61 0h2v2h-2zm37 0h2v2h-2zm28 0h2v2h-2zm7 0h2v2h-2zm-90 1h2v2h-2zm13 0h2v2h-2zm31 0h2v2h-2zm35 0h2v2h-2zm20 0h2v2h-2zm9 0h2v2h-2zm-133 1h2v2h-2zm99 0h2v2h-2zm16 0h2v2h-2zm12 0h2v2h-2zm40 0h2v2h-2zm37 0h2v2h-2zm-234 1h2v2h-2zm17 0h2v2h-2zm37 0h2v2h-2zm51 0h2v2h-2zm19 0h2v2h-2zm61 0h2v2h-2zm-194 1h2v2h-2zm32 0h2v2h-2zm26 0h2v2h-2zm34 0h2v2h-2zm31 0h2v2h-2zm-89 1h2v2h-2zm1 0h2v2h-2zm7 0h2v2h-2zm98 0h2v2h-2zm52 0h2v2h-2zm-197 1h2v2h-2zm54 0h2v2h-2zm59 0h2v2h-2zm19 0h2v2h-2zm22 0h2v2h-2zm11 0h2v2h-2zm-154 1h2v2h-2zm38 0h2v2h-2zm72 0h2v2h-2zm18 0h2v2h-2zm52 0h2v2h-2zm-144 1h2v2h-2zm10 0h2v2h-2zm93 0h2v2h-2zm8 0h2v2h-2zm-172 1h2v2h-2zm19 0h2v2h-2zm22 0h2v2h-2zm64 0h2v2h-2zm24 0h2v2h-2zm-100 1h2v2h-2zm132 0h2v2h-2zm-135 1h2v2h-2zm11 0h2v2h-2zm147 0h2v2h-2zm-184 1h2v2h-2zm22 0h2v2h-2zm45 0h2v2h-2zm14 0h2v2h-2zm8 0h2v2h-2zm51 0h2v2h-2zm27 0h2v2h-2zm-121 1h2v2h-2zm107 0h2v2h-2zm5 0h2v2h-2zm7 0h2v2h-2zm10 0h2v2h-2zm-152 1h2v2h-2zm50 0h2v2h-2zm126 0h2v2h-2zm-146 1h2v2h-2zm136 0h2v2h-2zm14 0h2v2h-2zm-116 1h2v2h-2zm60 0h2v2h-2zm3 0h2v2h-2zm3 0h2v2h-2zm-85 1h2v2h-2zm7 0h2v2h-2zm76 0h2v2h-2zm37 0h2v2h-2zm-125 1h2v2h-2zm27 0h2v2h-2zm46 0h2v2h-2zm3 0h2v2h-2zm-118 1h2v2h-2zm106 0h2v2h-2zm3 0h2v2h-2zm24 0h2v2h-2zm15 0h2v2h-2zm4 0h2v2h-2zm-151 1h2v2h-2zm42 0h2v2h-2zm12 0h2v2h-2zm38 0h2v2h-2zm23 0h2v2h-2zm4 0h2v2h-2zm6 0h2v2h-2zm6 0h2v2h-2zm35 0h2v2h-2zm-167 1h2v2h-2zm5 0h2v2h-2zm22 0h2v2h-2zm27 0h2v2h-2zm53 0h2v2h-2zm10 0h2v2h-2zm32 0h2v2h-2zm2 0h2v2h-2zm-148 1h2v2h-2zm19 0h2v2h-2zm29 0h2v2h-2zm42 0h2v2h-2zm11 0h2v2h-2zm18 0h2v2h-2zm3 0h2v2h-2zm36 0h2v2h-2zm14 0h2v2h-2zm-117 1h2v2h-2zm99 0h2v2h-2zm3 0h2v2h-2zm92 0h2v2h-2zm-246 1h2v2h-2zm8 0h2v2h-2zm23 0h2v2h-2zm22 0h2v2h-2zm72 0h2v2h-2zm15 0h2v2h-2zm18 0h2v2h-2zm-126 1h2v2h-2zm26 0h2v2h-2zm79 0h2v2h-2zm18 0h2v2h-2zm-146 1h2v2h-2zm5 0h2v2h-2zm4 0h2v2h-2zm17 0h2v2h-2zm42 0h2v2h-2zm44 0h2v2h-2zm16 0h2v2h-2zm10 0h2v2h-2zm-130 1h2v2h-2zm21 0h2v2h-2zm97 0h2v2h-2zm-16 1h2v2h-2zm24 0h2v2h-2zm5 0h2v2h-2zm5 0h2v2h-2zm12 0h2v2h-2zm-157 1h2v2h-2zm46 0h2v2h-2zm-8 1h2v2h-2zm72 0h2v2h-2zm29 0h2v2h-2zm-106 1h2v2h-2zm61 0h2v2h-2zm45 0h2v2h-2zm3 0h2v2h-2zm-149 1h2v2h-2zm3 0h2v2h-2zm23 0h2v2h-2zm41 0h2v2h-2zm32 0h2v2h-2zm26 0h2v2h-2zm5 0h2v2h-2zm5 0h2v2h-2zm-124 1h2v2h-2zm45 0h2v2h-2zm69 0h2v2h-2zm19 0h2v2h-2zm26 0h2v2h-2zm-150 1h2v2h-2zm22 0h2v2h-2zm62 0h2v2h-2zm37 0h2v2h-2zm-130 1h2v2h-2zm93 0h2v2h-2zm4 0h2v2h-2zm10 0h2v2h-2zm10 0h2v2h-2zm17 0h2v2h-2zm-101 1h2v2h-2zm7 0h2v2h-2zm94 0h2v2h-2zm3 0h2v2h-2zm18 0h2v2h-2zm-183 1h2v2h-2zm35 0h2v2h-2zm12 0h2v2h-2zm23 0h2v2h-2zm35 0h2v2h-2zm21 0h2v2h-2zm33 0h2v2h-2zm6 0h2v2h-2zm30 0h2v2h-2zm-168 1h2v2h-2zm16 0h2v2h-2zm5 0h2v2h-2zm16 0h2v2h-2zm66 0h2v2h-2zm19 0h2v2h-2zm-132 1h2v2h-2zm9 0h2v2h-2zm3 0h2v2h-2zm15 0h2v2h-2zm6 0h2v2h-2zm6 0h2v2h-2zm46 0h2v2h-2zm83 0h2v2h-2zm-168 1h2v2h-2zm44 0h2v2h-2zm20 0h2v2h-2zm22 0h2v2h-2zm35 0h2v2h-2zm7 0h2v2h-2zm8 0h2v2h-2zm145 0h2v2h-2zm-258 1h2v2h-2zm30 0h2v2h-2zm67 0h2v2h-2zm2 0h2v2h-2zm5 0h2v2h-2zm10 0h2v2h-2zm10 0h2v2h-2zm-137 1h2v2h-2zm115 0h2v2h-2zm18 0h2v2h-2zm21 0h2v2h-2zm118 0h2v2h-2zm-275 1h2v2h-2zm13 0h2v2h-2zm3 0h2v2h-2zm15 0h2v2h-2zm100 0h2v2h-2zm5 0h2v2h-2zm7 0h2v2h-2zm8 0h2v2h-2zm-178 1h2v2h-2zm7 0h2v2h-2zm19 0h2v2h-2zm5 0h2v2h-2zm6 0h2v2h-2zm18 0h2v2h-2zm65 0h2v2h-2zm52 0h2v2h-2zm5 0h2v2h-2zm17 0h2v2h-2zm-148 1h2v2h-2zm28 0h2v2h-2zm13 0h2v2h-2zm38 0h2v2h-2zm5 0h2v2h-2zm26 0h2v2h-2zm1 0h2v2h-2zm3 0h2v2h-2zm-155 1h2v2h-2zm124 0h2v2h-2zm14 0h2v2h-2zm24 0h2v2h-2zm-164 1h2v2h-2zm50 0h2v2h-2zm2 0h2v2h-2zm24 0h2v2h-2zm35 0h2v2h-2zm15 0h2v2h-2zm5 0h2v2h-2zm35 0h2v2h-2zm2 0h2v2h-2zm-162 1h2v2h-2zm26 0h2v2h-2zm4 0h2v2h-2zm14 0h2v2h-2zm45 0h2v2h-2zm25 0h2v2h-2zm1 0h2v2h-2zm35 0h2v2h-2zm1 0h2v2h-2zm7 0h2v2h-2zm3 0h2v2h-2zm2 0h2v2h-2zm22 0h2v2h-2zm-162 1h2v2h-2zm25 0h2v2h-2zm65 0h2v2h-2zm7 0h2v2h-2zm3 0h2v2h-2zm18 0h2v2h-2zm8 0h2v2h-2zm8 0h2v2h-2zm7 0h2v2h-2zm8 0h2v2h-2zm-117 1h2v2h-2zm50 0h2v2h-2zm18 0h2v2h-2zm-111 1h2v2h-2zm10 0h2v2h-2zm29 0h2v2h-2zm61 0h2v2h-2zm8 0h2v2h-2zm8 0h2v2h-2zm1 0h2v2h-2zm8 0h2v2h-2zm1 0h2v2h-2zm2 0h2v2h-2zm1 0h2v2h-2zm3 0h2v2h-2zm1 0h2v2h-2zm17 0h2v2h-2zm17 0h2v2h-2zm-104 1h2v2h-2zm68 0h2v2h-2zm10 0h2v2h-2zm5 0h2v2h-2zm-146 1h2v2h-2zm120 0h2v2h-2zm10 0h2v2h-2zm3 0h2v2h-2zm3 0h2v2h-2zm2 0h2v2h-2zm13 0h2v2h-2zm-132 1h2v2h-2zm5 0h2v2h-2zm19 0h2v2h-2zm7 0h2v2h-2zm10 0h2v2h-2zm50 0h2v2h-2zm4 0h2v2h-2zm29 0h2v2h-2zm-101 1h2v2h-2zm5 0h2v2h-2zm52 0h2v2h-2zm3 0h2v2h-2zm26 0h2v2h-2zm1 0h2v2h-2zm1 0h2v2h-2zm11 0h2v2h-2zm12 0h2v2h-2zm3 0h2v2h-2zm9 0h2v2h-2zm-172 1h2v2h-2zm137 0h2v2h-2zm3 0h2v2h-2zm14 0h2v2h-2zm2 0h2v2h-2zm-160 1h2v2h-2zm23 0h2v2h-2zm102 0h2v2h-2zm3 0h2v2h-2zm14 0h2v2h-2zm7 0h2v2h-2zm2 0h2v2h-2zm19 0h2v2h-2zm2 0h2v2h-2zm-45 1h2v2h-2zm4 0h2v2h-2zm6 0h2v2h-2zm3 0h2v2h-2zm14 0h2v2h-2zm18 0h2v2h-2zm6 0h2v2h-2zm-176 1h2v2h-2zm28 0h2v2h-2zm102 0h2v2h-2zm5 0h2v2h-2zm1 0h2v2h-2zm1 0h2v2h-2zm9 0h2v2h-2zm9 0h2v2h-2zm9 0h2v2h-2zm10 0h2v2h-2zm6 0h2v2h-2zm4 0h2v2h-2zm-143 1h2v2h-2zm76 0h2v2h-2zm20 0h2v2h-2zm2 0h2v2h-2zm18 0h2v2h-2zm4 0h2v2h-2zm6 0h2v2h-2zm-150 1h2v2h-2zm20 0h2v2h-2zm20 0h2v2h-2zm73 0h2v2h-2zm4 0h2v2h-2zm8 0h2v2h-2zm1 0h2v2h-2zm2 0h2v2h-2zm1 0h2v2h-2zm3 0h2v2h-2zm1 0h2v2h-2zm18 0h2v2h-2zm-96 1h2v2h-2zm56 0h2v2h-2zm3 0h2v2h-2zm4 0h2v2h-2zm7 0h2v2h-2zm7 0h2v2h-2zm1 0h2v2h-2zm7 0h2v2h-2zm8 0h2v2h-2zm28 0h2v2h-2zm-147 1h2v2h-2zm3 0h2v2h-2zm80 0h2v2h-2zm2 0h2v2h-2zm1 0h2v2h-2zm9 0h2v2h-2zm5 0h2v2h-2zm6 0h2v2h-2zm2 0h2v2h-2zm1 0h2v2h-2zm6 0h2v2h-2zm10 0h2v2h-2zm5 0h2v2h-2zm-175 1h2v2h-2zm13 0h2v2h-2zm28 0h2v2h-2zm33 0h2v2h-2zm43 0h2v2h-2zm7 0h2v2h-2zm4 0h2v2h-2zm8 0h2v2h-2zm2 0h2v2h-2zm5 0h2v2h-2zm6 0h2v2h-2zm3 0h2v2h-2zm2 0h2v2h-2zm3 0h2v2h-2zm9 0h2v2h-2zm7 0h2v2h-2zm17 0h2v2h-2zm-195 1h2v2h-2zm31 0h2v2h-2zm10 0h2v2h-2zm8 0h2v2h-2zm72 0h2v2h-2zm16 0h2v2h-2zm1 0h2v2h-2zm16 0h2v2h-2zm11 0h2v2h-2zm2 0h2v2h-2zm8 0h2v2h-2zm17 0h2v2h-2zm-180 1h2v2h-2zm21 0h2v2h-2zm4 0h2v2h-2zm9 0h2v2h-2zm90 0h2v2h-2zm2 0h2v2h-2zm1 0h2v2h-2zm4 0h2v2h-2zm1 0h2v2h-2zm5 0h2v2h-2zm8 0h2v2h-2zm7 0h2v2h-2zm11 0h2v2h-2zm1 0h2v2h-2zm1 0h2v2h-2zm5 0h2v2h-2zm142 0h2v2h-2zm-241 1h2v2h-2zm35 0h2v2h-2zm6 0h2v2h-2zm4 0h2v2h-2zm9 0h2v2h-2zm4 0h2v2h-2zm18 0h2v2h-2zm1 0h2v2h-2zm3 0h2v2h-2zm7 0h2v2h-2zm8 0h2v2h-2zm10 0h2v2h-2zm-189 1h2v2h-2zm111 0h2v2h-2zm5 0h2v2h-2zm13 0h2v2h-2zm7 0h2v2h-2zm2 0h2v2h-2zm6 0h2v2h-2zm2 0h2v2h-2zm8 0h2v2h-2zm8 0h2v2h-2zm4 0h2v2h-2zm4 0h2v2h-2zm9 0h2v2h-2zm20 0h2v2h-2zm134 0h2v2h-2zm-286 1h2v2h-2zm69 0h2v2h-2zm6 0h2v2h-2zm11 0h2v2h-2zm16 0h2v2h-2zm1 0h2v2h-2zm2 0h2v2h-2zm2 0h2v2h-2zm3 0h2v2h-2zm2 0h2v2h-2zm10 0h2v2h-2zm7 0h2v2h-2zm3 0h2v2h-2zm-173 1h2v2h-2zm29 0h2v2h-2zm7 0h2v2h-2zm25 0h2v2h-2zm67 0h2v2h-2zm6 0h2v2h-2zm1 0h2v2h-2zm2 0h2v2h-2zm2 0h2v2h-2zm3 0h2v2h-2zm1 0h2v2h-2zm1 0h2v2h-2zm2 0h2v2h-2zm1 0h2v2h-2zm4 0h2v2h-2zm6 0h2v2h-2zm5 0h2v2h-2zm3 0h2v2h-2zm1 0h2v2h-2zm25 0h2v2h-2zm-194 1h2v2h-2zm17 0h2v2h-2zm4 0h2v2h-2zm10 0h2v2h-2zm6 0h2v2h-2zm40 0h2v2h-2zm53 0h2v2h-2zm15 0h2v2h-2zm4 0h2v2h-2zm4 0h2v2h-2zm7 0h2v2h-2zm3 0h2v2h-2zm-130 1h2v2h-2zm18 0h2v2h-2zm53 0h2v2h-2zm19 0h2v2h-2zm4 0h2v2h-2zm8 0h2v2h-2zm1 0h2v2h-2zm8 0h2v2h-2zm1 0h2v2h-2zm4 0h2v2h-2zm2 0h2v2h-2zm3 0h2v2h-2zm3 0h2v2h-2zm4 0h2v2h-2zm4 0h2v2h-2zm6 0h2v2h-2zm1 0h2v2h-2zm1 0h2v2h-2zm-145 1h2v2h-2zm4 0h2v2h-2zm4 0h2v2h-2zm77 0h2v2h-2zm10 0h2v2h-2zm4 0h2v2h-2zm4 0h2v2h-2zm6 0h2v2h-2zm7 0h2v2h-2zm4 0h2v2h-2zm2 0h2v2h-2zm1 0h2v2h-2zm5 0h2v2h-2zm2 0h2v2h-2zm2 0h2v2h-2zm10 0h2v2h-2zm4 0h2v2h-2zm9 0h2v2h-2zm1 0h2v2h-2zm-152 1h2v2h-2zm3 0h2v2h-2zm2 0h2v2h-2zm17 0h2v2h-2zm3 0h2v2h-2zm10 0h2v2h-2zm2 0h2v2h-2zm55 0h2v2h-2zm3 0h2v2h-2zm5 0h2v2h-2zm8 0h2v2h-2zm7 0h2v2h-2zm3 0h2v2h-2zm10 0h2v2h-2zm1 0h2v2h-2zm1 0h2v2h-2zm2 0h2v2h-2zm2 0h2v2h-2zm9 0h2v2h-2zm1 0h2v2h-2zm-176 1h2v2h-2zm16 0h2v2h-2zm25 0h2v2h-2zm27 0h2v2h-2zm9 0h2v2h-2zm35 0h2v2h-2zm5 0h2v2h-2zm4 0h2v2h-2zm12 0h2v2h-2zm12 0h2v2h-2zm8 0h2v2h-2zm5 0h2v2h-2zm4 0h2v2h-2zm2 0h2v2h-2zm2 0h2v2h-2zm14 0h2v2h-2zm2 0h2v2h-2zm9 0h2v2h-2zm159 0h2v2h-2zm-350 1h2v2h-2zm23 0h2v2h-2zm9 0h2v2h-2zm13 0h2v2h-2zm57 0h2v2h-2zm2 0h2v2h-2zm8 0h2v2h-2zm8 0h2v2h-2zm14 0h2v2h-2zm1 0h2v2h-2zm4 0h2v2h-2zm4 0h2v2h-2zm1 0h2v2h-2zm5 0h2v2h-2zm14 0h2v2h-2zm-122 1h2v2h-2zm8 0h2v2h-2zm7 0h2v2h-2zm46 0h2v2h-2zm10 0h2v2h-2zm2 0h2v2h-2zm7 0h2v2h-2zm3 0h2v2h-2zm5 0h2v2h-2zm5 0h2v2h-2zm3 0h2v2h-2zm1 0h2v2h-2zm8 0h2v2h-2zm3 0h2v2h-2zm2 0h2v2h-2zm18 0h2v2h-2zm65 0h2v2h-2zm-249 1h2v2h-2zm4 0h2v2h-2zm19 0h2v2h-2zm10 0h2v2h-2zm6 0h2v2h-2zm58 0h2v2h-2zm4 0h2v2h-2zm35 0h2v2h-2zm6 0h2v2h-2zm2 0h2v2h-2zm8 0h2v2h-2zm1 0h2v2h-2zm5 0h2v2h-2zm4 0h2v2h-2zm2 0h2v2h-2zm1 0h2v2h-2zm1 0h2v2h-2zm4 0h2v2h-2zm3 0h2v2h-2zm3 0h2v2h-2zm1 0h2v2h-2zm2 0h2v2h-2zm2 0h2v2h-2zm2 0h2v2h-2zm8 0h2v2h-2zm9 0h2v2h-2zm2 0h2v2h-2zm-204 1h2v2h-2zm48 0h2v2h-2zm36 0h2v2h-2zm59 0h2v2h-2zm1 0h2v2h-2zm5 0h2v2h-2zm8 0h2v2h-2zm7 0h2v2h-2zm33 0h2v2h-2zm2 0h2v2h-2zm4 0h2v2h-2zm5 0h2v2h-2zm-165 1h2v2h-2zm20 0h2v2h-2zm79 0h2v2h-2zm1 0h2v2h-2zm18 0h2v2h-2zm5 0h2v2h-2zm6 0h2v2h-2zm17 0h2v2h-2zm-121 1h2v2h-2zm45 0h2v2h-2zm24 0h2v2h-2zm1 0h2v2h-2zm15 0h2v2h-2zm4 0h2v2h-2zm1 0h2v2h-2zm2 0h2v2h-2zm1 0h2v2h-2zm5 0h2v2h-2zm4 0h2v2h-2zm4 0h2v2h-2zm7 0h2v2h-2zm-130 1h2v2h-2zm8 0h2v2h-2zm9 0h2v2h-2zm4 0h2v2h-2zm61 0h2v2h-2zm14 0h2v2h-2zm6 0h2v2h-2zm3 0h2v2h-2zm8 0h2v2h-2zm3 0h2v2h-2zm4 0h2v2h-2zm9 0h2v2h-2zm9 0h2v2h-2zm14 0h2v2h-2zm9 0h2v2h-2zm-205 1h2v2h-2zm32 0h2v2h-2zm25 0h2v2h-2zm9 0h2v2h-2zm7 0h2v2h-2zm51 0h2v2h-2zm10 0h2v2h-2zm15 0h2v2h-2zm2 0h2v2h-2zm4 0h2v2h-2zm1 0h2v2h-2zm5 0h2v2h-2zm1 0h2v2h-2zm1 0h2v2h-2zm1 0h2v2h-2zm5 0h2v2h-2zm2 0h2v2h-2zm5 0h2v2h-2zm9 0h2v2h-2zm-185 1h2v2h-2zm51 0h2v2h-2zm58 0h2v2h-2zm9 0h2v2h-2zm13 0h2v2h-2zm5 0h2v2h-2zm1 0h2v2h-2zm11 0h2v2h-2zm1 0h2v2h-2zm4 0h2v2h-2zm4 0h2v2h-2zm6 0h2v2h-2zm2 0h2v2h-2zm6 0h2v2h-2zm3 0h2v2h-2zm2 0h2v2h-2zm-133 1h2v2h-2zm9 0h2v2h-2zm22 0h2v2h-2zm62 0h2v2h-2zm8 0h2v2h-2zm7 0h2v2h-2zm4 0h2v2h-2zm7 0h2v2h-2zm2 0h2v2h-2zm13 0h2v2h-2zm4 0h2v2h-2zm2 0h2v2h-2zm5 0h2v2h-2zm88 0h2v2h-2zm-247 1h2v2h-2zm12 0h2v2h-2zm18 0h2v2h-2zm63 0h2v2h-2zm9 0h2v2h-2zm7 0h2v2h-2zm9 0h2v2h-2zm4 0h2v2h-2zm5 0h2v2h-2zm2 0h2v2h-2zm2 0h2v2h-2zm7 0h2v2h-2zm2 0h2v2h-2zm2 0h2v2h-2zm4 0h2v2h-2zm2 0h2v2h-2zm12 0h2v2h-2zm-145 1h2v2h-2zm17 0h2v2h-2zm21 0h2v2h-2zm41 0h2v2h-2zm2 0h2v2h-2zm2 0h2v2h-2zm19 0h2v2h-2zm1 0h2v2h-2zm2 0h2v2h-2zm2 0h2v2h-2zm2 0h2v2h-2zm5 0h2v2h-2zm3 0h2v2h-2zm1 0h2v2h-2zm3 0h2v2h-2zm9 0h2v2h-2zm20 0h2v2h-2zm7 0h2v2h-2zm-184 1h2v2h-2zm73 0h2v2h-2zm29 0h2v2h-2zm9 0h2v2h-2zm4 0h2v2h-2zm2 0h2v2h-2zm1 0h2v2h-2zm6 0h2v2h-2zm3 0h2v2h-2zm13 0h2v2h-2zm4 0h2v2h-2zm6 0h2v2h-2zm2 0h2v2h-2zm5 0h2v2h-2zm1 0h2v2h-2zm4 0h2v2h-2zm3 0h2v2h-2zm32 0h2v2h-2zm-137 1h2v2h-2zm2 0h2v2h-2zm9 0h2v2h-2zm40 0h2v2h-2zm1 0h2v2h-2zm3 0h2v2h-2zm6 0h2v2h-2zm9 0h2v2h-2zm5 0h2v2h-2zm1 0h2v2h-2zm1 0h2v2h-2zm3 0h2v2h-2zm2 0h2v2h-2zm2 0h2v2h-2zm1 0h2v2h-2zm1 0h2v2h-2zm1 0h2v2h-2zm4 0h2v2h-2zm1 0h2v2h-2zm14 0h2v2h-2zm2 0h2v2h-2zm-142 1h2v2h-2zm32 0h2v2h-2zm71 0h2v2h-2zm7 0h2v2h-2zm1 0h2v2h-2zm1 0h2v2h-2zm6 0h2v2h-2zm7 0h2v2h-2zm1 0h2v2h-2zm4 0h2v2h-2zm2 0h2v2h-2zm2 0h2v2h-2zm4 0h2v2h-2zm-169 1h2v2h-2zm6 0h2v2h-2zm5 0h2v2h-2zm4 0h2v2h-2zm8 0h2v2h-2zm3 0h2v2h-2zm22 0h2v2h-2zm54 0h2v2h-2zm17 0h2v2h-2zm13 0h2v2h-2zm8 0h2v2h-2zm10 0h2v2h-2zm5 0h2v2h-2zm3 0h2v2h-2zm7 0h2v2h-2zm1 0h2v2h-2zm3 0h2v2h-2zm5 0h2v2h-2zm1 0h2v2h-2zm6 0h2v2h-2zm-153 1h2v2h-2zm8 0h2v2h-2zm7 0h2v2h-2zm18 0h2v2h-2zm6 0h2v2h-2zm66 0h2v2h-2zm20 0h2v2h-2zm3 0h2v2h-2zm1 0h2v2h-2zm5 0h2v2h-2zm-158 1h2v2h-2zm2 0h2v2h-2zm18 0h2v2h-2zm56 0h2v2h-2zm42 0h2v2h-2zm2 0h2v2h-2zm1 0h2v2h-2zm6 0h2v2h-2zm3 0h2v2h-2zm7 0h2v2h-2zm3 0h2v2h-2zm4 0h2v2h-2zm1 0h2v2h-2zm1 0h2v2h-2zm5 0h2v2h-2zm2 0h2v2h-2zm2 0h2v2h-2zm1 0h2v2h-2zm23 0h2v2h-2zm1 0h2v2h-2zm-176 1h2v2h-2zm6 0h2v2h-2zm5 0h2v2h-2zm29 0h2v2h-2zm39 0h2v2h-2zm2 0h2v2h-2zm12 0h2v2h-2zm20 0h2v2h-2zm4 0h2v2h-2zm2 0h2v2h-2zm3 0h2v2h-2zm3 0h2v2h-2zm1 0h2v2h-2zm6 0h2v2h-2zm2 0h2v2h-2zm8 0h2v2h-2zm2 0h2v2h-2zm5 0h2v2h-2zm1 0h2v2h-2zm15 0h2v2h-2zm109 0h2v2h-2zm59 0h2v2h-2zm-313 1h2v2h-2zm11 0h2v2h-2zm7 0h2v2h-2zm4 0h2v2h-2zm19 0h2v2h-2zm54 0h2v2h-2zm10 0h2v2h-2zm1 0h2v2h-2zm6 0h2v2h-2zm9 0h2v2h-2zm2 0h2v2h-2zm2 0h2v2h-2zm1 0h2v2h-2zm1 0h2v2h-2zm12 0h2v2h-2zm1 0h2v2h-2zm-180 1h2v2h-2zm38 0h2v2h-2zm1 0h2v2h-2zm5 0h2v2h-2zm7 0h2v2h-2zm16 0h2v2h-2zm55 0h2v2h-2zm8 0h2v2h-2zm6 0h2v2h-2zm3 0h2v2h-2zm1 0h2v2h-2zm5 0h2v2h-2zm5 0h2v2h-2zm3 0h2v2h-2zm3 0h2v2h-2zm3 0h2v2h-2zm4 0h2v2h-2zm4 0h2v2h-2zm15 0h2v2h-2zm1 0h2v2h-2zm22 0h2v2h-2zm19 0h2v2h-2zm-191 1h2v2h-2zm7 0h2v2h-2zm12 0h2v2h-2zm13 0h2v2h-2zm71 0h2v2h-2zm12 0h2v2h-2zm5 0h2v2h-2zm6 0h2v2h-2zm13 0h2v2h-2zm12 0h2v2h-2zm-135 1h2v2h-2zm74 0h2v2h-2zm8 0h2v2h-2zm8 0h2v2h-2zm9 0h2v2h-2zm1 0h2v2h-2zm6 0h2v2h-2zm1 0h2v2h-2zm1 0h2v2h-2zm16 0h2v2h-2zm-139 1h2v2h-2zm12 0h2v2h-2zm2 0h2v2h-2zm48 0h2v2h-2zm31 0h2v2h-2zm6 0h2v2h-2zm7 0h2v2h-2zm5 0h2v2h-2zm5 0h2v2h-2zm3 0h2v2h-2zm8 0h2v2h-2zm6 0h2v2h-2zm3 0h2v2h-2zm13 0h2v2h-2zm28 0h2v2h-2zm-200 1h2v2h-2zm30 0h2v2h-2zm7 0h2v2h-2zm11 0h2v2h-2zm19 0h2v2h-2zm27 0h2v2h-2zm40 0h2v2h-2zm2 0h2v2h-2zm3 0h2v2h-2zm5 0h2v2h-2zm2 0h2v2h-2zm1 0h2v2h-2zm9 0h2v2h-2zm-164 1h2v2h-2zm4 0h2v2h-2zm8 0h2v2h-2zm7 0h2v2h-2zm4 0h2v2h-2zm6 0h2v2h-2zm20 0h2v2h-2zm50 0h2v2h-2zm21 0h2v2h-2zm6 0h2v2h-2zm1 0h2v2h-2zm8 0h2v2h-2zm4 0h2v2h-2zm4 0h2v2h-2zm1 0h2v2h-2zm2 0h2v2h-2zm4 0h2v2h-2zm3 0h2v2h-2zm1 0h2v2h-2zm2 0h2v2h-2zm1 0h2v2h-2zm1 0h2v2h-2zm2 0h2v2h-2zm1 0h2v2h-2zm10 0h2v2h-2zm9 0h2v2h-2zm13 0h2v2h-2zm43 0h2v2h-2zm-221 1h2v2h-2zm18 0h2v2h-2zm20 0h2v2h-2zm10 0h2v2h-2zm15 0h2v2h-2zm9 0h2v2h-2zm28 0h2v2h-2zm9 0h2v2h-2zm5 0h2v2h-2zm5 0h2v2h-2zm5 0h2v2h-2zm1 0h2v2h-2zm2 0h2v2h-2zm4 0h2v2h-2zm10 0h2v2h-2zm3 0h2v2h-2zm6 0h2v2h-2zm4 0h2v2h-2zm3 0h2v2h-2zm4 0h2v2h-2zm1 0h2v2h-2zm-161 1h2v2h-2zm10 0h2v2h-2zm20 0h2v2h-2zm13 0h2v2h-2zm36 0h2v2h-2zm37 0h2v2h-2zm2 0h2v2h-2zm3 0h2v2h-2zm2 0h2v2h-2zm2 0h2v2h-2zm9 0h2v2h-2zm4 0h2v2h-2zm16 0h2v2h-2zm1 0h2v2h-2zm3 0h2v2h-2zm13 0h2v2h-2zm-177 1h2v2h-2zm3 0h2v2h-2zm18 0h2v2h-2zm1 0h2v2h-2zm1 0h2v2h-2zm6 0h2v2h-2zm10 0h2v2h-2zm8 0h2v2h-2zm29 0h2v2h-2zm3 0h2v2h-2zm32 0h2v2h-2zm10 0h2v2h-2zm15 0h2v2h-2zm6 0h2v2h-2zm5 0h2v2h-2zm1 0h2v2h-2zm1 0h2v2h-2zm5 0h2v2h-2zm1 0h2v2h-2zm2 0h2v2h-2zm20 0h2v2h-2zm5 0h2v2h-2zm-187 1h2v2h-2zm2 0h2v2h-2zm17 0h2v2h-2zm6 0h2v2h-2zm2 0h2v2h-2zm7 0h2v2h-2zm5 0h2v2h-2zm15 0h2v2h-2zm13 0h2v2h-2zm71 0h2v2h-2zm3 0h2v2h-2zm2 0h2v2h-2zm6 0h2v2h-2zm1 0h2v2h-2zm4 0h2v2h-2zm4 0h2v2h-2zm1 0h2v2h-2zm5 0h2v2h-2zm-136 1h2v2h-2zm12 0h2v2h-2zm1 0h2v2h-2zm18 0h2v2h-2zm6 0h2v2h-2zm33 0h2v2h-2zm27 0h2v2h-2zm9 0h2v2h-2zm1 0h2v2h-2zm2 0h2v2h-2zm6 0h2v2h-2zm2 0h2v2h-2zm6 0h2v2h-2zm4 0h2v2h-2zm2 0h2v2h-2zm2 0h2v2h-2zm5 0h2v2h-2zm2 0h2v2h-2zm3 0h2v2h-2zm23 0h2v2h-2zm-200 1h2v2h-2zm20 0h2v2h-2zm3 0h2v2h-2zm8 0h2v2h-2zm9 0h2v2h-2zm5 0h2v2h-2zm16 0h2v2h-2zm19 0h2v2h-2zm3 0h2v2h-2zm35 0h2v2h-2zm22 0h2v2h-2zm12 0h2v2h-2zm13 0h2v2h-2zm6 0h2v2h-2zm9 0h2v2h-2zm6 0h2v2h-2zm10 0h2v2h-2zm12 0h2v2h-2zm-174 1h2v2h-2zm18 0h2v2h-2zm2 0h2v2h-2zm1 0h2v2h-2zm6 0h2v2h-2zm4 0h2v2h-2zm27 0h2v2h-2zm34 0h2v2h-2zm4 0h2v2h-2zm5 0h2v2h-2zm1 0h2v2h-2zm3 0h2v2h-2zm1 0h2v2h-2zm2 0h2v2h-2zm2 0h2v2h-2zm6 0h2v2h-2zm4 0h2v2h-2zm4 0h2v2h-2zm1 0h2v2h-2zm2 0h2v2h-2zm5 0h2v2h-2zm5 0h2v2h-2zm6 0h2v2h-2zm7 0h2v2h-2zm19 0h2v2h-2zm-164 1h2v2h-2zm11 0h2v2h-2zm37 0h2v2h-2zm83 0h2v2h-2zm12 0h2v2h-2zm1 0h2v2h-2zm34 0h2v2h-2zm-197 1h2v2h-2zm14 0h2v2h-2zm16 0h2v2h-2zm24 0h2v2h-2zm5 0h2v2h-2zm2 0h2v2h-2zm43 0h2v2h-2zm8 0h2v2h-2zm1 0h2v2h-2zm7 0h2v2h-2zm1 0h2v2h-2zm8 0h2v2h-2zm5 0h2v2h-2zm1 0h2v2h-2zm2 0h2v2h-2zm3 0h2v2h-2zm4 0h2v2h-2zm4 0h2v2h-2zm5 0h2v2h-2zm3 0h2v2h-2zm22 0h2v2h-2zm-189 1h2v2h-2zm10 0h2v2h-2zm8 0h2v2h-2zm32 0h2v2h-2zm59 0h2v2h-2zm7 0h2v2h-2zm22 0h2v2h-2zm3 0h2v2h-2zm7 0h2v2h-2zm4 0h2v2h-2zm3 0h2v2h-2zm8 0h2v2h-2zm4 0h2v2h-2zm9 0h2v2h-2zm-155 1h2v2h-2zm11 0h2v2h-2zm29 0h2v2h-2zm8 0h2v2h-2zm25 0h2v2h-2zm12 0h2v2h-2zm39 0h2v2h-2zm1 0h2v2h-2zm5 0h2v2h-2zm2 0h2v2h-2zm1 0h2v2h-2zm1 0h2v2h-2zm4 0h2v2h-2zm10 0h2v2h-2zm2 0h2v2h-2zm-167 1h2v2h-2zm40 0h2v2h-2zm2 0h2v2h-2zm2 0h2v2h-2zm6 0h2v2h-2zm2 0h2v2h-2zm16 0h2v2h-2zm4 0h2v2h-2zm2 0h2v2h-2zm5 0h2v2h-2zm11 0h2v2h-2zm31 0h2v2h-2zm3 0h2v2h-2zm5 0h2v2h-2zm18 0h2v2h-2zm16 0h2v2h-2zm176 0h2v2h-2zm-325 1h2v2h-2zm1 0h2v2h-2zm7 0h2v2h-2zm10 0h2v2h-2zm5 0h2v2h-2zm3 0h2v2h-2zm7 0h2v2h-2zm14 0h2v2h-2zm28 0h2v2h-2zm2 0h2v2h-2zm26 0h2v2h-2zm14 0h2v2h-2zm4 0h2v2h-2zm2 0h2v2h-2zm6 0h2v2h-2zm2 0h2v2h-2zm29 0h2v2h-2zm11 0h2v2h-2zm5 0h2v2h-2zm-205 1h2v2h-2zm18 0h2v2h-2zm41 0h2v2h-2zm1 0h2v2h-2zm3 0h2v2h-2zm2 0h2v2h-2zm5 0h2v2h-2zm20 0h2v2h-2zm45 0h2v2h-2zm15 0h2v2h-2zm1 0h2v2h-2zm14 0h2v2h-2zm3 0h2v2h-2zm8 0h2v2h-2zm11 0h2v2h-2zm1 0h2v2h-2zm2 0h2v2h-2zm-159 1h2v2h-2zm5 0h2v2h-2zm28 0h2v2h-2zm14 0h2v2h-2zm40 0h2v2h-2zm13 0h2v2h-2zm20 0h2v2h-2zm13 0h2v2h-2zm11 0h2v2h-2zm2 0h2v2h-2zm10 0h2v2h-2zm95 0h2v2h-2zm-224 1h2v2h-2zm4 0h2v2h-2zm4 0h2v2h-2zm5 0h2v2h-2zm11 0h2v2h-2zm4 0h2v2h-2zm28 0h2v2h-2zm4 0h2v2h-2zm41 0h2v2h-2zm13 0h2v2h-2zm25 0h2v2h-2zm10 0h2v2h-2zm-206 1h2v2h-2zm24 0h2v2h-2zm36 0h2v2h-2zm3 0h2v2h-2zm4 0h2v2h-2zm18 0h2v2h-2zm3 0h2v2h-2zm37 0h2v2h-2zm11 0h2v2h-2zm6 0h2v2h-2zm2 0h2v2h-2zm33 0h2v2h-2zm8 0h2v2h-2zm-160 1h2v2h-2zm2 0h2v2h-2zm30 0h2v2h-2zm28 0h2v2h-2zm11 0h2v2h-2zm40 0h2v2h-2zm5 0h2v2h-2zm5 0h2v2h-2zm44 0h2v2h-2zm15 0h2v2h-2zm-192 1h2v2h-2zm23 0h2v2h-2zm154 0h2v2h-2zm33 0h2v2h-2zm-217 1h2v2h-2zm9 0h2v2h-2zm19 0h2v2h-2zm1 0h2v2h-2zm1 0h2v2h-2zm3 0h2v2h-2zm15 0h2v2h-2zm3 0h2v2h-2zm25 0h2v2h-2zm44 0h2v2h-2zm6 0h2v2h-2zm5 0h2v2h-2zm49 0h2v2h-2zm147 0h2v2h-2zm-337 1h2v2h-2zm30 0h2v2h-2zm5 0h2v2h-2zm1 0h2v2h-2zm4 0h2v2h-2zm6 0h2v2h-2zm8 0h2v2h-2zm9 0h2v2h-2zm2 0h2v2h-2zm5 0h2v2h-2zm17 0h2v2h-2zm10 0h2v2h-2zm122 0h2v2h-2zm-194 1h2v2h-2zm12 0h2v2h-2zm15 0h2v2h-2zm4 0h2v2h-2zm3 0h2v2h-2zm11 0h2v2h-2zm4 0h2v2h-2zm6 0h2v2h-2zm11 0h2v2h-2zm13 0h2v2h-2zm2 0h2v2h-2zm34 0h2v2h-2zm46 0h2v2h-2zm27 0h2v2h-2zm-207 1h2v2h-2zm32 0h2v2h-2zm3 0h2v2h-2zm10 0h2v2h-2zm2 0h2v2h-2zm8 0h2v2h-2zm11 0h2v2h-2zm8 0h2v2h-2zm5 0h2v2h-2zm30 0h2v2h-2zm24 0h2v2h-2zm44 0h2v2h-2zm2 0h2v2h-2zm-171 1h2v2h-2zm1 0h2v2h-2zm19 0h2v2h-2zm5 0h2v2h-2zm7 0h2v2h-2zm2 0h2v2h-2zm12 0h2v2h-2zm22 0h2v2h-2zm52 0h2v2h-2zm6 0h2v2h-2zm49 0h2v2h-2zm106 0h2v2h-2zm-296 1h2v2h-2zm19 0h2v2h-2zm1 0h2v2h-2zm1 0h2v2h-2zm3 0h2v2h-2zm9 0h2v2h-2zm12 0h2v2h-2zm2 0h2v2h-2zm4 0h2v2h-2zm15 0h2v2h-2zm11 0h2v2h-2zm52 0h2v2h-2zm17 0h2v2h-2zm45 0h2v2h-2zm8 0h2v2h-2zm-179 1h2v2h-2zm3 0h2v2h-2zm3 0h2v2h-2zm6 0h2v2h-2zm11 0h2v2h-2zm7 0h2v2h-2zm5 0h2v2h-2zm10 0h2v2h-2zm12 0h2v2h-2zm1 0h2v2h-2zm5 0h2v2h-2zm8 0h2v2h-2zm10 0h2v2h-2zm1 0h2v2h-2zm83 0h2v2h-2zm-172 1h2v2h-2zm27 0h2v2h-2zm16 0h2v2h-2zm25 0h2v2h-2zm4 0h2v2h-2zm5 0h2v2h-2zm54 0h2v2h-2zm203 0h2v2h-2zm-340 1h2v2h-2zm11 0h2v2h-2zm3 0h2v2h-2zm18 0h2v2h-2zm22 0h2v2h-2zm11 0h2v2h-2zm1 0h2v2h-2zm1 0h2v2h-2zm2 0h2v2h-2zm3 0h2v2h-2zm11 0h2v2h-2zm43 0h2v2h-2zm6 0h2v2h-2zm52 0h2v2h-2zm4 0h2v2h-2zm-175 1h2v2h-2zm3 0h2v2h-2zm19 0h2v2h-2zm3 0h2v2h-2zm4 0h2v2h-2zm1 0h2v2h-2zm5 0h2v2h-2zm1 0h2v2h-2zm5 0h2v2h-2zm17 0h2v2h-2zm35 0h2v2h-2zm3 0h2v2h-2zm14 0h2v2h-2zm3 0h2v2h-2zm52 0h2v2h-2zm3 0h2v2h-2zm3 0h2v2h-2zm6 0h2v2h-2zm-172 1h2v2h-2zm1 0h2v2h-2zm10 0h2v2h-2zm3 0h2v2h-2zm6 0h2v2h-2zm3 0h2v2h-2zm13 0h2v2h-2zm12 0h2v2h-2zm54 0h2v2h-2zm67 0h2v2h-2zm134 0h2v2h-2zm-324 1h2v2h-2zm18 0h2v2h-2zm8 0h2v2h-2zm1 0h2v2h-2zm13 0h2v2h-2zm7 0h2v2h-2zm4 0h2v2h-2zm22 0h2v2h-2zm17 0h2v2h-2zm47 0h2v2h-2zm50 0h2v2h-2zm7 0h2v2h-2zm-175 1h2v2h-2zm6 0h2v2h-2zm1 0h2v2h-2zm12 0h2v2h-2zm4 0h2v2h-2zm6 0h2v2h-2zm1 0h2v2h-2zm10 0h2v2h-2zm6 0h2v2h-2zm23 0h2v2h-2zm46 0h2v2h-2zm181 0h2v2h-2zm-287 1h2v2h-2zm1 0h2v2h-2zm15 0h2v2h-2zm1 0h2v2h-2zm4 0h2v2h-2zm1 0h2v2h-2zm9 0h2v2h-2zm7 0h2v2h-2zm12 0h2v2h-2zm104 0h2v2h-2zm-167 1h2v2h-2zm9 0h2v2h-2zm18 0h2v2h-2zm3 0h2v2h-2zm7 0h2v2h-2zm6 0h2v2h-2zm8 0h2v2h-2zm63 0h2v2h-2zm73 0h2v2h-2zm-165 1h2v2h-2zm10 0h2v2h-2zm6 0h2v2h-2zm2 0h2v2h-2zm2 0h2v2h-2zm1 0h2v2h-2zm4 0h2v2h-2zm5 0h2v2h-2zm20 0h2v2h-2zm118 0h2v2h-2zm-203 1h2v2h-2zm12 0h2v2h-2zm9 0h2v2h-2zm5 0h2v2h-2zm13 0h2v2h-2zm7 0h2v2h-2zm2 0h2v2h-2zm7 0h2v2h-2zm1 0h2v2h-2zm13 0h2v2h-2zm38 0h2v2h-2zm14 0h2v2h-2zm64 0h2v2h-2zm-163 1h2v2h-2zm10 0h2v2h-2zm5 0h2v2h-2zm1 0h2v2h-2zm5 0h2v2h-2zm4 0h2v2h-2zm1 0h2v2h-2zm5 0h2v2h-2zm2 0h2v2h-2zm6 0h2v2h-2zm19 0h2v2h-2zm7 0h2v2h-2zm34 0h2v2h-2zm76 0h2v2h-2zm-197 1h2v2h-2zm11 0h2v2h-2zm3 0h2v2h-2zm25 0h2v2h-2zm1 0h2v2h-2zm1 0h2v2h-2zm1 0h2v2h-2zm11 0h2v2h-2zm1 0h2v2h-2zm5 0h2v2h-2zm4 0h2v2h-2zm3 0h2v2h-2zm6 0h2v2h-2zm23 0h2v2h-2zm30 0h2v2h-2zm61 0h2v2h-2zm10 0h2v2h-2zm28 0h2v2h-2zm53 0h2v2h-2zm-272 1h2v2h-2zm1 0h2v2h-2zm8 0h2v2h-2zm4 0h2v2h-2zm2 0h2v2h-2zm16 0h2v2h-2zm2 0h2v2h-2zm8 0h2v2h-2zm6 0h2v2h-2zm2 0h2v2h-2zm2 0h2v2h-2zm2 0h2v2h-2zm5 0h2v2h-2zm1 0h2v2h-2zm4 0h2v2h-2zm13 0h2v2h-2zm47 0h2v2h-2zm57 0h2v2h-2zm4 0h2v2h-2zm14 0h2v2h-2zm-170 1h2v2h-2zm7 0h2v2h-2zm1 0h2v2h-2zm13 0h2v2h-2zm6 0h2v2h-2zm22 0h2v2h-2zm15 0h2v2h-2zm15 0h2v2h-2zm12 0h2v2h-2zm3 0h2v2h-2zm5 0h2v2h-2zm58 0h2v2h-2zm-178 1h2v2h-2zm4 0h2v2h-2zm1 0h2v2h-2zm11 0h2v2h-2zm6 0h2v2h-2zm29 0h2v2h-2zm25 0h2v2h-2zm20 0h2v2h-2zm5 0h2v2h-2zm14 0h2v2h-2zm56 0h2v2h-2zm4 0h2v2h-2zm11 0h2v2h-2zm-170 1h2v2h-2zm3 0h2v2h-2zm7 0h2v2h-2zm21 0h2v2h-2zm6 0h2v2h-2zm52 0h2v2h-2zm12 0h2v2h-2zm5 0h2v2h-2zm69 0h2v2h-2zm-196 1h2v2h-2zm4 0h2v2h-2zm26 0h2v2h-2zm21 0h2v2h-2zm1 0h2v2h-2zm3 0h2v2h-2zm6 0h2v2h-2zm7 0h2v2h-2zm2 0h2v2h-2zm2 0h2v2h-2zm42 0h2v2h-2zm7 0h2v2h-2zm59 0h2v2h-2zm13 0h2v2h-2zm-167 1h2v2h-2zm5 0h2v2h-2zm6 0h2v2h-2zm26 0h2v2h-2zm2 0h2v2h-2zm35 0h2v2h-2zm17 0h2v2h-2zm5 0h2v2h-2zm1 0h2v2h-2zm51 0h2v2h-2zm-181 1h2v2h-2zm6 0h2v2h-2zm5 0h2v2h-2zm31 0h2v2h-2zm1 0h2v2h-2zm25 0h2v2h-2zm2 0h2v2h-2zm7 0h2v2h-2zm5 0h2v2h-2zm14 0h2v2h-2zm-62 1h2v2h-2zm1 0h2v2h-2zm5 0h2v2h-2zm8 0h2v2h-2zm2 0h2v2h-2zm1 0h2v2h-2zm4 0h2v2h-2zm6 0h2v2h-2zm6 0h2v2h-2zm4 0h2v2h-2zm29 0h2v2h-2zm25 0h2v2h-2zm7 0h2v2h-2zm50 0h2v2h-2zm3 0h2v2h-2zm3 0h2v2h-2zm159 0h2v2h-2zm-342 1h2v2h-2zm2 0h2v2h-2zm19 0h2v2h-2zm6 0h2v2h-2zm12 0h2v2h-2zm4 0h2v2h-2zm9 0h2v2h-2zm5 0h2v2h-2zm12 0h2v2h-2zm40 0h2v2h-2zm74 0h2v2h-2zm-176 1h2v2h-2zm5 0h2v2h-2zm29 0h2v2h-2zm1 0h2v2h-2zm6 0h2v2h-2zm18 0h2v2h-2zm7 0h2v2h-2zm30 0h2v2h-2zm15 0h2v2h-2zm59 0h2v2h-2zm-183 1h2v2h-2zm17 0h2v2h-2zm17 0h2v2h-2zm13 0h2v2h-2zm4 0h2v2h-2zm4 0h2v2h-2zm8 0h2v2h-2zm10 0h2v2h-2zm14 0h2v2h-2zm5 0h2v2h-2zm2 0h2v2h-2zm17 0h2v2h-2zm19 0h2v2h-2zm-138 1h2v2h-2zm17 0h2v2h-2zm4 0h2v2h-2zm9 0h2v2h-2zm2 0h2v2h-2zm11 0h2v2h-2zm11 0h2v2h-2zm5 0h2v2h-2zm4 0h2v2h-2zm12 0h2v2h-2zm10 0h2v2h-2zm1 0h2v2h-2zm4 0h2v2h-2zm1 0h2v2h-2zm40 0h2v2h-2zm6 0h2v2h-2zm2 0h2v2h-2zm2 0h2v2h-2zm143 0h2v2h-2zm84 0h2v2h-2zm-362 1h2v2h-2zm23 0h2v2h-2zm9 0h2v2h-2zm7 0h2v2h-2zm1 0h2v2h-2zm6 0h2v2h-2zm2 0h2v2h-2zm43 0h2v2h-2zm9 0h2v2h-2zm4 0h2v2h-2zm3 0h2v2h-2zm12 0h2v2h-2zm68 0h2v2h-2zm-184 1h2v2h-2zm2 0h2v2h-2zm12 0h2v2h-2zm4 0h2v2h-2zm19 0h2v2h-2zm5 0h2v2h-2zm6 0h2v2h-2zm1 0h2v2h-2zm6 0h2v2h-2zm10 0h2v2h-2zm38 0h2v2h-2zm10 0h2v2h-2zm-107 1h2v2h-2zm5 0h2v2h-2zm5 0h2v2h-2zm4 0h2v2h-2zm4 0h2v2h-2zm5 0h2v2h-2zm16 0h2v2h-2zm14 0h2v2h-2zm4 0h2v2h-2zm9 0h2v2h-2zm52 0h2v2h-2zm59 0h2v2h-2zm-175 1h2v2h-2zm7 0h2v2h-2zm26 0h2v2h-2zm3 0h2v2h-2zm4 0h2v2h-2zm3 0h2v2h-2zm6 0h2v2h-2zm3 0h2v2h-2zm6 0h2v2h-2zm1 0h2v2h-2zm4 0h2v2h-2zm11 0h2v2h-2zm9 0h2v2h-2zm6 0h2v2h-2zm91 0h2v2h-2zm11 0h2v2h-2zm-188 1h2v2h-2zm24 0h2v2h-2zm12 0h2v2h-2zm7 0h2v2h-2zm12 0h2v2h-2zm19 0h2v2h-2zm47 0h2v2h-2zm54 0h2v2h-2zm11 0h2v2h-2zm-204 1h2v2h-2zm5 0h2v2h-2zm7 0h2v2h-2zm9 0h2v2h-2zm1 0h2v2h-2zm10 0h2v2h-2zm15 0h2v2h-2zm5 0h2v2h-2zm7 0h2v2h-2zm30 0h2v2h-2zm106 0h2v2h-2zm6 0h2v2h-2zm4 0h2v2h-2zm-189 1h2v2h-2zm19 0h2v2h-2zm19 0h2v2h-2zm2 0h2v2h-2zm46 0h2v2h-2zm5 0h2v2h-2zm-50 1h2v2h-2zm14 0h2v2h-2zm1 0h2v2h-2zm11 0h2v2h-2zm5 0h2v2h-2zm22 0h2v2h-2zm24 0h2v2h-2zm62 0h2v2h-2zm6 0h2v2h-2zm9 0h2v2h-2zm-191 1h2v2h-2zm20 0h2v2h-2zm13 0h2v2h-2zm2 0h2v2h-2zm6 0h2v2h-2zm5 0h2v2h-2zm9 0h2v2h-2zm4 0h2v2h-2zm2 0h2v2h-2zm114 0h2v2h-2zm-185 1h2v2h-2zm31 0h2v2h-2zm10 0h2v2h-2zm7 0h2v2h-2zm5 0h2v2h-2zm1 0h2v2h-2zm5 0h2v2h-2zm3 0h2v2h-2zm8 0h2v2h-2zm110 0h2v2h-2zm23 0h2v2h-2zm7 0h2v2h-2zm-196 1h2v2h-2zm18 0h2v2h-2zm2 0h2v2h-2zm18 0h2v2h-2zm6 0h2v2h-2zm2 0h2v2h-2zm6 0h2v2h-2zm3 0h2v2h-2zm16 0h2v2h-2zm26 0h2v2h-2zm70 0h2v2h-2zm11 0h2v2h-2zm87 0h2v2h-2zm-265 1h2v2h-2zm21 0h2v2h-2zm1 0h2v2h-2zm21 0h2v2h-2zm3 0h2v2h-2zm5 0h2v2h-2zm8 0h2v2h-2zm17 0h2v2h-2zm106 0h2v2h-2zm-200 1h2v2h-2zm4 0h2v2h-2zm15 0h2v2h-2zm10 0h2v2h-2zm9 0h2v2h-2zm12 0h2v2h-2zm31 0h2v2h-2zm2 0h2v2h-2zm2 0h2v2h-2zm15 0h2v2h-2zm84 0h2v2h-2zm3 0h2v2h-2zm2 0h2v2h-2zm-180 1h2v2h-2zm2 0h2v2h-2zm26 0h2v2h-2zm4 0h2v2h-2zm4 0h2v2h-2zm6 0h2v2h-2zm10 0h2v2h-2zm2 0h2v2h-2zm18 0h2v2h-2zm11 0h2v2h-2zm2 0h2v2h-2zm26 0h2v2h-2zm-99 1h2v2h-2zm13 0h2v2h-2zm8 0h2v2h-2zm31 0h2v2h-2zm3 0h2v2h-2zm47 0h2v2h-2zm-119 1h2v2h-2zm13 0h2v2h-2zm1 0h2v2h-2zm14 0h2v2h-2zm10 0h2v2h-2zm5 0h2v2h-2zm28 0h2v2h-2zm2 0h2v2h-2zm38 0h2v2h-2zm69 0h2v2h-2zm-184 1h2v2h-2zm25 0h2v2h-2zm14 0h2v2h-2zm13 0h2v2h-2zm7 0h2v2h-2zm4 0h2v2h-2zm5 0h2v2h-2zm2 0h2v2h-2zm16 0h2v2h-2zm12 0h2v2h-2zm19 0h2v2h-2zm2 0h2v2h-2zm-127 1h2v2h-2zm20 0h2v2h-2zm1 0h2v2h-2zm27 0h2v2h-2zm21 0h2v2h-2zm1 0h2v2h-2zm14 0h2v2h-2zm48 0h2v2h-2zm3 0h2v2h-2zm-97 1h2v2h-2zm19 0h2v2h-2zm1 0h2v2h-2zm3 0h2v2h-2zm4 0h2v2h-2zm1 0h2v2h-2zm27 0h2v2h-2zm37 0h2v2h-2zm4 0h2v2h-2zm-119 1h2v2h-2zm1 0h2v2h-2zm10 0h2v2h-2zm1 0h2v2h-2zm10 0h2v2h-2zm12 0h2v2h-2zm7 0h2v2h-2zm2 0h2v2h-2zm2 0h2v2h-2zm5 0h2v2h-2zm9 0h2v2h-2zm4 0h2v2h-2zm59 0h2v2h-2zm55 0h2v2h-2zm3 0h2v2h-2zm1 0h2v2h-2zm3 0h2v2h-2zm6 0h2v2h-2zm-174 1h2v2h-2zm8 0h2v2h-2zm3 0h2v2h-2zm3 0h2v2h-2zm8 0h2v2h-2zm1 0h2v2h-2zm1 0h2v2h-2zm1 0h2v2h-2zm2 0h2v2h-2zm1 0h2v2h-2zm4 0h2v2h-2zm10 0h2v2h-2zm3 0h2v2h-2zm2 0h2v2h-2zm6 0h2v2h-2zm3 0h2v2h-2zm6 0h2v2h-2zm3 0h2v2h-2zm2 0h2v2h-2zm20 0h2v2h-2zm11 0h2v2h-2zm5 0h2v2h-2zm74 0h2v2h-2zm115 0h2v2h-2zm-305 1h2v2h-2zm10 0h2v2h-2zm7 0h2v2h-2zm15 0h2v2h-2zm4 0h2v2h-2zm4 0h2v2h-2zm2 0h2v2h-2zm7 0h2v2h-2zm3 0h2v2h-2zm13 0h2v2h-2zm3 0h2v2h-2zm2 0h2v2h-2zm14 0h2v2h-2zm26 0h2v2h-2zm11 0h2v2h-2zm60 0h2v2h-2zm-188 1h2v2h-2zm19 0h2v2h-2zm14 0h2v2h-2zm11 0h2v2h-2zm7 0h2v2h-2zm8 0h2v2h-2zm9 0h2v2h-2zm31 0h2v2h-2zm14 0h2v2h-2zm4 0h2v2h-2zm-102 1h2v2h-2zm28 0h2v2h-2zm1 0h2v2h-2zm4 0h2v2h-2zm8 0h2v2h-2zm4 0h2v2h-2zm4 0h2v2h-2zm1 0h2v2h-2zm2 0h2v2h-2zm6 0h2v2h-2zm14 0h2v2h-2zm31 0h2v2h-2zm11 0h2v2h-2zm-138 1h2v2h-2zm7 0h2v2h-2zm2 0h2v2h-2zm1 0h2v2h-2zm42 0h2v2h-2zm10 0h2v2h-2zm6 0h2v2h-2zm13 0h2v2h-2zm1 0h2v2h-2zm9 0h2v2h-2zm31 0h2v2h-2zm7 0h2v2h-2zm102 0h2v2h-2zm-195 1h2v2h-2zm1 0h2v2h-2zm6 0h2v2h-2zm29 0h2v2h-2zm10 0h2v2h-2zm11 0h2v2h-2zm34 0h2v2h-2zm5 0h2v2h-2zm-132 1h2v2h-2zm33 0h2v2h-2zm6 0h2v2h-2zm16 0h2v2h-2zm6 0h2v2h-2zm16 0h2v2h-2zm4 0h2v2h-2zm2 0h2v2h-2zm5 0h2v2h-2zm2 0h2v2h-2zm7 0h2v2h-2zm29 0h2v2h-2zm5 0h2v2h-2zm60 0h2v2h-2zm143 0h2v2h-2zm-299 1h2v2h-2zm10 0h2v2h-2zm9 0h2v2h-2zm27 0h2v2h-2zm44 0h2v2h-2zm1 0h2v2h-2zm63 0h2v2h-2zm1 0h2v2h-2zm3 0h2v2h-2zm-165 1h2v2h-2zm9 0h2v2h-2zm6 0h2v2h-2zm7 0h2v2h-2zm5 0h2v2h-2zm2 0h2v2h-2zm2 0h2v2h-2zm5 0h2v2h-2zm4 0h2v2h-2zm3 0h2v2h-2zm1 0h2v2h-2zm1 0h2v2h-2zm7 0h2v2h-2zm126 0h2v2h-2zm-200 1h2v2h-2zm15 0h2v2h-2zm1 0h2v2h-2zm4 0h2v2h-2zm18 0h2v2h-2zm1 0h2v2h-2zm1 0h2v2h-2zm15 0h2v2h-2zm2 0h2v2h-2zm10 0h2v2h-2zm5 0h2v2h-2zm-78 1h2v2h-2zm26 0h2v2h-2zm9 0h2v2h-2zm1 0h2v2h-2zm6 0h2v2h-2zm5 0h2v2h-2zm1 0h2v2h-2zm7 0h2v2h-2zm25 0h2v2h-2zm6 0h2v2h-2zm13 0h2v2h-2zm27 0h2v2h-2zm4 0h2v2h-2zm59 0h2v2h-2zm-170 1h2v2h-2zm2 0h2v2h-2zm18 0h2v2h-2zm1 0h2v2h-2zm4 0h2v2h-2zm8 0h2v2h-2zm1 0h2v2h-2zm4 0h2v2h-2zm1 0h2v2h-2zm4 0h2v2h-2zm23 0h2v2h-2zm49 0h2v2h-2zm-133 1h2v2h-2zm13 0h2v2h-2zm10 0h2v2h-2zm19 0h2v2h-2zm6 0h2v2h-2zm5 0h2v2h-2zm3 0h2v2h-2zm10 0h2v2h-2zm3 0h2v2h-2zm2 0h2v2h-2zm20 0h2v2h-2zm18 0h2v2h-2zm96 0h2v2h-2zm1 0h2v2h-2zm2 0h2v2h-2zm-201 1h2v2h-2zm25 0h2v2h-2zm4 0h2v2h-2zm3 0h2v2h-2zm5 0h2v2h-2zm5 0h2v2h-2zm1 0h2v2h-2zm5 0h2v2h-2zm11 0h2v2h-2zm4 0h2v2h-2zm13 0h2v2h-2zm1 0h2v2h-2zm1 0h2v2h-2zm5 0h2v2h-2zm2 0h2v2h-2zm4 0h2v2h-2zm15 0h2v2h-2zm4 0h2v2h-2zm83 0h2v2h-2zm1 0h2v2h-2zm-200 1h2v2h-2zm21 0h2v2h-2zm3 0h2v2h-2zm2 0h2v2h-2zm6 0h2v2h-2zm13 0h2v2h-2zm12 0h2v2h-2zm5 0h2v2h-2zm12 0h2v2h-2zm2 0h2v2h-2zm1 0h2v2h-2zm7 0h2v2h-2zm21 0h2v2h-2zm7 0h2v2h-2zm4 0h2v2h-2zm14 0h2v2h-2zm68 0h2v2h-2zm-190 1h2v2h-2zm1 0h2v2h-2zm12 0h2v2h-2zm6 0h2v2h-2zm12 0h2v2h-2zm5 0h2v2h-2zm1 0h2v2h-2zm8 0h2v2h-2zm2 0h2v2h-2zm2 0h2v2h-2zm1 0h2v2h-2zm3 0h2v2h-2zm5 0h2v2h-2zm34 0h2v2h-2zm19 0h2v2h-2zm8 0h2v2h-2zm4 0h2v2h-2zm66 0h2v2h-2zm36 0h2v2h-2zm-234 1h2v2h-2zm20 0h2v2h-2zm2 0h2v2h-2zm10 0h2v2h-2zm12 0h2v2h-2zm9 0h2v2h-2zm1 0h2v2h-2zm1 0h2v2h-2zm30 0h2v2h-2zm5 0h2v2h-2zm1 0h2v2h-2zm19 0h2v2h-2zm22 0h2v2h-2zm8 0h2v2h-2zm50 0h2v2h-2zm-178 1h2v2h-2zm16 0h2v2h-2zm6 0h2v2h-2zm2 0h2v2h-2zm5 0h2v2h-2zm4 0h2v2h-2zm9 0h2v2h-2zm1 0h2v2h-2zm6 0h2v2h-2zm30 0h2v2h-2zm29 0h2v2h-2zm9 0h2v2h-2zm6 0h2v2h-2zm54 0h2v2h-2zm1 0h2v2h-2zm9 0h2v2h-2zm1 0h2v2h-2zm-176 1h2v2h-2zm4 0h2v2h-2zm3 0h2v2h-2zm7 0h2v2h-2zm13 0h2v2h-2zm1 0h2v2h-2zm2 0h2v2h-2zm6 0h2v2h-2zm2 0h2v2h-2zm1 0h2v2h-2zm22 0h2v2h-2zm2 0h2v2h-2zm29 0h2v2h-2zm15 0h2v2h-2zm72 0h2v2h-2zm1 0h2v2h-2zm-186 1h2v2h-2zm23 0h2v2h-2zm3 0h2v2h-2zm10 0h2v2h-2zm2 0h2v2h-2zm2 0h2v2h-2zm2 0h2v2h-2zm5 0h2v2h-2zm12 0h2v2h-2zm8 0h2v2h-2zm4 0h2v2h-2zm16 0h2v2h-2zm31 0h2v2h-2zm-125 1h2v2h-2zm6 0h2v2h-2zm7 0h2v2h-2zm15 0h2v2h-2zm5 0h2v2h-2zm24 0h2v2h-2zm13 0h2v2h-2zm7 0h2v2h-2zm39 0h2v2h-2zm-106 1h2v2h-2zm7 0h2v2h-2zm3 0h2v2h-2zm6 0h2v2h-2zm2 0h2v2h-2zm9 0h2v2h-2zm1 0h2v2h-2zm7 0h2v2h-2zm20 0h2v2h-2zm28 0h2v2h-2zm88 0h2v2h-2zm-173 1h2v2h-2zm12 0h2v2h-2zm3 0h2v2h-2zm6 0h2v2h-2zm6 0h2v2h-2zm3 0h2v2h-2zm22 0h2v2h-2zm4 0h2v2h-2zm2 0h2v2h-2zm4 0h2v2h-2zm2 0h2v2h-2zm3 0h2v2h-2zm137 0h2v2h-2zm-208 1h2v2h-2zm6 0h2v2h-2zm1 0h2v2h-2zm4 0h2v2h-2zm4 0h2v2h-2zm4 0h2v2h-2zm2 0h2v2h-2zm2 0h2v2h-2zm13 0h2v2h-2zm3 0h2v2h-2zm4 0h2v2h-2zm5 0h2v2h-2zm2 0h2v2h-2zm17 0h2v2h-2zm19 0h2v2h-2zm29 0h2v2h-2zm78 0h2v2h-2zm3 0h2v2h-2zm-207 1h2v2h-2zm12 0h2v2h-2zm6 0h2v2h-2zm2 0h2v2h-2zm7 0h2v2h-2zm5 0h2v2h-2zm1 0h2v2h-2zm6 0h2v2h-2zm11 0h2v2h-2zm1 0h2v2h-2zm2 0h2v2h-2zm6 0h2v2h-2zm1 0h2v2h-2zm3 0h2v2h-2zm1 0h2v2h-2zm3 0h2v2h-2zm3 0h2v2h-2zm49 0h2v2h-2zm4 0h2v2h-2zm8 0h2v2h-2zm54 0h2v2h-2zm8 0h2v2h-2zm-184 1h2v2h-2zm21 0h2v2h-2zm18 0h2v2h-2zm6 0h2v2h-2zm13 0h2v2h-2zm8 0h2v2h-2zm1 0h2v2h-2zm5 0h2v2h-2zm13 0h2v2h-2zm14 0h2v2h-2zm18 0h2v2h-2zm7 0h2v2h-2zm66 0h2v2h-2zm-180 1h2v2h-2zm12 0h2v2h-2zm5 0h2v2h-2zm3 0h2v2h-2zm6 0h2v2h-2zm1 0h2v2h-2zm4 0h2v2h-2zm3 0h2v2h-2zm1 0h2v2h-2zm1 0h2v2h-2zm3 0h2v2h-2zm1 0h2v2h-2zm4 0h2v2h-2zm5 0h2v2h-2zm10 0h2v2h-2zm8 0h2v2h-2zm46 0h2v2h-2zm57 0h2v2h-2zm3 0h2v2h-2zm1 0h2v2h-2zm4 0h2v2h-2zm-177 1h2v2h-2zm7 0h2v2h-2zm9 0h2v2h-2zm2 0h2v2h-2zm3 0h2v2h-2zm7 0h2v2h-2zm2 0h2v2h-2zm30 0h2v2h-2zm8 0h2v2h-2zm21 0h2v2h-2zm8 0h2v2h-2zm13 0h2v2h-2zm108 0h2v2h-2zm-205 1h2v2h-2zm4 0h2v2h-2zm8 0h2v2h-2zm14 0h2v2h-2zm11 0h2v2h-2zm1 0h2v2h-2zm10 0h2v2h-2zm1 0h2v2h-2zm4 0h2v2h-2zm43 0h2v2h-2zm56 0h2v2h-2zm10 0h2v2h-2zm27 0h2v2h-2zm-215 1h2v2h-2zm14 0h2v2h-2zm1 0h2v2h-2zm8 0h2v2h-2zm9 0h2v2h-2zm1 0h2v2h-2zm5 0h2v2h-2zm1 0h2v2h-2zm20 0h2v2h-2zm31 0h2v2h-2zm16 0h2v2h-2zm18 0h2v2h-2zm169 0h2v2h-2zm-300 1h2v2h-2zm11 0h2v2h-2zm6 0h2v2h-2zm12 0h2v2h-2zm7 0h2v2h-2zm6 0h2v2h-2zm11 0h2v2h-2zm3 0h2v2h-2zm1 0h2v2h-2zm3 0h2v2h-2zm2 0h2v2h-2zm17 0h2v2h-2zm5 0h2v2h-2zm35 0h2v2h-2zm6 0h2v2h-2zm59 0h2v2h-2zm1 0h2v2h-2zm13 0h2v2h-2zm-167 1h2v2h-2zm7 0h2v2h-2zm6 0h2v2h-2zm11 0h2v2h-2zm2 0h2v2h-2zm6 0h2v2h-2zm3 0h2v2h-2zm65 0h2v2h-2zm-122 1h2v2h-2zm8 0h2v2h-2zm7 0h2v2h-2zm1 0h2v2h-2zm3 0h2v2h-2zm1 0h2v2h-2zm5 0h2v2h-2zm1 0h2v2h-2zm1 0h2v2h-2zm1 0h2v2h-2zm2 0h2v2h-2zm10 0h2v2h-2zm15 0h2v2h-2zm4 0h2v2h-2zm11 0h2v2h-2zm1 0h2v2h-2zm2 0h2v2h-2zm11 0h2v2h-2zm11 0h2v2h-2zm16 0h2v2h-2zm5 0h2v2h-2zm68 0h2v2h-2zm-170 1h2v2h-2zm1 0h2v2h-2zm12 0h2v2h-2zm15 0h2v2h-2zm1 0h2v2h-2zm5 0h2v2h-2zm4 0h2v2h-2zm123 0h2v2h-2zm4 0h2v2h-2zm10 0h2v2h-2zm-159 1h2v2h-2zm2 0h2v2h-2zm6 0h2v2h-2zm7 0h2v2h-2zm2 0h2v2h-2zm2 0h2v2h-2zm22 0h2v2h-2zm19 0h2v2h-2zm38 0h2v2h-2zm45 0h2v2h-2zm8 0h2v2h-2zm-163 1h2v2h-2zm7 0h2v2h-2zm2 0h2v2h-2zm9 0h2v2h-2zm3 0h2v2h-2zm16 0h2v2h-2zm2 0h2v2h-2zm4 0h2v2h-2zm12 0h2v2h-2zm1 0h2v2h-2zm3 0h2v2h-2zm6 0h2v2h-2zm45 0h2v2h-2zm52 0h2v2h-2zm20 0h2v2h-2zm5 0h2v2h-2zm-217 1h2v2h-2zm17 0h2v2h-2zm5 0h2v2h-2zm2 0h2v2h-2zm8 0h2v2h-2zm10 0h2v2h-2zm3 0h2v2h-2zm3 0h2v2h-2zm1 0h2v2h-2zm1 0h2v2h-2zm6 0h2v2h-2zm5 0h2v2h-2zm2 0h2v2h-2zm5 0h2v2h-2zm2 0h2v2h-2zm7 0h2v2h-2zm1 0h2v2h-2zm6 0h2v2h-2zm24 0h2v2h-2zm8 0h2v2h-2zm13 0h2v2h-2zm2 0h2v2h-2zm5 0h2v2h-2zm1 0h2v2h-2zm-124 1h2v2h-2zm7 0h2v2h-2zm8 0h2v2h-2zm4 0h2v2h-2zm10 0h2v2h-2zm1 0h2v2h-2zm15 0h2v2h-2zm1 0h2v2h-2zm5 0h2v2h-2zm31 0h2v2h-2zm26 0h2v2h-2zm4 0h2v2h-2zm14 0h2v2h-2zm3 0h2v2h-2zm49 0h2v2h-2zm6 0h2v2h-2zm1 0h2v2h-2zm-200 1h2v2h-2zm19 0h2v2h-2zm6 0h2v2h-2zm6 0h2v2h-2zm20 0h2v2h-2zm2 0h2v2h-2zm5 0h2v2h-2zm10 0h2v2h-2zm11 0h2v2h-2zm9 0h2v2h-2zm53 0h2v2h-2zm1 0h2v2h-2zm1 0h2v2h-2zm44 0h2v2h-2zm8 0h2v2h-2zm3 0h2v2h-2zm3 0h2v2h-2zm6 0h2v2h-2zm-159 1h2v2h-2zm1 0h2v2h-2zm1 0h2v2h-2zm30 0h2v2h-2zm4 0h2v2h-2zm6 0h2v2h-2zm1 0h2v2h-2zm6 0h2v2h-2zm8 0h2v2h-2zm21 0h2v2h-2zm2 0h2v2h-2zm15 0h2v2h-2zm52 0h2v2h-2zm-177 1h2v2h-2zm13 0h2v2h-2zm10 0h2v2h-2zm1 0h2v2h-2zm13 0h2v2h-2zm3 0h2v2h-2zm4 0h2v2h-2zm18 0h2v2h-2zm4 0h2v2h-2zm3 0h2v2h-2zm7 0h2v2h-2zm11 0h2v2h-2zm17 0h2v2h-2zm18 0h2v2h-2zm6 0h2v2h-2zm44 0h2v2h-2zm3 0h2v2h-2zm8 0h2v2h-2zm3 0h2v2h-2zm142 0h2v2h-2zm-311 1h2v2h-2zm3 0h2v2h-2zm7 0h2v2h-2zm3 0h2v2h-2zm23 0h2v2h-2zm6 0h2v2h-2zm1 0h2v2h-2zm4 0h2v2h-2zm46 0h2v2h-2zm3 0h2v2h-2zm62 0h2v2h-2zm11 0h2v2h-2zm-174 1h2v2h-2zm11 0h2v2h-2zm2 0h2v2h-2zm2 0h2v2h-2zm2 0h2v2h-2zm1 0h2v2h-2zm5 0h2v2h-2zm5 0h2v2h-2zm5 0h2v2h-2zm11 0h2v2h-2zm6 0h2v2h-2zm1 0h2v2h-2zm1 0h2v2h-2zm8 0h2v2h-2zm9 0h2v2h-2zm19 0h2v2h-2zm8 0h2v2h-2zm19 0h2v2h-2zm52 0h2v2h-2zm-169 1h2v2h-2zm20 0h2v2h-2zm3 0h2v2h-2zm2 0h2v2h-2zm3 0h2v2h-2zm2 0h2v2h-2zm4 0h2v2h-2zm1 0h2v2h-2zm7 0h2v2h-2zm12 0h2v2h-2zm14 0h2v2h-2zm8 0h2v2h-2zm25 0h2v2h-2zm9 0h2v2h-2zm2 0h2v2h-2zm2 0h2v2h-2zm43 0h2v2h-2zm5 0h2v2h-2zm39 0h2v2h-2zm-224 1h2v2h-2zm2 0h2v2h-2zm12 0h2v2h-2zm17 0h2v2h-2zm14 0h2v2h-2zm1 0h2v2h-2zm2 0h2v2h-2zm8 0h2v2h-2zm1 0h2v2h-2zm5 0h2v2h-2zm5 0h2v2h-2zm7 0h2v2h-2zm6 0h2v2h-2zm5 0h2v2h-2zm2 0h2v2h-2zm3 0h2v2h-2zm22 0h2v2h-2zm15 0h2v2h-2zm2 0h2v2h-2zm9 0h2v2h-2zm44 0h2v2h-2zm6 0h2v2h-2zm-175 1h2v2h-2zm21 0h2v2h-2zm2 0h2v2h-2zm2 0h2v2h-2zm2 0h2v2h-2zm1 0h2v2h-2zm2 0h2v2h-2zm7 0h2v2h-2zm4 0h2v2h-2zm2 0h2v2h-2zm3 0h2v2h-2zm19 0h2v2h-2zm4 0h2v2h-2zm6 0h2v2h-2zm2 0h2v2h-2zm23 0h2v2h-2zm4 0h2v2h-2zm13 0h2v2h-2zm7 0h2v2h-2zm2 0h2v2h-2zm3 0h2v2h-2zm37 0h2v2h-2zm36 0h2v2h-2zm-208 1h2v2h-2zm6 0h2v2h-2zm3 0h2v2h-2zm33 0h2v2h-2zm6 0h2v2h-2zm3 0h2v2h-2zm1 0h2v2h-2zm1 0h2v2h-2zm8 0h2v2h-2zm7 0h2v2h-2zm14 0h2v2h-2zm14 0h2v2h-2zm9 0h2v2h-2zm8 0h2v2h-2zm10 0h2v2h-2zm12 0h2v2h-2zm39 0h2v2h-2zm5 0h2v2h-2zm1 0h2v2h-2zm3 0h2v2h-2zm5 0h2v2h-2zm2 0h2v2h-2zm157 0h2v2h-2zm-334 1h2v2h-2zm2 0h2v2h-2zm22 0h2v2h-2zm10 0h2v2h-2zm1 0h2v2h-2zm2 0h2v2h-2zm7 0h2v2h-2zm15 0h2v2h-2zm2 0h2v2h-2zm15 0h2v2h-2zm29 0h2v2h-2zm1 0h2v2h-2zm3 0h2v2h-2zm4 0h2v2h-2zm2 0h2v2h-2zm1 0h2v2h-2zm4 0h2v2h-2zm1 0h2v2h-2zm38 0h2v2h-2zm4 0h2v2h-2zm1 0h2v2h-2zm-180 1h2v2h-2zm7 0h2v2h-2zm2 0h2v2h-2zm25 0h2v2h-2zm2 0h2v2h-2zm9 0h2v2h-2zm3 0h2v2h-2zm8 0h2v2h-2zm1 0h2v2h-2zm18 0h2v2h-2zm14 0h2v2h-2zm7 0h2v2h-2zm9 0h2v2h-2zm12 0h2v2h-2zm10 0h2v2h-2zm5 0h2v2h-2zm2 0h2v2h-2zm6 0h2v2h-2zm3 0h2v2h-2zm1 0h2v2h-2zm38 0h2v2h-2zm15 0h2v2h-2zm-193 1h2v2h-2zm28 0h2v2h-2zm1 0h2v2h-2zm2 0h2v2h-2zm12 0h2v2h-2zm13 0h2v2h-2zm13 0h2v2h-2zm3 0h2v2h-2zm2 0h2v2h-2zm8 0h2v2h-2zm4 0h2v2h-2zm3 0h2v2h-2zm14 0h2v2h-2zm17 0h2v2h-2zm6 0h2v2h-2zm5 0h2v2h-2zm1 0h2v2h-2zm5 0h2v2h-2zm3 0h2v2h-2zm41 0h2v2h-2zm1 0h2v2h-2zm2 0h2v2h-2zm-179 1h2v2h-2zm11 0h2v2h-2zm8 0h2v2h-2zm6 0h2v2h-2zm9 0h2v2h-2zm1 0h2v2h-2zm1 0h2v2h-2zm9 0h2v2h-2zm2 0h2v2h-2zm1 0h2v2h-2zm4 0h2v2h-2zm2 0h2v2h-2zm1 0h2v2h-2zm2 0h2v2h-2zm9 0h2v2h-2zm59 0h2v2h-2zm3 0h2v2h-2zm1 0h2v2h-2zm2 0h2v2h-2zm29 0h2v2h-2zm4 0h2v2h-2zm11 0h2v2h-2zm-174 1h2v2h-2zm16 0h2v2h-2zm4 0h2v2h-2zm5 0h2v2h-2zm6 0h2v2h-2zm3 0h2v2h-2zm1 0h2v2h-2zm6 0h2v2h-2zm7 0h2v2h-2zm6 0h2v2h-2zm11 0h2v2h-2zm12 0h2v2h-2zm3 0h2v2h-2zm20 0h2v2h-2zm21 0h2v2h-2zm3 0h2v2h-2zm3 0h2v2h-2zm3 0h2v2h-2zm7 0h2v2h-2zm2 0h2v2h-2zm26 0h2v2h-2zm2 0h2v2h-2zm1 0h2v2h-2zm1 0h2v2h-2zm5 0h2v2h-2zm9 0h2v2h-2zm-182 1h2v2h-2zm19 0h2v2h-2zm5 0h2v2h-2zm6 0h2v2h-2zm1 0h2v2h-2zm6 0h2v2h-2zm2 0h2v2h-2zm1 0h2v2h-2zm2 0h2v2h-2zm1 0h2v2h-2zm2 0h2v2h-2zm5 0h2v2h-2zm6 0h2v2h-2zm17 0h2v2h-2zm10 0h2v2h-2zm2 0h2v2h-2zm24 0h2v2h-2zm4 0h2v2h-2zm1 0h2v2h-2zm7 0h2v2h-2zm3 0h2v2h-2zm3 0h2v2h-2zm5 0h2v2h-2zm4 0h2v2h-2zm1 0h2v2h-2zm3 0h2v2h-2zm1 0h2v2h-2zm19 0h2v2h-2zm1 0h2v2h-2zm2 0h2v2h-2zm1 0h2v2h-2zm3 0h2v2h-2zm6 0h2v2h-2zm4 0h2v2h-2zm-195 1h2v2h-2zm12 0h2v2h-2zm5 0h2v2h-2zm1 0h2v2h-2zm11 0h2v2h-2zm2 0h2v2h-2zm5 0h2v2h-2zm5 0h2v2h-2zm8 0h2v2h-2zm7 0h2v2h-2zm7 0h2v2h-2zm2 0h2v2h-2zm6 0h2v2h-2zm4 0h2v2h-2zm5 0h2v2h-2zm8 0h2v2h-2zm6 0h2v2h-2zm1 0h2v2h-2zm26 0h2v2h-2zm15 0h2v2h-2zm2 0h2v2h-2zm4 0h2v2h-2zm1 0h2v2h-2zm1 0h2v2h-2zm1 0h2v2h-2zm4 0h2v2h-2zm6 0h2v2h-2zm4 0h2v2h-2zm4 0h2v2h-2zm2 0h2v2h-2zm1 0h2v2h-2zm1 0h2v2h-2zm7 0h2v2h-2zm1 0h2v2h-2zm2 0h2v2h-2zm3 0h2v2h-2zm1 0h2v2h-2zm5 0h2v2h-2zm5 0h2v2h-2zm-180 1h2v2h-2zm7 0h2v2h-2zm6 0h2v2h-2zm4 0h2v2h-2zm4 0h2v2h-2zm11 0h2v2h-2zm1 0h2v2h-2zm1 0h2v2h-2zm3 0h2v2h-2zm1 0h2v2h-2zm6 0h2v2h-2zm18 0h2v2h-2zm19 0h2v2h-2zm25 0h2v2h-2zm13 0h2v2h-2zm1 0h2v2h-2zm1 0h2v2h-2zm3 0h2v2h-2zm2 0h2v2h-2zm3 0h2v2h-2zm7 0h2v2h-2zm6 0h2v2h-2zm1 0h2v2h-2zm2 0h2v2h-2zm6 0h2v2h-2zm3 0h2v2h-2zm5 0h2v2h-2zm3 0h2v2h-2zm15 0h2v2h-2zm1 0h2v2h-2zm1 0h2v2h-2zm5 0h2v2h-2zm12 0h2v2h-2zm-187 1h2v2h-2zm9 0h2v2h-2zm4 0h2v2h-2zm5 0h2v2h-2zm2 0h2v2h-2zm3 0h2v2h-2zm6 0h2v2h-2zm2 0h2v2h-2zm2 0h2v2h-2zm2 0h2v2h-2zm2 0h2v2h-2zm4 0h2v2h-2zm3 0h2v2h-2zm19 0h2v2h-2zm4 0h2v2h-2zm10 0h2v2h-2zm1 0h2v2h-2zm29 0h2v2h-2zm3 0h2v2h-2zm12 0h2v2h-2zm3 0h2v2h-2zm3 0h2v2h-2zm3 0h2v2h-2zm2 0h2v2h-2zm1 0h2v2h-2zm2 0h2v2h-2zm2 0h2v2h-2zm13 0h2v2h-2zm2 0h2v2h-2zm6 0h2v2h-2zm8 0h2v2h-2zm-164 1h2v2h-2zm1 0h2v2h-2zm5 0h2v2h-2zm7 0h2v2h-2zm7 0h2v2h-2zm16 0h2v2h-2zm2 0h2v2h-2zm6 0h2v2h-2zm6 0h2v2h-2zm1 0h2v2h-2zm2 0h2v2h-2zm8 0h2v2h-2zm8 0h2v2h-2zm29 0h2v2h-2zm10 0h2v2h-2zm7 0h2v2h-2zm9 0h2v2h-2zm2 0h2v2h-2zm3 0h2v2h-2zm1 0h2v2h-2zm3 0h2v2h-2zm3 0h2v2h-2zm2 0h2v2h-2zm1 0h2v2h-2zm1 0h2v2h-2zm1 0h2v2h-2zm4 0h2v2h-2zm2 0h2v2h-2zm4 0h2v2h-2zm3 0h2v2h-2zm2 0h2v2h-2zm2 0h2v2h-2zm4 0h2v2h-2zm1 0h2v2h-2zm3 0h2v2h-2zm32 0h2v2h-2zm7 0h2v2h-2zm-226 1h2v2h-2zm1 0h2v2h-2zm1 0h2v2h-2zm10 0h2v2h-2zm15 0h2v2h-2zm1 0h2v2h-2zm6 0h2v2h-2zm1 0h2v2h-2zm8 0h2v2h-2zm1 0h2v2h-2zm1 0h2v2h-2zm1 0h2v2h-2zm8 0h2v2h-2zm7 0h2v2h-2zm4 0h2v2h-2zm15 0h2v2h-2zm7 0h2v2h-2zm5 0h2v2h-2zm9 0h2v2h-2zm33 0h2v2h-2zm6 0h2v2h-2zm3 0h2v2h-2zm1 0h2v2h-2zm4 0h2v2h-2zm2 0h2v2h-2zm4 0h2v2h-2zm2 0h2v2h-2zm6 0h2v2h-2zm2 0h2v2h-2zm2 0h2v2h-2zm4 0h2v2h-2zm2 0h2v2h-2zm4 0h2v2h-2zm1 0h2v2h-2zm4 0h2v2h-2zm4 0h2v2h-2zm1 0h2v2h-2zm1 0h2v2h-2zm3 0h2v2h-2zm25 0h2v2h-2zm-213 1h2v2h-2zm31 0h2v2h-2zm1 0h2v2h-2zm8 0h2v2h-2zm4 0h2v2h-2zm12 0h2v2h-2zm3 0h2v2h-2zm70 0h2v2h-2zm4 0h2v2h-2zm5 0h2v2h-2zm2 0h2v2h-2zm4 0h2v2h-2zm2 0h2v2h-2zm2 0h2v2h-2zm3 0h2v2h-2zm1 0h2v2h-2zm3 0h2v2h-2zm3 0h2v2h-2zm5 0h2v2h-2zm1 0h2v2h-2zm5 0h2v2h-2zm5 0h2v2h-2zm4 0h2v2h-2zm1 0h2v2h-2zm2 0h2v2h-2zm-154 1h2v2h-2zm17 0h2v2h-2zm8 0h2v2h-2zm1 0h2v2h-2zm3 0h2v2h-2zm9 0h2v2h-2zm1 0h2v2h-2zm2 0h2v2h-2zm4 0h2v2h-2zm6 0h2v2h-2zm7 0h2v2h-2zm3 0h2v2h-2zm28 0h2v2h-2zm1 0h2v2h-2zm12 0h2v2h-2zm7 0h2v2h-2zm1 0h2v2h-2zm4 0h2v2h-2zm5 0h2v2h-2zm1 0h2v2h-2zm1 0h2v2h-2zm5 0h2v2h-2zm1 0h2v2h-2zm3 0h2v2h-2zm4 0h2v2h-2zm3 0h2v2h-2zm2 0h2v2h-2zm2 0h2v2h-2zm8 0h2v2h-2zm1 0h2v2h-2zm2 0h2v2h-2zm7 0h2v2h-2zm-184 1h2v2h-2zm19 0h2v2h-2zm6 0h2v2h-2zm2 0h2v2h-2zm1 0h2v2h-2zm10 0h2v2h-2zm5 0h2v2h-2zm2 0h2v2h-2zm7 0h2v2h-2zm1 0h2v2h-2zm9 0h2v2h-2zm3 0h2v2h-2zm1 0h2v2h-2zm2 0h2v2h-2zm4 0h2v2h-2zm1 0h2v2h-2zm7 0h2v2h-2zm8 0h2v2h-2zm1 0h2v2h-2zm6 0h2v2h-2zm3 0h2v2h-2zm15 0h2v2h-2zm5 0h2v2h-2zm2 0h2v2h-2zm1 0h2v2h-2zm9 0h2v2h-2zm4 0h2v2h-2zm1 0h2v2h-2zm6 0h2v2h-2zm5 0h2v2h-2zm6 0h2v2h-2zm5 0h2v2h-2zm1 0h2v2h-2zm3 0h2v2h-2zm4 0h2v2h-2zm1 0h2v2h-2zm2 0h2v2h-2zm7 0h2v2h-2zm9 0h2v2h-2zm4 0h2v2h-2zm1 0h2v2h-2zm6 0h2v2h-2zm-200 1h2v2h-2zm7 0h2v2h-2zm2 0h2v2h-2zm14 0h2v2h-2zm5 0h2v2h-2zm7 0h2v2h-2zm1 0h2v2h-2zm8 0h2v2h-2zm1 0h2v2h-2zm5 0h2v2h-2zm1 0h2v2h-2zm1 0h2v2h-2zm1 0h2v2h-2zm2 0h2v2h-2zm2 0h2v2h-2zm10 0h2v2h-2zm3 0h2v2h-2zm1 0h2v2h-2zm20 0h2v2h-2zm2 0h2v2h-2zm7 0h2v2h-2zm5 0h2v2h-2zm10 0h2v2h-2zm13 0h2v2h-2zm4 0h2v2h-2zm3 0h2v2h-2zm4 0h2v2h-2zm1 0h2v2h-2zm6 0h2v2h-2zm9 0h2v2h-2zm1 0h2v2h-2zm5 0h2v2h-2zm3 0h2v2h-2zm1 0h2v2h-2zm2 0h2v2h-2zm4 0h2v2h-2zm6 0h2v2h-2zm3 0h2v2h-2zm2 0h2v2h-2zm1 0h2v2h-2zm2 0h2v2h-2zm2 0h2v2h-2zm1 0h2v2h-2zm-191 1h2v2h-2zm2 0h2v2h-2zm4 0h2v2h-2zm23 0h2v2h-2zm17 0h2v2h-2zm2 0h2v2h-2zm2 0h2v2h-2zm8 0h2v2h-2zm2 0h2v2h-2zm2 0h2v2h-2zm3 0h2v2h-2zm2 0h2v2h-2zm8 0h2v2h-2zm8 0h2v2h-2zm13 0h2v2h-2zm4 0h2v2h-2zm6 0h2v2h-2zm18 0h2v2h-2zm1 0h2v2h-2zm11 0h2v2h-2zm2 0h2v2h-2zm1 0h2v2h-2zm6 0h2v2h-2zm2 0h2v2h-2zm1 0h2v2h-2zm4 0h2v2h-2zm3 0h2v2h-2zm1 0h2v2h-2zm4 0h2v2h-2zm4 0h2v2h-2zm3 0h2v2h-2zm1 0h2v2h-2zm1 0h2v2h-2zm4 0h2v2h-2zm6 0h2v2h-2zm8 0h2v2h-2zm3 0h2v2h-2zm3 0h2v2h-2zm1 0h2v2h-2zm9 0h2v2h-2zm19 0h2v2h-2zm-200 1h2v2h-2zm3 0h2v2h-2zm1 0h2v2h-2zm8 0h2v2h-2zm15 0h2v2h-2zm1 0h2v2h-2zm2 0h2v2h-2zm1 0h2v2h-2zm9 0h2v2h-2zm4 0h2v2h-2zm1 0h2v2h-2zm1 0h2v2h-2zm5 0h2v2h-2zm3 0h2v2h-2zm3 0h2v2h-2zm1 0h2v2h-2zm6 0h2v2h-2zm8 0h2v2h-2zm6 0h2v2h-2zm2 0h2v2h-2zm9 0h2v2h-2zm3 0h2v2h-2zm4 0h2v2h-2zm3 0h2v2h-2zm1 0h2v2h-2zm11 0h2v2h-2zm2 0h2v2h-2zm1 0h2v2h-2zm1 0h2v2h-2zm4 0h2v2h-2zm5 0h2v2h-2zm3 0h2v2h-2zm1 0h2v2h-2zm1 0h2v2h-2zm1 0h2v2h-2zm2 0h2v2h-2zm4 0h2v2h-2zm1 0h2v2h-2zm1 0h2v2h-2zm3 0h2v2h-2zm6 0h2v2h-2zm3 0h2v2h-2zm3 0h2v2h-2zm6 0h2v2h-2zm1 0h2v2h-2zm1 0h2v2h-2zm22 0h2v2h-2zm-177 1h2v2h-2zm4 0h2v2h-2zm5 0h2v2h-2zm14 0h2v2h-2zm2 0h2v2h-2zm18 0h2v2h-2zm7 0h2v2h-2zm13 0h2v2h-2zm1 0h2v2h-2zm3 0h2v2h-2zm25 0h2v2h-2zm1 0h2v2h-2zm6 0h2v2h-2zm13 0h2v2h-2zm3 0h2v2h-2zm1 0h2v2h-2zm4 0h2v2h-2zm3 0h2v2h-2zm3 0h2v2h-2zm1 0h2v2h-2zm2 0h2v2h-2zm4 0h2v2h-2zm2 0h2v2h-2zm3 0h2v2h-2zm2 0h2v2h-2zm1 0h2v2h-2zm2 0h2v2h-2zm2 0h2v2h-2zm1 0h2v2h-2zm2 0h2v2h-2zm4 0h2v2h-2zm1 0h2v2h-2zm1 0h2v2h-2zm4 0h2v2h-2zm3 0h2v2h-2zm2 0h2v2h-2zm5 0h2v2h-2zm6 0h2v2h-2zm2 0h2v2h-2zm2 0h2v2h-2zm-199 1h2v2h-2zm18 0h2v2h-2zm2 0h2v2h-2zm7 0h2v2h-2zm8 0h2v2h-2zm14 0h2v2h-2zm48 0h2v2h-2zm6 0h2v2h-2zm4 0h2v2h-2zm15 0h2v2h-2zm2 0h2v2h-2zm9 0h2v2h-2zm8 0h2v2h-2zm2 0h2v2h-2zm3 0h2v2h-2zm2 0h2v2h-2zm2 0h2v2h-2zm2 0h2v2h-2zm7 0h2v2h-2zm1 0h2v2h-2zm1 0h2v2h-2zm2 0h2v2h-2zm2 0h2v2h-2zm4 0h2v2h-2zm6 0h2v2h-2zm2 0h2v2h-2zm4 0h2v2h-2zm6 0h2v2h-2zm1 0h2v2h-2zm-178 1h2v2h-2zm26 0h2v2h-2zm16 0h2v2h-2zm8 0h2v2h-2zm10 0h2v2h-2zm15 0h2v2h-2zm13 0h2v2h-2zm4 0h2v2h-2zm9 0h2v2h-2zm4 0h2v2h-2zm7 0h2v2h-2zm12 0h2v2h-2zm7 0h2v2h-2zm4 0h2v2h-2zm2 0h2v2h-2zm1 0h2v2h-2zm1 0h2v2h-2zm3 0h2v2h-2zm2 0h2v2h-2zm1 0h2v2h-2zm3 0h2v2h-2zm2 0h2v2h-2zm3 0h2v2h-2zm1 0h2v2h-2zm4 0h2v2h-2zm3 0h2v2h-2zm1 0h2v2h-2zm1 0h2v2h-2zm5 0h2v2h-2zm1 0h2v2h-2zm3 0h2v2h-2zm37 0h2v2h-2zm-220 1h2v2h-2zm12 0h2v2h-2zm6 0h2v2h-2zm16 0h2v2h-2zm6 0h2v2h-2zm1 0h2v2h-2zm3 0h2v2h-2zm9 0h2v2h-2zm3 0h2v2h-2zm7 0h2v2h-2zm9 0h2v2h-2zm3 0h2v2h-2zm2 0h2v2h-2zm17 0h2v2h-2zm15 0h2v2h-2zm7 0h2v2h-2zm2 0h2v2h-2zm14 0h2v2h-2zm4 0h2v2h-2zm6 0h2v2h-2zm2 0h2v2h-2zm1 0h2v2h-2zm1 0h2v2h-2zm4 0h2v2h-2zm2 0h2v2h-2zm1 0h2v2h-2zm2 0h2v2h-2zm5 0h2v2h-2zm4 0h2v2h-2zm1 0h2v2h-2zm1 0h2v2h-2zm2 0h2v2h-2zm2 0h2v2h-2zm3 0h2v2h-2zm2 0h2v2h-2zm1 0h2v2h-2zm1 0h2v2h-2zm2 0h2v2h-2zm1 0h2v2h-2zm2 0h2v2h-2zm8 0h2v2h-2zm3 0h2v2h-2zm-180 1h2v2h-2zm27 0h2v2h-2zm2 0h2v2h-2zm4 0h2v2h-2zm2 0h2v2h-2zm22 0h2v2h-2zm6 0h2v2h-2zm1 0h2v2h-2zm7 0h2v2h-2zm12 0h2v2h-2zm3 0h2v2h-2zm23 0h2v2h-2zm8 0h2v2h-2zm11 0h2v2h-2zm6 0h2v2h-2zm1 0h2v2h-2zm1 0h2v2h-2zm1 0h2v2h-2zm2 0h2v2h-2zm3 0h2v2h-2zm1 0h2v2h-2zm1 0h2v2h-2zm2 0h2v2h-2zm5 0h2v2h-2zm2 0h2v2h-2zm1 0h2v2h-2zm1 0h2v2h-2zm1 0h2v2h-2zm5 0h2v2h-2zm2 0h2v2h-2zm-176 1h2v2h-2zm20 0h2v2h-2zm6 0h2v2h-2zm12 0h2v2h-2zm3 0h2v2h-2zm6 0h2v2h-2zm1 0h2v2h-2zm12 0h2v2h-2zm5 0h2v2h-2zm10 0h2v2h-2zm7 0h2v2h-2zm11 0h2v2h-2zm3 0h2v2h-2zm18 0h2v2h-2zm1 0h2v2h-2zm1 0h2v2h-2zm15 0h2v2h-2zm5 0h2v2h-2zm7 0h2v2h-2zm2 0h2v2h-2zm6 0h2v2h-2zm1 0h2v2h-2zm6 0h2v2h-2zm4 0h2v2h-2zm4 0h2v2h-2zm2 0h2v2h-2zm1 0h2v2h-2zm5 0h2v2h-2zm2 0h2v2h-2zm1 0h2v2h-2zm7 0h2v2h-2zm2 0h2v2h-2zm1 0h2v2h-2zm16 0h2v2h-2zm-174 1h2v2h-2zm6 0h2v2h-2zm3 0h2v2h-2zm3 0h2v2h-2zm2 0h2v2h-2zm8 0h2v2h-2zm16 0h2v2h-2zm6 0h2v2h-2zm1 0h2v2h-2zm1 0h2v2h-2zm9 0h2v2h-2zm10 0h2v2h-2zm3 0h2v2h-2zm10 0h2v2h-2zm22 0h2v2h-2zm1 0h2v2h-2zm2 0h2v2h-2zm6 0h2v2h-2zm3 0h2v2h-2zm1 0h2v2h-2zm1 0h2v2h-2zm1 0h2v2h-2zm2 0h2v2h-2zm4 0h2v2h-2zm2 0h2v2h-2zm1 0h2v2h-2zm1 0h2v2h-2zm4 0h2v2h-2zm5 0h2v2h-2zm3 0h2v2h-2zm12 0h2v2h-2zm-168 1h2v2h-2zm6 0h2v2h-2zm13 0h2v2h-2zm14 0h2v2h-2zm2 0h2v2h-2zm3 0h2v2h-2zm3 0h2v2h-2zm1 0h2v2h-2zm2 0h2v2h-2zm5 0h2v2h-2zm1 0h2v2h-2zm5 0h2v2h-2zm6 0h2v2h-2zm1 0h2v2h-2zm5 0h2v2h-2zm4 0h2v2h-2zm6 0h2v2h-2zm1 0h2v2h-2zm7 0h2v2h-2zm21 0h2v2h-2zm1 0h2v2h-2zm6 0h2v2h-2zm2 0h2v2h-2zm1 0h2v2h-2zm9 0h2v2h-2zm1 0h2v2h-2zm6 0h2v2h-2zm4 0h2v2h-2zm2 0h2v2h-2zm2 0h2v2h-2zm1 0h2v2h-2zm5 0h2v2h-2zm2 0h2v2h-2zm1 0h2v2h-2zm1 0h2v2h-2zm3 0h2v2h-2zm5 0h2v2h-2zm5 0h2v2h-2zm4 0h2v2h-2zm2 0h2v2h-2zm15 0h2v2h-2zm-201 1h2v2h-2zm17 0h2v2h-2zm13 0h2v2h-2zm9 0h2v2h-2zm4 0h2v2h-2zm8 0h2v2h-2zm11 0h2v2h-2zm6 0h2v2h-2zm4 0h2v2h-2zm6 0h2v2h-2zm10 0h2v2h-2zm3 0h2v2h-2zm12 0h2v2h-2zm10 0h2v2h-2zm7 0h2v2h-2zm28 0h2v2h-2zm5 0h2v2h-2zm2 0h2v2h-2zm1 0h2v2h-2zm2 0h2v2h-2zm1 0h2v2h-2zm1 0h2v2h-2zm8 0h2v2h-2zm1 0h2v2h-2zm2 0h2v2h-2zm3 0h2v2h-2zm2 0h2v2h-2zm1 0h2v2h-2zm3 0h2v2h-2zm3 0h2v2h-2zm2 0h2v2h-2zm1 0h2v2h-2zm2 0h2v2h-2zm2 0h2v2h-2zm3 0h2v2h-2zm2 0h2v2h-2zm-192 1h2v2h-2zm34 0h2v2h-2zm4 0h2v2h-2zm4 0h2v2h-2zm6 0h2v2h-2zm4 0h2v2h-2zm15 0h2v2h-2zm9 0h2v2h-2zm2 0h2v2h-2zm4 0h2v2h-2zm9 0h2v2h-2zm42 0h2v2h-2zm1 0h2v2h-2zm3 0h2v2h-2zm10 0h2v2h-2zm1 0h2v2h-2zm1 0h2v2h-2zm1 0h2v2h-2zm4 0h2v2h-2zm1 0h2v2h-2zm7 0h2v2h-2zm4 0h2v2h-2zm2 0h2v2h-2zm2 0h2v2h-2zm3 0h2v2h-2zm6 0h2v2h-2zm5 0h2v2h-2zm3 0h2v2h-2zm11 0h2v2h-2zm19 0h2v2h-2zm-194 1h2v2h-2zm6 0h2v2h-2zm4 0h2v2h-2zm4 0h2v2h-2zm5 0h2v2h-2zm3 0h2v2h-2zm8 0h2v2h-2zm6 0h2v2h-2zm2 0h2v2h-2zm11 0h2v2h-2zm19 0h2v2h-2zm1 0h2v2h-2zm13 0h2v2h-2zm1 0h2v2h-2zm26 0h2v2h-2zm16 0h2v2h-2zm3 0h2v2h-2zm4 0h2v2h-2zm3 0h2v2h-2zm1 0h2v2h-2zm2 0h2v2h-2zm2 0h2v2h-2zm1 0h2v2h-2zm2 0h2v2h-2zm5 0h2v2h-2zm2 0h2v2h-2zm1 0h2v2h-2zm1 0h2v2h-2zm6 0h2v2h-2zm4 0h2v2h-2zm1 0h2v2h-2zm23 0h2v2h-2zm-186 1h2v2h-2zm2 0h2v2h-2zm1 0h2v2h-2zm4 0h2v2h-2zm3 0h2v2h-2zm11 0h2v2h-2zm6 0h2v2h-2zm2 0h2v2h-2zm10 0h2v2h-2zm6 0h2v2h-2zm12 0h2v2h-2zm6 0h2v2h-2zm15 0h2v2h-2zm12 0h2v2h-2zm14 0h2v2h-2zm9 0h2v2h-2zm8 0h2v2h-2zm1 0h2v2h-2zm1 0h2v2h-2zm7 0h2v2h-2zm3 0h2v2h-2zm2 0h2v2h-2zm5 0h2v2h-2zm4 0h2v2h-2zm4 0h2v2h-2zm3 0h2v2h-2zm3 0h2v2h-2zm2 0h2v2h-2zm3 0h2v2h-2zm1 0h2v2h-2zm1 0h2v2h-2zm5 0h2v2h-2zm14 0h2v2h-2zm7 0h2v2h-2zm-193 1h2v2h-2zm7 0h2v2h-2zm6 0h2v2h-2zm11 0h2v2h-2zm5 0h2v2h-2zm1 0h2v2h-2zm2 0h2v2h-2zm2 0h2v2h-2zm4 0h2v2h-2zm4 0h2v2h-2zm5 0h2v2h-2zm2 0h2v2h-2zm6 0h2v2h-2zm16 0h2v2h-2zm1 0h2v2h-2zm15 0h2v2h-2zm11 0h2v2h-2zm19 0h2v2h-2zm8 0h2v2h-2zm2 0h2v2h-2zm5 0h2v2h-2zm2 0h2v2h-2zm3 0h2v2h-2zm2 0h2v2h-2zm1 0h2v2h-2zm1 0h2v2h-2zm1 0h2v2h-2zm4 0h2v2h-2zm3 0h2v2h-2zm4 0h2v2h-2zm1 0h2v2h-2zm3 0h2v2h-2zm2 0h2v2h-2zm1 0h2v2h-2zm3 0h2v2h-2zm12 0h2v2h-2zm5 0h2v2h-2zm22 0h2v2h-2zm-191 1h2v2h-2zm8 0h2v2h-2zm3 0h2v2h-2zm1 0h2v2h-2zm1 0h2v2h-2zm2 0h2v2h-2zm8 0h2v2h-2zm8 0h2v2h-2zm7 0h2v2h-2zm14 0h2v2h-2zm11 0h2v2h-2zm1 0h2v2h-2zm15 0h2v2h-2zm6 0h2v2h-2zm11 0h2v2h-2zm3 0h2v2h-2zm3 0h2v2h-2zm6 0h2v2h-2zm6 0h2v2h-2zm2 0h2v2h-2zm8 0h2v2h-2zm3 0h2v2h-2zm1 0h2v2h-2zm2 0h2v2h-2zm1 0h2v2h-2zm1 0h2v2h-2zm1 0h2v2h-2zm2 0h2v2h-2zm1 0h2v2h-2zm1 0h2v2h-2zm1 0h2v2h-2zm1 0h2v2h-2zm1 0h2v2h-2zm2 0h2v2h-2zm1 0h2v2h-2zm1 0h2v2h-2zm3 0h2v2h-2zm10 0h2v2h-2zm2 0h2v2h-2zm1 0h2v2h-2zm4 0h2v2h-2zm2 0h2v2h-2zm13 0h2v2h-2zm-195 1h2v2h-2zm17 0h2v2h-2zm5 0h2v2h-2zm5 0h2v2h-2zm9 0h2v2h-2zm4 0h2v2h-2zm1 0h2v2h-2zm11 0h2v2h-2zm8 0h2v2h-2zm11 0h2v2h-2zm23 0h2v2h-2zm29 0h2v2h-2zm3 0h2v2h-2zm7 0h2v2h-2zm1 0h2v2h-2zm10 0h2v2h-2zm4 0h2v2h-2zm4 0h2v2h-2zm3 0h2v2h-2zm2 0h2v2h-2zm4 0h2v2h-2zm1 0h2v2h-2zm8 0h2v2h-2zm9 0h2v2h-2zm105 0h2v2h-2zm-263 1h2v2h-2zm1 0h2v2h-2zm1 0h2v2h-2zm6 0h2v2h-2zm10 0h2v2h-2zm5 0h2v2h-2zm4 0h2v2h-2zm38 0h2v2h-2zm1 0h2v2h-2zm12 0h2v2h-2zm7 0h2v2h-2zm11 0h2v2h-2zm1 0h2v2h-2zm2 0h2v2h-2zm1 0h2v2h-2zm6 0h2v2h-2zm3 0h2v2h-2zm3 0h2v2h-2zm4 0h2v2h-2zm7 0h2v2h-2zm1 0h2v2h-2zm1 0h2v2h-2zm1 0h2v2h-2zm3 0h2v2h-2zm2 0h2v2h-2zm1 0h2v2h-2zm1 0h2v2h-2zm4 0h2v2h-2zm6 0h2v2h-2zm2 0h2v2h-2zm3 0h2v2h-2zm3 0h2v2h-2zm1 0h2v2h-2zm7 0h2v2h-2zm10 0h2v2h-2zm-201 1h2v2h-2zm24 0h2v2h-2zm6 0h2v2h-2zm6 0h2v2h-2zm2 0h2v2h-2zm1 0h2v2h-2zm6 0h2v2h-2zm7 0h2v2h-2zm11 0h2v2h-2zm10 0h2v2h-2zm20 0h2v2h-2zm10 0h2v2h-2zm32 0h2v2h-2zm5 0h2v2h-2zm1 0h2v2h-2zm1 0h2v2h-2zm4 0h2v2h-2zm1 0h2v2h-2zm2 0h2v2h-2zm2 0h2v2h-2zm2 0h2v2h-2zm9 0h2v2h-2zm2 0h2v2h-2zm2 0h2v2h-2zm9 0h2v2h-2zm4 0h2v2h-2zm4 0h2v2h-2zm6 0h2v2h-2zm3 0h2v2h-2zm-192 1h2v2h-2zm27 0h2v2h-2zm1 0h2v2h-2zm3 0h2v2h-2zm1 0h2v2h-2zm17 0h2v2h-2zm3 0h2v2h-2zm1 0h2v2h-2zm3 0h2v2h-2zm24 0h2v2h-2zm47 0h2v2h-2zm2 0h2v2h-2zm3 0h2v2h-2zm7 0h2v2h-2zm3 0h2v2h-2zm3 0h2v2h-2zm2 0h2v2h-2zm1 0h2v2h-2zm3 0h2v2h-2zm2 0h2v2h-2zm1 0h2v2h-2zm1 0h2v2h-2zm2 0h2v2h-2zm3 0h2v2h-2zm1 0h2v2h-2zm6 0h2v2h-2zm5 0h2v2h-2zm2 0h2v2h-2zm7 0h2v2h-2zm5 0h2v2h-2zm-169 1h2v2h-2zm1 0h2v2h-2zm16 0h2v2h-2zm10 0h2v2h-2zm2 0h2v2h-2zm9 0h2v2h-2zm8 0h2v2h-2zm2 0h2v2h-2zm1 0h2v2h-2zm7 0h2v2h-2zm4 0h2v2h-2zm8 0h2v2h-2zm5 0h2v2h-2zm5 0h2v2h-2zm2 0h2v2h-2zm43 0h2v2h-2zm1 0h2v2h-2zm5 0h2v2h-2zm5 0h2v2h-2zm3 0h2v2h-2zm1 0h2v2h-2zm2 0h2v2h-2zm4 0h2v2h-2zm3 0h2v2h-2zm9 0h2v2h-2zm10 0h2v2h-2zm20 0h2v2h-2zm-199 1h2v2h-2zm20 0h2v2h-2zm6 0h2v2h-2zm18 0h2v2h-2zm11 0h2v2h-2zm14 0h2v2h-2zm22 0h2v2h-2zm27 0h2v2h-2zm9 0h2v2h-2zm3 0h2v2h-2zm8 0h2v2h-2zm2 0h2v2h-2zm2 0h2v2h-2zm2 0h2v2h-2zm2 0h2v2h-2zm4 0h2v2h-2zm2 0h2v2h-2zm3 0h2v2h-2zm1 0h2v2h-2zm4 0h2v2h-2zm6 0h2v2h-2zm3 0h2v2h-2zm3 0h2v2h-2zm1 0h2v2h-2zm6 0h2v2h-2zm3 0h2v2h-2zm-170 1h2v2h-2zm37 0h2v2h-2zm8 0h2v2h-2zm8 0h2v2h-2zm6 0h2v2h-2zm7 0h2v2h-2zm36 0h2v2h-2zm3 0h2v2h-2zm5 0h2v2h-2zm5 0h2v2h-2zm6 0h2v2h-2zm1 0h2v2h-2zm1 0h2v2h-2zm8 0h2v2h-2zm3 0h2v2h-2zm5 0h2v2h-2zm3 0h2v2h-2zm3 0h2v2h-2zm2 0h2v2h-2zm3 0h2v2h-2zm7 0h2v2h-2zm4 0h2v2h-2zm1 0h2v2h-2zm11 0h2v2h-2zm2 0h2v2h-2zm8 0h2v2h-2zm7 0h2v2h-2zm-189 1h2v2h-2zm1 0h2v2h-2zm8 0h2v2h-2zm8 0h2v2h-2zm1 0h2v2h-2zm9 0h2v2h-2zm3 0h2v2h-2zm2 0h2v2h-2zm10 0h2v2h-2zm3 0h2v2h-2zm6 0h2v2h-2zm4 0h2v2h-2zm1 0h2v2h-2zm19 0h2v2h-2zm1 0h2v2h-2zm1 0h2v2h-2zm28 0h2v2h-2zm10 0h2v2h-2zm3 0h2v2h-2zm4 0h2v2h-2zm2 0h2v2h-2zm2 0h2v2h-2zm4 0h2v2h-2zm2 0h2v2h-2zm1 0h2v2h-2zm1 0h2v2h-2zm1 0h2v2h-2zm2 0h2v2h-2zm2 0h2v2h-2zm7 0h2v2h-2zm1 0h2v2h-2zm1 0h2v2h-2zm2 0h2v2h-2zm1 0h2v2h-2zm2 0h2v2h-2zm2 0h2v2h-2zm2 0h2v2h-2zm7 0h2v2h-2zm3 0h2v2h-2zm24 0h2v2h-2zm5 0h2v2h-2zm-174 1h2v2h-2zm3 0h2v2h-2zm10 0h2v2h-2zm1 0h2v2h-2zm2 0h2v2h-2zm4 0h2v2h-2zm1 0h2v2h-2zm4 0h2v2h-2zm6 0h2v2h-2zm2 0h2v2h-2zm4 0h2v2h-2zm6 0h2v2h-2zm38 0h2v2h-2zm3 0h2v2h-2zm4 0h2v2h-2zm7 0h2v2h-2zm4 0h2v2h-2zm3 0h2v2h-2zm2 0h2v2h-2zm1 0h2v2h-2zm5 0h2v2h-2zm6 0h2v2h-2zm5 0h2v2h-2zm1 0h2v2h-2zm1 0h2v2h-2zm8 0h2v2h-2zm2 0h2v2h-2zm5 0h2v2h-2zm3 0h2v2h-2zm8 0h2v2h-2zm4 0h2v2h-2zm5 0h2v2h-2zm10 0h2v2h-2zm-193 1h2v2h-2zm16 0h2v2h-2zm4 0h2v2h-2zm1 0h2v2h-2zm1 0h2v2h-2zm8 0h2v2h-2zm11 0h2v2h-2zm11 0h2v2h-2zm37 0h2v2h-2zm35 0h2v2h-2zm4 0h2v2h-2zm3 0h2v2h-2zm3 0h2v2h-2zm1 0h2v2h-2zm4 0h2v2h-2zm2 0h2v2h-2zm10 0h2v2h-2zm1 0h2v2h-2zm2 0h2v2h-2zm3 0h2v2h-2zm1 0h2v2h-2zm1 0h2v2h-2zm3 0h2v2h-2zm1 0h2v2h-2zm4 0h2v2h-2zm1 0h2v2h-2zm1 0h2v2h-2zm3 0h2v2h-2zm-188 1h2v2h-2zm11 0h2v2h-2zm7 0h2v2h-2zm6 0h2v2h-2zm6 0h2v2h-2zm9 0h2v2h-2zm1 0h2v2h-2zm2 0h2v2h-2zm1 0h2v2h-2zm11 0h2v2h-2zm3 0h2v2h-2zm10 0h2v2h-2zm9 0h2v2h-2zm1 0h2v2h-2zm2 0h2v2h-2zm2 0h2v2h-2zm5 0h2v2h-2zm45 0h2v2h-2zm5 0h2v2h-2zm3 0h2v2h-2zm1 0h2v2h-2zm6 0h2v2h-2zm1 0h2v2h-2zm4 0h2v2h-2zm3 0h2v2h-2zm1 0h2v2h-2zm3 0h2v2h-2zm2 0h2v2h-2zm1 0h2v2h-2zm8 0h2v2h-2zm1 0h2v2h-2zm6 0h2v2h-2zm1 0h2v2h-2zm6 0h2v2h-2zm2 0h2v2h-2zm18 0h2v2h-2zm160 0h2v2h-2zm-351 1h2v2h-2zm27 0h2v2h-2zm14 0h2v2h-2zm1 0h2v2h-2zm4 0h2v2h-2zm1 0h2v2h-2zm4 0h2v2h-2zm14 0h2v2h-2zm3 0h2v2h-2zm1 0h2v2h-2zm3 0h2v2h-2zm5 0h2v2h-2zm12 0h2v2h-2zm1 0h2v2h-2zm21 0h2v2h-2zm14 0h2v2h-2zm1 0h2v2h-2zm3 0h2v2h-2zm2 0h2v2h-2zm1 0h2v2h-2zm1 0h2v2h-2zm4 0h2v2h-2zm6 0h2v2h-2zm6 0h2v2h-2zm1 0h2v2h-2zm1 0h2v2h-2zm3 0h2v2h-2zm4 0h2v2h-2zm1 0h2v2h-2zm1 0h2v2h-2zm2 0h2v2h-2zm3 0h2v2h-2zm8 0h2v2h-2zm1 0h2v2h-2zm-187 1h2v2h-2zm10 0h2v2h-2zm15 0h2v2h-2zm4 0h2v2h-2zm9 0h2v2h-2zm4 0h2v2h-2zm3 0h2v2h-2zm13 0h2v2h-2zm55 0h2v2h-2zm21 0h2v2h-2zm11 0h2v2h-2zm10 0h2v2h-2zm1 0h2v2h-2zm7 0h2v2h-2zm1 0h2v2h-2zm1 0h2v2h-2zm4 0h2v2h-2zm4 0h2v2h-2zm2 0h2v2h-2zm8 0h2v2h-2zm2 0h2v2h-2zm3 0h2v2h-2zm9 0h2v2h-2zm-190 1h2v2h-2zm16 0h2v2h-2zm5 0h2v2h-2zm3 0h2v2h-2zm2 0h2v2h-2zm1 0h2v2h-2zm3 0h2v2h-2zm11 0h2v2h-2zm8 0h2v2h-2zm13 0h2v2h-2zm2 0h2v2h-2zm2 0h2v2h-2zm26 0h2v2h-2zm1 0h2v2h-2zm1 0h2v2h-2zm4 0h2v2h-2zm10 0h2v2h-2zm7 0h2v2h-2zm9 0h2v2h-2zm3 0h2v2h-2zm4 0h2v2h-2zm11 0h2v2h-2zm1 0h2v2h-2zm6 0h2v2h-2zm5 0h2v2h-2zm2 0h2v2h-2zm2 0h2v2h-2zm2 0h2v2h-2zm2 0h2v2h-2zm2 0h2v2h-2zm3 0h2v2h-2zm9 0h2v2h-2zm3 0h2v2h-2zm26 0h2v2h-2zm6 0h2v2h-2zm-217 1h2v2h-2zm5 0h2v2h-2zm7 0h2v2h-2zm20 0h2v2h-2zm5 0h2v2h-2zm10 0h2v2h-2zm1 0h2v2h-2zm4 0h2v2h-2zm2 0h2v2h-2zm18 0h2v2h-2zm3 0h2v2h-2zm2 0h2v2h-2zm23 0h2v2h-2zm5 0h2v2h-2zm9 0h2v2h-2zm11 0h2v2h-2zm6 0h2v2h-2zm17 0h2v2h-2zm2 0h2v2h-2zm1 0h2v2h-2zm5 0h2v2h-2zm1 0h2v2h-2zm2 0h2v2h-2zm4 0h2v2h-2zm2 0h2v2h-2zm2 0h2v2h-2zm3 0h2v2h-2zm2 0h2v2h-2zm24 0h2v2h-2zm1 0h2v2h-2zm-197 1h2v2h-2zm16 0h2v2h-2zm1 0h2v2h-2zm28 0h2v2h-2zm14 0h2v2h-2zm4 0h2v2h-2zm1 0h2v2h-2zm4 0h2v2h-2zm16 0h2v2h-2zm45 0h2v2h-2zm4 0h2v2h-2zm4 0h2v2h-2zm10 0h2v2h-2zm1 0h2v2h-2zm7 0h2v2h-2zm2 0h2v2h-2zm5 0h2v2h-2zm2 0h2v2h-2zm7 0h2v2h-2zm3 0h2v2h-2zm7 0h2v2h-2zm1 0h2v2h-2zm22 0h2v2h-2zm5 0h2v2h-2zm-200 1h2v2h-2zm13 0h2v2h-2zm31 0h2v2h-2zm6 0h2v2h-2zm6 0h2v2h-2zm2 0h2v2h-2zm6 0h2v2h-2zm5 0h2v2h-2zm11 0h2v2h-2zm11 0h2v2h-2zm23 0h2v2h-2zm4 0h2v2h-2zm13 0h2v2h-2zm6 0h2v2h-2zm3 0h2v2h-2zm3 0h2v2h-2zm5 0h2v2h-2zm6 0h2v2h-2zm6 0h2v2h-2zm2 0h2v2h-2zm2 0h2v2h-2zm4 0h2v2h-2zm2 0h2v2h-2zm1 0h2v2h-2zm1 0h2v2h-2zm10 0h2v2h-2zm1 0h2v2h-2zm-165 1h2v2h-2zm3 0h2v2h-2zm3 0h2v2h-2zm22 0h2v2h-2zm1 0h2v2h-2zm2 0h2v2h-2zm1 0h2v2h-2zm20 0h2v2h-2zm7 0h2v2h-2zm3 0h2v2h-2zm5 0h2v2h-2zm5 0h2v2h-2zm36 0h2v2h-2zm4 0h2v2h-2zm2 0h2v2h-2zm8 0h2v2h-2zm15 0h2v2h-2zm6 0h2v2h-2zm9 0h2v2h-2zm1 0h2v2h-2zm13 0h2v2h-2zm6 0h2v2h-2zm18 0h2v2h-2zm-218 1h2v2h-2zm1 0h2v2h-2zm17 0h2v2h-2zm4 0h2v2h-2zm5 0h2v2h-2zm11 0h2v2h-2zm8 0h2v2h-2zm3 0h2v2h-2zm5 0h2v2h-2zm5 0h2v2h-2zm3 0h2v2h-2zm8 0h2v2h-2zm1 0h2v2h-2zm13 0h2v2h-2zm4 0h2v2h-2zm2 0h2v2h-2zm21 0h2v2h-2zm9 0h2v2h-2zm25 0h2v2h-2zm5 0h2v2h-2zm1 0h2v2h-2zm5 0h2v2h-2zm8 0h2v2h-2zm5 0h2v2h-2zm3 0h2v2h-2zm2 0h2v2h-2zm-147 1h2v2h-2zm3 0h2v2h-2zm12 0h2v2h-2zm8 0h2v2h-2zm6 0h2v2h-2zm26 0h2v2h-2zm49 0h2v2h-2zm4 0h2v2h-2zm7 0h2v2h-2zm15 0h2v2h-2zm4 0h2v2h-2zm3 0h2v2h-2zm14 0h2v2h-2zm1 0h2v2h-2zm7 0h2v2h-2zm14 0h2v2h-2zm-168 1h2v2h-2zm2 0h2v2h-2zm11 0h2v2h-2zm5 0h2v2h-2zm23 0h2v2h-2zm2 0h2v2h-2zm11 0h2v2h-2zm7 0h2v2h-2zm24 0h2v2h-2zm17 0h2v2h-2zm8 0h2v2h-2zm8 0h2v2h-2zm4 0h2v2h-2zm1 0h2v2h-2zm1 0h2v2h-2zm1 0h2v2h-2zm1 0h2v2h-2zm1 0h2v2h-2zm6 0h2v2h-2zm1 0h2v2h-2zm3 0h2v2h-2zm3 0h2v2h-2zm13 0h2v2h-2zm20 0h2v2h-2zm-170 1h2v2h-2zm5 0h2v2h-2zm6 0h2v2h-2zm5 0h2v2h-2zm1 0h2v2h-2zm3 0h2v2h-2zm9 0h2v2h-2zm6 0h2v2h-2zm15 0h2v2h-2zm43 0h2v2h-2zm10 0h2v2h-2zm4 0h2v2h-2zm4 0h2v2h-2zm5 0h2v2h-2zm2 0h2v2h-2zm3 0h2v2h-2zm6 0h2v2h-2zm7 0h2v2h-2zm4 0h2v2h-2zm7 0h2v2h-2zm2 0h2v2h-2zm3 0h2v2h-2zm6 0h2v2h-2zm2 0h2v2h-2zm-177 1h2v2h-2zm10 0h2v2h-2zm26 0h2v2h-2zm20 0h2v2h-2zm40 0h2v2h-2zm10 0h2v2h-2zm4 0h2v2h-2zm12 0h2v2h-2zm1 0h2v2h-2zm5 0h2v2h-2zm3 0h2v2h-2zm8 0h2v2h-2zm1 0h2v2h-2zm2 0h2v2h-2zm5 0h2v2h-2zm1 0h2v2h-2zm8 0h2v2h-2zm3 0h2v2h-2zm1 0h2v2h-2zm15 0h2v2h-2zm4 0h2v2h-2zm162 0h2v2h-2zm-343 1h2v2h-2zm2 0h2v2h-2zm6 0h2v2h-2zm15 0h2v2h-2zm6 0h2v2h-2zm5 0h2v2h-2zm21 0h2v2h-2zm4 0h2v2h-2zm39 0h2v2h-2zm13 0h2v2h-2zm6 0h2v2h-2zm4 0h2v2h-2zm2 0h2v2h-2zm11 0h2v2h-2zm7 0h2v2h-2zm2 0h2v2h-2zm2 0h2v2h-2zm1 0h2v2h-2zm3 0h2v2h-2zm3 0h2v2h-2zm7 0h2v2h-2zm2 0h2v2h-2zm7 0h2v2h-2zm29 0h2v2h-2zm58 0h2v2h-2zm-246 1h2v2h-2zm8 0h2v2h-2zm5 0h2v2h-2zm1 0h2v2h-2zm18 0h2v2h-2zm3 0h2v2h-2zm2 0h2v2h-2zm1 0h2v2h-2zm2 0h2v2h-2zm8 0h2v2h-2zm6 0h2v2h-2zm8 0h2v2h-2zm1 0h2v2h-2zm2 0h2v2h-2zm2 0h2v2h-2zm45 0h2v2h-2zm5 0h2v2h-2zm17 0h2v2h-2zm1 0h2v2h-2zm1 0h2v2h-2zm3 0h2v2h-2zm8 0h2v2h-2zm4 0h2v2h-2zm2 0h2v2h-2zm13 0h2v2h-2zm1 0h2v2h-2zm1 0h2v2h-2zm5 0h2v2h-2zm12 0h2v2h-2zm-177 1h2v2h-2zm6 0h2v2h-2zm23 0h2v2h-2zm12 0h2v2h-2zm14 0h2v2h-2zm24 0h2v2h-2zm6 0h2v2h-2zm29 0h2v2h-2zm3 0h2v2h-2zm2 0h2v2h-2zm1 0h2v2h-2zm2 0h2v2h-2zm1 0h2v2h-2zm5 0h2v2h-2zm3 0h2v2h-2zm24 0h2v2h-2zm-136 1h2v2h-2zm2 0h2v2h-2zm9 0h2v2h-2zm6 0h2v2h-2zm2 0h2v2h-2zm9 0h2v2h-2zm46 0h2v2h-2zm22 0h2v2h-2zm8 0h2v2h-2zm3 0h2v2h-2zm11 0h2v2h-2zm7 0h2v2h-2zm4 0h2v2h-2zm-119 1h2v2h-2zm8 0h2v2h-2zm25 0h2v2h-2zm26 0h2v2h-2zm17 0h2v2h-2zm4 0h2v2h-2zm2 0h2v2h-2zm1 0h2v2h-2zm3 0h2v2h-2zm7 0h2v2h-2zm2 0h2v2h-2zm3 0h2v2h-2zm4 0h2v2h-2zm2 0h2v2h-2zm18 0h2v2h-2zm7 0h2v2h-2zm17 0h2v2h-2zm-174 1h2v2h-2zm4 0h2v2h-2zm4 0h2v2h-2zm6 0h2v2h-2zm10 0h2v2h-2zm6 0h2v2h-2zm4 0h2v2h-2zm12 0h2v2h-2zm1 0h2v2h-2zm59 0h2v2h-2zm6 0h2v2h-2zm14 0h2v2h-2zm5 0h2v2h-2zm19 0h2v2h-2zm4 0h2v2h-2zm3 0h2v2h-2zm4 0h2v2h-2zm-153 1h2v2h-2zm12 0h2v2h-2zm9 0h2v2h-2zm4 0h2v2h-2zm80 0h2v2h-2zm1 0h2v2h-2zm1 0h2v2h-2zm2 0h2v2h-2zm1 0h2v2h-2zm1 0h2v2h-2zm2 0h2v2h-2zm1 0h2v2h-2zm18 0h2v2h-2zm2 0h2v2h-2zm4 0h2v2h-2zm1 0h2v2h-2zm10 0h2v2h-2zm13 0h2v2h-2zm100 0h2v2h-2zm-278 1h2v2h-2zm42 0h2v2h-2zm20 0h2v2h-2zm30 0h2v2h-2zm18 0h2v2h-2zm4 0h2v2h-2zm9 0h2v2h-2zm6 0h2v2h-2zm10 0h2v2h-2zm3 0h2v2h-2zm11 0h2v2h-2zm8 0h2v2h-2zm-166 1h2v2h-2zm12 0h2v2h-2zm15 0h2v2h-2zm9 0h2v2h-2zm14 0h2v2h-2zm15 0h2v2h-2zm36 0h2v2h-2zm17 0h2v2h-2zm9 0h2v2h-2zm6 0h2v2h-2zm2 0h2v2h-2zm2 0h2v2h-2zm2 0h2v2h-2zm7 0h2v2h-2zm2 0h2v2h-2zm11 0h2v2h-2zm1 0h2v2h-2zm4 0h2v2h-2zm5 0h2v2h-2zm101 0h2v2h-2zm-243 1h2v2h-2zm16 0h2v2h-2zm3 0h2v2h-2zm3 0h2v2h-2zm12 0h2v2h-2zm45 0h2v2h-2zm10 0h2v2h-2zm19 0h2v2h-2zm1 0h2v2h-2zm5 0h2v2h-2zm6 0h2v2h-2zm7 0h2v2h-2zm35 0h2v2h-2zm-154 1h2v2h-2zm4 0h2v2h-2zm15 0h2v2h-2zm1 0h2v2h-2zm4 0h2v2h-2zm26 0h2v2h-2zm43 0h2v2h-2zm5 0h2v2h-2zm4 0h2v2h-2zm6 0h2v2h-2zm19 0h2v2h-2zm2 0h2v2h-2zm-154 1h2v2h-2zm11 0h2v2h-2zm9 0h2v2h-2zm7 0h2v2h-2zm19 0h2v2h-2zm53 0h2v2h-2zm6 0h2v2h-2zm3 0h2v2h-2zm7 0h2v2h-2zm13 0h2v2h-2zm6 0h2v2h-2zm13 0h2v2h-2zm12 0h2v2h-2zm17 0h2v2h-2zm-198 1h2v2h-2zm67 0h2v2h-2zm16 0h2v2h-2zm55 0h2v2h-2zm1 0h2v2h-2zm2 0h2v2h-2zm10 0h2v2h-2zm4 0h2v2h-2zm7 0h2v2h-2zm1 0h2v2h-2zm11 0h2v2h-2zm10 0h2v2h-2zm-184 1h2v2h-2zm6 0h2v2h-2zm48 0h2v2h-2zm2 0h2v2h-2zm25 0h2v2h-2zm42 0h2v2h-2zm8 0h2v2h-2zm2 0h2v2h-2zm14 0h2v2h-2zm2 0h2v2h-2zm9 0h2v2h-2zm1 0h2v2h-2zm14 0h2v2h-2zm8 0h2v2h-2zm10 0h2v2h-2zm-176 1h2v2h-2zm7 0h2v2h-2zm52 0h2v2h-2zm43 0h2v2h-2zm20 0h2v2h-2zm2 0h2v2h-2zm2 0h2v2h-2zm3 0h2v2h-2zm3 0h2v2h-2zm5 0h2v2h-2zm7 0h2v2h-2zm3 0h2v2h-2zm9 0h2v2h-2zm2 0h2v2h-2zm85 0h2v2h-2zm-253 1h2v2h-2zm33 0h2v2h-2zm12 0h2v2h-2zm44 0h2v2h-2zm48 0h2v2h-2zm3 0h2v2h-2zm6 0h2v2h-2zm9 0h2v2h-2zm1 0h2v2h-2zm5 0h2v2h-2zm5 0h2v2h-2zm13 0h2v2h-2zm-148 1h2v2h-2zm49 0h2v2h-2zm17 0h2v2h-2zm37 0h2v2h-2zm14 0h2v2h-2zm1 0h2v2h-2zm3 0h2v2h-2zm11 0h2v2h-2zm9 0h2v2h-2zm2 0h2v2h-2zm-159 1h2v2h-2zm26 0h2v2h-2zm16 0h2v2h-2zm9 0h2v2h-2zm15 0h2v2h-2zm61 0h2v2h-2zm18 0h2v2h-2zm1 0h2v2h-2zm-147 1h2v2h-2zm62 0h2v2h-2zm40 0h2v2h-2zm21 0h2v2h-2zm13 0h2v2h-2zm2 0h2v2h-2zm1 0h2v2h-2zm11 0h2v2h-2zm23 0h2v2h-2zm3 0h2v2h-2zm-176 1h2v2h-2zm34 0h2v2h-2zm1 0h2v2h-2zm4 0h2v2h-2zm15 0h2v2h-2zm40 0h2v2h-2zm4 0h2v2h-2zm12 0h2v2h-2zm7 0h2v2h-2zm15 0h2v2h-2zm1 0h2v2h-2zm2 0h2v2h-2zm6 0h2v2h-2zm2 0h2v2h-2zm9 0h2v2h-2zm-163 1h2v2h-2zm7 0h2v2h-2zm61 0h2v2h-2zm12 0h2v2h-2zm18 0h2v2h-2zm35 0h2v2h-2zm12 0h2v2h-2zm15 0h2v2h-2zm8 0h2v2h-2zm-173 1h2v2h-2zm24 0h2v2h-2zm15 0h2v2h-2zm3 0h2v2h-2zm21 0h2v2h-2zm18 0h2v2h-2zm7 0h2v2h-2zm37 0h2v2h-2zm31 0h2v2h-2zm6 0h2v2h-2zm3 0h2v2h-2zm4 0h2v2h-2zm-125 1h2v2h-2zm29 0h2v2h-2zm73 0h2v2h-2zm6 0h2v2h-2zm8 0h2v2h-2zm13 1h2v2h-2z" fill="#000"/><path d="M909 800h3v3h-3zm-104 3h3v3h-3zm147 6h3v3h-3zm-142 6h3v3h-3zm66 14h3v3h-3zm-81 6h3v3h-3zm101 0h3v3h-3zm15 1h3v3h-3zm17 3h3v3h-3zm26 0h3v3h-3zm-16 3h3v3h-3zm-155 4h3v3h-3zm18 0h3v3h-3zm140 0h3v3h-3zm-152 2h3v3h-3zm14 0h3v3h-3zm17 0h3v3h-3zm-39 6h3v3h-3zm137 3h3v3h-3zm-37 2h3v3h-3zm24 0h3v3h-3zm-104 1h3v3h-3zm14 1h3v3h-3zm97 3h3v3h-3zm94 0h3v3h-3zm-188 2h3v3h-3zm-41 2h3v3h-3zm159 0h3v3h-3zm-143 1h3v3h-3zm-31 1h3v3h-3zm31 0h3v3h-3zm34 1h3v3h-3zm-2 3h3v3h-3zm14 1h3v3h-3zm25 0h3v3h-3zm22 1h3v3h-3zm-93 1h3v3h-3zm79 1h3v3h-3zm0 3h3v3h-3zm61 1h3v3h-3zm-148 1h3v3h-3zm23 0h3v3h-3zm38 5h3v3h-3zm-48 1h3v3h-3zm31 0h3v3h-3zm87 0h3v3h-3zm24 1h3v3h-3zm-159 1h3v3h-3zm-1 1h3v3h-3zm127 0h3v3h-3zm22 0h3v3h-3zm-1 2h3v3h-3zm-127 1h3v3h-3zm97 0h3v3h-3zm35 0h3v3h-3zm-25 1h3v3h-3zm-8 3h3v3h-3zm3 0h3v3h-3zm36 0h3v3h-3zm-156 1h3v3h-3zm36 0h3v3h-3zm107 0h3v3h-3zm7 0h3v3h-3zm-103 1h3v3h-3zm111 0h3v3h-3zm-14 1h3v3h-3zm22 0h3v3h-3zm11 0h3v3h-3zm-137 1h3v3h-3zm-25 1h3v3h-3zm118 0h3v3h-3zm-91 1h3v3h-3zm86 1h3v3h-3zm64 0h3v3h-3zm-62 2h3v3h-3zm10 0h3v3h-3zm39 0h3v3h-3zm-87 1h3v3h-3zm16 0h3v3h-3zm17 0h3v3h-3zm27 0h3v3h-3zm-155 1h3v3h-3zm124 0h3v3h-3zm26 0h3v3h-3zm27 0h3v3h-3zm-30 1h3v3h-3zm-15 1h3v3h-3zm-153 1h3v3h-3zm182 0h3v3h-3zm-31 1h3v3h-3zm-88 1h3v3h-3zm75 0h3v3h-3zm10 0h3v3h-3zm13 0h3v3h-3zm23 0h3v3h-3zm-145 1h3v3h-3zm130 0h3v3h-3zm31 0h3v3h-3zm-172 1h3v3h-3zm119 0h3v3h-3zm6 0h3v3h-3zm5 0h3v3h-3zm52 0h3v3h-3zm-177 1h3v3h-3zm105 0h3v3h-3zm8 0h3v3h-3zm-116 1h3v3h-3zm5 0h3v3h-3zm110 0h3v3h-3zm27 0h3v3h-3zm2 0h3v3h-3zm5 0h3v3h-3zm-28 1h3v3h-3zm17 0h3v3h-3zm6 0h3v3h-3zm18 0h3v3h-3zm-45 1h3v3h-3zm5 0h3v3h-3zm14 0h3v3h-3zm9 0h3v3h-3zm12 0h3v3h-3zm6 0h3v3h-3zm-79 1h3v3h-3zm53 0h3v3h-3zm2 0h3v3h-3zm-114 1h3v3h-3zm93 0h3v3h-3zm6 0h3v3h-3zm23 0h3v3h-3zm-48 1h3v3h-3zm-41 1h3v3h-3zm62 0h3v3h-3zm21 0h3v3h-3zm11 0h3v3h-3zm-141 2h3v3h-3zm42 0h3v3h-3zm58 1h3v3h-3zm15 0h3v3h-3zm7 0h3v3h-3zm5 0h3v3h-3zm6 0h3v3h-3zm-105 1h3v3h-3zm53 0h3v3h-3zm19 0h3v3h-3zm3 0h3v3h-3zm20 0h3v3h-3zm3 0h3v3h-3zm12 0h3v3h-3zm4 0h3v3h-3zm23 0h3v3h-3zm-151 1h3v3h-3zm110 0h3v3h-3zm13 0h3v3h-3zm-87 1h3v3h-3zm51 0h3v3h-3zm1 0h3v3h-3zm12 0h3v3h-3zm3 0h3v3h-3zm15 0h3v3h-3zm-173 1h3v3h-3zm38 0h3v3h-3zm110 0h3v3h-3zm6 0h3v3h-3zm1 0h3v3h-3zm4 0h3v3h-3zm5 0h3v3h-3zm3 0h3v3h-3zm1 0h3v3h-3zm7 0h3v3h-3zm-168 1h3v3h-3zm135 0h3v3h-3zm17 0h3v3h-3zm23 0h3v3h-3zm17 0h3v3h-3zm-48 1h3v3h-3zm1 0h3v3h-3zm6 0h3v3h-3zm2 0h3v3h-3zm8 0h3v3h-3zm2 0h3v3h-3zm3 0h3v3h-3zm5 0h3v3h-3zm6 0h3v3h-3zm15 0h3v3h-3zm-164 1h3v3h-3zm95 0h3v3h-3zm34 0h3v3h-3zm6 0h3v3h-3zm12 0h3v3h-3zm-80 1h3v3h-3zm47 0h3v3h-3zm11 0h3v3h-3zm3 0h3v3h-3zm8 0h3v3h-3zm6 0h3v3h-3zm5 0h3v3h-3zm5 0h3v3h-3zm6 0h3v3h-3zm-137 1h3v3h-3zm27 0h3v3h-3zm59 0h3v3h-3zm4 0h3v3h-3zm5 0h3v3h-3zm9 0h3v3h-3zm5 0h3v3h-3zm8 0h3v3h-3zm17 0h3v3h-3zm-38 1h3v3h-3zm15 0h3v3h-3zm6 0h3v3h-3zm18 0h3v3h-3zm4 0h3v3h-3zm-175 1h3v3h-3zm144 0h3v3h-3zm5 0h3v3h-3zm-114 1h3v3h-3zm14 0h3v3h-3zm86 0h3v3h-3zm13 0h3v3h-3zm3 0h3v3h-3zm12 0h3v3h-3zm-145 1h3v3h-3zm4 0h3v3h-3zm113 0h3v3h-3zm10 0h3v3h-3zm-3 1h3v3h-3zm7 0h3v3h-3zm1 0h3v3h-3zm28 0h3v3h-3zm19 0h3v3h-3zm-149 1h3v3h-3zm80 0h3v3h-3zm20 0h3v3h-3zm13 0h3v3h-3zm-38 1h3v3h-3zm3 0h3v3h-3zm10 0h3v3h-3zm2 0h3v3h-3zm9 0h3v3h-3zm1 0h3v3h-3zm5 0h3v3h-3zm10 0h3v3h-3zm-165 1h3v3h-3zm144 0h3v3h-3zm1 0h3v3h-3zm1 0h3v3h-3zm3 0h3v3h-3zm3 0h3v3h-3zm5 0h3v3h-3zm1 0h3v3h-3zm3 0h3v3h-3zm-45 1h3v3h-3zm18 0h3v3h-3zm4 0h3v3h-3zm6 0h3v3h-3zm3 0h3v3h-3zm16 0h3v3h-3zm7 0h3v3h-3zm21 0h3v3h-3zm-189 1h3v3h-3zm13 0h3v3h-3zm115 0h3v3h-3zm30 0h3v3h-3zm1 0h3v3h-3zm1 0h3v3h-3zm5 0h3v3h-3zm2 0h3v3h-3zm-170 1h3v3h-3zm79 0h3v3h-3zm44 0h3v3h-3zm17 0h3v3h-3zm1 0h3v3h-3zm15 0h3v3h-3zm6 0h3v3h-3zm2 0h3v3h-3zm19 0h3v3h-3zm-78 1h3v3h-3zm29 0h3v3h-3zm12 0h3v3h-3zm2 0h3v3h-3zm-165 1h3v3h-3zm98 0h3v3h-3zm49 0h3v3h-3zm6 0h3v3h-3zm7 0h3v3h-3zm13 0h3v3h-3zm24 0h3v3h-3zm-53 1h3v3h-3zm3 0h3v3h-3zm14 0h3v3h-3zm8 0h3v3h-3zm2 0h3v3h-3zm2 0h3v3h-3zm8 0h3v3h-3zm-126 1h3v3h-3zm55 0h3v3h-3zm31 0h3v3h-3zm4 0h3v3h-3zm5 0h3v3h-3zm2 0h3v3h-3zm30 0h3v3h-3zm3 0h3v3h-3zm9 0h3v3h-3zm-109 1h3v3h-3zm73 0h3v3h-3zm14 0h3v3h-3zm3 0h3v3h-3zm3 0h3v3h-3zm2 0h3v3h-3zm-34 1h3v3h-3zm22 0h3v3h-3zm9 0h3v3h-3zm14 0h3v3h-3zm-137 1h3v3h-3zm87 0h3v3h-3zm17 0h3v3h-3zm5 0h3v3h-3zm1 0h3v3h-3zm6 0h3v3h-3zm4 0h3v3h-3zm21 0h3v3h-3zm-162 1h3v3h-3zm16 0h3v3h-3zm20 0h3v3h-3zm6 0h3v3h-3zm3 0h3v3h-3zm38 0h3v3h-3zm47 0h3v3h-3zm5 0h3v3h-3zm9 0h3v3h-3zm159 0h3v3h-3zm-310 1h3v3h-3zm40 0h3v3h-3zm17 0h3v3h-3zm72 0h3v3h-3zm5 0h3v3h-3zm4 0h3v3h-3zm11 0h3v3h-3zm3 0h3v3h-3zm2 0h3v3h-3zm153 0h3v3h-3zm-322 1h3v3h-3zm28 0h3v3h-3zm30 0h3v3h-3zm75 0h3v3h-3zm17 0h3v3h-3zm3 0h3v3h-3zm12 0h3v3h-3zm-126 1h3v3h-3zm73 0h3v3h-3zm32 0h3v3h-3zm7 0h3v3h-3zm-161 1h3v3h-3zm123 0h3v3h-3zm16 0h3v3h-3zm13 0h3v3h-3zm4 0h3v3h-3zm17 0h3v3h-3zm12 0h3v3h-3zm5 0h3v3h-3zm-128 1h3v3h-3zm99 0h3v3h-3zm5 0h3v3h-3zm4 0h3v3h-3zm21 0h3v3h-3zm-36 1h3v3h-3zm1 0h3v3h-3zm5 0h3v3h-3zm12 0h3v3h-3zm14 0h3v3h-3zm-120 1h3v3h-3zm91 0h3v3h-3zm3 0h3v3h-3zm13 0h3v3h-3zm15 0h3v3h-3zm9 0h3v3h-3zm-168 1h3v3h-3zm4 0h3v3h-3zm16 0h3v3h-3zm129 0h3v3h-3zm5 0h3v3h-3zm17 0h3v3h-3zm-131 1h3v3h-3zm10 0h3v3h-3zm18 0h3v3h-3zm50 0h3v3h-3zm11 0h3v3h-3zm3 0h3v3h-3zm2 0h3v3h-3zm1 0h3v3h-3zm1 0h3v3h-3zm2 0h3v3h-3zm-25 1h3v3h-3zm5 0h3v3h-3zm30 0h3v3h-3zm-137 1h3v3h-3zm117 0h3v3h-3zm3 0h3v3h-3zm1 0h3v3h-3zm4 0h3v3h-3zm4 0h3v3h-3zm1 0h3v3h-3zm6 0h3v3h-3zm17 0h3v3h-3zm-122 1h3v3h-3zm57 0h3v3h-3zm33 0h3v3h-3zm16 0h3v3h-3zm-134 1h3v3h-3zm69 0h3v3h-3zm24 0h3v3h-3zm1 0h3v3h-3zm8 0h3v3h-3zm10 0h3v3h-3zm1 0h3v3h-3zm30 0h3v3h-3zm8 0h3v3h-3zm-185 1h3v3h-3zm7 0h3v3h-3zm36 0h3v3h-3zm86 0h3v3h-3zm14 0h3v3h-3zm12 0h3v3h-3zm2 0h3v3h-3zm-9 1h3v3h-3zm3 0h3v3h-3zm-100 1h3v3h-3zm25 0h3v3h-3zm77 0h3v3h-3zm9 0h3v3h-3zm11 0h3v3h-3zm7 0h3v3h-3zm16 0h3v3h-3zm-168 1h3v3h-3zm16 0h3v3h-3zm58 0h3v3h-3zm53 0h3v3h-3zm4 0h3v3h-3zm2 0h3v3h-3zm2 0h3v3h-3zm6 0h3v3h-3zm24 0h3v3h-3zm-130 1h3v3h-3zm29 0h3v3h-3zm46 0h3v3h-3zm26 0h3v3h-3zm-150 1h3v3h-3zm23 0h3v3h-3zm132 0h3v3h-3zm21 1h3v3h-3zm-183 1h3v3h-3zm34 0h3v3h-3zm2 0h3v3h-3zm10 0h3v3h-3zm94 0h3v3h-3zm6 0h3v3h-3zm10 0h3v3h-3zm-125 1h3v3h-3zm4 0h3v3h-3zm9 0h3v3h-3zm10 0h3v3h-3zm46 0h3v3h-3zm21 0h3v3h-3zm9 0h3v3h-3zm11 0h3v3h-3zm7 0h3v3h-3zm16 0h3v3h-3zm-145 1h3v3h-3zm55 0h3v3h-3zm111 0h3v3h-3zm-170 1h3v3h-3zm4 0h3v3h-3zm13 0h3v3h-3zm25 0h3v3h-3zm78 0h3v3h-3zm45 0h3v3h-3zm-174 1h3v3h-3zm21 0h3v3h-3zm16 0h3v3h-3zm17 0h3v3h-3zm48 0h3v3h-3zm15 0h3v3h-3zm2 0h3v3h-3zm26 0h3v3h-3zm17 0h3v3h-3zm-144 1h3v3h-3zm13 0h3v3h-3zm17 0h3v3h-3zm1 0h3v3h-3zm14 0h3v3h-3zm6 0h3v3h-3zm-63 1h3v3h-3zm17 0h3v3h-3zm103 0h3v3h-3zm32 0h3v3h-3zm13 0h3v3h-3zm-165 1h3v3h-3zm1 0h3v3h-3zm38 0h3v3h-3zm75 0h3v3h-3zm4 0h3v3h-3zm35 0h3v3h-3zm21 0h3v3h-3zm-143 1h3v3h-3zm22 1h3v3h-3zm63 0h3v3h-3zm45 0h3v3h-3zm28 0h3v3h-3zm-221 1h3v3h-3zm46 0h3v3h-3zm6 0h3v3h-3zm15 0h3v3h-3zm24 0h3v3h-3zm53 0h3v3h-3zm-94 1h3v3h-3zm15 0h3v3h-3zm7 0h3v3h-3zm-13 1h3v3h-3zm18 0h3v3h-3zm1 0h3v3h-3zm-32 1h3v3h-3zm59 0h3v3h-3zm28 0h3v3h-3zm56 0h3v3h-3zm10 0h3v3h-3zm-174 1h3v3h-3zm114 0h3v3h-3zm60 0h3v3h-3zm-186 1h3v3h-3zm9 0h3v3h-3zm19 0h3v3h-3zm5 0h3v3h-3zm4 0h3v3h-3zm9 0h3v3h-3zm14 0h3v3h-3zm-30 1h3v3h-3zm-14 1h3v3h-3zm19 0h3v3h-3zm15 0h3v3h-3zm10 0h3v3h-3zm13 0h3v3h-3zm52 0h3v3h-3zm-119 1h3v3h-3zm87 0h3v3h-3zm83 0h3v3h-3zm-150 1h3v3h-3zm31 0h3v3h-3zm4 0h3v3h-3zm62 0h3v3h-3zm61 0h3v3h-3zm-167 1h3v3h-3zm3 0h3v3h-3zm17 0h3v3h-3zm23 0h3v3h-3zm-15 1h3v3h-3zm77 0h3v3h-3zm9 0h3v3h-3zm-117 1h3v3h-3zm9 0h3v3h-3zm30 0h3v3h-3zm35 0h3v3h-3zm-65 1h3v3h-3zm20 0h3v3h-3zm42 0h3v3h-3zm26 0h3v3h-3zm11 0h3v3h-3zm126 0h3v3h-3zm-206 1h3v3h-3zm10 0h3v3h-3zm11 0h3v3h-3zm8 0h3v3h-3zm4 0h3v3h-3zm127 0h3v3h-3zm-216 1h3v3h-3zm40 0h3v3h-3zm32 0h3v3h-3zm10 0h3v3h-3zm-48 1h3v3h-3zm40 0h3v3h-3zm7 0h3v3h-3zm38 0h3v3h-3zm-120 1h3v3h-3zm52 0h3v3h-3zm4 0h3v3h-3zm12 0h3v3h-3zm27 0h3v3h-3zm99 0h3v3h-3zm4 0h3v3h-3zm-183 1h3v3h-3zm27 0h3v3h-3zm6 0h3v3h-3zm14 0h3v3h-3zm73 0h3v3h-3zm68 0h3v3h-3zm-202 1h3v3h-3zm42 0h3v3h-3zm3 0h3v3h-3zm20 0h3v3h-3zm1 0h3v3h-3zm-17 1h3v3h-3zm148 0h3v3h-3zm-180 1h3v3h-3zm16 0h3v3h-3zm27 0h3v3h-3zm1 0h3v3h-3zm5 0h3v3h-3zm137 0h3v3h-3zm-189 1h3v3h-3zm48 0h3v3h-3zm16 0h3v3h-3zm-43 1h3v3h-3zm5 0h3v3h-3zm10 0h3v3h-3zm19 0h3v3h-3zm29 0h3v3h-3zm3 0h3v3h-3zm-59 1h3v3h-3zm26 0h3v3h-3zm-43 1h3v3h-3zm5 0h3v3h-3zm42 0h3v3h-3zm70 0h3v3h-3zm-117 1h3v3h-3zm38 0h3v3h-3zm4 0h3v3h-3zm16 0h3v3h-3zm38 0h3v3h-3zm6 0h3v3h-3zm13 0h3v3h-3zm-71 1h3v3h-3zm1 0h3v3h-3zm14 0h3v3h-3zm128 0h3v3h-3zm-168 1h3v3h-3zm92 0h3v3h-3zm6 0h3v3h-3zm-96 1h3v3h-3zm8 0h3v3h-3zm3 0h3v3h-3zm28 0h3v3h-3zm32 0h3v3h-3zm1 0h3v3h-3zm73 0h3v3h-3zm4 0h3v3h-3zm-126 1h3v3h-3zm9 0h3v3h-3zm-27 1h3v3h-3zm13 0h3v3h-3zm-51 1h3v3h-3zm8 0h3v3h-3zm5 0h3v3h-3zm48 0h3v3h-3zm12 0h3v3h-3zm-57 1h3v3h-3zm12 0h3v3h-3zm2 0h3v3h-3zm7 0h3v3h-3zm27 0h3v3h-3zm8 0h3v3h-3zm31 0h3v3h-3zm77 0h3v3h-3zm-184 1h3v3h-3zm112 0h3v3h-3zm-72 1h3v3h-3zm14 0h3v3h-3zm136 0h3v3h-3zm-100 1h3v3h-3zm94 0h3v3h-3zm17 0h3v3h-3zm-193 1h3v3h-3zm18 0h3v3h-3zm42 0h3v3h-3zm55 0h3v3h-3zm85 0h3v3h-3zm-205 1h3v3h-3zm32 0h3v3h-3zm20 0h3v3h-3zm6 0h3v3h-3zm3 0h3v3h-3zm2 0h3v3h-3zm41 0h3v3h-3zm2 0h3v3h-3zm17 0h3v3h-3zm-90 2h3v3h-3zm4 0h3v3h-3zm6 0h3v3h-3zm19 0h3v3h-3zm2 0h3v3h-3zm11 0h3v3h-3zm-68 1h3v3h-3zm13 0h3v3h-3zm27 0h3v3h-3zm17 0h3v3h-3zm126 0h3v3h-3zm12 0h3v3h-3zm-158 1h3v3h-3zm2 0h3v3h-3zm1 0h3v3h-3zm2 0h3v3h-3zm25 0h3v3h-3zm108 0h3v3h-3zm-180 1h3v3h-3zm23 0h3v3h-3zm10 0h3v3h-3zm5 0h3v3h-3zm2 0h3v3h-3zm23 0h3v3h-3zm3 0h3v3h-3zm1 0h3v3h-3zm30 0h3v3h-3zm-61 1h3v3h-3zm1 0h3v3h-3zm35 0h3v3h-3zm23 0h3v3h-3zm107 0h3v3h-3zm-204 1h3v3h-3zm55 0h3v3h-3zm1 0h3v3h-3zm30 0h3v3h-3zm8 0h3v3h-3zm31 0h3v3h-3zm-102 1h3v3h-3zm6 0h3v3h-3zm28 0h3v3h-3zm156 0h3v3h-3zm-203 1h3v3h-3zm9 0h3v3h-3zm2 0h3v3h-3zm23 0h3v3h-3zm3 0h3v3h-3zm8 0h3v3h-3zm-37 1h3v3h-3zm33 0h3v3h-3zm1 0h3v3h-3zm-19 1h3v3h-3zm18 0h3v3h-3zm12 0h3v3h-3zm1 0h3v3h-3zm48 0h3v3h-3zm88 0h3v3h-3zm-165 1h3v3h-3zm26 0h3v3h-3zm16 0h3v3h-3zm13 0h3v3h-3zm90 0h3v3h-3zm-89 1h3v3h-3zm92 0h3v3h-3zm-180 1h3v3h-3zm15 0h3v3h-3zm10 0h3v3h-3zm10 0h3v3h-3zm17 0h3v3h-3zm68 0h3v3h-3zm72 0h3v3h-3zm-203 1h3v3h-3zm9 0h3v3h-3zm3 0h3v3h-3zm26 0h3v3h-3zm-12 1h3v3h-3zm2 0h3v3h-3zm18 0h3v3h-3zm15 0h3v3h-3zm21 0h3v3h-3zm117 0h3v3h-3zm-150 1h3v3h-3zm8 0h3v3h-3zm134 0h3v3h-3zm11 0h3v3h-3zm-202 1h3v3h-3zm55 0h3v3h-3zm5 0h3v3h-3zm18 0h3v3h-3zm-44 1h3v3h-3zm13 0h3v3h-3zm20 0h3v3h-3zm13 0h3v3h-3zm2 0h3v3h-3zm5 0h3v3h-3zm40 0h3v3h-3zm-80 1h3v3h-3zm24 0h3v3h-3zm58 0h3v3h-3zm-104 1h3v3h-3zm6 0h3v3h-3zm19 0h3v3h-3zm9 0h3v3h-3zm41 0h3v3h-3zm33 0h3v3h-3zm-79 1h3v3h-3zm2 0h3v3h-3zm-39 1h3v3h-3zm9 0h3v3h-3zm12 0h3v3h-3zm26 0h3v3h-3zm5 0h3v3h-3zm157 0h3v3h-3zm-214 1h3v3h-3zm57 0h3v3h-3zm2 0h3v3h-3zm3 0h3v3h-3zm30 0h3v3h-3zm3 0h3v3h-3zm24 0h3v3h-3zm-100 1h3v3h-3zm8 0h3v3h-3zm15 0h3v3h-3zm10 0h3v3h-3zm8 0h3v3h-3zm12 0h3v3h-3zm41 0h3v3h-3zm66 0h3v3h-3zm39 0h3v3h-3zm-167 1h3v3h-3zm5 0h3v3h-3zm124 0h3v3h-3zm-164 1h3v3h-3zm61 0h3v3h-3zm43 0h3v3h-3zm1 0h3v3h-3zm-84 1h3v3h-3zm79 0h3v3h-3zm61 0h3v3h-3zm8 0h3v3h-3zm-200 1h3v3h-3zm24 0h3v3h-3zm7 0h3v3h-3zm5 0h3v3h-3zm20 0h3v3h-3zm18 0h3v3h-3zm8 0h3v3h-3zm57 0h3v3h-3zm51 0h3v3h-3zm6 0h3v3h-3zm-178 1h3v3h-3zm15 0h3v3h-3zm29 0h3v3h-3zm2 0h3v3h-3zm14 0h3v3h-3zm6 0h3v3h-3zm2 0h3v3h-3zm6 0h3v3h-3zm-62 1h3v3h-3zm9 0h3v3h-3zm152 0h3v3h-3zm-161 1h3v3h-3zm27 0h3v3h-3zm153 0h3v3h-3zm-209 1h3v3h-3zm21 0h3v3h-3zm7 0h3v3h-3zm19 0h3v3h-3zm22 0h3v3h-3zm6 0h3v3h-3zm5 0h3v3h-3zm17 0h3v3h-3zm35 0h3v3h-3zm-72 1h3v3h-3zm2 0h3v3h-3zm15 0h3v3h-3zm25 0h3v3h-3zm-6 1h3v3h-3zm8 0h3v3h-3zm-45 1h3v3h-3zm16 0h3v3h-3zm120 0h3v3h-3zm15 0h3v3h-3zm-196 1h3v3h-3zm18 0h3v3h-3zm32 0h3v3h-3zm8 0h3v3h-3zm1 0h3v3h-3zm10 0h3v3h-3zm46 0h3v3h-3zm69 0h3v3h-3zm1 0h3v3h-3zm21 0h3v3h-3zm-187 1h3v3h-3zm22 0h3v3h-3zm20 0h3v3h-3zm46 0h3v3h-3zm85 0h3v3h-3zm-152 1h3v3h-3zm133 0h3v3h-3zm1 0h3v3h-3zm10 0h3v3h-3zm-166 1h3v3h-3zm5 0h3v3h-3zm18 0h3v3h-3zm3 0h3v3h-3zm18 0h3v3h-3zm40 0h3v3h-3zm-55 1h3v3h-3zm77 0h3v3h-3zm2 0h3v3h-3zm60 0h3v3h-3zm-166 1h3v3h-3zm7 0h3v3h-3zm98 0h3v3h-3zm47 0h3v3h-3zm1 0h3v3h-3zm1 0h3v3h-3zm-173 1h3v3h-3zm34 0h3v3h-3zm1 0h3v3h-3zm5 0h3v3h-3zm9 0h3v3h-3zm3 0h3v3h-3zm1 0h3v3h-3zm2 0h3v3h-3zm57 0h3v3h-3zm-84 1h3v3h-3zm27 0h3v3h-3zm23 0h3v3h-3zm113 0h3v3h-3zm-207 1h3v3h-3zm9 0h3v3h-3zm26 0h3v3h-3zm1 0h3v3h-3zm6 0h3v3h-3zm3 0h3v3h-3zm2 0h3v3h-3zm11 0h3v3h-3zm11 0h3v3h-3zm7 0h3v3h-3zm59 0h3v3h-3zm4 0h3v3h-3zm4 0h3v3h-3zm49 0h3v3h-3zm-158 1h3v3h-3zm4 0h3v3h-3zm11 0h3v3h-3zm87 0h3v3h-3zm2 0h3v3h-3zm-102 1h3v3h-3zm20 0h3v3h-3zm19 0h3v3h-3zm24 0h3v3h-3zm37 0h3v3h-3zm-93 1h3v3h-3zm43 0h3v3h-3zm52 0h3v3h-3zm56 0h3v3h-3zm-97 1h3v3h-3zm36 0h3v3h-3zm247 0h3v3h-3zm-345 1h3v3h-3zm12 0h3v3h-3zm92 0h3v3h-3zm-12 1h3v3h-3zm-109 1h3v3h-3zm11 0h3v3h-3zm23 0h3v3h-3zm83 0h3v3h-3zm52 0h3v3h-3zm3 0h3v3h-3zm-175 1h3v3h-3zm15 0h3v3h-3zm20 0h3v3h-3zm22 0h3v3h-3zm11 0h3v3h-3zm16 0h3v3h-3zm26 0h3v3h-3zm100 0h3v3h-3zm-200 1h3v3h-3zm95 0h3v3h-3zm12 0h3v3h-3zm6 0h3v3h-3zm5 0h3v3h-3zm2 0h3v3h-3zm41 0h3v3h-3zm-109 1h3v3h-3zm66 0h3v3h-3zm52 0h3v3h-3zm-125 1h3v3h-3zm7 0h3v3h-3zm24 0h3v3h-3zm34 0h3v3h-3zm47 0h3v3h-3zm5 0h3v3h-3zm-182 1h3v3h-3zm5 0h3v3h-3zm6 0h3v3h-3zm28 0h3v3h-3zm22 0h3v3h-3zm24 0h3v3h-3zm8 0h3v3h-3zm38 0h3v3h-3zm1 0h3v3h-3zm10 0h3v3h-3zm2 0h3v3h-3zm48 0h3v3h-3zm9 0h3v3h-3zm-199 1h3v3h-3zm9 0h3v3h-3zm61 0h3v3h-3zm51 0h3v3h-3zm74 0h3v3h-3zm-161 1h3v3h-3zm14 0h3v3h-3zm4 0h3v3h-3zm6 0h3v3h-3zm14 0h3v3h-3zm1 0h3v3h-3zm14 0h3v3h-3zm22 0h3v3h-3zm1 0h3v3h-3zm4 0h3v3h-3zm20 0h3v3h-3zm10 0h3v3h-3zm28 0h3v3h-3zm-140 1h3v3h-3zm103 0h3v3h-3zm3 0h3v3h-3zm5 0h3v3h-3zm1 0h3v3h-3zm27 0h3v3h-3zm8 0h3v3h-3zm-41 1h3v3h-3zm1 0h3v3h-3zm31 0h3v3h-3zm3 0h3v3h-3zm-136 1h3v3h-3zm66 0h3v3h-3zm13 0h3v3h-3zm9 0h3v3h-3zm9 0h3v3h-3zm5 0h3v3h-3zm9 0h3v3h-3zm29 0h3v3h-3zm2 0h3v3h-3zm8 0h3v3h-3zm2 0h3v3h-3zm7 0h3v3h-3zm6 0h3v3h-3zm-209 1h3v3h-3zm26 0h3v3h-3zm2 0h3v3h-3zm13 0h3v3h-3zm13 0h3v3h-3zm3 0h3v3h-3zm3 0h3v3h-3zm50 0h3v3h-3zm22 0h3v3h-3zm2 0h3v3h-3zm1 0h3v3h-3zm7 0h3v3h-3zm4 0h3v3h-3zm1 0h3v3h-3zm7 0h3v3h-3zm27 0h3v3h-3zm2 0h3v3h-3zm2 0h3v3h-3zm3 0h3v3h-3zm5 0h3v3h-3zm24 0h3v3h-3zm-191 1h3v3h-3zm8 0h3v3h-3zm2 0h3v3h-3zm8 0h3v3h-3zm34 0h3v3h-3zm14 0h3v3h-3zm1 0h3v3h-3zm28 0h3v3h-3zm28 0h3v3h-3zm14 0h3v3h-3zm6 0h3v3h-3zm-131 1h3v3h-3zm107 0h3v3h-3zm10 0h3v3h-3zm10 0h3v3h-3zm6 0h3v3h-3zm6 0h3v3h-3zm-154 1h3v3h-3zm10 0h3v3h-3zm20 0h3v3h-3zm11 0h3v3h-3zm60 0h3v3h-3zm18 0h3v3h-3zm15 0h3v3h-3zm11 0h3v3h-3zm3 0h3v3h-3zm6 0h3v3h-3zm1 0h3v3h-3zm2 0h3v3h-3zm8 0h3v3h-3zm-154 1h3v3h-3zm2 0h3v3h-3zm6 0h3v3h-3zm12 0h3v3h-3zm55 0h3v3h-3zm36 0h3v3h-3zm7 0h3v3h-3zm1 0h3v3h-3zm6 0h3v3h-3zm5 0h3v3h-3zm7 0h3v3h-3zm4 0h3v3h-3zm14 0h3v3h-3zm-187 1h3v3h-3zm23 0h3v3h-3zm12 0h3v3h-3zm3 0h3v3h-3zm9 0h3v3h-3zm8 0h3v3h-3zm10 0h3v3h-3zm14 0h3v3h-3zm2 0h3v3h-3zm1 0h3v3h-3zm11 0h3v3h-3zm39 0h3v3h-3zm7 0h3v3h-3zm9 0h3v3h-3zm7 0h3v3h-3zm1 0h3v3h-3zm4 0h3v3h-3zm7 0h3v3h-3zm8 0h3v3h-3zm17 0h3v3h-3zm-195 1h3v3h-3zm11 0h3v3h-3zm12 0h3v3h-3zm8 0h3v3h-3zm32 0h3v3h-3zm4 0h3v3h-3zm41 0h3v3h-3zm37 0h3v3h-3zm6 0h3v3h-3zm3 0h3v3h-3zm2 0h3v3h-3zm6 0h3v3h-3zm1 0h3v3h-3zm6 0h3v3h-3zm12 0h3v3h-3zm1 0h3v3h-3zm6 0h3v3h-3zm4 0h3v3h-3zm4 0h3v3h-3zm-182 1h3v3h-3zm42 0h3v3h-3zm21 0h3v3h-3zm28 0h3v3h-3zm51 0h3v3h-3zm7 0h3v3h-3zm2 0h3v3h-3zm12 0h3v3h-3zm-149 1h3v3h-3zm3 0h3v3h-3zm48 0h3v3h-3zm21 0h3v3h-3zm34 0h3v3h-3zm4 0h3v3h-3zm12 0h3v3h-3zm11 0h3v3h-3zm8 0h3v3h-3zm16 0h3v3h-3zm4 0h3v3h-3zm-165 1h3v3h-3zm14 0h3v3h-3zm16 0h3v3h-3zm12 0h3v3h-3zm83 0h3v3h-3zm4 0h3v3h-3zm8 0h3v3h-3zm12 0h3v3h-3zm1 0h3v3h-3zm24 0h3v3h-3zm-148 1h3v3h-3zm5 0h3v3h-3zm18 0h3v3h-3zm13 0h3v3h-3zm1 0h3v3h-3zm1 0h3v3h-3zm15 0h3v3h-3zm9 0h3v3h-3zm23 0h3v3h-3zm19 0h3v3h-3zm3 0h3v3h-3zm18 0h3v3h-3zm18 0h3v3h-3zm7 0h3v3h-3zm16 0h3v3h-3zm-205 1h3v3h-3zm9 0h3v3h-3zm18 0h3v3h-3zm15 0h3v3h-3zm10 0h3v3h-3zm3 0h3v3h-3zm30 0h3v3h-3zm24 0h3v3h-3zm20 0h3v3h-3zm8 0h3v3h-3zm6 0h3v3h-3zm1 0h3v3h-3zm12 0h3v3h-3zm8 0h3v3h-3zm9 0h3v3h-3zm2 0h3v3h-3zm-147 1h3v3h-3zm8 0h3v3h-3zm16 0h3v3h-3zm37 0h3v3h-3zm45 0h3v3h-3zm4 0h3v3h-3zm7 0h3v3h-3zm2 0h3v3h-3zm1 0h3v3h-3zm4 0h3v3h-3zm3 0h3v3h-3zm1 0h3v3h-3zm5 0h3v3h-3zm4 0h3v3h-3zm2 0h3v3h-3zm7 0h3v3h-3zm9 0h3v3h-3zm-192 1h3v3h-3zm17 0h3v3h-3zm13 0h3v3h-3zm9 0h3v3h-3zm31 0h3v3h-3zm3 0h3v3h-3zm53 0h3v3h-3zm2 0h3v3h-3zm8 0h3v3h-3zm9 0h3v3h-3zm3 0h3v3h-3zm1 0h3v3h-3zm12 0h3v3h-3zm7 0h3v3h-3zm1 0h3v3h-3zm1 0h3v3h-3zm40 0h3v3h-3zm-196 1h3v3h-3zm5 0h3v3h-3zm39 0h3v3h-3zm13 0h3v3h-3zm38 0h3v3h-3zm12 0h3v3h-3zm4 0h3v3h-3zm6 0h3v3h-3zm15 0h3v3h-3zm5 0h3v3h-3zm1 0h3v3h-3zm5 0h3v3h-3zm8 0h3v3h-3zm9 0h3v3h-3zm7 0h3v3h-3zm5 0h3v3h-3zm20 0h3v3h-3zm-204 1h3v3h-3zm48 0h3v3h-3zm4 0h3v3h-3zm27 0h3v3h-3zm18 0h3v3h-3zm38 0h3v3h-3zm11 0h3v3h-3zm14 0h3v3h-3zm9 0h3v3h-3zm11 0h3v3h-3zm9 0h3v3h-3zm-178 1h3v3h-3zm23 0h3v3h-3zm3 0h3v3h-3zm37 0h3v3h-3zm4 0h3v3h-3zm61 0h3v3h-3zm4 0h3v3h-3zm4 0h3v3h-3zm3 0h3v3h-3zm12 0h3v3h-3zm14 0h3v3h-3zm-167 1h3v3h-3zm1 0h3v3h-3zm60 0h3v3h-3zm60 0h3v3h-3zm7 0h3v3h-3zm15 0h3v3h-3zm3 0h3v3h-3zm1 0h3v3h-3zm1 0h3v3h-3zm3 0h3v3h-3zm2 0h3v3h-3zm2 0h3v3h-3zm5 0h3v3h-3zm3 0h3v3h-3zm1 0h3v3h-3zm7 0h3v3h-3zm-172 1h3v3h-3zm41 0h3v3h-3zm23 0h3v3h-3zm59 0h3v3h-3zm10 0h3v3h-3zm6 0h3v3h-3zm6 0h3v3h-3zm5 0h3v3h-3zm1 0h3v3h-3zm1 0h3v3h-3zm1 0h3v3h-3zm10 0h3v3h-3zm4 0h3v3h-3zm-52 1h3v3h-3zm1 0h3v3h-3zm13 0h3v3h-3zm3 0h3v3h-3zm14 0h3v3h-3zm13 0h3v3h-3zm1 0h3v3h-3zm3 0h3v3h-3zm1 0h3v3h-3zm15 0h3v3h-3zm-149 1h3v3h-3zm28 0h3v3h-3zm42 0h3v3h-3zm17 0h3v3h-3zm20 0h3v3h-3zm2 0h3v3h-3zm2 0h3v3h-3zm2 0h3v3h-3zm3 0h3v3h-3zm9 0h3v3h-3zm5 0h3v3h-3zm1 0h3v3h-3zm1 0h3v3h-3zm18 0h3v3h-3zm8 0h3v3h-3zm-191 1h3v3h-3zm19 0h3v3h-3zm12 0h3v3h-3zm41 0h3v3h-3zm5 0h3v3h-3zm6 0h3v3h-3zm57 0h3v3h-3zm3 0h3v3h-3zm12 0h3v3h-3zm2 0h3v3h-3zm1 0h3v3h-3zm11 0h3v3h-3zm4 0h3v3h-3zm1 0h3v3h-3zm2 0h3v3h-3zm8 0h3v3h-3zm136 0h3v3h-3zm-281 1h3v3h-3zm26 0h3v3h-3zm8 0h3v3h-3zm32 0h3v3h-3zm23 0h3v3h-3zm12 0h3v3h-3zm14 0h3v3h-3zm2 0h3v3h-3zm8 0h3v3h-3zm1 0h3v3h-3zm18 0h3v3h-3zm-174 1h3v3h-3zm38 0h3v3h-3zm78 0h3v3h-3zm28 0h3v3h-3zm9 0h3v3h-3zm27 0h3v3h-3zm-181 1h3v3h-3zm2 0h3v3h-3zm19 0h3v3h-3zm8 0h3v3h-3zm2 0h3v3h-3zm6 0h3v3h-3zm32 0h3v3h-3zm20 0h3v3h-3zm12 0h3v3h-3zm26 0h3v3h-3zm4 0h3v3h-3zm11 0h3v3h-3zm5 0h3v3h-3zm5 0h3v3h-3zm1 0h3v3h-3zm1 0h3v3h-3zm2 0h3v3h-3zm14 0h3v3h-3zm2 0h3v3h-3zm3 0h3v3h-3zm-143 1h3v3h-3zm45 0h3v3h-3zm37 0h3v3h-3zm7 0h3v3h-3zm10 0h3v3h-3zm6 0h3v3h-3zm2 0h3v3h-3zm6 0h3v3h-3zm1 0h3v3h-3zm15 0h3v3h-3zm2 0h3v3h-3zm-132 1h3v3h-3zm9 0h3v3h-3zm19 0h3v3h-3zm7 0h3v3h-3zm34 0h3v3h-3zm5 0h3v3h-3zm15 0h3v3h-3zm17 0h3v3h-3zm3 0h3v3h-3zm2 0h3v3h-3zm6 0h3v3h-3zm7 0h3v3h-3zm19 0h3v3h-3zm-178 1h3v3h-3zm52 0h3v3h-3zm12 0h3v3h-3zm18 0h3v3h-3zm40 0h3v3h-3zm6 0h3v3h-3zm7 0h3v3h-3zm3 0h3v3h-3zm4 0h3v3h-3zm6 0h3v3h-3zm4 0h3v3h-3zm2 0h3v3h-3zm3 0h3v3h-3zm5 0h3v3h-3zm3 0h3v3h-3zm3 0h3v3h-3zm1 0h3v3h-3zm7 0h3v3h-3zm18 0h3v3h-3zm-172 1h3v3h-3zm1 0h3v3h-3zm62 0h3v3h-3zm8 0h3v3h-3zm16 0h3v3h-3zm9 0h3v3h-3zm13 0h3v3h-3zm5 0h3v3h-3zm6 0h3v3h-3zm13 0h3v3h-3zm4 0h3v3h-3zm-146 1h3v3h-3zm20 0h3v3h-3zm35 0h3v3h-3zm7 0h3v3h-3zm21 0h3v3h-3zm21 0h3v3h-3zm4 0h3v3h-3zm11 0h3v3h-3zm11 0h3v3h-3zm2 0h3v3h-3zm2 0h3v3h-3zm2 0h3v3h-3zm29 0h3v3h-3zm5 0h3v3h-3zm-183 1h3v3h-3zm16 0h3v3h-3zm8 0h3v3h-3zm66 0h3v3h-3zm39 0h3v3h-3zm4 0h3v3h-3zm15 0h3v3h-3zm5 0h3v3h-3zm3 0h3v3h-3zm3 0h3v3h-3zm14 0h3v3h-3zm1 0h3v3h-3zm4 0h3v3h-3zm-170 1h3v3h-3zm5 0h3v3h-3zm10 0h3v3h-3zm23 0h3v3h-3zm81 0h3v3h-3zm1 0h3v3h-3zm10 0h3v3h-3zm3 0h3v3h-3zm4 0h3v3h-3zm8 0h3v3h-3zm1 0h3v3h-3zm8 0h3v3h-3zm3 0h3v3h-3zm11 0h3v3h-3zm-164 1h3v3h-3zm34 0h3v3h-3zm65 0h3v3h-3zm5 0h3v3h-3zm18 0h3v3h-3zm5 0h3v3h-3zm8 0h3v3h-3zm5 0h3v3h-3zm6 0h3v3h-3zm12 0h3v3h-3zm2 0h3v3h-3zm8 0h3v3h-3zm3 0h3v3h-3zm2 0h3v3h-3zm17 0h3v3h-3zm-161 1h3v3h-3zm19 0h3v3h-3zm62 0h3v3h-3zm5 0h3v3h-3zm2 0h3v3h-3zm13 0h3v3h-3zm13 0h3v3h-3zm3 0h3v3h-3zm19 0h3v3h-3zm-170 1h3v3h-3zm2 0h3v3h-3zm22 0h3v3h-3zm9 0h3v3h-3zm23 0h3v3h-3zm67 0h3v3h-3zm10 0h3v3h-3zm4 0h3v3h-3zm1 0h3v3h-3zm4 0h3v3h-3zm7 0h3v3h-3zm2 0h3v3h-3zm2 0h3v3h-3zm3 0h3v3h-3zm3 0h3v3h-3zm4 0h3v3h-3zm4 0h3v3h-3zm25 0h3v3h-3zm-184 1h3v3h-3zm32 0h3v3h-3zm2 0h3v3h-3zm1 0h3v3h-3zm60 0h3v3h-3zm20 0h3v3h-3zm3 0h3v3h-3zm3 0h3v3h-3zm17 0h3v3h-3zm5 0h3v3h-3zm6 0h3v3h-3zm-141 1h3v3h-3zm27 0h3v3h-3zm44 0h3v3h-3zm2 0h3v3h-3zm18 0h3v3h-3zm5 0h3v3h-3zm21 0h3v3h-3zm9 0h3v3h-3zm2 0h3v3h-3zm4 0h3v3h-3zm4 0h3v3h-3zm4 0h3v3h-3zm44 0h3v3h-3zm-166 1h3v3h-3zm24 0h3v3h-3zm8 0h3v3h-3zm14 0h3v3h-3zm40 0h3v3h-3zm3 0h3v3h-3zm8 0h3v3h-3zm13 0h3v3h-3zm5 0h3v3h-3zm2 0h3v3h-3zm3 0h3v3h-3zm4 0h3v3h-3zm-165 1h3v3h-3zm52 0h3v3h-3zm5 0h3v3h-3zm2 0h3v3h-3zm14 0h3v3h-3zm10 0h3v3h-3zm51 0h3v3h-3zm1 0h3v3h-3zm5 0h3v3h-3zm3 0h3v3h-3zm7 0h3v3h-3zm6 0h3v3h-3zm14 0h3v3h-3zm2 0h3v3h-3zm6 0h3v3h-3zm6 0h3v3h-3zm-185 1h3v3h-3zm42 0h3v3h-3zm78 0h3v3h-3zm17 0h3v3h-3zm2 0h3v3h-3zm6 0h3v3h-3zm8 0h3v3h-3zm5 0h3v3h-3zm5 0h3v3h-3zm9 0h3v3h-3zm-148 1h3v3h-3zm24 0h3v3h-3zm1 0h3v3h-3zm1 0h3v3h-3zm21 0h3v3h-3zm45 0h3v3h-3zm9 0h3v3h-3zm1 0h3v3h-3zm10 0h3v3h-3zm2 0h3v3h-3zm5 0h3v3h-3zm3 0h3v3h-3zm1 0h3v3h-3zm6 0h3v3h-3zm8 0h3v3h-3zm3 0h3v3h-3zm1 0h3v3h-3zm9 0h3v3h-3zm-152 1h3v3h-3zm33 0h3v3h-3zm75 0h3v3h-3zm1 0h3v3h-3zm7 0h3v3h-3zm2 0h3v3h-3zm3 0h3v3h-3zm1 0h3v3h-3zm1 0h3v3h-3zm8 0h3v3h-3zm11 0h3v3h-3zm13 0h3v3h-3zm-119 1h3v3h-3zm28 0h3v3h-3zm36 0h3v3h-3zm2 0h3v3h-3zm6 0h3v3h-3zm4 0h3v3h-3zm10 0h3v3h-3zm1 0h3v3h-3zm18 0h3v3h-3zm6 0h3v3h-3zm-149 1h3v3h-3zm9 0h3v3h-3zm88 0h3v3h-3zm4 0h3v3h-3zm3 0h3v3h-3zm13 0h3v3h-3zm13 0h3v3h-3zm5 0h3v3h-3zm12 0h3v3h-3zm10 0h3v3h-3zm3 0h3v3h-3zm-184 1h3v3h-3zm31 0h3v3h-3zm44 0h3v3h-3zm18 0h3v3h-3zm36 0h3v3h-3zm10 0h3v3h-3zm15 0h3v3h-3zm8 0h3v3h-3zm4 0h3v3h-3zm-162 1h3v3h-3zm40 0h3v3h-3zm14 0h3v3h-3zm62 0h3v3h-3zm8 0h3v3h-3zm19 0h3v3h-3zm5 0h3v3h-3zm1 0h3v3h-3zm9 0h3v3h-3zm13 0h3v3h-3zm3 0h3v3h-3zm5 0h3v3h-3zm9 0h3v3h-3zm8 0h3v3h-3zm-178 1h3v3h-3zm9 0h3v3h-3zm5 0h3v3h-3zm11 0h3v3h-3zm36 0h3v3h-3zm67 0h3v3h-3zm5 0h3v3h-3zm16 0h3v3h-3zm20 0h3v3h-3zm-179 1h3v3h-3zm22 0h3v3h-3zm31 0h3v3h-3zm77 0h3v3h-3zm4 0h3v3h-3zm3 0h3v3h-3zm3 0h3v3h-3zm4 0h3v3h-3zm9 0h3v3h-3zm4 0h3v3h-3zm-144 1h3v3h-3zm67 0h3v3h-3zm45 0h3v3h-3zm1 0h3v3h-3zm11 0h3v3h-3zm-130 1h3v3h-3zm32 0h3v3h-3zm4 0h3v3h-3zm97 0h3v3h-3zm6 0h3v3h-3zm6 0h3v3h-3zm-132 1h3v3h-3zm36 0h3v3h-3zm67 0h3v3h-3zm2 0h3v3h-3zm10 0h3v3h-3zm12 0h3v3h-3zm5 0h3v3h-3zm15 0h3v3h-3zm15 0h3v3h-3zm5 0h3v3h-3zm-191 1h3v3h-3zm80 0h3v3h-3zm8 0h3v3h-3zm17 0h3v3h-3zm25 0h3v3h-3zm10 0h3v3h-3zm8 0h3v3h-3zm3 0h3v3h-3zm7 0h3v3h-3zm4 0h3v3h-3zm1 0h3v3h-3zm-173 1h3v3h-3zm37 0h3v3h-3zm9 0h3v3h-3zm6 0h3v3h-3zm46 0h3v3h-3zm74 0h3v3h-3zm1 0h3v3h-3zm4 0h3v3h-3zm-163 1h3v3h-3zm42 0h3v3h-3zm11 0h3v3h-3zm13 0h3v3h-3zm75 0h3v3h-3zm12 0h3v3h-3zm7 0h3v3h-3zm-164 1h3v3h-3zm132 0h3v3h-3zm3 0h3v3h-3zm23 0h3v3h-3zm3 0h3v3h-3zm11 0h3v3h-3zm-149 1h3v3h-3zm9 0h3v3h-3zm4 0h3v3h-3zm8 0h3v3h-3zm88 0h3v3h-3zm1 0h3v3h-3zm11 0h3v3h-3zm5 0h3v3h-3zm3 0h3v3h-3zm-107 1h3v3h-3zm74 0h3v3h-3zm12 0h3v3h-3zm3 0h3v3h-3zm27 0h3v3h-3zm27 0h3v3h-3zm-157 1h3v3h-3zm81 0h3v3h-3zm23 0h3v3h-3zm12 0h3v3h-3zm-147 1h3v3h-3zm42 0h3v3h-3zm79 0h3v3h-3zm35 0h3v3h-3zm20 0h3v3h-3zm-132 1h3v3h-3zm4 0h3v3h-3zm85 0h3v3h-3zm4 0h3v3h-3zm7 0h3v3h-3zm11 0h3v3h-3zm-138 1h3v3h-3zm96 0h3v3h-3zm18 0h3v3h-3zm1 0h3v3h-3zm21 0h3v3h-3zm2 0h3v3h-3zm22 0h3v3h-3zm5 0h3v3h-3zm-138 1h3v3h-3zm-10 1h3v3h-3zm96 0h3v3h-3zm-88 1h3v3h-3zm23 0h3v3h-3zm13 0h3v3h-3zm52 0h3v3h-3zm1 0h3v3h-3zm47 0h3v3h-3zm-39 1h3v3h-3zm-86 1h3v3h-3zm2 0h3v3h-3zm99 0h3v3h-3zm-150 1h3v3h-3zm33 0h3v3h-3zm25 0h3v3h-3zm75 0h3v3h-3zm11 0h3v3h-3zm18 0h3v3h-3zm-139 1h3v3h-3zm122 0h3v3h-3zm37 0h3v3h-3zm-178 1h3v3h-3zm121 0h3v3h-3zm28 0h3v3h-3zm-163 1h3v3h-3zm146 0h3v3h-3zm4 1h3v3h-3zm25 0h3v3h-3zm4 0h3v3h-3zm-134 1h3v3h-3zm96 0h3v3h-3zm12 0h3v3h-3zm-19 1h3v3h-3z" fill="#000"/></g>
<path d="M753.2 731.8H1313.9V1233.6H753.2Z M980 731.8V1233.6 M753.2 915H1313.9" fill="none" stroke="#2a2a2a" stroke-width="2.4"/>
<path d="M729.8 743.0H753.2M729.8 792.0H753.2M729.8 841.1H753.2M729.8 890.2H753.2M729.8 939.2H753.2M729.8 988.3H753.2M729.8 1037.3H753.2M729.8 1086.4H753.2M729.8 1135.5H753.2M729.8 1184.5H753.2M729.8 1233.6H753.2" stroke="#1a1a1a" stroke-width="2.8"/>
<path d="M792.1 1233.6v11.2M817.0 1233.6v11.2M834.6 1233.6v11.2M848.3 1233.6v11.2M859.4 1233.6v11.2M868.9 1233.6v11.2M877.1 1233.6v11.2M884.3 1233.6v11.2M933.2 1233.6v11.2M958.0 1233.6v11.2M975.7 1233.6v11.2M989.3 1233.6v11.2M1000.5 1233.6v11.2M1009.9 1233.6v11.2M1018.1 1233.6v11.2M1025.3 1233.6v11.2M1074.2 1233.6v11.2M1099.1 1233.6v11.2M1116.7 1233.6v11.2M1130.4 1233.6v11.2M1141.6 1233.6v11.2M1151.0 1233.6v11.2M1159.2 1233.6v11.2M1166.4 1233.6v11.2M1215.3 1233.6v11.2M1240.1 1233.6v11.2M1257.8 1233.6v11.2M1271.4 1233.6v11.2M1282.6 1233.6v11.2M1292.1 1233.6v11.2M1300.2 1233.6v11.2M1307.4 1233.6v11.2" stroke="#1a1a1a" stroke-width="3"/>
<path d="M890.7 1233.6v19.3M1031.8 1233.6v19.3M1172.8 1233.6v19.3M1313.9 1233.6v19.3" stroke="#1a1a1a" stroke-width="3"/>
<text x="880.1" y="1273.7" font-size="26.4" fill="#111" stroke="#111" stroke-width="1.5" textLength="26.4" lengthAdjust="spacingAndGlyphs">10</text>
<text x="909.5" y="1264.1" font-size="19.8" fill="#111" stroke="#111" stroke-width="1">0</text>
<text x="1021.1" y="1273.7" font-size="26.4" fill="#111" stroke="#111" stroke-width="1.5" textLength="26.4" lengthAdjust="spacingAndGlyphs">10</text>
<text x="1050.6" y="1264.1" font-size="19.8" fill="#111" stroke="#111" stroke-width="1">1</text>
<text x="1162.2" y="1273.7" font-size="26.4" fill="#111" stroke="#111" stroke-width="1.5" textLength="26.4" lengthAdjust="spacingAndGlyphs">10</text>
<text x="1191.6" y="1264.1" font-size="19.8" fill="#111" stroke="#111" stroke-width="1">2</text>
<text x="1303.2" y="1273.7" font-size="26.4" fill="#111" stroke="#111" stroke-width="1.5" textLength="26.4" lengthAdjust="spacingAndGlyphs">10</text>
<text x="1332.7" y="1264.1" font-size="19.8" fill="#111" stroke="#111" stroke-width="1">3</text>
<text transform="scale(0.89,1)" x="845.5" y="761.3" font-size="32.0" font-weight="bold" fill="#111">A1</text>
<text transform="scale(0.89,1)" x="1100.9" y="761.3" font-size="32.0" font-weight="bold" fill="#111">A2</text>
<text transform="scale(0.89,1)" x="845.5" y="944.5" font-size="32.0" font-weight="bold" fill="#111">A3</text>
<text transform="scale(0.89,1)" x="1100.9" y="944.5" font-size="32.0" font-weight="bold" fill="#111">A4</text>
<text transform="scale(0.9,1)" x="911.6" y="785.4" font-size="48.73" font-weight="normal" textLength="151.4" lengthAdjust="spacing" fill="#111" stroke="#111" stroke-width="1.1">6.63%</text>
<text transform="scale(0.9,1)" x="1271.3" y="783.6" font-size="48.73" font-weight="normal" textLength="151.2" lengthAdjust="spacing" fill="#111" stroke="#111" stroke-width="1.1">0.37%</text>
<text transform="scale(0.9,1)" x="877.8" y="1203.3" font-size="48.73" font-weight="normal" textLength="183.5" lengthAdjust="spacing" fill="#111" stroke="#111" stroke-width="1.1">92.50%</text>
<text transform="scale(0.9,1)" x="1282.0" y="1203.3" font-size="48.73" font-weight="normal" textLength="151.2" lengthAdjust="spacing" fill="#111" stroke="#111" stroke-width="1.1">0.50%</text>
<text x="935.4" y="714.5" font-size="45.21" font-weight="bold" textLength="177.1" lengthAdjust="spacingAndGlyphs" fill="#111">WSSJD</text>
<g filter="url(#bl2)"><path d="M1552.5 972.0Q1553 957 1578.5 957.0Q1604 957 1607.5 972.0Q1611 987 1613.5 1002.5Q1616 1018 1616.5 1033.0Q1617 1048 1616.5 1063.5Q1616 1079 1613.0 1094.5Q1610 1110 1606.5 1121.5Q1603 1133 1597.0 1141.5Q1591 1150 1575.5 1150.0Q1560 1150 1553.0 1141.5Q1546 1133 1544.0 1121.5Q1542 1110 1542.5 1094.5Q1543 1079 1543.5 1063.5Q1544 1048 1545.5 1033.0Q1547 1018 1549.5 1002.5Q1552 987 1552.5 972.0Z" fill="#000" stroke="#000" stroke-width="2"/></g><g filter="url(#bl)"><path d="M1702 821h2v2h-2zm-172 2h2v2h-2zm-52 1h2v2h-2zm99 4h2v2h-2zm17 1h2v2h-2zm-166 2h2v2h-2zm190 1h2v2h-2zm-60 4h2v2h-2zm218 1h2v2h-2zm-347 1h2v2h-2zm256 1h2v2h-2zm-91 1h2v2h-2zm185 0h2v2h-2zm-195 1h2v2h-2zm159 2h2v2h-2zm-253 1h2v2h-2zm92 0h2v2h-2zm19 0h2v2h-2zm-31 1h2v2h-2zm43 0h2v2h-2zm-170 1h2v2h-2zm155 0h2v2h-2zm-21 1h2v2h-2zm9 0h2v2h-2zm1 0h2v2h-2zm-28 1h2v2h-2zm40 0h2v2h-2zm-13 3h2v2h-2zm22 0h2v2h-2zm98 0h2v2h-2zm-150 1h2v2h-2zm3 0h2v2h-2zm5 0h2v2h-2zm72 0h2v2h-2zm91 0h2v2h-2zm-186 1h2v2h-2zm-96 1h2v2h-2zm15 0h2v2h-2zm111 0h2v2h-2zm11 0h2v2h-2zm21 0h2v2h-2zm-24 1h2v2h-2zm63 0h2v2h-2zm-196 2h2v2h-2zm113 0h2v2h-2zm25 0h2v2h-2zm2 0h2v2h-2zm15 0h2v2h-2zm5 0h2v2h-2zm-43 1h2v2h-2zm3 0h2v2h-2zm18 0h2v2h-2zm2 0h2v2h-2zm-17 2h2v2h-2zm2 0h2v2h-2zm36 1h2v2h-2zm-120 1h2v2h-2zm92 0h2v2h-2zm31 0h2v2h-2zm19 0h2v2h-2zm-208 1h2v2h-2zm130 0h2v2h-2zm8 0h2v2h-2zm18 0h2v2h-2zm11 0h2v2h-2zm44 0h2v2h-2zm-161 1h2v2h-2zm110 0h2v2h-2zm8 0h2v2h-2zm-33 1h2v2h-2zm33 0h2v2h-2zm8 0h2v2h-2zm118 0h2v2h-2zm-140 1h2v2h-2zm2 0h2v2h-2zm6 0h2v2h-2zm9 0h2v2h-2zm14 0h2v2h-2zm-133 1h2v2h-2zm94 0h2v2h-2zm16 0h2v2h-2zm6 0h2v2h-2zm8 0h2v2h-2zm5 0h2v2h-2zm-57 1h2v2h-2zm30 0h2v2h-2zm11 0h2v2h-2zm184 0h2v2h-2zm-331 1h2v2h-2zm102 0h2v2h-2zm31 0h2v2h-2zm9 0h2v2h-2zm5 0h2v2h-2zm9 0h2v2h-2zm142 0h2v2h-2zm-154 1h2v2h-2zm3 0h2v2h-2zm8 0h2v2h-2zm1 0h2v2h-2zm-2 1h2v2h-2zm1 0h2v2h-2zm6 0h2v2h-2zm-55 1h2v2h-2zm30 0h2v2h-2zm2 0h2v2h-2zm9 0h2v2h-2zm5 0h2v2h-2zm17 0h2v2h-2zm-71 1h2v2h-2zm6 0h2v2h-2zm34 0h2v2h-2zm10 0h2v2h-2zm24 0h2v2h-2zm-73 1h2v2h-2zm45 0h2v2h-2zm-68 1h2v2h-2zm50 0h2v2h-2zm12 0h2v2h-2zm-18 1h2v2h-2zm2 0h2v2h-2zm3 0h2v2h-2zm6 0h2v2h-2zm5 0h2v2h-2zm14 0h2v2h-2zm11 0h2v2h-2zm28 0h2v2h-2zm-63 1h2v2h-2zm6 0h2v2h-2zm8 0h2v2h-2zm17 0h2v2h-2zm9 0h2v2h-2zm-188 1h2v2h-2zm38 0h2v2h-2zm111 0h2v2h-2zm6 0h2v2h-2zm5 0h2v2h-2zm9 0h2v2h-2zm5 0h2v2h-2zm11 0h2v2h-2zm-59 1h2v2h-2zm35 0h2v2h-2zm1 0h2v2h-2zm9 0h2v2h-2zm12 0h2v2h-2zm3 0h2v2h-2zm2 0h2v2h-2zm2 0h2v2h-2zm4 0h2v2h-2zm20 0h2v2h-2zm-23 1h2v2h-2zm10 0h2v2h-2zm-46 1h2v2h-2zm13 0h2v2h-2zm4 0h2v2h-2zm10 0h2v2h-2zm81 0h2v2h-2zm73 0h2v2h-2zm-189 1h2v2h-2zm8 0h2v2h-2zm1 0h2v2h-2zm9 0h2v2h-2zm3 0h2v2h-2zm4 0h2v2h-2zm-179 1h2v2h-2zm33 0h2v2h-2zm75 0h2v2h-2zm44 0h2v2h-2zm5 0h2v2h-2zm13 0h2v2h-2zm10 0h2v2h-2zm9 0h2v2h-2zm16 0h2v2h-2zm-143 1h2v2h-2zm75 0h2v2h-2zm8 0h2v2h-2zm17 0h2v2h-2zm73 0h2v2h-2zm-223 1h2v2h-2zm14 0h2v2h-2zm132 0h2v2h-2zm5 0h2v2h-2zm1 0h2v2h-2zm23 0h2v2h-2zm-152 1h2v2h-2zm65 0h2v2h-2zm68 0h2v2h-2zm4 0h2v2h-2zm4 0h2v2h-2zm5 0h2v2h-2zm10 0h2v2h-2zm6 0h2v2h-2zm1 0h2v2h-2zm-113 1h2v2h-2zm66 0h2v2h-2zm10 0h2v2h-2zm38 0h2v2h-2zm-151 1h2v2h-2zm114 0h2v2h-2zm28 0h2v2h-2zm7 0h2v2h-2zm-187 1h2v2h-2zm16 0h2v2h-2zm120 0h2v2h-2zm2 0h2v2h-2zm20 0h2v2h-2zm12 0h2v2h-2zm32 0h2v2h-2zm-71 1h2v2h-2zm15 0h2v2h-2zm29 0h2v2h-2zm5 0h2v2h-2zm-26 1h2v2h-2zm1 0h2v2h-2zm2 0h2v2h-2zm15 0h2v2h-2zm19 0h2v2h-2zm37 0h2v2h-2zm-159 1h2v2h-2zm77 0h2v2h-2zm8 0h2v2h-2zm1 0h2v2h-2zm21 0h2v2h-2zm10 0h2v2h-2zm17 0h2v2h-2zm-55 1h2v2h-2zm2 0h2v2h-2zm22 0h2v2h-2zm-102 1h2v2h-2zm79 0h2v2h-2zm3 0h2v2h-2zm23 0h2v2h-2zm24 0h2v2h-2zm-161 1h2v2h-2zm123 0h2v2h-2zm11 0h2v2h-2zm-132 1h2v2h-2zm21 0h2v2h-2zm103 0h2v2h-2zm4 0h2v2h-2zm7 0h2v2h-2zm-40 1h2v2h-2zm22 0h2v2h-2zm5 0h2v2h-2zm10 0h2v2h-2zm2 0h2v2h-2zm17 0h2v2h-2zm-44 1h2v2h-2zm6 0h2v2h-2zm9 0h2v2h-2zm8 0h2v2h-2zm4 0h2v2h-2zm7 0h2v2h-2zm3 0h2v2h-2zm-203 1h2v2h-2zm76 0h2v2h-2zm11 0h2v2h-2zm72 0h2v2h-2zm19 0h2v2h-2zm18 0h2v2h-2zm10 0h2v2h-2zm-32 1h2v2h-2zm8 0h2v2h-2zm22 0h2v2h-2zm-46 1h2v2h-2zm2 0h2v2h-2zm8 0h2v2h-2zm16 0h2v2h-2zm1 0h2v2h-2zm2 0h2v2h-2zm6 0h2v2h-2zm-41 1h2v2h-2zm8 0h2v2h-2zm1 0h2v2h-2zm11 0h2v2h-2zm3 0h2v2h-2zm8 0h2v2h-2zm26 0h2v2h-2zm-169 1h2v2h-2zm124 0h2v2h-2zm5 0h2v2h-2zm2 0h2v2h-2zm5 0h2v2h-2zm12 0h2v2h-2zm-30 1h2v2h-2zm5 0h2v2h-2zm9 0h2v2h-2zm9 0h2v2h-2zm1 0h2v2h-2zm13 0h2v2h-2zm177 0h2v2h-2zm-334 1h2v2h-2zm18 0h2v2h-2zm93 0h2v2h-2zm3 0h2v2h-2zm13 0h2v2h-2zm3 0h2v2h-2zm6 0h2v2h-2zm1 0h2v2h-2zm6 0h2v2h-2zm9 0h2v2h-2zm10 0h2v2h-2zm8 0h2v2h-2zm12 0h2v2h-2zm9 0h2v2h-2zm97 0h2v2h-2zm-300 1h2v2h-2zm117 0h2v2h-2zm16 0h2v2h-2zm9 0h2v2h-2zm16 0h2v2h-2zm5 0h2v2h-2zm14 0h2v2h-2zm30 0h2v2h-2zm-220 1h2v2h-2zm5 0h2v2h-2zm98 0h2v2h-2zm35 0h2v2h-2zm10 0h2v2h-2zm3 0h2v2h-2zm3 0h2v2h-2zm4 0h2v2h-2zm1 0h2v2h-2zm1 0h2v2h-2zm7 0h2v2h-2zm6 0h2v2h-2zm2 0h2v2h-2zm1 0h2v2h-2zm7 0h2v2h-2zm1 0h2v2h-2zm5 0h2v2h-2zm26 0h2v2h-2zm-175 1h2v2h-2zm11 0h2v2h-2zm77 0h2v2h-2zm24 0h2v2h-2zm4 0h2v2h-2zm1 0h2v2h-2zm5 0h2v2h-2zm5 0h2v2h-2zm3 0h2v2h-2zm4 0h2v2h-2zm10 0h2v2h-2zm-132 1h2v2h-2zm91 0h2v2h-2zm15 0h2v2h-2zm7 0h2v2h-2zm8 0h2v2h-2zm14 0h2v2h-2zm5 0h2v2h-2zm9 0h2v2h-2zm7 0h2v2h-2zm30 0h2v2h-2zm-124 1h2v2h-2zm30 0h2v2h-2zm3 0h2v2h-2zm1 0h2v2h-2zm6 0h2v2h-2zm3 0h2v2h-2zm2 0h2v2h-2zm10 0h2v2h-2zm3 0h2v2h-2zm4 0h2v2h-2zm6 0h2v2h-2zm2 0h2v2h-2zm5 0h2v2h-2zm1 0h2v2h-2zm2 0h2v2h-2zm-51 1h2v2h-2zm6 0h2v2h-2zm21 0h2v2h-2zm7 0h2v2h-2zm2 0h2v2h-2zm3 0h2v2h-2zm6 0h2v2h-2zm20 0h2v2h-2zm-172 1h2v2h-2zm106 0h2v2h-2zm24 0h2v2h-2zm3 0h2v2h-2zm1 0h2v2h-2zm2 0h2v2h-2zm1 0h2v2h-2zm4 0h2v2h-2zm2 0h2v2h-2zm4 0h2v2h-2zm17 0h2v2h-2zm-55 1h2v2h-2zm1 0h2v2h-2zm11 0h2v2h-2zm8 0h2v2h-2zm2 0h2v2h-2zm-121 1h2v2h-2zm106 0h2v2h-2zm9 0h2v2h-2zm7 0h2v2h-2zm2 0h2v2h-2zm5 0h2v2h-2zm4 0h2v2h-2zm5 0h2v2h-2zm5 0h2v2h-2zm10 0h2v2h-2zm-100 1h2v2h-2zm39 0h2v2h-2zm2 0h2v2h-2zm15 0h2v2h-2zm6 0h2v2h-2zm6 0h2v2h-2zm3 0h2v2h-2zm3 0h2v2h-2zm3 0h2v2h-2zm16 0h2v2h-2zm18 0h2v2h-2zm-177 1h2v2h-2zm23 0h2v2h-2zm108 0h2v2h-2zm10 0h2v2h-2zm4 0h2v2h-2zm3 0h2v2h-2zm5 0h2v2h-2zm-150 1h2v2h-2zm8 0h2v2h-2zm108 0h2v2h-2zm1 0h2v2h-2zm7 0h2v2h-2zm18 0h2v2h-2zm6 0h2v2h-2zm10 0h2v2h-2zm-182 1h2v2h-2zm73 0h2v2h-2zm58 0h2v2h-2zm6 0h2v2h-2zm14 0h2v2h-2zm4 0h2v2h-2zm4 0h2v2h-2zm1 0h2v2h-2zm12 0h2v2h-2zm7 0h2v2h-2zm-54 1h2v2h-2zm7 0h2v2h-2zm5 0h2v2h-2zm6 0h2v2h-2zm8 0h2v2h-2zm4 0h2v2h-2zm2 0h2v2h-2zm1 0h2v2h-2zm3 0h2v2h-2zm3 0h2v2h-2zm1 0h2v2h-2zm5 0h2v2h-2zm4 0h2v2h-2zm1 0h2v2h-2zm5 0h2v2h-2zm3 0h2v2h-2zm1 0h2v2h-2zm-164 1h2v2h-2zm74 0h2v2h-2zm48 0h2v2h-2zm4 0h2v2h-2zm11 0h2v2h-2zm4 0h2v2h-2zm3 0h2v2h-2zm12 0h2v2h-2zm-177 1h2v2h-2zm9 0h2v2h-2zm124 0h2v2h-2zm7 0h2v2h-2zm10 0h2v2h-2zm5 0h2v2h-2zm10 0h2v2h-2zm2 0h2v2h-2zm9 0h2v2h-2zm1 0h2v2h-2zm22 0h2v2h-2zm4 0h2v2h-2zm-192 1h2v2h-2zm114 0h2v2h-2zm8 0h2v2h-2zm13 0h2v2h-2zm1 0h2v2h-2zm3 0h2v2h-2zm2 0h2v2h-2zm8 0h2v2h-2zm2 0h2v2h-2zm5 0h2v2h-2zm8 0h2v2h-2zm8 0h2v2h-2zm-161 1h2v2h-2zm46 0h2v2h-2zm68 0h2v2h-2zm3 0h2v2h-2zm2 0h2v2h-2zm4 0h2v2h-2zm2 0h2v2h-2zm5 0h2v2h-2zm7 0h2v2h-2zm4 0h2v2h-2zm7 0h2v2h-2zm11 0h2v2h-2zm1 0h2v2h-2zm-57 1h2v2h-2zm10 0h2v2h-2zm2 0h2v2h-2zm3 0h2v2h-2zm13 0h2v2h-2zm1 0h2v2h-2zm1 0h2v2h-2zm2 0h2v2h-2zm4 0h2v2h-2zm1 0h2v2h-2zm9 0h2v2h-2zm2 0h2v2h-2zm6 0h2v2h-2zm2 0h2v2h-2zm1 0h2v2h-2zm134 0h2v2h-2zm-284 1h2v2h-2zm34 0h2v2h-2zm61 0h2v2h-2zm11 0h2v2h-2zm7 0h2v2h-2zm7 0h2v2h-2zm1 0h2v2h-2zm5 0h2v2h-2zm2 0h2v2h-2zm4 0h2v2h-2zm2 0h2v2h-2zm2 0h2v2h-2zm10 0h2v2h-2zm1 0h2v2h-2zm2 0h2v2h-2zm53 0h2v2h-2zm40 0h2v2h-2zm-236 1h2v2h-2zm12 0h2v2h-2zm80 0h2v2h-2zm15 0h2v2h-2zm1 0h2v2h-2zm7 0h2v2h-2zm4 0h2v2h-2zm37 0h2v2h-2zm-202 1h2v2h-2zm29 0h2v2h-2zm105 0h2v2h-2zm1 0h2v2h-2zm1 0h2v2h-2zm7 0h2v2h-2zm6 0h2v2h-2zm1 0h2v2h-2zm1 0h2v2h-2zm5 0h2v2h-2zm4 0h2v2h-2zm7 0h2v2h-2zm2 0h2v2h-2zm5 0h2v2h-2zm1 0h2v2h-2zm3 0h2v2h-2zm5 0h2v2h-2zm-167 1h2v2h-2zm116 0h2v2h-2zm6 0h2v2h-2zm3 0h2v2h-2zm5 0h2v2h-2zm2 0h2v2h-2zm2 0h2v2h-2zm1 0h2v2h-2zm5 0h2v2h-2zm2 0h2v2h-2zm3 0h2v2h-2zm3 0h2v2h-2zm5 0h2v2h-2zm2 0h2v2h-2zm3 0h2v2h-2zm8 0h2v2h-2zm4 0h2v2h-2zm-113 1h2v2h-2zm67 0h2v2h-2zm10 0h2v2h-2zm1 0h2v2h-2zm1 0h2v2h-2zm2 0h2v2h-2zm1 0h2v2h-2zm11 0h2v2h-2zm4 0h2v2h-2zm1 0h2v2h-2zm6 0h2v2h-2zm9 0h2v2h-2zm5 0h2v2h-2zm8 0h2v2h-2zm-187 1h2v2h-2zm21 0h2v2h-2zm40 0h2v2h-2zm87 0h2v2h-2zm2 0h2v2h-2zm6 0h2v2h-2zm1 0h2v2h-2zm7 0h2v2h-2zm3 0h2v2h-2zm5 0h2v2h-2zm1 0h2v2h-2zm3 0h2v2h-2zm2 0h2v2h-2zm5 0h2v2h-2zm6 0h2v2h-2zm-202 1h2v2h-2zm15 0h2v2h-2zm11 0h2v2h-2zm120 0h2v2h-2zm1 0h2v2h-2zm12 0h2v2h-2zm16 0h2v2h-2zm1 0h2v2h-2zm1 0h2v2h-2zm1 0h2v2h-2zm9 0h2v2h-2zm2 0h2v2h-2zm-188 1h2v2h-2zm1 0h2v2h-2zm80 0h2v2h-2zm37 0h2v2h-2zm15 0h2v2h-2zm20 0h2v2h-2zm8 0h2v2h-2zm1 0h2v2h-2zm5 0h2v2h-2zm3 0h2v2h-2zm4 0h2v2h-2zm1 0h2v2h-2zm3 0h2v2h-2zm1 0h2v2h-2zm2 0h2v2h-2zm9 0h2v2h-2zm3 0h2v2h-2zm-160 1h2v2h-2zm54 0h2v2h-2zm45 0h2v2h-2zm8 0h2v2h-2zm5 0h2v2h-2zm6 0h2v2h-2zm1 0h2v2h-2zm1 0h2v2h-2zm9 0h2v2h-2zm2 0h2v2h-2zm11 0h2v2h-2zm6 0h2v2h-2zm3 0h2v2h-2zm3 0h2v2h-2zm7 0h2v2h-2zm8 0h2v2h-2zm-203 1h2v2h-2zm9 0h2v2h-2zm6 0h2v2h-2zm8 0h2v2h-2zm109 0h2v2h-2zm11 0h2v2h-2zm15 0h2v2h-2zm4 0h2v2h-2zm1 0h2v2h-2zm2 0h2v2h-2zm2 0h2v2h-2zm2 0h2v2h-2zm3 0h2v2h-2zm4 0h2v2h-2zm3 0h2v2h-2zm3 0h2v2h-2zm6 0h2v2h-2zm1 0h2v2h-2zm-186 1h2v2h-2zm2 0h2v2h-2zm132 0h2v2h-2zm12 0h2v2h-2zm4 0h2v2h-2zm4 0h2v2h-2zm3 0h2v2h-2zm6 0h2v2h-2zm4 0h2v2h-2zm1 0h2v2h-2zm1 0h2v2h-2zm2 0h2v2h-2zm17 0h2v2h-2zm-145 1h2v2h-2zm96 0h2v2h-2zm5 0h2v2h-2zm4 0h2v2h-2zm6 0h2v2h-2zm3 0h2v2h-2zm1 0h2v2h-2zm1 0h2v2h-2zm3 0h2v2h-2zm5 0h2v2h-2zm2 0h2v2h-2zm11 0h2v2h-2zm3 0h2v2h-2zm3 0h2v2h-2zm5 0h2v2h-2zm2 0h2v2h-2zm-122 1h2v2h-2zm49 0h2v2h-2zm24 0h2v2h-2zm2 0h2v2h-2zm2 0h2v2h-2zm2 0h2v2h-2zm2 0h2v2h-2zm2 0h2v2h-2zm6 0h2v2h-2zm1 0h2v2h-2zm8 0h2v2h-2zm6 0h2v2h-2zm5 0h2v2h-2zm1 0h2v2h-2zm65 0h2v2h-2zm-166 1h2v2h-2zm44 0h2v2h-2zm18 0h2v2h-2zm3 0h2v2h-2zm5 0h2v2h-2zm1 0h2v2h-2zm2 0h2v2h-2zm4 0h2v2h-2zm9 0h2v2h-2zm4 0h2v2h-2zm1 0h2v2h-2zm1 0h2v2h-2zm11 0h2v2h-2zm17 0h2v2h-2zm-173 1h2v2h-2zm122 0h2v2h-2zm2 0h2v2h-2zm2 0h2v2h-2zm3 0h2v2h-2zm4 0h2v2h-2zm3 0h2v2h-2zm2 0h2v2h-2zm1 0h2v2h-2zm2 0h2v2h-2zm3 0h2v2h-2zm11 0h2v2h-2zm4 0h2v2h-2zm2 0h2v2h-2zm3 0h2v2h-2zm16 0h2v2h-2zm-202 1h2v2h-2zm67 0h2v2h-2zm63 0h2v2h-2zm5 0h2v2h-2zm4 0h2v2h-2zm1 0h2v2h-2zm5 0h2v2h-2zm8 0h2v2h-2zm18 0h2v2h-2zm3 0h2v2h-2zm2 0h2v2h-2zm15 0h2v2h-2zm-211 1h2v2h-2zm89 0h2v2h-2zm53 0h2v2h-2zm12 0h2v2h-2zm4 0h2v2h-2zm8 0h2v2h-2zm6 0h2v2h-2zm1 0h2v2h-2zm7 0h2v2h-2zm8 0h2v2h-2zm4 0h2v2h-2zm2 0h2v2h-2zm5 0h2v2h-2zm2 0h2v2h-2zm-157 1h2v2h-2zm109 0h2v2h-2zm3 0h2v2h-2zm7 0h2v2h-2zm18 0h2v2h-2zm8 0h2v2h-2zm1 0h2v2h-2zm3 0h2v2h-2zm6 0h2v2h-2zm29 0h2v2h-2zm-157 1h2v2h-2zm6 0h2v2h-2zm62 0h2v2h-2zm12 0h2v2h-2zm9 0h2v2h-2zm5 0h2v2h-2zm8 0h2v2h-2zm4 0h2v2h-2zm10 0h2v2h-2zm12 0h2v2h-2zm7 0h2v2h-2zm-169 1h2v2h-2zm2 0h2v2h-2zm20 0h2v2h-2zm78 0h2v2h-2zm13 0h2v2h-2zm7 0h2v2h-2zm3 0h2v2h-2zm2 0h2v2h-2zm6 0h2v2h-2zm1 0h2v2h-2zm1 0h2v2h-2zm5 0h2v2h-2zm1 0h2v2h-2zm3 0h2v2h-2zm1 0h2v2h-2zm7 0h2v2h-2zm3 0h2v2h-2zm1 0h2v2h-2zm-149 1h2v2h-2zm5 0h2v2h-2zm6 0h2v2h-2zm84 0h2v2h-2zm16 0h2v2h-2zm2 0h2v2h-2zm4 0h2v2h-2zm1 0h2v2h-2zm11 0h2v2h-2zm1 0h2v2h-2zm3 0h2v2h-2zm3 0h2v2h-2zm30 0h2v2h-2zm1 0h2v2h-2zm64 0h2v2h-2zm-271 1h2v2h-2zm50 0h2v2h-2zm96 0h2v2h-2zm18 0h2v2h-2zm2 0h2v2h-2zm3 0h2v2h-2zm2 0h2v2h-2zm1 0h2v2h-2zm2 0h2v2h-2zm2 0h2v2h-2zm1 0h2v2h-2zm1 0h2v2h-2zm2 0h2v2h-2zm10 0h2v2h-2zm113 0h2v2h-2zm-274 1h2v2h-2zm78 0h2v2h-2zm60 0h2v2h-2zm6 0h2v2h-2zm3 0h2v2h-2zm1 0h2v2h-2zm2 0h2v2h-2zm1 0h2v2h-2zm3 0h2v2h-2zm9 0h2v2h-2zm1 0h2v2h-2zm1 0h2v2h-2zm3 0h2v2h-2zm4 0h2v2h-2zm15 0h2v2h-2zm-184 1h2v2h-2zm25 0h2v2h-2zm21 0h2v2h-2zm68 0h2v2h-2zm15 0h2v2h-2zm3 0h2v2h-2zm2 0h2v2h-2zm10 0h2v2h-2zm4 0h2v2h-2zm1 0h2v2h-2zm3 0h2v2h-2zm1 0h2v2h-2zm3 0h2v2h-2zm2 0h2v2h-2zm14 0h2v2h-2zm-186 1h2v2h-2zm18 0h2v2h-2zm6 0h2v2h-2zm31 0h2v2h-2zm1 0h2v2h-2zm65 0h2v2h-2zm14 0h2v2h-2zm5 0h2v2h-2zm3 0h2v2h-2zm2 0h2v2h-2zm2 0h2v2h-2zm11 0h2v2h-2zm2 0h2v2h-2zm4 0h2v2h-2zm4 0h2v2h-2zm22 0h2v2h-2zm153 0h2v2h-2zm-325 1h2v2h-2zm38 0h2v2h-2zm94 0h2v2h-2zm1 0h2v2h-2zm3 0h2v2h-2zm8 0h2v2h-2zm14 0h2v2h-2zm14 0h2v2h-2zm89 0h2v2h-2zm-285 1h2v2h-2zm23 0h2v2h-2zm19 0h2v2h-2zm8 0h2v2h-2zm14 0h2v2h-2zm65 0h2v2h-2zm5 0h2v2h-2zm16 0h2v2h-2zm2 0h2v2h-2zm7 0h2v2h-2zm7 0h2v2h-2zm1 0h2v2h-2zm10 0h2v2h-2zm-146 1h2v2h-2zm69 0h2v2h-2zm28 0h2v2h-2zm14 0h2v2h-2zm3 0h2v2h-2zm2 0h2v2h-2zm2 0h2v2h-2zm1 0h2v2h-2zm2 0h2v2h-2zm1 0h2v2h-2zm2 0h2v2h-2zm2 0h2v2h-2zm3 0h2v2h-2zm3 0h2v2h-2zm3 0h2v2h-2zm1 0h2v2h-2zm5 0h2v2h-2zm12 0h2v2h-2zm9 0h2v2h-2zm2 0h2v2h-2zm11 0h2v2h-2zm-203 1h2v2h-2zm55 0h2v2h-2zm66 0h2v2h-2zm15 0h2v2h-2zm2 0h2v2h-2zm19 0h2v2h-2zm5 0h2v2h-2zm5 0h2v2h-2zm1 0h2v2h-2zm4 0h2v2h-2zm8 0h2v2h-2zm2 0h2v2h-2zm-148 1h2v2h-2zm27 0h2v2h-2zm50 0h2v2h-2zm15 0h2v2h-2zm7 0h2v2h-2zm6 0h2v2h-2zm6 0h2v2h-2zm9 0h2v2h-2zm3 0h2v2h-2zm5 0h2v2h-2zm2 0h2v2h-2zm1 0h2v2h-2zm14 0h2v2h-2zm1 0h2v2h-2zm4 0h2v2h-2zm-155 1h2v2h-2zm45 0h2v2h-2zm4 0h2v2h-2zm34 0h2v2h-2zm17 0h2v2h-2zm7 0h2v2h-2zm6 0h2v2h-2zm8 0h2v2h-2zm1 0h2v2h-2zm3 0h2v2h-2zm7 0h2v2h-2zm6 0h2v2h-2zm3 0h2v2h-2zm3 0h2v2h-2zm5 0h2v2h-2zm3 0h2v2h-2zm21 0h2v2h-2zm-171 1h2v2h-2zm17 0h2v2h-2zm2 0h2v2h-2zm4 0h2v2h-2zm11 0h2v2h-2zm73 0h2v2h-2zm3 0h2v2h-2zm7 0h2v2h-2zm7 0h2v2h-2zm17 0h2v2h-2zm1 0h2v2h-2zm4 0h2v2h-2zm-88 1h2v2h-2zm15 0h2v2h-2zm41 0h2v2h-2zm2 0h2v2h-2zm1 0h2v2h-2zm3 0h2v2h-2zm4 0h2v2h-2zm2 0h2v2h-2zm3 0h2v2h-2zm6 0h2v2h-2zm1 0h2v2h-2zm18 0h2v2h-2zm-160 1h2v2h-2zm46 0h2v2h-2zm10 0h2v2h-2zm57 0h2v2h-2zm2 0h2v2h-2zm10 0h2v2h-2zm6 0h2v2h-2zm1 0h2v2h-2zm1 0h2v2h-2zm1 0h2v2h-2zm3 0h2v2h-2zm4 0h2v2h-2zm5 0h2v2h-2zm19 0h2v2h-2zm2 0h2v2h-2zm15 0h2v2h-2zm-215 1h2v2h-2zm57 0h2v2h-2zm41 0h2v2h-2zm45 0h2v2h-2zm6 0h2v2h-2zm12 0h2v2h-2zm6 0h2v2h-2zm4 0h2v2h-2zm3 0h2v2h-2zm17 0h2v2h-2zm5 0h2v2h-2zm4 0h2v2h-2zm-193 1h2v2h-2zm35 0h2v2h-2zm42 0h2v2h-2zm41 0h2v2h-2zm11 0h2v2h-2zm26 0h2v2h-2zm22 0h2v2h-2zm7 0h2v2h-2zm-152 1h2v2h-2zm7 0h2v2h-2zm17 0h2v2h-2zm1 0h2v2h-2zm21 0h2v2h-2zm85 0h2v2h-2zm5 0h2v2h-2zm11 0h2v2h-2zm1 0h2v2h-2zm5 0h2v2h-2zm2 0h2v2h-2zm41 0h2v2h-2zm-169 1h2v2h-2zm8 0h2v2h-2zm11 0h2v2h-2zm14 0h2v2h-2zm52 0h2v2h-2zm13 0h2v2h-2zm5 0h2v2h-2zm3 0h2v2h-2zm1 0h2v2h-2zm3 0h2v2h-2zm4 0h2v2h-2zm2 0h2v2h-2zm6 0h2v2h-2zm7 0h2v2h-2zm-196 1h2v2h-2zm2 0h2v2h-2zm6 0h2v2h-2zm40 0h2v2h-2zm103 0h2v2h-2zm1 0h2v2h-2zm2 0h2v2h-2zm13 0h2v2h-2zm3 0h2v2h-2zm20 0h2v2h-2zm5 0h2v2h-2zm-183 1h2v2h-2zm28 0h2v2h-2zm15 0h2v2h-2zm5 0h2v2h-2zm63 0h2v2h-2zm6 0h2v2h-2zm24 0h2v2h-2zm6 0h2v2h-2zm6 0h2v2h-2zm7 0h2v2h-2zm1 0h2v2h-2zm3 0h2v2h-2zm6 0h2v2h-2zm12 0h2v2h-2zm-187 1h2v2h-2zm90 0h2v2h-2zm55 0h2v2h-2zm2 0h2v2h-2zm7 0h2v2h-2zm2 0h2v2h-2zm11 0h2v2h-2zm7 0h2v2h-2zm8 0h2v2h-2zm12 0h2v2h-2zm-196 1h2v2h-2zm24 0h2v2h-2zm20 0h2v2h-2zm25 0h2v2h-2zm86 0h2v2h-2zm14 0h2v2h-2zm-169 1h2v2h-2zm28 0h2v2h-2zm80 0h2v2h-2zm38 0h2v2h-2zm2 0h2v2h-2zm6 0h2v2h-2zm8 0h2v2h-2zm2 0h2v2h-2zm7 0h2v2h-2zm3 0h2v2h-2zm2 0h2v2h-2zm5 0h2v2h-2zm2 0h2v2h-2zm-180 1h2v2h-2zm77 0h2v2h-2zm67 0h2v2h-2zm10 0h2v2h-2zm8 0h2v2h-2zm1 0h2v2h-2zm7 0h2v2h-2zm13 0h2v2h-2zm5 0h2v2h-2zm-188 1h2v2h-2zm55 0h2v2h-2zm89 0h2v2h-2zm11 0h2v2h-2zm3 0h2v2h-2zm29 0h2v2h-2zm-188 1h2v2h-2zm19 0h2v2h-2zm25 0h2v2h-2zm6 0h2v2h-2zm11 0h2v2h-2zm81 0h2v2h-2zm14 0h2v2h-2zm3 0h2v2h-2zm7 0h2v2h-2zm3 0h2v2h-2zm2 0h2v2h-2zm20 0h2v2h-2zm16 0h2v2h-2zm-141 1h2v2h-2zm12 0h2v2h-2zm33 0h2v2h-2zm29 0h2v2h-2zm2 0h2v2h-2zm11 0h2v2h-2zm7 0h2v2h-2zm2 0h2v2h-2zm2 0h2v2h-2zm7 0h2v2h-2zm13 0h2v2h-2zm1 0h2v2h-2zm9 0h2v2h-2zm4 0h2v2h-2zm-200 1h2v2h-2zm18 0h2v2h-2zm111 0h2v2h-2zm19 0h2v2h-2zm2 0h2v2h-2zm23 0h2v2h-2zm4 0h2v2h-2zm4 0h2v2h-2zm-148 1h2v2h-2zm53 0h2v2h-2zm62 0h2v2h-2zm26 0h2v2h-2zm2 0h2v2h-2zm4 0h2v2h-2zm1 0h2v2h-2zm2 0h2v2h-2zm9 0h2v2h-2zm-172 1h2v2h-2zm3 0h2v2h-2zm1 0h2v2h-2zm14 0h2v2h-2zm12 0h2v2h-2zm95 0h2v2h-2zm4 0h2v2h-2zm5 0h2v2h-2zm12 0h2v2h-2zm6 0h2v2h-2zm42 0h2v2h-2zm-168 1h2v2h-2zm3 0h2v2h-2zm10 0h2v2h-2zm11 0h2v2h-2zm59 0h2v2h-2zm41 0h2v2h-2zm-146 1h2v2h-2zm27 0h2v2h-2zm23 0h2v2h-2zm99 0h2v2h-2zm29 0h2v2h-2zm114 0h2v2h-2zm-268 1h2v2h-2zm8 0h2v2h-2zm74 0h2v2h-2zm42 0h2v2h-2zm22 0h2v2h-2zm-146 1h2v2h-2zm19 0h2v2h-2zm12 0h2v2h-2zm39 0h2v2h-2zm-112 1h2v2h-2zm2 0h2v2h-2zm31 0h2v2h-2zm19 0h2v2h-2zm2 0h2v2h-2zm3 0h2v2h-2zm10 0h2v2h-2zm22 0h2v2h-2zm218 0h2v2h-2zm43 0h2v2h-2zm-286 1h2v2h-2zm11 0h2v2h-2zm-62 1h2v2h-2zm20 0h2v2h-2zm9 0h2v2h-2zm1 0h2v2h-2zm2 0h2v2h-2zm13 0h2v2h-2zm73 0h2v2h-2zm49 0h2v2h-2zm5 0h2v2h-2zm-205 1h2v2h-2zm11 0h2v2h-2zm32 0h2v2h-2zm6 0h2v2h-2zm9 0h2v2h-2zm17 0h2v2h-2zm3 0h2v2h-2zm45 0h2v2h-2zm-121 1h2v2h-2zm10 0h2v2h-2zm28 0h2v2h-2zm17 0h2v2h-2zm7 0h2v2h-2zm29 0h2v2h-2zm62 0h2v2h-2zm155 0h2v2h-2zm73 0h2v2h-2zm-317 1h2v2h-2zm13 0h2v2h-2zm3 0h2v2h-2zm-29 1h2v2h-2zm10 0h2v2h-2zm34 0h2v2h-2zm-87 1h2v2h-2zm84 0h2v2h-2zm126 0h2v2h-2zm-183 1h2v2h-2zm6 0h2v2h-2zm9 0h2v2h-2zm24 0h2v2h-2zm128 0h2v2h-2zm-140 1h2v2h-2zm30 0h2v2h-2zm109 0h2v2h-2zm53 0h2v2h-2zm-229 1h2v2h-2zm10 0h2v2h-2zm24 0h2v2h-2zm5 0h2v2h-2zm-28 1h2v2h-2zm22 0h2v2h-2zm12 0h2v2h-2zm6 0h2v2h-2zm7 0h2v2h-2zm7 0h2v2h-2zm-60 1h2v2h-2zm5 0h2v2h-2zm4 0h2v2h-2zm2 0h2v2h-2zm3 0h2v2h-2zm6 0h2v2h-2zm15 0h2v2h-2zm3 0h2v2h-2zm4 0h2v2h-2zm26 0h2v2h-2zm21 0h2v2h-2zm88 0h2v2h-2zm3 0h2v2h-2zm21 0h2v2h-2zm-204 1h2v2h-2zm19 0h2v2h-2zm6 0h2v2h-2zm37 0h2v2h-2zm124 0h2v2h-2zm-167 1h2v2h-2zm35 0h2v2h-2zm5 0h2v2h-2zm-74 1h2v2h-2zm19 0h2v2h-2zm19 0h2v2h-2zm7 0h2v2h-2zm8 0h2v2h-2zm6 0h2v2h-2zm21 0h2v2h-2zm2 0h2v2h-2zm1 0h2v2h-2zm28 1h2v2h-2zm80 0h2v2h-2zm-196 1h2v2h-2zm11 0h2v2h-2zm17 0h2v2h-2zm9 0h2v2h-2zm16 0h2v2h-2zm20 0h2v2h-2zm135 0h2v2h-2zm-179 1h2v2h-2zm13 0h2v2h-2zm10 0h2v2h-2zm19 0h2v2h-2zm-62 1h2v2h-2zm32 0h2v2h-2zm5 0h2v2h-2zm19 0h2v2h-2zm132 0h2v2h-2zm6 0h2v2h-2zm-165 1h2v2h-2zm35 0h2v2h-2zm13 0h2v2h-2zm60 0h2v2h-2zm62 0h2v2h-2zm16 0h2v2h-2zm-219 1h2v2h-2zm11 0h2v2h-2zm55 0h2v2h-2zm127 0h2v2h-2zm4 0h2v2h-2zm28 0h2v2h-2zm-219 1h2v2h-2zm12 0h2v2h-2zm17 0h2v2h-2zm16 0h2v2h-2zm10 0h2v2h-2zm12 0h2v2h-2zm25 0h2v2h-2zm107 0h2v2h-2zm-197 1h2v2h-2zm56 0h2v2h-2zm13 0h2v2h-2zm-52 1h2v2h-2zm36 0h2v2h-2zm9 0h2v2h-2zm16 0h2v2h-2zm135 0h2v2h-2zm-209 1h2v2h-2zm1 0h2v2h-2zm37 0h2v2h-2zm2 0h2v2h-2zm17 0h2v2h-2zm20 1h2v2h-2zm44 0h2v2h-2zm-134 1h2v2h-2zm12 0h2v2h-2zm2 0h2v2h-2zm4 0h2v2h-2zm14 0h2v2h-2zm162 0h2v2h-2zm2 0h2v2h-2zm-193 1h2v2h-2zm76 0h2v2h-2zm39 0h2v2h-2zm17 0h2v2h-2zm-115 1h2v2h-2zm70 0h2v2h-2zm21 0h2v2h-2zm20 0h2v2h-2zm8 0h2v2h-2zm2 0h2v2h-2zm-121 1h2v2h-2zm10 0h2v2h-2zm69 0h2v2h-2zm95 0h2v2h-2zm9 0h2v2h-2zm-199 1h2v2h-2zm17 0h2v2h-2zm12 0h2v2h-2zm5 0h2v2h-2zm59 0h2v2h-2zm5 0h2v2h-2zm7 0h2v2h-2zm27 0h2v2h-2zm60 0h2v2h-2zm30 0h2v2h-2zm-196 1h2v2h-2zm168 0h2v2h-2zm9 0h2v2h-2zm15 0h2v2h-2zm-205 1h2v2h-2zm30 0h2v2h-2zm3 0h2v2h-2zm5 0h2v2h-2zm4 0h2v2h-2zm4 0h2v2h-2zm8 0h2v2h-2zm-62 1h2v2h-2zm9 0h2v2h-2zm11 0h2v2h-2zm27 0h2v2h-2zm9 0h2v2h-2zm12 0h2v2h-2zm-30 1h2v2h-2zm1 0h2v2h-2zm32 0h2v2h-2zm10 0h2v2h-2zm121 0h2v2h-2zm7 0h2v2h-2zm-188 1h2v2h-2zm10 0h2v2h-2zm22 0h2v2h-2zm3 0h2v2h-2zm129 0h2v2h-2zm28 0h2v2h-2zm-218 1h2v2h-2zm22 0h2v2h-2zm91 0h2v2h-2zm-91 1h2v2h-2zm28 0h2v2h-2zm29 0h2v2h-2zm53 0h2v2h-2zm66 0h2v2h-2zm-212 1h2v2h-2zm2 0h2v2h-2zm30 0h2v2h-2zm17 0h2v2h-2zm8 0h2v2h-2zm25 0h2v2h-2zm3 0h2v2h-2zm53 0h2v2h-2zm11 0h2v2h-2zm-146 1h2v2h-2zm9 0h2v2h-2zm15 0h2v2h-2zm20 0h2v2h-2zm27 0h2v2h-2zm52 0h2v2h-2zm12 0h2v2h-2zm10 0h2v2h-2zm-150 1h2v2h-2zm25 0h2v2h-2zm1 0h2v2h-2zm15 0h2v2h-2zm37 0h2v2h-2zm3 0h2v2h-2zm-67 1h2v2h-2zm41 0h2v2h-2zm1 0h2v2h-2zm95 0h2v2h-2zm-141 1h2v2h-2zm3 0h2v2h-2zm44 0h2v2h-2zm21 0h2v2h-2zm1 0h2v2h-2zm18 0h2v2h-2zm42 0h2v2h-2zm74 0h2v2h-2zm98 0h2v2h-2zm-267 1h2v2h-2zm30 0h2v2h-2zm47 0h2v2h-2zm5 0h2v2h-2zm14 0h2v2h-2zm3 0h2v2h-2zm69 0h2v2h-2zm16 0h2v2h-2zm-189 1h2v2h-2zm19 0h2v2h-2zm16 0h2v2h-2zm12 0h2v2h-2zm29 0h2v2h-2zm33 0h2v2h-2zm65 0h2v2h-2zm-183 1h2v2h-2zm2 0h2v2h-2zm17 0h2v2h-2zm6 0h2v2h-2zm18 0h2v2h-2zm14 0h2v2h-2zm5 0h2v2h-2zm116 0h2v2h-2zm-194 1h2v2h-2zm12 0h2v2h-2zm11 0h2v2h-2zm27 0h2v2h-2zm1 0h2v2h-2zm1 0h2v2h-2zm2 0h2v2h-2zm9 0h2v2h-2zm24 0h2v2h-2zm4 0h2v2h-2zm113 0h2v2h-2zm-216 1h2v2h-2zm8 0h2v2h-2zm29 0h2v2h-2zm10 0h2v2h-2zm4 0h2v2h-2zm2 0h2v2h-2zm31 0h2v2h-2zm12 0h2v2h-2zm3 0h2v2h-2zm49 0h2v2h-2zm-145 1h2v2h-2zm14 0h2v2h-2zm7 0h2v2h-2zm1 0h2v2h-2zm26 0h2v2h-2zm12 0h2v2h-2zm2 0h2v2h-2zm2 0h2v2h-2zm10 0h2v2h-2zm137 0h2v2h-2zm-133 1h2v2h-2zm14 0h2v2h-2zm30 0h2v2h-2zm21 0h2v2h-2zm-104 1h2v2h-2zm4 0h2v2h-2zm2 0h2v2h-2zm13 0h2v2h-2zm75 0h2v2h-2zm5 0h2v2h-2zm2 0h2v2h-2zm65 0h2v2h-2zm3 0h2v2h-2zm-205 1h2v2h-2zm17 0h2v2h-2zm8 0h2v2h-2zm33 0h2v2h-2zm48 0h2v2h-2zm-43 1h2v2h-2zm3 0h2v2h-2zm57 0h2v2h-2zm101 0h2v2h-2zm50 0h2v2h-2zm-259 1h2v2h-2zm4 0h2v2h-2zm3 0h2v2h-2zm3 0h2v2h-2zm12 0h2v2h-2zm5 0h2v2h-2zm4 0h2v2h-2zm3 0h2v2h-2zm22 0h2v2h-2zm-19 1h2v2h-2zm28 0h2v2h-2zm6 0h2v2h-2zm7 0h2v2h-2zm28 0h2v2h-2zm14 0h2v2h-2zm1 0h2v2h-2zm79 0h2v2h-2zm-194 1h2v2h-2zm20 0h2v2h-2zm15 0h2v2h-2zm2 0h2v2h-2zm23 0h2v2h-2zm5 0h2v2h-2zm113 0h2v2h-2zm-161 1h2v2h-2zm57 0h2v2h-2zm34 0h2v2h-2zm-91 1h2v2h-2zm12 0h2v2h-2zm14 0h2v2h-2zm4 0h2v2h-2zm7 0h2v2h-2zm42 0h2v2h-2zm5 0h2v2h-2zm3 0h2v2h-2zm79 0h2v2h-2zm-153 1h2v2h-2zm5 0h2v2h-2zm16 0h2v2h-2zm3 0h2v2h-2zm137 0h2v2h-2zm114 0h2v2h-2zm-313 1h2v2h-2zm21 0h2v2h-2zm7 0h2v2h-2zm12 0h2v2h-2zm9 0h2v2h-2zm21 0h2v2h-2zm127 0h2v2h-2zm-201 1h2v2h-2zm12 0h2v2h-2zm11 0h2v2h-2zm62 0h2v2h-2zm28 0h2v2h-2zm-105 1h2v2h-2zm24 0h2v2h-2zm3 0h2v2h-2zm17 0h2v2h-2zm69 0h2v2h-2zm3 0h2v2h-2zm66 0h2v2h-2zm-173 1h2v2h-2zm2 0h2v2h-2zm8 0h2v2h-2zm6 0h2v2h-2zm12 0h2v2h-2zm8 0h2v2h-2zm12 0h2v2h-2zm14 0h2v2h-2zm15 0h2v2h-2zm33 0h2v2h-2zm-100 1h2v2h-2zm22 0h2v2h-2zm1 0h2v2h-2zm27 0h2v2h-2zm14 0h2v2h-2zm114 0h2v2h-2zm-210 1h2v2h-2zm36 0h2v2h-2zm27 0h2v2h-2zm27 0h2v2h-2zm131 0h2v2h-2zm-195 1h2v2h-2zm11 0h2v2h-2zm16 0h2v2h-2zm20 0h2v2h-2zm37 0h2v2h-2zm113 0h2v2h-2zm146 0h2v2h-2zm-336 1h2v2h-2zm29 0h2v2h-2zm51 0h2v2h-2zm-120 1h2v2h-2zm26 0h2v2h-2zm11 0h2v2h-2zm18 0h2v2h-2zm2 0h2v2h-2zm155 0h2v2h-2zm21 0h2v2h-2zm-207 1h2v2h-2zm12 0h2v2h-2zm2 0h2v2h-2zm39 0h2v2h-2zm42 0h2v2h-2zm17 0h2v2h-2zm73 0h2v2h-2zm-191 1h2v2h-2zm16 0h2v2h-2zm17 0h2v2h-2zm14 0h2v2h-2zm10 0h2v2h-2zm67 0h2v2h-2zm-142 1h2v2h-2zm39 0h2v2h-2zm14 0h2v2h-2zm285 0h2v2h-2zm-338 1h2v2h-2zm13 0h2v2h-2zm8 0h2v2h-2zm47 0h2v2h-2zm30 0h2v2h-2zm8 0h2v2h-2zm22 0h2v2h-2zm3 0h2v2h-2zm89 0h2v2h-2zm-204 1h2v2h-2zm44 0h2v2h-2zm27 0h2v2h-2zm3 0h2v2h-2zm2 0h2v2h-2zm15 0h2v2h-2zm2 0h2v2h-2zm95 0h2v2h-2zm9 0h2v2h-2zm-208 1h2v2h-2zm52 0h2v2h-2zm241 0h2v2h-2zm-287 1h2v2h-2zm38 0h2v2h-2zm17 0h2v2h-2zm4 0h2v2h-2zm6 0h2v2h-2zm4 0h2v2h-2zm28 0h2v2h-2zm-91 1h2v2h-2zm6 0h2v2h-2zm78 0h2v2h-2zm14 0h2v2h-2zm11 0h2v2h-2zm93 0h2v2h-2zm1 0h2v2h-2zm-220 1h2v2h-2zm38 0h2v2h-2zm19 0h2v2h-2zm42 0h2v2h-2zm-97 1h2v2h-2zm36 0h2v2h-2zm18 0h2v2h-2zm-49 1h2v2h-2zm18 0h2v2h-2zm20 0h2v2h-2zm3 0h2v2h-2zm25 0h2v2h-2zm58 0h2v2h-2zm111 0h2v2h-2zm106 0h2v2h-2zm-352 1h2v2h-2zm39 0h2v2h-2zm11 0h2v2h-2zm5 0h2v2h-2zm32 0h2v2h-2zm27 0h2v2h-2zm29 0h2v2h-2zm-144 1h2v2h-2zm21 0h2v2h-2zm5 0h2v2h-2zm11 0h2v2h-2zm18 0h2v2h-2zm30 0h2v2h-2zm123 0h2v2h-2zm13 0h2v2h-2zm-205 1h2v2h-2zm23 0h2v2h-2zm2 0h2v2h-2zm91 0h2v2h-2zm104 0h2v2h-2zm42 0h2v2h-2zm-241 1h2v2h-2zm72 0h2v2h-2zm-86 1h2v2h-2zm27 0h2v2h-2zm6 0h2v2h-2zm32 0h2v2h-2zm-42 1h2v2h-2zm-15 1h2v2h-2zm16 0h2v2h-2zm3 0h2v2h-2zm85 0h2v2h-2zm2 0h2v2h-2zm-88 1h2v2h-2zm34 0h2v2h-2zm42 0h2v2h-2zm95 0h2v2h-2zm-172 1h2v2h-2zm2 0h2v2h-2zm2 0h2v2h-2zm2 0h2v2h-2zm13 0h2v2h-2zm2 0h2v2h-2zm2 0h2v2h-2zm6 0h2v2h-2zm1 0h2v2h-2zm17 0h2v2h-2zm-94 1h2v2h-2zm50 0h2v2h-2zm18 0h2v2h-2zm43 0h2v2h-2zm31 0h2v2h-2zm-144 1h2v2h-2zm72 0h2v2h-2zm7 0h2v2h-2zm135 0h2v2h-2zm-193 1h2v2h-2zm4 0h2v2h-2zm44 0h2v2h-2zm22 0h2v2h-2zm35 0h2v2h-2zm88 0h2v2h-2zm-201 1h2v2h-2zm18 0h2v2h-2zm9 0h2v2h-2zm103 0h2v2h-2zm70 0h2v2h-2zm-210 1h2v2h-2zm28 0h2v2h-2zm6 0h2v2h-2zm7 0h2v2h-2zm3 0h2v2h-2zm3 0h2v2h-2zm16 0h2v2h-2zm-61 1h2v2h-2zm49 0h2v2h-2zm6 0h2v2h-2zm14 0h2v2h-2zm143 0h2v2h-2zm-202 1h2v2h-2zm10 0h2v2h-2zm18 0h2v2h-2zm18 0h2v2h-2zm1 0h2v2h-2zm10 0h2v2h-2zm1 0h2v2h-2zm8 0h2v2h-2zm41 0h2v2h-2zm96 0h2v2h-2zm-82 1h2v2h-2zm86 0h2v2h-2zm-173 1h2v2h-2zm1 0h2v2h-2zm6 0h2v2h-2zm11 0h2v2h-2zm36 0h2v2h-2zm-96 1h2v2h-2zm33 0h2v2h-2zm4 0h2v2h-2zm14 0h2v2h-2zm17 0h2v2h-2zm5 0h2v2h-2zm3 0h2v2h-2zm-84 1h2v2h-2zm134 0h2v2h-2zm93 0h2v2h-2zm8 0h2v2h-2zm-229 1h2v2h-2zm73 0h2v2h-2zm61 0h2v2h-2zm-126 1h2v2h-2zm10 0h2v2h-2zm18 0h2v2h-2zm3 0h2v2h-2zm14 0h2v2h-2zm16 0h2v2h-2zm141 0h2v2h-2zm9 0h2v2h-2zm-186 1h2v2h-2zm30 0h2v2h-2zm3 0h2v2h-2zm30 0h2v2h-2zm106 0h2v2h-2zm1 0h2v2h-2zm2 0h2v2h-2zm-170 1h2v2h-2zm30 0h2v2h-2zm137 0h2v2h-2zm-158 1h2v2h-2zm7 0h2v2h-2zm8 0h2v2h-2zm49 0h2v2h-2zm25 0h2v2h-2zm-127 1h2v2h-2zm42 0h2v2h-2zm2 0h2v2h-2zm16 0h2v2h-2zm30 0h2v2h-2zm5 0h2v2h-2zm15 0h2v2h-2zm10 0h2v2h-2zm-7 1h2v2h-2zm82 0h2v2h-2zm4 0h2v2h-2zm4 0h2v2h-2zm158 0h2v2h-2zm-359 1h2v2h-2zm16 0h2v2h-2zm25 0h2v2h-2zm16 0h2v2h-2zm156 0h2v2h-2zm-192 1h2v2h-2zm7 0h2v2h-2zm47 0h2v2h-2zm1 0h2v2h-2zm-66 1h2v2h-2zm53 0h2v2h-2zm5 0h2v2h-2zm3 0h2v2h-2zm7 0h2v2h-2zm21 0h2v2h-2zm113 0h2v2h-2zm2 0h2v2h-2zm-200 1h2v2h-2zm16 0h2v2h-2zm4 0h2v2h-2zm1 0h2v2h-2zm4 0h2v2h-2zm65 0h2v2h-2zm27 0h2v2h-2zm-107 1h2v2h-2zm7 0h2v2h-2zm17 0h2v2h-2zm12 0h2v2h-2zm7 0h2v2h-2zm4 0h2v2h-2zm34 0h2v2h-2zm92 0h2v2h-2zm4 0h2v2h-2zm6 0h2v2h-2zm-186 1h2v2h-2zm55 0h2v2h-2zm18 0h2v2h-2zm13 0h2v2h-2zm17 0h2v2h-2zm80 0h2v2h-2zm-168 1h2v2h-2zm9 0h2v2h-2zm5 0h2v2h-2zm9 0h2v2h-2zm18 0h2v2h-2zm10 0h2v2h-2zm43 0h2v2h-2zm-142 1h2v2h-2zm36 0h2v2h-2zm43 0h2v2h-2zm-46 1h2v2h-2zm23 0h2v2h-2zm20 0h2v2h-2zm39 0h2v2h-2zm4 0h2v2h-2zm13 0h2v2h-2zm125 0h2v2h-2zm-204 1h2v2h-2zm61 0h2v2h-2zm98 0h2v2h-2zm37 0h2v2h-2zm99 0h2v2h-2zm-326 1h2v2h-2zm47 0h2v2h-2zm24 0h2v2h-2zm1 0h2v2h-2zm132 0h2v2h-2zm-205 1h2v2h-2zm13 0h2v2h-2zm17 0h2v2h-2zm38 0h2v2h-2zm22 0h2v2h-2zm104 0h2v2h-2zm-185 1h2v2h-2zm28 0h2v2h-2zm2 0h2v2h-2zm40 0h2v2h-2zm109 0h2v2h-2zm66 0h2v2h-2zm-231 1h2v2h-2zm35 0h2v2h-2zm12 0h2v2h-2zm53 0h2v2h-2zm-127 1h2v2h-2zm16 0h2v2h-2zm33 0h2v2h-2zm3 0h2v2h-2zm146 0h2v2h-2zm-212 1h2v2h-2zm17 0h2v2h-2zm26 0h2v2h-2zm6 0h2v2h-2zm16 0h2v2h-2zm16 0h2v2h-2zm10 0h2v2h-2zm5 0h2v2h-2zm43 0h2v2h-2zm74 0h2v2h-2zm4 0h2v2h-2zm-214 1h2v2h-2zm28 0h2v2h-2zm51 0h2v2h-2zm49 0h2v2h-2zm72 0h2v2h-2zm-160 1h2v2h-2zm21 0h2v2h-2zm15 0h2v2h-2zm122 0h2v2h-2zm-189 1h2v2h-2zm53 0h2v2h-2zm18 0h2v2h-2zm36 0h2v2h-2zm-98 1h2v2h-2zm21 0h2v2h-2zm11 0h2v2h-2zm19 0h2v2h-2zm28 0h2v2h-2zm100 0h2v2h-2zm40 0h2v2h-2zm-229 1h2v2h-2zm17 0h2v2h-2zm24 0h2v2h-2zm34 0h2v2h-2zm135 0h2v2h-2zm33 0h2v2h-2zm-254 1h2v2h-2zm17 0h2v2h-2zm9 0h2v2h-2zm10 0h2v2h-2zm3 0h2v2h-2zm69 0h2v2h-2zm32 0h2v2h-2zm70 0h2v2h-2zm10 0h2v2h-2zm-145 1h2v2h-2zm141 0h2v2h-2zm-155 1h2v2h-2zm74 0h2v2h-2zm2 0h2v2h-2zm6 0h2v2h-2zm53 0h2v2h-2zm4 0h2v2h-2zm9 0h2v2h-2zm2 0h2v2h-2zm60 0h2v2h-2zm-220 1h2v2h-2zm56 0h2v2h-2zm-70 1h2v2h-2zm8 0h2v2h-2zm28 0h2v2h-2zm48 0h2v2h-2zm22 0h2v2h-2zm51 0h2v2h-2zm-193 1h2v2h-2zm23 0h2v2h-2zm10 0h2v2h-2zm16 0h2v2h-2zm146 0h2v2h-2zm-159 1h2v2h-2zm22 0h2v2h-2zm1 0h2v2h-2zm12 0h2v2h-2zm60 0h2v2h-2zm71 0h2v2h-2zm-188 1h2v2h-2zm18 0h2v2h-2zm12 0h2v2h-2zm71 0h2v2h-2zm13 0h2v2h-2zm-74 1h2v2h-2zm31 0h2v2h-2zm115 0h2v2h-2zm-178 1h2v2h-2zm5 0h2v2h-2zm10 0h2v2h-2zm19 0h2v2h-2zm8 0h2v2h-2zm23 0h2v2h-2zm111 0h2v2h-2zm8 0h2v2h-2zm3 0h2v2h-2zm-201 1h2v2h-2zm53 0h2v2h-2zm34 0h2v2h-2zm98 0h2v2h-2zm15 0h2v2h-2zm7 0h2v2h-2zm-175 1h2v2h-2zm34 0h2v2h-2zm48 0h2v2h-2zm18 0h2v2h-2zm67 0h2v2h-2zm-202 1h2v2h-2zm6 0h2v2h-2zm27 0h2v2h-2zm30 0h2v2h-2zm125 0h2v2h-2zm-184 1h2v2h-2zm18 0h2v2h-2zm54 0h2v2h-2zm17 0h2v2h-2zm16 0h2v2h-2zm10 0h2v2h-2zm68 0h2v2h-2zm-149 1h2v2h-2zm45 0h2v2h-2zm35 0h2v2h-2zm66 0h2v2h-2zm-196 1h2v2h-2zm14 0h2v2h-2zm85 0h2v2h-2zm51 0h2v2h-2zm56 0h2v2h-2zm-82 1h2v2h-2zm2 0h2v2h-2zm79 0h2v2h-2zm52 0h2v2h-2zm51 0h2v2h-2zm-239 1h2v2h-2zm7 0h2v2h-2zm9 0h2v2h-2zm56 0h2v2h-2zm-75 1h2v2h-2zm68 0h2v2h-2zm23 0h2v2h-2zm54 0h2v2h-2zm-208 1h2v2h-2zm43 0h2v2h-2zm32 0h2v2h-2zm129 0h2v2h-2zm9 0h2v2h-2zm-21 1h2v2h-2zm25 0h2v2h-2zm-209 1h2v2h-2zm30 0h2v2h-2zm12 0h2v2h-2zm104 0h2v2h-2zm36 0h2v2h-2zm42 0h2v2h-2zm-227 1h2v2h-2zm52 0h2v2h-2zm18 0h2v2h-2zm117 0h2v2h-2zm8 0h2v2h-2zm-109 1h2v2h-2zm-88 1h2v2h-2zm17 0h2v2h-2zm45 0h2v2h-2zm40 0h2v2h-2zm43 0h2v2h-2zm45 0h2v2h-2zm-152 1h2v2h-2zm7 0h2v2h-2zm13 0h2v2h-2zm67 0h2v2h-2zm9 0h2v2h-2zm46 0h2v2h-2zm53 0h2v2h-2zm-200 1h2v2h-2zm55 0h2v2h-2zm8 0h2v2h-2zm58 0h2v2h-2zm41 0h2v2h-2zm19 0h2v2h-2zm86 0h2v2h-2zm-190 1h2v2h-2zm32 0h2v2h-2zm15 0h2v2h-2zm19 0h2v2h-2zm-159 1h2v2h-2zm32 0h2v2h-2zm3 0h2v2h-2zm132 0h2v2h-2zm13 0h2v2h-2zm35 0h2v2h-2zm-205 1h2v2h-2zm10 0h2v2h-2zm91 0h2v2h-2zm28 0h2v2h-2zm4 0h2v2h-2zm25 0h2v2h-2zm16 0h2v2h-2zm36 0h2v2h-2zm86 0h2v2h-2zm-317 1h2v2h-2zm45 0h2v2h-2zm42 0h2v2h-2zm29 0h2v2h-2zm14 0h2v2h-2zm26 0h2v2h-2zm8 0h2v2h-2zm-127 1h2v2h-2zm33 0h2v2h-2zm70 0h2v2h-2zm29 0h2v2h-2zm110 0h2v2h-2zm-270 1h2v2h-2zm147 0h2v2h-2zm12 0h2v2h-2zm37 0h2v2h-2zm-196 1h2v2h-2zm42 0h2v2h-2zm98 0h2v2h-2zm21 0h2v2h-2zm19 0h2v2h-2zm186 0h2v2h-2zm-349 1h2v2h-2zm15 0h2v2h-2zm4 0h2v2h-2zm104 0h2v2h-2zm3 0h2v2h-2zm1 0h2v2h-2zm3 0h2v2h-2zm2 0h2v2h-2zm26 0h2v2h-2zm-168 1h2v2h-2zm128 0h2v2h-2zm81 0h2v2h-2zm-202 1h2v2h-2zm29 0h2v2h-2zm54 0h2v2h-2zm26 0h2v2h-2zm8 0h2v2h-2zm1 0h2v2h-2zm2 0h2v2h-2zm45 0h2v2h-2zm-98 1h2v2h-2zm12 0h2v2h-2zm93 0h2v2h-2zm-174 1h2v2h-2zm133 0h2v2h-2zm3 0h2v2h-2zm3 0h2v2h-2zm17 0h2v2h-2zm2 0h2v2h-2zm2 0h2v2h-2zm21 0h2v2h-2zm-167 1h2v2h-2zm106 0h2v2h-2zm12 0h2v2h-2zm13 0h2v2h-2zm17 0h2v2h-2zm3 0h2v2h-2zm11 0h2v2h-2zm17 0h2v2h-2zm-82 1h2v2h-2zm24 0h2v2h-2zm5 0h2v2h-2zm8 0h2v2h-2zm5 0h2v2h-2zm4 0h2v2h-2zm1 0h2v2h-2zm18 0h2v2h-2zm-93 1h2v2h-2zm39 0h2v2h-2zm3 0h2v2h-2zm8 0h2v2h-2zm13 0h2v2h-2zm-134 1h2v2h-2zm170 0h2v2h-2zm-176 1h2v2h-2zm154 0h2v2h-2zm3 0h2v2h-2zm-7 1h2v2h-2zm3 0h2v2h-2zm-103 1h2v2h-2zm46 0h2v2h-2zm48 0h2v2h-2zm8 0h2v2h-2zm3 0h2v2h-2zm8 0h2v2h-2zm72 0h2v2h-2zm-110 1h2v2h-2zm35 0h2v2h-2zm17 0h2v2h-2zm-210 1h2v2h-2zm63 0h2v2h-2zm63 0h2v2h-2zm66 0h2v2h-2zm-30 1h2v2h-2zm5 0h2v2h-2zm133 0h2v2h-2zm-304 1h2v2h-2zm154 0h2v2h-2zm34 0h2v2h-2zm22 0h2v2h-2zm-200 1h2v2h-2zm46 0h2v2h-2zm44 0h2v2h-2zm-61 1h2v2h-2zm62 0h2v2h-2zm155 0h2v2h-2zm-218 1h2v2h-2zm27 0h2v2h-2zm6 0h2v2h-2zm68 0h2v2h-2zm33 0h2v2h-2zm-59 1h2v2h-2zm63 0h2v2h-2zm-125 1h2v2h-2zm10 0h2v2h-2zm-48 1h2v2h-2zm25 0h2v2h-2zm26 0h2v2h-2z" fill="#000"/><path d="M1594 832h3v3h-3zm-54 4h3v3h-3zm-120 10h3v3h-3zm161 2h3v3h-3zm-23 2h3v3h-3zm28 9h3v3h-3zm-27 6h3v3h-3zm-91 1h3v3h-3zm113 0h3v3h-3zm4 0h3v3h-3zm0 6h3v3h-3zm17 0h3v3h-3zm-195 1h3v3h-3zm172 0h3v3h-3zm3 0h3v3h-3zm19 0h3v3h-3zm117 2h3v3h-3zm-132 3h3v3h-3zm-104 1h3v3h-3zm74 2h3v3h-3zm11 1h3v3h-3zm4 0h3v3h-3zm-91 6h3v3h-3zm108 0h3v3h-3zm-13 1h3v3h-3zm8 1h3v3h-3zm-3 1h3v3h-3zm36 0h3v3h-3zm-18 2h3v3h-3zm1 0h3v3h-3zm-33 1h3v3h-3zm21 0h3v3h-3zm-145 1h3v3h-3zm141 0h3v3h-3zm-14 1h3v3h-3zm-15 1h3v3h-3zm7 0h3v3h-3zm12 0h3v3h-3zm4 0h3v3h-3zm-130 1h3v3h-3zm137 1h3v3h-3zm-4 2h3v3h-3zm10 0h3v3h-3zm2 0h3v3h-3zm-24 1h3v3h-3zm18 0h3v3h-3zm3 0h3v3h-3zm-15 1h3v3h-3zm3 0h3v3h-3zm26 0h3v3h-3zm-48 1h3v3h-3zm6 0h3v3h-3zm28 0h3v3h-3zm17 0h3v3h-3zm-48 2h3v3h-3zm13 0h3v3h-3zm4 0h3v3h-3zm2 0h3v3h-3zm8 0h3v3h-3zm7 0h3v3h-3zm28 1h3v3h-3zm-145 2h3v3h-3zm79 0h3v3h-3zm13 0h3v3h-3zm7 0h3v3h-3zm7 0h3v3h-3zm-5 1h3v3h-3zm-10 1h3v3h-3zm7 0h3v3h-3zm4 0h3v3h-3zm14 0h3v3h-3zm3 0h3v3h-3zm6 0h3v3h-3zm-14 1h3v3h-3zm2 0h3v3h-3zm4 0h3v3h-3zm-44 1h3v3h-3zm56 0h3v3h-3zm-34 1h3v3h-3zm15 0h3v3h-3zm16 0h3v3h-3zm-33 1h3v3h-3zm-20 1h3v3h-3zm6 0h3v3h-3zm15 0h3v3h-3zm13 0h3v3h-3zm11 0h3v3h-3zm-26 1h3v3h-3zm6 0h3v3h-3zm8 0h3v3h-3zm1 0h3v3h-3zm7 0h3v3h-3zm-19 1h3v3h-3zm-1 1h3v3h-3zm14 0h3v3h-3zm20 0h3v3h-3zm-27 1h3v3h-3zm8 0h3v3h-3zm1 0h3v3h-3zm2 0h3v3h-3zm17 0h3v3h-3zm-156 1h3v3h-3zm126 0h3v3h-3zm2 0h3v3h-3zm2 0h3v3h-3zm21 0h3v3h-3zm8 0h3v3h-3zm-182 1h3v3h-3zm143 0h3v3h-3zm2 0h3v3h-3zm12 0h3v3h-3zm3 0h3v3h-3zm1 0h3v3h-3zm19 0h3v3h-3zm-169 1h3v3h-3zm143 0h3v3h-3zm6 0h3v3h-3zm2 0h3v3h-3zm7 0h3v3h-3zm-28 1h3v3h-3zm15 0h3v3h-3zm14 0h3v3h-3zm3 0h3v3h-3zm8 0h3v3h-3zm1 0h3v3h-3zm2 0h3v3h-3zm-33 1h3v3h-3zm52 0h3v3h-3zm-73 1h3v3h-3zm14 0h3v3h-3zm3 0h3v3h-3zm-53 1h3v3h-3zm40 0h3v3h-3zm1 0h3v3h-3zm16 0h3v3h-3zm23 0h3v3h-3zm10 0h3v3h-3zm-197 1h3v3h-3zm17 0h3v3h-3zm103 0h3v3h-3zm52 0h3v3h-3zm1 0h3v3h-3zm14 0h3v3h-3zm-183 1h3v3h-3zm139 0h3v3h-3zm16 0h3v3h-3zm5 0h3v3h-3zm1 0h3v3h-3zm2 0h3v3h-3zm7 0h3v3h-3zm6 0h3v3h-3zm14 0h3v3h-3zm-42 1h3v3h-3zm10 0h3v3h-3zm6 0h3v3h-3zm11 0h3v3h-3zm4 0h3v3h-3zm1 0h3v3h-3zm2 0h3v3h-3zm-140 1h3v3h-3zm101 0h3v3h-3zm5 0h3v3h-3zm7 0h3v3h-3zm11 0h3v3h-3zm1 0h3v3h-3zm2 0h3v3h-3zm2 0h3v3h-3zm1 0h3v3h-3zm5 0h3v3h-3zm-17 1h3v3h-3zm8 0h3v3h-3zm13 0h3v3h-3zm14 0h3v3h-3zm-32 1h3v3h-3zm9 0h3v3h-3zm16 0h3v3h-3zm-129 1h3v3h-3zm70 0h3v3h-3zm6 0h3v3h-3zm5 0h3v3h-3zm15 0h3v3h-3zm5 0h3v3h-3zm2 0h3v3h-3zm14 0h3v3h-3zm7 0h3v3h-3zm-90 1h3v3h-3zm45 0h3v3h-3zm28 0h3v3h-3zm1 0h3v3h-3zm4 0h3v3h-3zm1 0h3v3h-3zm7 0h3v3h-3zm6 0h3v3h-3zm5 0h3v3h-3zm-47 1h3v3h-3zm8 0h3v3h-3zm9 0h3v3h-3zm6 0h3v3h-3zm1 0h3v3h-3zm23 0h3v3h-3zm8 0h3v3h-3zm-183 1h3v3h-3zm108 0h3v3h-3zm17 0h3v3h-3zm21 0h3v3h-3zm9 0h3v3h-3zm1 0h3v3h-3zm10 0h3v3h-3zm13 0h3v3h-3zm-56 1h3v3h-3zm22 0h3v3h-3zm8 0h3v3h-3zm4 0h3v3h-3zm11 0h3v3h-3zm5 0h3v3h-3zm-40 1h3v3h-3zm10 0h3v3h-3zm10 0h3v3h-3zm33 0h3v3h-3zm-78 1h3v3h-3zm10 0h3v3h-3zm11 0h3v3h-3zm4 0h3v3h-3zm11 0h3v3h-3zm11 0h3v3h-3zm2 0h3v3h-3zm11 0h3v3h-3zm3 0h3v3h-3zm2 0h3v3h-3zm164 0h3v3h-3zm-217 1h3v3h-3zm15 0h3v3h-3zm3 0h3v3h-3zm19 0h3v3h-3zm3 0h3v3h-3zm7 0h3v3h-3zm16 0h3v3h-3zm-74 1h3v3h-3zm32 0h3v3h-3zm-116 1h3v3h-3zm31 0h3v3h-3zm82 0h3v3h-3zm5 0h3v3h-3zm2 0h3v3h-3zm6 0h3v3h-3zm5 0h3v3h-3zm7 0h3v3h-3zm-31 1h3v3h-3zm2 0h3v3h-3zm14 0h3v3h-3zm7 0h3v3h-3zm1 0h3v3h-3zm1 0h3v3h-3zm9 0h3v3h-3zm8 0h3v3h-3zm1 0h3v3h-3zm-44 1h3v3h-3zm8 0h3v3h-3zm3 0h3v3h-3zm4 0h3v3h-3zm1 0h3v3h-3zm2 0h3v3h-3zm-118 1h3v3h-3zm104 0h3v3h-3zm15 0h3v3h-3zm-145 1h3v3h-3zm128 0h3v3h-3zm17 0h3v3h-3zm-15 1h3v3h-3zm6 0h3v3h-3zm16 0h3v3h-3zm-21 1h3v3h-3zm4 0h3v3h-3zm2 0h3v3h-3zm4 0h3v3h-3zm5 0h3v3h-3zm4 0h3v3h-3zm9 0h3v3h-3zm-71 1h3v3h-3zm29 0h3v3h-3zm3 0h3v3h-3zm2 0h3v3h-3zm20 0h3v3h-3zm1 0h3v3h-3zm23 0h3v3h-3zm-66 1h3v3h-3zm35 0h3v3h-3zm7 0h3v3h-3zm4 0h3v3h-3zm9 0h3v3h-3zm3 0h3v3h-3zm1 0h3v3h-3zm-17 1h3v3h-3zm22 0h3v3h-3zm3 0h3v3h-3zm-141 1h3v3h-3zm98 0h3v3h-3zm26 0h3v3h-3zm9 0h3v3h-3zm-169 1h3v3h-3zm28 0h3v3h-3zm133 0h3v3h-3zm13 0h3v3h-3zm-174 1h3v3h-3zm30 0h3v3h-3zm105 0h3v3h-3zm33 0h3v3h-3zm7 0h3v3h-3zm6 0h3v3h-3zm-32 1h3v3h-3zm16 0h3v3h-3zm16 0h3v3h-3zm5 0h3v3h-3zm-50 1h3v3h-3zm3 0h3v3h-3zm6 0h3v3h-3zm12 0h3v3h-3zm2 0h3v3h-3zm25 0h3v3h-3zm-67 1h3v3h-3zm42 0h3v3h-3zm3 0h3v3h-3zm-42 1h3v3h-3zm4 0h3v3h-3zm27 0h3v3h-3zm3 0h3v3h-3zm4 0h3v3h-3zm4 0h3v3h-3zm2 0h3v3h-3zm-23 1h3v3h-3zm17 0h3v3h-3zm-138 1h3v3h-3zm105 0h3v3h-3zm28 0h3v3h-3zm7 0h3v3h-3zm15 0h3v3h-3zm-17 1h3v3h-3zm3 0h3v3h-3zm42 1h3v3h-3zm-161 1h3v3h-3zm117 0h3v3h-3zm8 0h3v3h-3zm7 1h3v3h-3zm-33 1h3v3h-3zm21 0h3v3h-3zm11 0h3v3h-3zm6 0h3v3h-3zm7 0h3v3h-3zm-195 1h3v3h-3zm148 0h3v3h-3zm5 0h3v3h-3zm10 0h3v3h-3zm12 0h3v3h-3zm13 0h3v3h-3zm56 0h3v3h-3zm-103 1h3v3h-3zm9 0h3v3h-3zm22 0h3v3h-3zm2 0h3v3h-3zm-18 1h3v3h-3zm11 0h3v3h-3zm21 0h3v3h-3zm-157 1h3v3h-3zm130 0h3v3h-3zm44 0h3v3h-3zm-193 1h3v3h-3zm41 0h3v3h-3zm84 0h3v3h-3zm8 0h3v3h-3zm-145 1h3v3h-3zm4 0h3v3h-3zm17 0h3v3h-3zm98 1h3v3h-3zm22 0h3v3h-3zm29 0h3v3h-3zm1 0h3v3h-3zm-131 1h3v3h-3zm99 0h3v3h-3zm24 0h3v3h-3zm-118 1h3v3h-3zm94 0h3v3h-3zm11 0h3v3h-3zm1 0h3v3h-3zm-131 1h3v3h-3zm51 0h3v3h-3zm72 0h3v3h-3zm28 0h3v3h-3zm-109 1h3v3h-3zm-2 2h3v3h-3zm130 0h3v3h-3zm-176 2h3v3h-3zm111 0h3v3h-3zm-68 1h3v3h-3zm49 0h3v3h-3zm34 0h3v3h-3zm50 0h3v3h-3zm-170 1h3v3h-3zm194 0h3v3h-3zm-178 1h3v3h-3zm-35 1h3v3h-3zm38 1h3v3h-3zm36 2h3v3h-3zm-60 1h3v3h-3zm11 1h3v3h-3zm115 0h3v3h-3zm-50 1h3v3h-3zm101 0h3v3h-3zm-6 2h3v3h-3zm-179 1h3v3h-3zm131 0h3v3h-3zm2 0h3v3h-3zm-124 1h3v3h-3zm-12 1h3v3h-3zm31 0h3v3h-3zm-7 1h3v3h-3zm9 0h3v3h-3zm29 0h3v3h-3zm73 1h3v3h-3zm-66 1h3v3h-3zm117 0h3v3h-3zm-145 2h3v3h-3zm39 0h3v3h-3zm31 0h3v3h-3zm22 0h3v3h-3zm-114 1h3v3h-3zm100 0h3v3h-3zm65 0h3v3h-3zm8 0h3v3h-3zm-122 2h3v3h-3zm121 1h3v3h-3zm-61 1h3v3h-3zm-17 2h3v3h-3zm-101 2h3v3h-3zm27 0h3v3h-3zm-16 2h3v3h-3zm167 0h3v3h-3zm-155 1h3v3h-3zm82 0h3v3h-3zm-112 1h3v3h-3zm18 1h3v3h-3zm90 0h3v3h-3zm78 0h3v3h-3zm-148 2h3v3h-3zm148 0h3v3h-3zm-143 1h3v3h-3zm80 0h3v3h-3zm-80 1h3v3h-3zm153 0h3v3h-3zm0 1h3v3h-3zm-152 1h3v3h-3zm44 0h3v3h-3zm-42 2h3v3h-3zm36 0h3v3h-3zm-7 1h3v3h-3zm28 1h3v3h-3zm85 0h3v3h-3zm-187 1h3v3h-3zm27 0h3v3h-3zm9 0h3v3h-3zm68 0h3v3h-3zm-67 1h3v3h-3zm-13 1h3v3h-3zm173 0h3v3h-3zm-193 1h3v3h-3zm14 0h3v3h-3zm90 0h3v3h-3zm87 1h3v3h-3zm-193 1h3v3h-3zm46 0h3v3h-3zm145 1h3v3h-3zm-164 1h3v3h-3zm89 0h3v3h-3zm66 0h3v3h-3zm5 0h3v3h-3zm13 0h3v3h-3zm-168 2h3v3h-3zm148 1h3v3h-3zm-154 1h3v3h-3zm74 0h3v3h-3zm-80 3h3v3h-3zm6 0h3v3h-3zm14 1h3v3h-3zm157 0h3v3h-3zm-94 1h3v3h-3zm79 0h3v3h-3zm15 0h3v3h-3zm-191 1h3v3h-3zm16 1h3v3h-3zm166 0h3v3h-3zm6 0h3v3h-3zm-161 1h3v3h-3zm86 0h3v3h-3zm73 1h3v3h-3zm16 0h3v3h-3zm-219 2h3v3h-3zm8 0h3v3h-3zm193 2h3v3h-3zm-101 1h3v3h-3zm29 0h3v3h-3zm-74 1h3v3h-3zm137 1h3v3h-3zm-124 2h3v3h-3zm132 2h3v3h-3zm21 0h3v3h-3zm-186 1h3v3h-3zm93 0h3v3h-3zm2 0h3v3h-3zm61 0h3v3h-3zm1 3h3v3h-3zm1 2h3v3h-3zm55 0h3v3h-3zm-251 2h3v3h-3zm42 1h3v3h-3zm154 0h3v3h-3zm2 0h3v3h-3zm1 0h3v3h-3zm107 0h3v3h-3zm-302 1h3v3h-3zm14 0h3v3h-3zm17 0h3v3h-3zm98 0h3v3h-3zm-77 1h3v3h-3zm158 0h3v3h-3zm5 1h3v3h-3zm-220 2h3v3h-3zm26 0h3v3h-3zm188 1h3v3h-3zm-175 1h3v3h-3zm21 0h3v3h-3zm16 0h3v3h-3zm-52 1h3v3h-3zm7 0h3v3h-3zm105 0h3v3h-3zm68 2h3v3h-3zm-192 1h3v3h-3zm122 0h3v3h-3zm-141 1h3v3h-3zm15 0h3v3h-3zm46 1h3v3h-3zm169 1h3v3h-3zm-135 1h3v3h-3zm10 1h3v3h-3zm13 1h3v3h-3zm89 0h3v3h-3zm8 0h3v3h-3zm-171 2h3v3h-3zm169 0h3v3h-3zm-212 1h3v3h-3zm79 0h3v3h-3zm57 0h3v3h-3zm90 2h3v3h-3zm-153 1h3v3h-3zm-34 2h3v3h-3zm180 0h3v3h-3zm-153 3h3v3h-3zm132 0h3v3h-3zm-95 2h3v3h-3zm27 1h3v3h-3zm-103 1h3v3h-3zm213 0h3v3h-3zm-192 1h3v3h-3zm152 1h3v3h-3zm16 0h3v3h-3zm10 0h3v3h-3zm-194 1h3v3h-3zm43 1h3v3h-3zm-72 1h3v3h-3zm201 1h3v3h-3zm-192 1h3v3h-3zm42 1h3v3h-3zm20 0h3v3h-3zm13 0h3v3h-3zm116 0h3v3h-3zm-6 1h3v3h-3zm-144 2h3v3h-3zm88 0h3v3h-3zm-140 1h3v3h-3zm34 0h3v3h-3zm94 0h3v3h-3zm3 0h3v3h-3zm8 1h3v3h-3zm60 0h3v3h-3zm-2 2h3v3h-3zm-162 2h3v3h-3zm12 0h3v3h-3zm-37 1h3v3h-3zm101 2h3v3h-3zm81 1h3v3h-3zm9 0h3v3h-3zm12 0h3v3h-3zm-86 1h3v3h-3zm107 0h3v3h-3zm-212 1h3v3h-3zm182 2h3v3h-3zm-171 1h3v3h-3zm17 0h3v3h-3zm159 0h3v3h-3zm-159 1h3v3h-3zm90 0h3v3h-3zm-92 1h3v3h-3zm95 3h3v3h-3zm7 0h3v3h-3zm44 0h3v3h-3zm18 0h3v3h-3zm-100 1h3v3h-3zm41 1h3v3h-3zm6 1h3v3h-3zm6 1h3v3h-3zm25 0h3v3h-3zm11 0h3v3h-3zm-179 1h3v3h-3zm148 0h3v3h-3zm19 0h3v3h-3zm43 0h3v3h-3zm-91 1h3v3h-3zm38 2h3v3h-3zm-184 1h3v3h-3zm155 0h3v3h-3zm20 0h3v3h-3zm-134 1h3v3h-3zm135 0h3v3h-3zm53 1h3v3h-3zm-75 1h3v3h-3zm35 1h3v3h-3zm2 0h3v3h-3zm-111 1h3v3h-3zm82 1h3v3h-3zm10 0h3v3h-3zm15 1h3v3h-3zm31 1h3v3h-3zm-145 1h3v3h-3zm97 1h3v3h-3zm-42 2h3v3h-3zm28 4h3v3h-3zm2 1h3v3h-3zm-112 4h3v3h-3zm127 0h3v3h-3z" fill="#000"/></g>
<path d="M1398.9 726.8H1968.7V1235.8H1398.9Z M1630 726.8V1235.8 M1398.9 914.3H1968.7" fill="none" stroke="#2a2a2a" stroke-width="2.4"/>
<path d="M1375.2 738.1H1398.9M1375.2 787.9H1398.9M1375.2 837.7H1398.9M1375.2 887.4H1398.9M1375.2 937.2H1398.9M1375.2 987.0H1398.9M1375.2 1036.7H1398.9M1375.2 1086.5H1398.9M1375.2 1136.3H1398.9M1375.2 1186.0H1398.9M1375.2 1235.8H1398.9" stroke="#1a1a1a" stroke-width="2.8"/>
<path d="M1438.5 1235.8v11.3M1463.7 1235.8v11.3M1481.6 1235.8v11.3M1495.5 1235.8v11.3M1506.9 1235.8v11.3M1516.5 1235.8v11.3M1524.8 1235.8v11.3M1532.1 1235.8v11.3M1581.8 1235.8v11.3M1607.1 1235.8v11.3M1625.0 1235.8v11.3M1638.9 1235.8v11.3M1650.2 1235.8v11.3M1659.8 1235.8v11.3M1668.1 1235.8v11.3M1675.4 1235.8v11.3M1725.2 1235.8v11.3M1750.4 1235.8v11.3M1768.3 1235.8v11.3M1782.2 1235.8v11.3M1793.6 1235.8v11.3M1803.1 1235.8v11.3M1811.5 1235.8v11.3M1818.8 1235.8v11.3M1868.5 1235.8v11.3M1893.7 1235.8v11.3M1911.7 1235.8v11.3M1925.5 1235.8v11.3M1936.9 1235.8v11.3M1946.5 1235.8v11.3M1954.8 1235.8v11.3M1962.1 1235.8v11.3" stroke="#1a1a1a" stroke-width="3"/>
<path d="M1538.7 1235.8v19.6M1682.0 1235.8v19.6M1825.4 1235.8v19.6M1968.7 1235.8v19.6" stroke="#1a1a1a" stroke-width="3"/>
<text x="1527.8" y="1276.5" font-size="26.8" fill="#111" stroke="#111" stroke-width="1.5" textLength="26.8" lengthAdjust="spacingAndGlyphs">10</text>
<text x="1557.7" y="1266.7" font-size="20.1" fill="#111" stroke="#111" stroke-width="1">0</text>
<text x="1671.2" y="1276.5" font-size="26.8" fill="#111" stroke="#111" stroke-width="1.5" textLength="26.8" lengthAdjust="spacingAndGlyphs">10</text>
<text x="1701.1" y="1266.7" font-size="20.1" fill="#111" stroke="#111" stroke-width="1">1</text>
<text x="1814.5" y="1276.5" font-size="26.8" fill="#111" stroke="#111" stroke-width="1.5" textLength="26.8" lengthAdjust="spacingAndGlyphs">10</text>
<text x="1844.4" y="1266.7" font-size="20.1" fill="#111" stroke="#111" stroke-width="1">2</text>
<text x="1957.9" y="1276.5" font-size="26.8" fill="#111" stroke="#111" stroke-width="1.5" textLength="26.8" lengthAdjust="spacingAndGlyphs">10</text>
<text x="1987.8" y="1266.7" font-size="20.1" fill="#111" stroke="#111" stroke-width="1">3</text>
<text transform="scale(0.89,1)" x="1571.0" y="756.7" font-size="32.5" font-weight="bold" fill="#111">A1</text>
<text transform="scale(0.89,1)" x="1831.2" y="756.7" font-size="32.5" font-weight="bold" fill="#111">A2</text>
<text transform="scale(0.89,1)" x="1571.0" y="944.2" font-size="32.5" font-weight="bold" fill="#111">A3</text>
<text transform="scale(0.89,1)" x="1831.2" y="944.2" font-size="32.5" font-weight="bold" fill="#111">A4</text>
<text transform="scale(0.9,1)" x="1627.2" y="780.0" font-size="48.59" font-weight="normal" textLength="151.7" lengthAdjust="spacing" fill="#111" stroke="#111" stroke-width="1.1">3.83%</text>
<text transform="scale(0.9,1)" x="2002.7" y="785.4" font-size="47.75" font-weight="normal" textLength="150.7" lengthAdjust="spacing" fill="#111" stroke="#111" stroke-width="1.1">0.48%</text>
<text transform="scale(0.9,1)" x="1577.8" y="1202.6" font-size="48.73" font-weight="normal" textLength="182.7" lengthAdjust="spacing" fill="#111" stroke="#111" stroke-width="1.1">94.60%</text>
<text transform="scale(0.9,1)" x="2011.6" y="1202.6" font-size="48.73" font-weight="normal" textLength="152.9" lengthAdjust="spacing" fill="#111" stroke="#111" stroke-width="1.1">1.09%</text>
<text x="1522.9" y="704.8" font-size="45.14" font-weight="normal" textLength="88.7" lengthAdjust="spacingAndGlyphs" fill="#111" stroke="#111" stroke-width="1.4">New</text>
<text x="1623.8" y="705.5" font-size="47.89" font-weight="bold" textLength="195.3" lengthAdjust="spacingAndGlyphs" fill="#111">WSSJD</text>
<path d="M313.8 1371V1990.3M309.6 1990.3H1902.5" fill="none" stroke="#111" stroke-width="3.2"/>
<path d="M313.8 1990.3h12M313.8 1867.1h12M313.8 1743.9h12M313.8 1620.7h12M313.8 1497.5h12M313.8 1374.3h12" stroke="#111" stroke-width="2.4"/>
<path d="M578.6 1990.3V1980.3M843.4 1990.3V1980.3M1107.4 1990.3V1980.3M1371.6 1990.3V1980.3M1638.2 1990.3V1980.3M1901.3 1990.3V1980.3" stroke="#111" stroke-width="2"/>
<path d="M391.7 1990.3V1550.8H496.8V1990.3" fill="#fff" stroke="#111" stroke-width="3.6"/>
<path d="M444.8 1550.8V1455.3M438.3 1455.3h13" stroke="#111" stroke-width="3.4"/>
<path d="M658.1 1990.3V1585.4H764.3V1990.3" fill="#fff" stroke="#111" stroke-width="3.6"/>
<path d="M710.1 1585.4V1524.9M703.6 1524.9h13" stroke="#111" stroke-width="3.4"/>
<path d="M922.3 1990.3V1801.3H1028.2V1990.3" fill="#fff" stroke="#111" stroke-width="3.6"/>
<path d="M975.8 1801.3V1736.2M969.3 1736.2h13" stroke="#111" stroke-width="3.4"/>
<path d="M1186.5 1990.3V1769.2H1292.4V1990.3" fill="#fff" stroke="#111" stroke-width="3.6"/>
<path d="M1239.3 1769.2V1618.5M1232.8 1618.5h13" stroke="#111" stroke-width="3.4"/>
<path d="M1451 1990.3V1617.3H1557.4V1990.3" fill="#fff" stroke="#111" stroke-width="3.6"/>
<path d="M1505.4 1617.3V1560.6M1498.9 1560.6h13" stroke="#111" stroke-width="3.4"/>
<path d="M1717.1 1990.3V1604.1H1822.2V1990.3" fill="#fff" stroke="#111" stroke-width="3.6"/>
<path d="M1770.1 1604.1V1536M1763.6 1536h13" stroke="#111" stroke-width="3.4"/>
<text x="228.7" y="2003.6" font-size="41.41" font-weight="normal" textLength="46.7" lengthAdjust="spacingAndGlyphs" fill="#111" stroke="#111" stroke-width="1.4">80</text>
<text x="228.5" y="1880.4" font-size="41.41" font-weight="normal" textLength="46.7" lengthAdjust="spacingAndGlyphs" fill="#111" stroke="#111" stroke-width="1.4">84</text>
<text x="228.9" y="1757.2" font-size="41.41" font-weight="normal" textLength="46.7" lengthAdjust="spacingAndGlyphs" fill="#111" stroke="#111" stroke-width="1.4">88</text>
<text x="229.4" y="1634.0" font-size="41.41" font-weight="normal" textLength="46.7" lengthAdjust="spacingAndGlyphs" fill="#111" stroke="#111" stroke-width="1.4">92</text>
<text x="228.9" y="1510.8" font-size="41.41" font-weight="normal" textLength="46.7" lengthAdjust="spacingAndGlyphs" fill="#111" stroke="#111" stroke-width="1.4">96</text>
<text x="204.7" y="1387.6" font-size="41.41" font-weight="normal" textLength="70.9" lengthAdjust="spacingAndGlyphs" fill="#111" stroke="#111" stroke-width="1.4">100</text>
<text x="358.7" y="2075.7" font-size="41.63" font-weight="bold" textLength="158.6" lengthAdjust="spacing" fill="#111">Control</text>
<text x="652.2" y="2075.5" font-size="41.83" font-weight="bold" textLength="128.8" lengthAdjust="spacing" fill="#111">DMSO</text>
<text x="930.8" y="2075.5" font-size="41.83" font-weight="bold" textLength="84.6" lengthAdjust="spacing" fill="#111">CsA</text>
<text x="1166.9" y="2075.5" font-size="41.83" font-weight="bold" textLength="58.5" lengthAdjust="spacing" fill="#111">CC</text>
<text x="1375.2" y="2074.2" font-size="40.70" font-weight="bold" textLength="152.1" lengthAdjust="spacing" fill="#111">WSSJD</text>
<text x="1634.5" y="2073.5" font-size="39.29" font-weight="normal" textLength="93.0" lengthAdjust="spacingAndGlyphs" fill="#111" stroke="#111" stroke-width="1.4">New</text>
<text x="1739.7" y="2074.2" font-size="40.70" font-weight="bold" textLength="150.1" lengthAdjust="spacing" fill="#111">WSSJD</text>
<text x="118.5" y="1385.2" font-size="57.97" font-weight="bold" textLength="40.0" lengthAdjust="spacingAndGlyphs" fill="#111">B</text>
<path d="M977 1674.8V1702.8M964.9 1681.8L989.1 1695.8M989.1 1681.8L964.9 1695.8" stroke="#111" stroke-width="3.4"/>
<path d="M1241 1552.2V1580.2M1228.9 1559.2L1253.1 1573.2M1253.1 1559.2L1228.9 1573.2" stroke="#111" stroke-width="3.4"/>
<path d="M1499.9 1493.1V1530.2M1514.5 1493.1V1530.2M1494.1 1504.2H1520.3M1494.1 1519.8H1520.3" stroke="#111" stroke-width="3.6"/>
<path d="M1733.4 1460.2V1497.3M1748.1 1460.2V1497.3M1727.7 1471.3H1753.8M1727.7 1486.9H1753.8" stroke="#111" stroke-width="3.6"/>
<path d="M1784.4 1460.5L1763.5 1494.5H1806.5Z" fill="none" stroke="#111" stroke-width="3.4" stroke-linejoin="miter"/>
<text transform="translate(191.4,1847) rotate(-90)" font-size="43" font-weight="bold" fill="#111" textLength="320" lengthAdjust="spacingAndGlyphs">Live sperms (%)</text>
</svg></body></html>
